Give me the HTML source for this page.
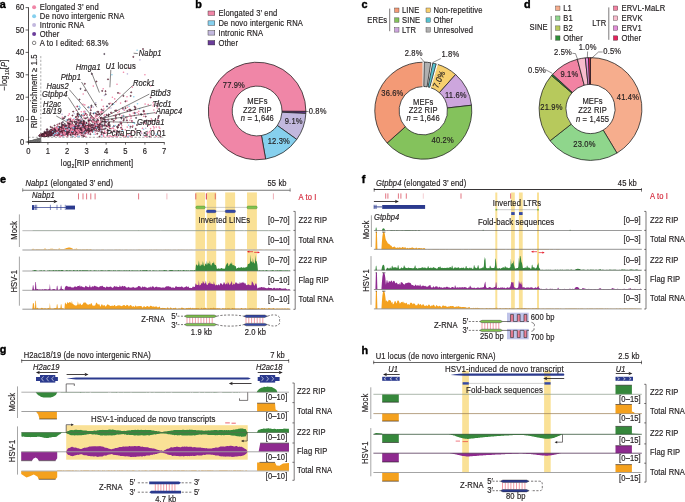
<!DOCTYPE html>
<html><head><meta charset="utf-8"><style>
html,body{margin:0;padding:0;background:#fff;width:685px;height:502px;overflow:hidden}
svg{display:block;will-change:transform;font-family:"Liberation Sans",sans-serif}
</style></head><body>
<svg width="685" height="502" viewBox="0 0 685 502">
<rect width="685" height="502" fill="#fff"/>
<text x="-0.30" y="7.90" font-size="10.8" font-weight="bold" fill="#000" stroke="#000" stroke-width="0.4">a</text>
<text x="195.20" y="7.70" font-size="10.8" font-weight="bold" fill="#000" stroke="#000" stroke-width="0.4">b</text>
<text x="361.60" y="7.70" font-size="10.8" font-weight="bold" fill="#000" stroke="#000" stroke-width="0.4">c</text>
<text x="524.00" y="7.70" font-size="10.8" font-weight="bold" fill="#000" stroke="#000" stroke-width="0.4">d</text>
<text x="-0.10" y="182.80" font-size="10.8" font-weight="bold" fill="#000" stroke="#000" stroke-width="0.4">e</text>
<text x="361.80" y="182.50" font-size="10.8" font-weight="bold" fill="#000" stroke="#000" stroke-width="0.4">f</text>
<text x="-0.20" y="353.40" font-size="10.8" font-weight="bold" fill="#000" stroke="#000" stroke-width="0.4">g</text>
<text x="361.60" y="354.20" font-size="10.8" font-weight="bold" fill="#000" stroke="#000" stroke-width="0.4">h</text>
<circle cx="34.10" cy="7.30" r="2.00" fill="#f086a7" stroke="none" stroke-width="0"/>
<text x="39.80" y="10.30" font-size="7.6" text-anchor="start" fill="#231f20" stroke="#231f20" stroke-width="0.16" letter-spacing="0.15" transform="matrix(1 0 0 1.12 0 -1.236)">Elongated 3’ end</text>
<circle cx="34.10" cy="16.20" r="2.00" fill="#86d0ee" stroke="none" stroke-width="0"/>
<text x="39.80" y="19.20" font-size="7.6" text-anchor="start" fill="#231f20" stroke="#231f20" stroke-width="0.16" letter-spacing="0.15" transform="matrix(1 0 0 1.12 0 -2.304)">De novo intergenic RNA</text>
<circle cx="34.10" cy="25.10" r="2.00" fill="#c2b8de" stroke="none" stroke-width="0"/>
<text x="39.80" y="28.10" font-size="7.6" text-anchor="start" fill="#231f20" stroke="#231f20" stroke-width="0.16" letter-spacing="0.15" transform="matrix(1 0 0 1.12 0 -3.372)">Intronic RNA</text>
<circle cx="34.10" cy="34.00" r="2.00" fill="#6b3d9b" stroke="none" stroke-width="0"/>
<text x="39.80" y="37.00" font-size="7.6" text-anchor="start" fill="#231f20" stroke="#231f20" stroke-width="0.16" letter-spacing="0.15" transform="matrix(1 0 0 1.12 0 -4.440)">Other</text>
<circle cx="34.10" cy="42.90" r="1.75" fill="none" stroke="#231f20" stroke-width="0.55"/>
<text x="39.80" y="45.90" font-size="7.6" text-anchor="start" fill="#231f20" stroke="#231f20" stroke-width="0.16" letter-spacing="0.15" transform="matrix(1 0 0 1.12 0 -5.508)">A to I edited: 68.3%</text>
<style>.g{r:0.65px;fill:#8a8a8a;stroke:#555;stroke-width:0.25px}.ep,.eb,.el,.eu{r:0.58px;stroke:#3a1624;stroke-width:0.6px}.ep{fill:#c86a88}.eb{fill:#6aa8c4}.el{fill:#a89ac0}.eu{fill:#6b3d9b}.np,.nb,.nl,.nu{r:0.8px}.np{fill:#f086a7}.nb{fill:#86d0ee}.nl{fill:#c2b8de}.nu{fill:#6b3d9b}</style>
<g><circle class="g" cx="38.2" cy="139.6"/><circle class="g" cx="34.7" cy="141.4"/><circle class="g" cx="29.1" cy="141.9"/><circle class="g" cx="33.4" cy="141.9"/><circle class="g" cx="29.1" cy="141.8"/><circle class="g" cx="36.3" cy="141.4"/><circle class="g" cx="33.7" cy="140.5"/><circle class="g" cx="39.3" cy="139.2"/><circle class="g" cx="33.2" cy="141.3"/><circle class="g" cx="36.6" cy="141.8"/><circle class="g" cx="35.2" cy="141.4"/><circle class="g" cx="39.1" cy="141.7"/><circle class="g" cx="36.7" cy="139.9"/><circle class="g" cx="31.2" cy="141.3"/><circle class="g" cx="39.0" cy="141.8"/><circle class="g" cx="37.0" cy="141.9"/><circle class="g" cx="34.6" cy="141.2"/><circle class="g" cx="30.9" cy="141.7"/><circle class="g" cx="38.2" cy="141.0"/><circle class="g" cx="30.3" cy="141.6"/><circle class="g" cx="33.9" cy="140.7"/><circle class="g" cx="31.3" cy="141.7"/><circle class="g" cx="38.1" cy="140.5"/><circle class="g" cx="34.6" cy="141.5"/><circle class="g" cx="28.7" cy="142.0"/><circle class="g" cx="29.5" cy="141.7"/><circle class="g" cx="32.9" cy="140.7"/><circle class="g" cx="33.3" cy="140.6"/><circle class="g" cx="35.2" cy="141.5"/><circle class="g" cx="37.4" cy="140.2"/><circle class="g" cx="36.7" cy="140.8"/><circle class="g" cx="31.2" cy="141.5"/><circle class="g" cx="29.8" cy="141.7"/><circle class="g" cx="36.1" cy="141.1"/><circle class="g" cx="38.1" cy="141.4"/><circle class="g" cx="33.2" cy="140.9"/><circle class="g" cx="33.1" cy="141.0"/><circle class="g" cx="35.9" cy="139.9"/><circle class="g" cx="40.4" cy="139.4"/><circle class="g" cx="38.2" cy="141.5"/><circle class="g" cx="37.1" cy="139.8"/><circle class="g" cx="33.3" cy="141.2"/><circle class="g" cx="34.3" cy="140.3"/><circle class="g" cx="32.3" cy="141.5"/><circle class="g" cx="28.5" cy="142.0"/><circle class="g" cx="36.1" cy="139.9"/><circle class="g" cx="39.6" cy="140.8"/><circle class="g" cx="40.4" cy="141.2"/><circle class="g" cx="38.4" cy="141.4"/><circle class="g" cx="33.4" cy="141.8"/><circle class="g" cx="38.8" cy="139.4"/><circle class="g" cx="30.2" cy="141.7"/><circle class="g" cx="31.6" cy="141.5"/><circle class="g" cx="35.2" cy="141.7"/><circle class="g" cx="38.9" cy="141.0"/><circle class="g" cx="33.9" cy="141.8"/><circle class="g" cx="28.5" cy="142.0"/><circle class="g" cx="32.6" cy="140.9"/><circle class="g" cx="39.2" cy="140.4"/><circle class="g" cx="34.0" cy="140.9"/><circle class="g" cx="38.8" cy="140.9"/><circle class="g" cx="38.0" cy="140.8"/><circle class="g" cx="35.6" cy="140.4"/><circle class="g" cx="34.5" cy="140.7"/><circle class="g" cx="36.9" cy="141.9"/><circle class="g" cx="29.0" cy="142.0"/><circle class="g" cx="31.1" cy="141.8"/><circle class="g" cx="29.1" cy="142.0"/><circle class="g" cx="35.7" cy="140.1"/><circle class="g" cx="32.7" cy="141.5"/><circle class="g" cx="33.5" cy="141.0"/><circle class="g" cx="37.9" cy="139.3"/><circle class="g" cx="33.0" cy="141.0"/><circle class="g" cx="32.6" cy="141.0"/><circle class="g" cx="31.3" cy="141.3"/><circle class="g" cx="34.6" cy="140.7"/><circle class="g" cx="34.9" cy="141.3"/><circle class="g" cx="34.4" cy="141.8"/><circle class="g" cx="29.0" cy="141.9"/><circle class="g" cx="34.2" cy="140.6"/><circle class="g" cx="28.7" cy="142.0"/><circle class="g" cx="34.4" cy="140.9"/><circle class="g" cx="37.3" cy="140.6"/><circle class="g" cx="35.3" cy="141.0"/><circle class="g" cx="35.9" cy="141.4"/><circle class="g" cx="35.1" cy="140.6"/><circle class="g" cx="30.8" cy="141.3"/><circle class="g" cx="37.5" cy="139.4"/><circle class="g" cx="32.0" cy="141.5"/><circle class="g" cx="31.6" cy="141.9"/><circle class="g" cx="28.7" cy="142.0"/><circle class="g" cx="38.9" cy="141.4"/><circle class="g" cx="36.8" cy="141.3"/><circle class="g" cx="29.3" cy="141.9"/><circle class="g" cx="36.7" cy="140.7"/><circle class="g" cx="35.1" cy="141.1"/><circle class="g" cx="31.8" cy="141.5"/><circle class="g" cx="39.6" cy="141.2"/><circle class="g" cx="37.3" cy="141.3"/><circle class="g" cx="30.8" cy="141.8"/><circle class="g" cx="29.6" cy="141.7"/><circle class="g" cx="32.9" cy="141.7"/><circle class="g" cx="28.5" cy="142.0"/><circle class="g" cx="31.1" cy="141.7"/><circle class="g" cx="35.7" cy="139.9"/><circle class="g" cx="39.2" cy="141.1"/><circle class="g" cx="35.9" cy="140.0"/><circle class="g" cx="29.7" cy="141.7"/><circle class="g" cx="33.3" cy="140.9"/><circle class="g" cx="32.4" cy="141.3"/><circle class="g" cx="34.6" cy="141.7"/><circle class="g" cx="37.6" cy="139.7"/><circle class="g" cx="34.3" cy="141.3"/><circle class="g" cx="39.9" cy="140.6"/><circle class="g" cx="39.1" cy="140.6"/><circle class="g" cx="33.0" cy="141.5"/><circle class="g" cx="29.2" cy="141.9"/><circle class="g" cx="31.3" cy="141.9"/><circle class="g" cx="35.0" cy="141.1"/><circle class="g" cx="28.8" cy="142.0"/><circle class="g" cx="39.6" cy="141.4"/><circle class="g" cx="33.0" cy="140.7"/><circle class="g" cx="29.9" cy="141.8"/><circle class="g" cx="38.1" cy="141.8"/><circle class="g" cx="29.3" cy="141.8"/><circle class="g" cx="36.7" cy="141.3"/><circle class="g" cx="34.3" cy="141.5"/><circle class="g" cx="39.2" cy="138.9"/><circle class="g" cx="29.4" cy="141.9"/><circle class="g" cx="30.7" cy="141.7"/><circle class="g" cx="37.4" cy="140.1"/><circle class="g" cx="30.8" cy="141.8"/><circle class="g" cx="33.6" cy="141.4"/><circle class="g" cx="36.7" cy="140.0"/><circle class="g" cx="32.5" cy="141.4"/><circle class="g" cx="29.3" cy="141.9"/><circle class="g" cx="39.9" cy="140.2"/><circle class="g" cx="35.2" cy="140.8"/><circle class="g" cx="35.3" cy="140.3"/><circle class="g" cx="31.6" cy="141.7"/><circle class="g" cx="39.2" cy="140.3"/><circle class="g" cx="40.0" cy="141.4"/><circle class="g" cx="37.9" cy="140.6"/><circle class="g" cx="34.2" cy="140.5"/><circle class="g" cx="30.1" cy="141.7"/><circle class="g" cx="31.5" cy="141.7"/><circle class="g" cx="38.3" cy="140.8"/><circle class="g" cx="37.9" cy="141.9"/><circle class="g" cx="40.5" cy="138.5"/><circle class="g" cx="36.7" cy="141.4"/><circle class="g" cx="36.4" cy="141.5"/><circle class="g" cx="33.0" cy="141.9"/><circle class="g" cx="29.3" cy="142.0"/><circle class="g" cx="30.7" cy="141.4"/><circle class="g" cx="31.4" cy="141.3"/><circle class="g" cx="28.6" cy="142.0"/><circle class="g" cx="29.2" cy="141.8"/><circle class="g" cx="38.3" cy="141.8"/><circle class="g" cx="39.7" cy="141.1"/><circle class="g" cx="31.7" cy="141.4"/><circle class="g" cx="31.0" cy="141.3"/><circle class="g" cx="32.9" cy="141.2"/><circle class="g" cx="35.4" cy="141.4"/><circle class="g" cx="37.3" cy="139.4"/><circle class="g" cx="35.7" cy="141.7"/><circle class="g" cx="38.2" cy="140.0"/><circle class="g" cx="34.4" cy="140.8"/><circle class="g" cx="31.6" cy="141.7"/><circle class="g" cx="34.7" cy="141.8"/><circle class="g" cx="35.6" cy="141.5"/><circle class="g" cx="31.6" cy="141.2"/><circle class="g" cx="35.6" cy="141.4"/><circle class="g" cx="36.9" cy="139.5"/><circle class="g" cx="39.3" cy="139.4"/><circle class="g" cx="32.5" cy="141.3"/><circle class="g" cx="35.5" cy="141.7"/><circle class="g" cx="36.8" cy="140.7"/><circle class="g" cx="34.8" cy="140.6"/><circle class="g" cx="29.4" cy="141.9"/><circle class="g" cx="40.4" cy="140.8"/><circle class="g" cx="31.6" cy="141.9"/><circle class="g" cx="32.3" cy="141.3"/><circle class="g" cx="29.0" cy="142.0"/><circle class="g" cx="31.6" cy="141.8"/><circle class="g" cx="38.0" cy="139.2"/><circle class="g" cx="39.5" cy="140.5"/><circle class="g" cx="29.3" cy="141.9"/><circle class="g" cx="34.8" cy="141.2"/><circle class="g" cx="37.3" cy="140.0"/><circle class="g" cx="39.3" cy="140.4"/><circle class="g" cx="31.4" cy="141.2"/><circle class="g" cx="39.1" cy="141.5"/><circle class="g" cx="31.0" cy="141.5"/><circle class="g" cx="38.4" cy="139.1"/><circle class="g" cx="28.8" cy="142.0"/><circle class="g" cx="33.6" cy="141.1"/><circle class="g" cx="37.9" cy="140.4"/><circle class="g" cx="34.7" cy="141.5"/><circle class="g" cx="36.3" cy="140.6"/><circle class="g" cx="39.9" cy="141.2"/><circle class="g" cx="30.0" cy="141.8"/><circle class="g" cx="32.4" cy="141.4"/><circle class="g" cx="30.6" cy="141.6"/><circle class="g" cx="38.4" cy="141.9"/><circle class="g" cx="39.4" cy="141.6"/><circle class="g" cx="32.2" cy="141.4"/><circle class="g" cx="33.6" cy="141.6"/><circle class="g" cx="37.3" cy="139.8"/><circle class="g" cx="31.2" cy="141.8"/><circle class="g" cx="34.7" cy="141.7"/><circle class="g" cx="39.8" cy="139.1"/><circle class="g" cx="38.5" cy="140.7"/><circle class="g" cx="38.0" cy="140.8"/><circle class="g" cx="34.0" cy="141.8"/><circle class="g" cx="29.0" cy="141.9"/><circle class="g" cx="30.8" cy="141.3"/><circle class="g" cx="35.3" cy="140.8"/><circle class="g" cx="39.3" cy="141.0"/><circle class="g" cx="28.6" cy="142.0"/><circle class="g" cx="34.0" cy="141.7"/><circle class="g" cx="31.9" cy="141.2"/><circle class="g" cx="33.0" cy="141.5"/><circle class="g" cx="31.3" cy="141.5"/><circle class="g" cx="40.5" cy="141.3"/><circle class="g" cx="38.6" cy="139.6"/><circle class="g" cx="35.7" cy="140.8"/><circle class="g" cx="34.8" cy="141.7"/><circle class="g" cx="35.3" cy="140.0"/><circle class="g" cx="37.3" cy="140.7"/><circle class="g" cx="33.8" cy="140.6"/><circle class="g" cx="28.6" cy="142.0"/><circle class="g" cx="40.0" cy="139.7"/><circle class="g" cx="38.5" cy="140.4"/><circle class="g" cx="29.0" cy="141.9"/><circle class="g" cx="36.1" cy="141.7"/><circle class="g" cx="34.3" cy="140.4"/><circle class="g" cx="29.2" cy="142.0"/><circle class="g" cx="29.7" cy="141.7"/><circle class="g" cx="39.2" cy="141.4"/><circle class="g" cx="38.7" cy="141.2"/><circle class="g" cx="35.0" cy="140.5"/><circle class="g" cx="29.9" cy="141.8"/><circle class="g" cx="38.9" cy="140.8"/><circle class="g" cx="38.1" cy="140.6"/><circle class="g" cx="39.8" cy="140.6"/><circle class="g" cx="38.4" cy="141.7"/><circle class="g" cx="32.6" cy="141.8"/><circle class="g" cx="33.4" cy="141.4"/><circle class="g" cx="31.4" cy="141.6"/><circle class="g" cx="36.7" cy="140.5"/><circle class="g" cx="31.4" cy="141.4"/><circle class="g" cx="37.0" cy="140.9"/><circle class="g" cx="34.0" cy="141.7"/><circle class="g" cx="38.5" cy="140.9"/><circle class="g" cx="32.0" cy="141.0"/><circle class="g" cx="32.2" cy="141.7"/><circle class="g" cx="33.1" cy="141.3"/><circle class="g" cx="35.9" cy="141.1"/><circle class="g" cx="36.7" cy="141.9"/><circle class="g" cx="39.6" cy="140.4"/><circle class="eb" cx="45.8" cy="135.0"/><circle class="ep" cx="88.6" cy="131.9"/><circle class="ep" cx="53.4" cy="134.3"/><circle class="ep" cx="59.4" cy="134.6"/><circle class="ep" cx="56.4" cy="130.8"/><circle class="eb" cx="84.5" cy="129.7"/><circle class="eb" cx="57.1" cy="134.7"/><circle class="el" cx="52.8" cy="135.0"/><circle class="eu" cx="93.2" cy="127.2"/><circle class="ep" cx="95.2" cy="124.6"/><circle class="eb" cx="39.7" cy="135.8"/><circle class="eb" cx="65.1" cy="131.9"/><circle class="ep" cx="52.7" cy="133.6"/><circle class="ep" cx="43.0" cy="135.5"/><circle class="ep" cx="67.2" cy="132.5"/><circle class="ep" cx="57.0" cy="131.4"/><circle class="ep" cx="73.6" cy="129.5"/><circle class="ep" cx="44.3" cy="134.3"/><circle class="ep" cx="48.0" cy="134.8"/><circle class="np" cx="50.0" cy="134.7"/><circle class="eb" cx="42.5" cy="135.3"/><circle class="ep" cx="80.6" cy="128.0"/><circle class="ep" cx="48.0" cy="134.3"/><circle class="eb" cx="75.4" cy="130.2"/><circle class="ep" cx="43.1" cy="135.5"/><circle class="ep" cx="109.2" cy="126.5"/><circle class="eb" cx="40.8" cy="135.0"/><circle class="ep" cx="81.3" cy="129.5"/><circle class="ep" cx="45.0" cy="133.5"/><circle class="np" cx="57.8" cy="130.9"/><circle class="ep" cx="95.5" cy="128.9"/><circle class="ep" cx="47.6" cy="134.5"/><circle class="eb" cx="55.2" cy="133.6"/><circle class="ep" cx="90.1" cy="128.9"/><circle class="ep" cx="49.5" cy="134.0"/><circle class="np" cx="61.7" cy="134.3"/><circle class="ep" cx="41.7" cy="135.3"/><circle class="ep" cx="50.0" cy="134.6"/><circle class="el" cx="46.7" cy="134.3"/><circle class="ep" cx="81.5" cy="131.1"/><circle class="ep" cx="63.4" cy="132.9"/><circle class="ep" cx="78.6" cy="132.2"/><circle class="ep" cx="60.8" cy="130.3"/><circle class="el" cx="85.5" cy="123.6"/><circle class="ep" cx="46.3" cy="133.2"/><circle class="ep" cx="53.5" cy="133.1"/><circle class="ep" cx="61.8" cy="131.6"/><circle class="el" cx="58.6" cy="133.9"/><circle class="el" cx="46.8" cy="134.9"/><circle class="ep" cx="59.4" cy="132.9"/><circle class="ep" cx="72.2" cy="129.3"/><circle class="ep" cx="57.9" cy="133.7"/><circle class="eb" cx="82.7" cy="128.6"/><circle class="np" cx="44.7" cy="135.4"/><circle class="ep" cx="45.0" cy="134.7"/><circle class="el" cx="96.2" cy="127.1"/><circle class="nb" cx="42.5" cy="135.2"/><circle class="np" cx="100.6" cy="126.7"/><circle class="ep" cx="60.6" cy="132.7"/><circle class="np" cx="45.6" cy="134.0"/><circle class="ep" cx="83.9" cy="128.0"/><circle class="ep" cx="77.5" cy="115.2"/><circle class="ep" cx="53.1" cy="133.1"/><circle class="nb" cx="49.3" cy="132.0"/><circle class="ep" cx="52.4" cy="133.6"/><circle class="ep" cx="61.8" cy="134.3"/><circle class="eb" cx="55.3" cy="134.5"/><circle class="ep" cx="101.7" cy="131.3"/><circle class="el" cx="53.6" cy="132.6"/><circle class="np" cx="45.5" cy="135.5"/><circle class="ep" cx="44.9" cy="132.6"/><circle class="ep" cx="80.7" cy="131.2"/><circle class="ep" cx="67.2" cy="130.2"/><circle class="ep" cx="56.7" cy="133.4"/><circle class="ep" cx="76.2" cy="132.7"/><circle class="el" cx="55.3" cy="132.6"/><circle class="ep" cx="69.9" cy="128.7"/><circle class="ep" cx="42.2" cy="135.2"/><circle class="ep" cx="58.7" cy="132.3"/><circle class="ep" cx="92.2" cy="128.2"/><circle class="np" cx="47.4" cy="133.8"/><circle class="ep" cx="53.1" cy="131.7"/><circle class="ep" cx="44.9" cy="133.6"/><circle class="ep" cx="68.8" cy="123.6"/><circle class="nb" cx="39.5" cy="136.0"/><circle class="ep" cx="82.2" cy="124.8"/><circle class="el" cx="51.3" cy="135.0"/><circle class="np" cx="60.9" cy="130.1"/><circle class="ep" cx="52.2" cy="133.5"/><circle class="el" cx="47.6" cy="133.6"/><circle class="eb" cx="87.0" cy="132.1"/><circle class="ep" cx="53.2" cy="133.4"/><circle class="ep" cx="86.1" cy="129.5"/><circle class="ep" cx="48.8" cy="133.8"/><circle class="ep" cx="88.4" cy="123.8"/><circle class="ep" cx="59.3" cy="135.0"/><circle class="ep" cx="59.6" cy="132.8"/><circle class="np" cx="80.7" cy="130.8"/><circle class="eb" cx="60.8" cy="132.7"/><circle class="np" cx="56.9" cy="132.7"/><circle class="ep" cx="54.7" cy="134.9"/><circle class="ep" cx="52.8" cy="133.6"/><circle class="ep" cx="61.6" cy="133.5"/><circle class="np" cx="66.8" cy="127.9"/><circle class="ep" cx="76.2" cy="125.5"/><circle class="ep" cx="47.2" cy="133.8"/><circle class="ep" cx="58.6" cy="133.3"/><circle class="eb" cx="53.4" cy="134.2"/><circle class="ep" cx="49.7" cy="132.1"/><circle class="ep" cx="41.0" cy="135.6"/><circle class="ep" cx="51.1" cy="133.4"/><circle class="ep" cx="70.3" cy="131.2"/><circle class="ep" cx="51.2" cy="133.7"/><circle class="eb" cx="57.7" cy="132.4"/><circle class="ep" cx="47.4" cy="133.9"/><circle class="ep" cx="71.5" cy="130.7"/><circle class="ep" cx="47.9" cy="132.5"/><circle class="ep" cx="41.2" cy="135.5"/><circle class="ep" cx="73.0" cy="130.9"/><circle class="eb" cx="45.0" cy="135.3"/><circle class="eb" cx="48.6" cy="133.7"/><circle class="ep" cx="46.5" cy="134.9"/><circle class="el" cx="78.1" cy="124.3"/><circle class="eb" cx="70.5" cy="128.6"/><circle class="np" cx="59.5" cy="132.8"/><circle class="ep" cx="49.0" cy="131.8"/><circle class="el" cx="50.3" cy="133.5"/><circle class="ep" cx="45.9" cy="134.7"/><circle class="ep" cx="70.5" cy="130.7"/><circle class="ep" cx="51.0" cy="130.9"/><circle class="ep" cx="43.6" cy="134.2"/><circle class="np" cx="50.5" cy="134.3"/><circle class="nb" cx="42.3" cy="135.0"/><circle class="np" cx="57.8" cy="132.3"/><circle class="ep" cx="43.8" cy="135.4"/><circle class="ep" cx="101.0" cy="126.5"/><circle class="ep" cx="99.3" cy="127.7"/><circle class="el" cx="61.0" cy="132.2"/><circle class="eb" cx="78.8" cy="132.6"/><circle class="ep" cx="68.4" cy="131.7"/><circle class="ep" cx="50.9" cy="133.8"/><circle class="ep" cx="79.2" cy="131.3"/><circle class="ep" cx="84.3" cy="127.0"/><circle class="ep" cx="56.4" cy="132.4"/><circle class="ep" cx="43.4" cy="135.4"/><circle class="ep" cx="54.4" cy="132.5"/><circle class="el" cx="53.6" cy="133.6"/><circle class="ep" cx="61.7" cy="128.9"/><circle class="el" cx="52.7" cy="134.1"/><circle class="ep" cx="56.9" cy="134.5"/><circle class="ep" cx="54.5" cy="134.2"/><circle class="ep" cx="74.7" cy="128.6"/><circle class="nb" cx="67.1" cy="132.2"/><circle class="ep" cx="60.8" cy="130.7"/><circle class="np" cx="51.0" cy="134.2"/><circle class="ep" cx="62.9" cy="133.9"/><circle class="ep" cx="40.9" cy="135.8"/><circle class="ep" cx="75.8" cy="117.1"/><circle class="ep" cx="77.1" cy="132.4"/><circle class="ep" cx="81.8" cy="131.5"/><circle class="ep" cx="62.2" cy="126.8"/><circle class="ep" cx="58.3" cy="133.9"/><circle class="ep" cx="43.6" cy="134.9"/><circle class="ep" cx="68.4" cy="129.1"/><circle class="ep" cx="47.4" cy="134.6"/><circle class="ep" cx="64.8" cy="131.0"/><circle class="ep" cx="68.8" cy="127.6"/><circle class="el" cx="78.6" cy="129.3"/><circle class="ep" cx="52.1" cy="132.9"/><circle class="ep" cx="58.5" cy="131.4"/><circle class="el" cx="43.6" cy="135.3"/><circle class="ep" cx="58.1" cy="131.3"/><circle class="np" cx="76.9" cy="128.7"/><circle class="el" cx="62.2" cy="131.0"/><circle class="ep" cx="50.5" cy="132.1"/><circle class="np" cx="74.4" cy="121.5"/><circle class="ep" cx="48.0" cy="135.2"/><circle class="ep" cx="53.4" cy="132.9"/><circle class="ep" cx="60.2" cy="134.3"/><circle class="el" cx="43.1" cy="135.2"/><circle class="ep" cx="50.4" cy="133.8"/><circle class="nl" cx="46.8" cy="134.6"/><circle class="ep" cx="44.0" cy="135.3"/><circle class="ep" cx="63.8" cy="131.1"/><circle class="ep" cx="42.6" cy="135.0"/><circle class="ep" cx="101.2" cy="122.5"/><circle class="el" cx="63.1" cy="131.6"/><circle class="np" cx="40.9" cy="135.6"/><circle class="ep" cx="57.7" cy="131.6"/><circle class="ep" cx="42.9" cy="134.4"/><circle class="ep" cx="70.0" cy="129.3"/><circle class="ep" cx="65.0" cy="130.7"/><circle class="ep" cx="44.5" cy="135.5"/><circle class="ep" cx="57.5" cy="130.6"/><circle class="el" cx="42.2" cy="135.7"/><circle class="ep" cx="64.9" cy="132.4"/><circle class="ep" cx="47.2" cy="133.8"/><circle class="ep" cx="50.5" cy="134.2"/><circle class="ep" cx="49.0" cy="132.5"/><circle class="np" cx="61.9" cy="131.5"/><circle class="ep" cx="53.7" cy="134.2"/><circle class="ep" cx="59.4" cy="131.8"/><circle class="ep" cx="84.0" cy="129.9"/><circle class="ep" cx="47.3" cy="134.6"/><circle class="np" cx="56.1" cy="134.0"/><circle class="ep" cx="55.3" cy="135.0"/><circle class="nb" cx="49.0" cy="132.5"/><circle class="ep" cx="75.4" cy="132.2"/><circle class="ep" cx="45.0" cy="135.5"/><circle class="el" cx="59.4" cy="135.2"/><circle class="ep" cx="66.0" cy="133.9"/><circle class="ep" cx="59.4" cy="133.3"/><circle class="ep" cx="41.7" cy="135.7"/><circle class="eb" cx="69.6" cy="131.9"/><circle class="ep" cx="49.9" cy="133.2"/><circle class="ep" cx="52.8" cy="133.8"/><circle class="ep" cx="66.2" cy="128.1"/><circle class="ep" cx="43.2" cy="135.1"/><circle class="el" cx="47.1" cy="135.1"/><circle class="eb" cx="70.4" cy="129.0"/><circle class="ep" cx="64.4" cy="132.9"/><circle class="ep" cx="58.7" cy="132.8"/><circle class="eb" cx="74.5" cy="133.3"/><circle class="ep" cx="48.2" cy="133.7"/><circle class="ep" cx="95.9" cy="129.2"/><circle class="eb" cx="90.7" cy="129.3"/><circle class="ep" cx="51.9" cy="133.7"/><circle class="el" cx="61.2" cy="131.2"/><circle class="eb" cx="62.6" cy="134.7"/><circle class="ep" cx="83.0" cy="125.2"/><circle class="ep" cx="70.7" cy="129.9"/><circle class="np" cx="68.9" cy="123.4"/><circle class="ep" cx="40.7" cy="135.6"/><circle class="ep" cx="62.2" cy="133.8"/><circle class="ep" cx="69.6" cy="130.3"/><circle class="ep" cx="69.0" cy="128.6"/><circle class="np" cx="58.8" cy="131.2"/><circle class="ep" cx="44.2" cy="134.3"/><circle class="ep" cx="58.7" cy="130.7"/><circle class="ep" cx="54.4" cy="133.7"/><circle class="np" cx="60.2" cy="133.3"/><circle class="el" cx="65.3" cy="128.2"/><circle class="ep" cx="44.0" cy="135.0"/><circle class="eb" cx="69.6" cy="131.9"/><circle class="el" cx="47.8" cy="134.2"/><circle class="ep" cx="77.7" cy="127.3"/><circle class="ep" cx="45.9" cy="135.2"/><circle class="ep" cx="45.2" cy="133.0"/><circle class="ep" cx="45.6" cy="135.0"/><circle class="ep" cx="111.1" cy="112.5"/><circle class="ep" cx="51.0" cy="134.1"/><circle class="el" cx="45.6" cy="134.7"/><circle class="ep" cx="65.7" cy="129.7"/><circle class="eb" cx="47.3" cy="134.6"/><circle class="np" cx="63.4" cy="130.5"/><circle class="ep" cx="55.0" cy="133.3"/><circle class="eb" cx="74.5" cy="130.3"/><circle class="ep" cx="71.2" cy="133.1"/><circle class="eb" cx="67.6" cy="125.1"/><circle class="ep" cx="66.5" cy="131.2"/><circle class="ep" cx="58.9" cy="133.8"/><circle class="ep" cx="58.7" cy="133.1"/><circle class="np" cx="42.5" cy="134.8"/><circle class="ep" cx="52.7" cy="133.8"/><circle class="ep" cx="61.2" cy="132.2"/><circle class="ep" cx="45.2" cy="134.4"/><circle class="el" cx="62.2" cy="129.9"/><circle class="ep" cx="56.7" cy="130.5"/><circle class="ep" cx="70.4" cy="132.8"/><circle class="ep" cx="43.1" cy="134.8"/><circle class="ep" cx="59.0" cy="133.7"/><circle class="ep" cx="79.0" cy="128.8"/><circle class="eb" cx="55.4" cy="130.3"/><circle class="eb" cx="60.7" cy="131.6"/><circle class="ep" cx="67.7" cy="120.1"/><circle class="ep" cx="50.1" cy="133.8"/><circle class="ep" cx="55.3" cy="130.3"/><circle class="ep" cx="45.3" cy="134.8"/><circle class="ep" cx="45.5" cy="135.6"/><circle class="ep" cx="67.9" cy="132.6"/><circle class="ep" cx="74.8" cy="128.9"/><circle class="ep" cx="48.3" cy="133.4"/><circle class="ep" cx="67.7" cy="134.7"/><circle class="ep" cx="41.8" cy="135.6"/><circle class="ep" cx="56.2" cy="132.3"/><circle class="ep" cx="48.7" cy="134.0"/><circle class="ep" cx="41.9" cy="135.5"/><circle class="nb" cx="41.9" cy="135.7"/><circle class="ep" cx="47.9" cy="134.5"/><circle class="ep" cx="63.7" cy="125.8"/><circle class="ep" cx="83.6" cy="125.8"/><circle class="ep" cx="66.1" cy="131.5"/><circle class="ep" cx="42.0" cy="135.8"/><circle class="ep" cx="66.6" cy="133.2"/><circle class="ep" cx="46.4" cy="134.8"/><circle class="ep" cx="61.6" cy="123.0"/><circle class="ep" cx="58.8" cy="131.9"/><circle class="nl" cx="56.3" cy="132.7"/><circle class="ep" cx="51.0" cy="131.3"/><circle class="eb" cx="94.1" cy="120.8"/><circle class="ep" cx="59.9" cy="133.0"/><circle class="ep" cx="61.4" cy="130.2"/><circle class="nb" cx="78.0" cy="127.6"/><circle class="ep" cx="61.7" cy="134.4"/><circle class="ep" cx="51.6" cy="133.4"/><circle class="ep" cx="52.1" cy="132.8"/><circle class="eb" cx="49.5" cy="134.6"/><circle class="ep" cx="67.9" cy="129.1"/><circle class="eb" cx="44.7" cy="135.3"/><circle class="ep" cx="72.6" cy="127.2"/><circle class="ep" cx="55.8" cy="133.9"/><circle class="el" cx="69.8" cy="122.1"/><circle class="ep" cx="48.7" cy="135.3"/><circle class="ep" cx="108.7" cy="114.4"/><circle class="ep" cx="74.1" cy="128.7"/><circle class="ep" cx="73.0" cy="129.1"/><circle class="el" cx="46.9" cy="135.2"/><circle class="ep" cx="40.3" cy="135.7"/><circle class="eb" cx="62.8" cy="132.2"/><circle class="ep" cx="48.7" cy="135.3"/><circle class="ep" cx="60.9" cy="133.4"/><circle class="el" cx="42.8" cy="135.9"/><circle class="ep" cx="57.7" cy="131.0"/><circle class="np" cx="56.2" cy="133.3"/><circle class="np" cx="83.3" cy="132.9"/><circle class="el" cx="46.6" cy="135.7"/><circle class="ep" cx="59.4" cy="131.6"/><circle class="ep" cx="55.8" cy="134.9"/><circle class="ep" cx="82.1" cy="128.4"/><circle class="el" cx="56.7" cy="134.2"/><circle class="ep" cx="89.6" cy="123.7"/><circle class="ep" cx="59.2" cy="133.0"/><circle class="el" cx="51.8" cy="133.9"/><circle class="ep" cx="70.4" cy="132.4"/><circle class="ep" cx="94.8" cy="129.6"/><circle class="el" cx="49.6" cy="134.7"/><circle class="ep" cx="60.1" cy="134.3"/><circle class="eb" cx="59.2" cy="131.8"/><circle class="ep" cx="48.3" cy="135.2"/><circle class="ep" cx="59.6" cy="127.4"/><circle class="eb" cx="58.4" cy="133.3"/><circle class="ep" cx="98.5" cy="111.9"/><circle class="el" cx="44.1" cy="134.7"/><circle class="el" cx="47.5" cy="134.5"/><circle class="ep" cx="55.1" cy="131.9"/><circle class="ep" cx="61.3" cy="134.1"/><circle class="ep" cx="65.4" cy="131.5"/><circle class="eb" cx="71.3" cy="132.0"/><circle class="ep" cx="44.0" cy="134.6"/><circle class="ep" cx="44.0" cy="133.7"/><circle class="ep" cx="75.1" cy="134.0"/><circle class="ep" cx="80.4" cy="127.4"/><circle class="ep" cx="68.1" cy="129.7"/><circle class="el" cx="58.4" cy="129.9"/><circle class="np" cx="82.4" cy="124.0"/><circle class="eb" cx="75.7" cy="127.7"/><circle class="np" cx="40.6" cy="135.9"/><circle class="eb" cx="58.4" cy="131.4"/><circle class="ep" cx="92.6" cy="128.5"/><circle class="ep" cx="53.8" cy="134.9"/><circle class="el" cx="56.5" cy="133.5"/><circle class="el" cx="45.5" cy="134.6"/><circle class="ep" cx="49.9" cy="134.4"/><circle class="ep" cx="79.8" cy="122.7"/><circle class="ep" cx="62.1" cy="130.3"/><circle class="ep" cx="44.8" cy="134.9"/><circle class="el" cx="53.2" cy="129.4"/><circle class="ep" cx="97.1" cy="126.3"/><circle class="el" cx="76.1" cy="131.9"/><circle class="np" cx="69.8" cy="133.5"/><circle class="ep" cx="41.5" cy="135.6"/><circle class="ep" cx="50.0" cy="135.4"/><circle class="ep" cx="47.1" cy="134.7"/><circle class="ep" cx="55.9" cy="132.5"/><circle class="np" cx="43.9" cy="135.1"/><circle class="ep" cx="49.3" cy="132.4"/><circle class="ep" cx="46.7" cy="135.4"/><circle class="ep" cx="52.2" cy="133.6"/><circle class="ep" cx="83.2" cy="121.3"/><circle class="np" cx="57.8" cy="132.8"/><circle class="ep" cx="45.7" cy="132.4"/><circle class="ep" cx="73.9" cy="127.0"/><circle class="ep" cx="45.6" cy="134.9"/><circle class="ep" cx="99.3" cy="125.3"/><circle class="el" cx="65.4" cy="133.4"/><circle class="ep" cx="68.6" cy="131.0"/><circle class="ep" cx="90.0" cy="115.0"/><circle class="ep" cx="60.5" cy="128.9"/><circle class="ep" cx="61.0" cy="132.3"/><circle class="ep" cx="55.1" cy="133.3"/><circle class="el" cx="75.6" cy="129.5"/><circle class="ep" cx="72.4" cy="130.9"/><circle class="ep" cx="72.5" cy="127.1"/><circle class="ep" cx="56.1" cy="134.6"/><circle class="el" cx="61.8" cy="130.4"/><circle class="eu" cx="43.2" cy="135.6"/><circle class="ep" cx="45.7" cy="134.9"/><circle class="np" cx="45.3" cy="134.7"/><circle class="ep" cx="51.5" cy="133.8"/><circle class="ep" cx="47.0" cy="134.3"/><circle class="ep" cx="46.9" cy="134.8"/><circle class="ep" cx="80.8" cy="130.4"/><circle class="ep" cx="47.8" cy="134.2"/><circle class="eb" cx="83.0" cy="127.7"/><circle class="el" cx="46.8" cy="129.4"/><circle class="ep" cx="68.4" cy="132.6"/><circle class="ep" cx="48.6" cy="133.6"/><circle class="ep" cx="60.7" cy="128.1"/><circle class="np" cx="70.0" cy="130.9"/><circle class="ep" cx="43.7" cy="135.6"/><circle class="nu" cx="50.1" cy="135.0"/><circle class="ep" cx="44.2" cy="135.6"/><circle class="ep" cx="40.0" cy="135.7"/><circle class="ep" cx="49.6" cy="134.0"/><circle class="ep" cx="83.6" cy="121.2"/><circle class="eb" cx="52.2" cy="133.7"/><circle class="ep" cx="61.2" cy="133.1"/><circle class="ep" cx="44.0" cy="134.3"/><circle class="nl" cx="55.4" cy="133.4"/><circle class="ep" cx="66.4" cy="129.2"/><circle class="ep" cx="50.3" cy="134.8"/><circle class="eb" cx="49.1" cy="134.4"/><circle class="ep" cx="45.6" cy="134.6"/><circle class="np" cx="80.1" cy="129.2"/><circle class="ep" cx="53.3" cy="132.9"/><circle class="el" cx="104.2" cy="121.9"/><circle class="np" cx="74.7" cy="129.0"/><circle class="np" cx="93.3" cy="128.9"/><circle class="el" cx="68.0" cy="125.9"/><circle class="ep" cx="86.6" cy="127.9"/><circle class="ep" cx="55.9" cy="133.6"/><circle class="eb" cx="71.4" cy="131.0"/><circle class="eb" cx="60.1" cy="128.5"/><circle class="ep" cx="53.4" cy="134.4"/><circle class="ep" cx="71.6" cy="127.4"/><circle class="eb" cx="71.7" cy="128.3"/><circle class="ep" cx="46.5" cy="134.4"/><circle class="el" cx="48.7" cy="134.7"/><circle class="ep" cx="52.2" cy="134.4"/><circle class="ep" cx="48.5" cy="134.7"/><circle class="nl" cx="46.4" cy="134.9"/><circle class="ep" cx="41.1" cy="135.7"/><circle class="el" cx="65.4" cy="130.4"/><circle class="ep" cx="66.4" cy="131.3"/><circle class="ep" cx="42.9" cy="135.4"/><circle class="eu" cx="93.5" cy="113.5"/><circle class="ep" cx="66.7" cy="132.3"/><circle class="el" cx="63.6" cy="130.6"/><circle class="eb" cx="86.1" cy="123.0"/><circle class="eb" cx="108.5" cy="125.2"/><circle class="ep" cx="50.5" cy="135.0"/><circle class="el" cx="69.9" cy="129.9"/><circle class="ep" cx="45.3" cy="133.8"/><circle class="np" cx="54.0" cy="134.5"/><circle class="ep" cx="44.3" cy="133.8"/><circle class="np" cx="51.3" cy="131.9"/><circle class="ep" cx="39.4" cy="136.0"/><circle class="eb" cx="47.9" cy="133.9"/><circle class="ep" cx="78.3" cy="129.7"/><circle class="el" cx="46.2" cy="134.8"/><circle class="ep" cx="47.5" cy="133.5"/><circle class="eb" cx="50.6" cy="135.3"/><circle class="ep" cx="56.6" cy="131.2"/><circle class="ep" cx="80.4" cy="129.2"/><circle class="ep" cx="62.3" cy="127.8"/><circle class="ep" cx="49.5" cy="134.5"/><circle class="ep" cx="62.5" cy="125.1"/><circle class="el" cx="47.5" cy="133.8"/><circle class="ep" cx="108.9" cy="125.2"/><circle class="ep" cx="52.1" cy="133.9"/><circle class="np" cx="63.8" cy="130.4"/><circle class="ep" cx="62.9" cy="130.4"/><circle class="ep" cx="53.6" cy="130.1"/><circle class="np" cx="44.1" cy="134.9"/><circle class="ep" cx="41.2" cy="135.9"/><circle class="ep" cx="65.7" cy="130.9"/><circle class="el" cx="76.0" cy="124.0"/><circle class="ep" cx="53.7" cy="133.4"/><circle class="eb" cx="62.8" cy="133.1"/><circle class="ep" cx="45.9" cy="134.9"/><circle class="ep" cx="66.5" cy="133.5"/><circle class="ep" cx="60.4" cy="133.6"/><circle class="nl" cx="64.8" cy="130.2"/><circle class="el" cx="59.2" cy="133.5"/><circle class="ep" cx="57.8" cy="131.1"/><circle class="el" cx="48.1" cy="134.8"/><circle class="ep" cx="71.4" cy="130.6"/><circle class="eb" cx="59.7" cy="131.5"/><circle class="ep" cx="55.0" cy="133.3"/><circle class="ep" cx="78.5" cy="130.1"/><circle class="eb" cx="42.6" cy="135.7"/><circle class="ep" cx="48.8" cy="134.3"/><circle class="np" cx="90.8" cy="130.7"/><circle class="ep" cx="48.0" cy="134.6"/><circle class="ep" cx="68.7" cy="124.0"/><circle class="ep" cx="83.5" cy="126.6"/><circle class="ep" cx="60.4" cy="128.4"/><circle class="eb" cx="51.9" cy="132.2"/><circle class="ep" cx="51.3" cy="133.0"/><circle class="ep" cx="77.0" cy="125.1"/><circle class="el" cx="51.9" cy="132.9"/><circle class="ep" cx="59.3" cy="133.5"/><circle class="ep" cx="41.4" cy="135.6"/><circle class="ep" cx="64.1" cy="133.3"/><circle class="ep" cx="48.4" cy="133.3"/><circle class="nl" cx="48.0" cy="132.2"/><circle class="ep" cx="45.5" cy="135.2"/><circle class="ep" cx="78.1" cy="130.0"/><circle class="ep" cx="51.8" cy="130.6"/><circle class="ep" cx="61.0" cy="132.4"/><circle class="ep" cx="50.7" cy="132.3"/><circle class="ep" cx="42.3" cy="134.7"/><circle class="ep" cx="53.7" cy="131.7"/><circle class="ep" cx="56.6" cy="130.7"/><circle class="ep" cx="67.0" cy="130.4"/><circle class="ep" cx="51.2" cy="134.1"/><circle class="ep" cx="74.9" cy="128.2"/><circle class="ep" cx="73.1" cy="131.4"/><circle class="eu" cx="48.5" cy="135.5"/><circle class="ep" cx="71.1" cy="125.9"/><circle class="ep" cx="51.9" cy="134.5"/><circle class="eb" cx="47.0" cy="134.4"/><circle class="ep" cx="57.1" cy="132.5"/><circle class="eb" cx="60.2" cy="135.2"/><circle class="ep" cx="48.5" cy="132.9"/><circle class="ep" cx="90.3" cy="126.7"/><circle class="ep" cx="55.0" cy="133.1"/><circle class="ep" cx="49.1" cy="134.3"/><circle class="ep" cx="61.7" cy="132.5"/><circle class="ep" cx="75.0" cy="132.5"/><circle class="ep" cx="64.3" cy="131.0"/><circle class="ep" cx="97.2" cy="127.3"/><circle class="ep" cx="74.8" cy="131.2"/><circle class="ep" cx="43.0" cy="135.1"/><circle class="el" cx="62.6" cy="133.7"/><circle class="eb" cx="67.0" cy="132.8"/><circle class="el" cx="45.4" cy="135.3"/><circle class="ep" cx="70.9" cy="133.1"/><circle class="ep" cx="46.5" cy="133.6"/><circle class="el" cx="73.3" cy="128.4"/><circle class="ep" cx="44.8" cy="135.4"/><circle class="ep" cx="61.2" cy="130.2"/><circle class="ep" cx="56.4" cy="130.1"/><circle class="ep" cx="47.1" cy="133.6"/><circle class="ep" cx="56.7" cy="133.6"/><circle class="ep" cx="46.1" cy="134.9"/><circle class="eb" cx="50.7" cy="129.9"/><circle class="eb" cx="52.6" cy="133.9"/><circle class="ep" cx="42.5" cy="135.6"/><circle class="ep" cx="49.9" cy="134.7"/><circle class="ep" cx="41.2" cy="136.0"/><circle class="ep" cx="93.0" cy="119.8"/><circle class="ep" cx="49.0" cy="134.5"/><circle class="ep" cx="55.4" cy="130.0"/><circle class="ep" cx="58.6" cy="133.8"/><circle class="eb" cx="54.0" cy="132.7"/><circle class="ep" cx="76.0" cy="125.0"/><circle class="eb" cx="42.5" cy="135.6"/><circle class="ep" cx="66.3" cy="131.0"/><circle class="ep" cx="48.3" cy="133.5"/><circle class="ep" cx="56.3" cy="132.9"/><circle class="ep" cx="66.7" cy="130.2"/><circle class="el" cx="62.0" cy="130.6"/><circle class="ep" cx="55.9" cy="132.7"/><circle class="ep" cx="55.1" cy="133.6"/><circle class="ep" cx="58.3" cy="132.3"/><circle class="ep" cx="59.5" cy="129.6"/><circle class="ep" cx="56.3" cy="134.5"/><circle class="ep" cx="72.0" cy="124.2"/><circle class="ep" cx="83.7" cy="124.5"/><circle class="ep" cx="78.1" cy="120.6"/><circle class="ep" cx="51.1" cy="133.6"/><circle class="el" cx="72.9" cy="133.1"/><circle class="ep" cx="58.3" cy="132.0"/><circle class="ep" cx="57.6" cy="132.8"/><circle class="el" cx="41.2" cy="134.9"/><circle class="ep" cx="44.8" cy="135.3"/><circle class="np" cx="77.4" cy="133.8"/><circle class="ep" cx="59.0" cy="129.2"/><circle class="ep" cx="50.1" cy="134.5"/><circle class="ep" cx="44.3" cy="135.5"/><circle class="ep" cx="50.1" cy="132.8"/><circle class="eb" cx="52.3" cy="134.1"/><circle class="ep" cx="46.6" cy="134.8"/><circle class="el" cx="75.3" cy="130.7"/><circle class="ep" cx="93.0" cy="125.7"/><circle class="ep" cx="50.3" cy="132.5"/><circle class="np" cx="78.5" cy="121.0"/><circle class="ep" cx="43.8" cy="135.0"/><circle class="ep" cx="59.9" cy="130.7"/><circle class="el" cx="99.0" cy="129.4"/><circle class="eb" cx="58.1" cy="132.8"/><circle class="ep" cx="42.3" cy="135.1"/><circle class="ep" cx="106.3" cy="125.8"/><circle class="ep" cx="74.9" cy="131.2"/><circle class="eb" cx="54.2" cy="132.8"/><circle class="ep" cx="76.7" cy="131.8"/><circle class="ep" cx="42.8" cy="135.4"/><circle class="ep" cx="44.9" cy="134.8"/><circle class="ep" cx="99.6" cy="130.1"/><circle class="ep" cx="69.1" cy="128.8"/><circle class="ep" cx="108.5" cy="115.9"/><circle class="ep" cx="46.9" cy="132.9"/><circle class="ep" cx="49.2" cy="135.0"/><circle class="ep" cx="90.7" cy="118.2"/><circle class="eb" cx="58.9" cy="131.4"/><circle class="ep" cx="76.9" cy="131.1"/><circle class="ep" cx="48.0" cy="134.5"/><circle class="ep" cx="56.1" cy="134.5"/><circle class="ep" cx="74.1" cy="129.0"/><circle class="ep" cx="46.9" cy="135.0"/><circle class="np" cx="78.6" cy="124.0"/><circle class="ep" cx="71.5" cy="132.7"/><circle class="np" cx="58.5" cy="131.3"/><circle class="ep" cx="81.1" cy="126.1"/><circle class="np" cx="68.7" cy="131.3"/><circle class="ep" cx="47.4" cy="134.5"/><circle class="nl" cx="45.2" cy="135.3"/><circle class="el" cx="68.1" cy="131.1"/><circle class="eb" cx="88.5" cy="120.5"/><circle class="ep" cx="46.7" cy="135.1"/><circle class="np" cx="46.4" cy="134.7"/><circle class="ep" cx="46.6" cy="134.6"/><circle class="eb" cx="63.5" cy="133.6"/><circle class="ep" cx="59.8" cy="132.7"/><circle class="eb" cx="104.6" cy="119.4"/><circle class="ep" cx="57.7" cy="133.2"/><circle class="el" cx="59.2" cy="133.4"/><circle class="ep" cx="61.2" cy="130.7"/><circle class="ep" cx="61.3" cy="134.5"/><circle class="ep" cx="49.4" cy="130.8"/><circle class="eb" cx="81.5" cy="130.1"/><circle class="ep" cx="59.4" cy="123.7"/><circle class="ep" cx="48.0" cy="134.0"/><circle class="el" cx="58.4" cy="131.5"/><circle class="np" cx="68.2" cy="127.6"/><circle class="ep" cx="57.0" cy="132.9"/><circle class="ep" cx="56.2" cy="129.7"/><circle class="ep" cx="51.5" cy="130.0"/><circle class="ep" cx="74.1" cy="126.5"/><circle class="ep" cx="44.8" cy="135.5"/><circle class="ep" cx="44.7" cy="135.2"/><circle class="ep" cx="80.2" cy="131.0"/><circle class="eb" cx="86.5" cy="122.9"/><circle class="ep" cx="46.4" cy="135.0"/><circle class="ep" cx="67.6" cy="134.3"/><circle class="ep" cx="65.0" cy="131.1"/><circle class="ep" cx="63.8" cy="130.4"/><circle class="ep" cx="60.4" cy="131.9"/><circle class="np" cx="53.5" cy="134.7"/><circle class="el" cx="57.4" cy="134.4"/><circle class="np" cx="40.8" cy="135.8"/><circle class="el" cx="56.7" cy="128.5"/><circle class="ep" cx="57.9" cy="132.4"/><circle class="ep" cx="51.1" cy="134.1"/><circle class="eb" cx="69.3" cy="130.3"/><circle class="ep" cx="50.4" cy="134.8"/><circle class="el" cx="103.1" cy="118.9"/><circle class="ep" cx="51.5" cy="133.5"/><circle class="el" cx="67.3" cy="133.0"/><circle class="ep" cx="44.0" cy="135.1"/><circle class="ep" cx="55.7" cy="132.1"/><circle class="ep" cx="70.8" cy="132.4"/><circle class="ep" cx="56.9" cy="133.9"/><circle class="el" cx="44.9" cy="133.6"/><circle class="ep" cx="91.4" cy="116.9"/><circle class="np" cx="54.5" cy="130.9"/><circle class="el" cx="40.3" cy="135.0"/><circle class="ep" cx="61.0" cy="131.7"/><circle class="ep" cx="53.5" cy="134.5"/><circle class="ep" cx="75.9" cy="132.0"/><circle class="ep" cx="48.3" cy="135.0"/><circle class="ep" cx="48.9" cy="134.2"/><circle class="ep" cx="62.2" cy="129.4"/><circle class="ep" cx="56.6" cy="134.8"/><circle class="ep" cx="52.6" cy="132.5"/><circle class="ep" cx="42.5" cy="135.0"/><circle class="ep" cx="57.8" cy="133.9"/><circle class="ep" cx="67.8" cy="128.6"/><circle class="ep" cx="76.4" cy="124.4"/><circle class="ep" cx="62.6" cy="132.7"/><circle class="nl" cx="104.4" cy="95.5"/><circle class="ep" cx="42.6" cy="135.3"/><circle class="ep" cx="59.7" cy="132.6"/><circle class="eb" cx="42.8" cy="135.0"/><circle class="eb" cx="49.0" cy="133.6"/><circle class="ep" cx="41.9" cy="135.8"/><circle class="ep" cx="57.0" cy="131.6"/><circle class="ep" cx="61.1" cy="133.7"/><circle class="el" cx="71.6" cy="130.5"/><circle class="ep" cx="63.7" cy="129.0"/><circle class="ep" cx="43.8" cy="135.0"/><circle class="eb" cx="48.2" cy="135.5"/><circle class="ep" cx="65.4" cy="131.2"/><circle class="ep" cx="72.4" cy="130.8"/><circle class="ep" cx="45.6" cy="135.5"/><circle class="el" cx="64.6" cy="130.1"/><circle class="eb" cx="85.4" cy="130.2"/><circle class="el" cx="84.9" cy="118.3"/><circle class="ep" cx="71.4" cy="129.2"/><circle class="ep" cx="47.5" cy="129.4"/><circle class="ep" cx="60.2" cy="129.5"/><circle class="ep" cx="60.7" cy="132.2"/><circle class="np" cx="46.0" cy="134.6"/><circle class="np" cx="49.5" cy="132.3"/><circle class="ep" cx="52.1" cy="133.7"/><circle class="np" cx="70.9" cy="131.1"/><circle class="ep" cx="58.1" cy="132.4"/><circle class="np" cx="54.5" cy="133.2"/><circle class="ep" cx="80.2" cy="130.8"/><circle class="np" cx="42.3" cy="135.3"/><circle class="ep" cx="60.3" cy="133.1"/><circle class="ep" cx="92.5" cy="131.8"/><circle class="ep" cx="65.7" cy="133.5"/><circle class="ep" cx="89.0" cy="126.2"/><circle class="ep" cx="75.1" cy="133.3"/><circle class="np" cx="58.0" cy="133.5"/><circle class="ep" cx="76.2" cy="130.1"/><circle class="ep" cx="45.0" cy="134.6"/><circle class="ep" cx="47.1" cy="133.2"/><circle class="ep" cx="40.7" cy="135.3"/><circle class="ep" cx="71.0" cy="130.7"/><circle class="ep" cx="68.3" cy="131.0"/><circle class="ep" cx="49.7" cy="134.9"/><circle class="ep" cx="63.2" cy="131.4"/><circle class="ep" cx="61.4" cy="132.1"/><circle class="eb" cx="78.2" cy="131.9"/><circle class="eb" cx="68.7" cy="130.2"/><circle class="np" cx="58.0" cy="132.6"/><circle class="ep" cx="55.7" cy="132.0"/><circle class="np" cx="52.1" cy="134.5"/><circle class="ep" cx="41.1" cy="135.7"/><circle class="ep" cx="54.3" cy="131.7"/><circle class="eb" cx="47.7" cy="135.1"/><circle class="np" cx="48.9" cy="133.9"/><circle class="ep" cx="45.6" cy="134.6"/><circle class="np" cx="74.1" cy="132.6"/><circle class="ep" cx="41.2" cy="135.6"/><circle class="ep" cx="79.1" cy="123.0"/><circle class="ep" cx="48.0" cy="133.7"/><circle class="ep" cx="82.8" cy="132.0"/><circle class="ep" cx="77.9" cy="130.9"/><circle class="eb" cx="64.7" cy="123.9"/><circle class="eb" cx="45.4" cy="134.4"/><circle class="ep" cx="45.6" cy="135.4"/><circle class="ep" cx="60.5" cy="133.0"/><circle class="ep" cx="68.7" cy="130.3"/><circle class="ep" cx="58.0" cy="132.1"/><circle class="ep" cx="46.9" cy="134.7"/><circle class="eb" cx="59.9" cy="131.6"/><circle class="ep" cx="46.9" cy="132.6"/><circle class="eb" cx="121.5" cy="118.5"/><circle class="ep" cx="41.7" cy="135.7"/><circle class="ep" cx="59.5" cy="131.6"/><circle class="el" cx="59.8" cy="129.9"/><circle class="ep" cx="66.7" cy="131.6"/><circle class="ep" cx="47.0" cy="135.3"/><circle class="ep" cx="79.1" cy="130.6"/><circle class="ep" cx="102.5" cy="121.6"/><circle class="ep" cx="87.7" cy="127.9"/><circle class="ep" cx="84.0" cy="126.6"/><circle class="el" cx="46.6" cy="135.0"/><circle class="np" cx="66.3" cy="132.4"/><circle class="ep" cx="67.6" cy="131.1"/><circle class="ep" cx="48.8" cy="134.1"/><circle class="ep" cx="64.7" cy="129.0"/><circle class="ep" cx="43.8" cy="134.5"/><circle class="ep" cx="69.8" cy="133.3"/><circle class="np" cx="60.3" cy="132.9"/><circle class="el" cx="70.2" cy="130.4"/><circle class="ep" cx="53.4" cy="134.0"/><circle class="ep" cx="63.6" cy="130.4"/><circle class="ep" cx="88.8" cy="129.9"/><circle class="ep" cx="91.5" cy="130.4"/><circle class="ep" cx="53.5" cy="133.5"/><circle class="ep" cx="56.7" cy="134.0"/><circle class="ep" cx="44.0" cy="135.5"/><circle class="ep" cx="89.3" cy="119.6"/><circle class="ep" cx="46.6" cy="135.2"/><circle class="ep" cx="46.9" cy="132.2"/><circle class="np" cx="53.4" cy="132.7"/><circle class="ep" cx="49.1" cy="134.0"/><circle class="ep" cx="53.9" cy="134.4"/><circle class="ep" cx="77.6" cy="125.6"/><circle class="nb" cx="60.5" cy="133.0"/><circle class="eb" cx="42.3" cy="135.3"/><circle class="ep" cx="42.1" cy="135.4"/><circle class="ep" cx="41.1" cy="133.9"/><circle class="el" cx="70.0" cy="131.7"/><circle class="np" cx="48.9" cy="134.3"/><circle class="ep" cx="56.9" cy="133.5"/><circle class="ep" cx="50.5" cy="131.9"/><circle class="ep" cx="61.1" cy="131.6"/><circle class="el" cx="68.3" cy="131.3"/><circle class="ep" cx="68.3" cy="132.1"/><circle class="ep" cx="64.0" cy="132.8"/><circle class="ep" cx="47.8" cy="132.7"/><circle class="ep" cx="71.5" cy="127.7"/><circle class="ep" cx="63.7" cy="127.4"/><circle class="ep" cx="88.0" cy="126.0"/><circle class="eb" cx="43.4" cy="134.4"/><circle class="ep" cx="51.2" cy="132.8"/><circle class="ep" cx="83.4" cy="130.1"/><circle class="ep" cx="65.4" cy="130.5"/><circle class="ep" cx="96.1" cy="116.1"/><circle class="ep" cx="61.4" cy="132.6"/><circle class="ep" cx="75.7" cy="123.7"/><circle class="ep" cx="58.4" cy="131.1"/><circle class="ep" cx="68.5" cy="126.7"/><circle class="ep" cx="53.4" cy="133.7"/><circle class="ep" cx="40.4" cy="135.6"/><circle class="el" cx="43.7" cy="135.4"/><circle class="ep" cx="44.9" cy="135.6"/><circle class="ep" cx="87.2" cy="128.6"/><circle class="np" cx="85.8" cy="129.0"/><circle class="np" cx="45.4" cy="135.6"/><circle class="ep" cx="53.4" cy="133.9"/><circle class="np" cx="60.0" cy="133.7"/><circle class="ep" cx="48.3" cy="133.7"/><circle class="ep" cx="43.2" cy="135.2"/><circle class="ep" cx="80.3" cy="129.4"/><circle class="ep" cx="53.2" cy="134.7"/><circle class="ep" cx="54.9" cy="133.0"/><circle class="ep" cx="42.3" cy="135.4"/><circle class="ep" cx="60.4" cy="133.0"/><circle class="np" cx="63.4" cy="131.9"/><circle class="eb" cx="63.1" cy="132.9"/><circle class="ep" cx="73.3" cy="132.6"/><circle class="el" cx="96.5" cy="122.6"/><circle class="np" cx="65.8" cy="132.7"/><circle class="ep" cx="81.5" cy="120.8"/><circle class="nb" cx="84.4" cy="130.0"/><circle class="eb" cx="40.2" cy="135.7"/><circle class="ep" cx="41.3" cy="135.7"/><circle class="ep" cx="43.6" cy="133.7"/><circle class="ep" cx="63.1" cy="128.7"/><circle class="ep" cx="64.3" cy="130.5"/><circle class="ep" cx="63.4" cy="131.6"/><circle class="ep" cx="66.3" cy="132.4"/><circle class="eb" cx="65.9" cy="134.2"/><circle class="eb" cx="58.1" cy="134.5"/><circle class="el" cx="41.6" cy="135.7"/><circle class="ep" cx="50.1" cy="134.3"/><circle class="eb" cx="46.9" cy="134.5"/><circle class="ep" cx="66.6" cy="126.2"/><circle class="np" cx="100.8" cy="125.7"/><circle class="ep" cx="48.8" cy="134.3"/><circle class="ep" cx="88.7" cy="126.3"/><circle class="ep" cx="43.4" cy="135.5"/><circle class="np" cx="47.9" cy="134.2"/><circle class="eb" cx="57.8" cy="133.0"/><circle class="ep" cx="47.4" cy="134.7"/><circle class="el" cx="47.1" cy="130.2"/><circle class="ep" cx="84.4" cy="129.6"/><circle class="ep" cx="100.0" cy="129.3"/><circle class="nl" cx="47.8" cy="134.7"/><circle class="ep" cx="90.1" cy="130.9"/><circle class="ep" cx="55.4" cy="133.9"/><circle class="ep" cx="44.0" cy="135.4"/><circle class="ep" cx="80.2" cy="126.7"/><circle class="ep" cx="59.2" cy="128.0"/><circle class="np" cx="46.6" cy="132.9"/><circle class="ep" cx="46.8" cy="135.0"/><circle class="ep" cx="52.7" cy="131.0"/><circle class="ep" cx="71.0" cy="121.3"/><circle class="ep" cx="61.5" cy="132.7"/><circle class="el" cx="46.0" cy="133.7"/><circle class="ep" cx="101.9" cy="132.4"/><circle class="ep" cx="54.1" cy="135.1"/><circle class="ep" cx="61.7" cy="131.4"/><circle class="ep" cx="59.5" cy="128.3"/><circle class="ep" cx="52.9" cy="133.7"/><circle class="np" cx="41.3" cy="135.4"/><circle class="ep" cx="41.6" cy="135.8"/><circle class="ep" cx="44.1" cy="135.2"/><circle class="ep" cx="56.0" cy="129.5"/><circle class="np" cx="62.0" cy="133.8"/><circle class="ep" cx="74.4" cy="130.8"/><circle class="ep" cx="88.2" cy="126.0"/><circle class="ep" cx="79.1" cy="132.1"/><circle class="ep" cx="85.6" cy="123.6"/><circle class="ep" cx="40.1" cy="135.8"/><circle class="eb" cx="51.0" cy="134.5"/><circle class="ep" cx="80.1" cy="132.0"/><circle class="ep" cx="61.1" cy="132.9"/><circle class="ep" cx="88.8" cy="125.0"/><circle class="ep" cx="49.5" cy="134.4"/><circle class="ep" cx="49.6" cy="134.3"/><circle class="ep" cx="71.7" cy="129.7"/><circle class="eb" cx="63.5" cy="134.6"/><circle class="np" cx="45.6" cy="133.6"/><circle class="ep" cx="63.2" cy="125.8"/><circle class="eb" cx="87.6" cy="127.1"/><circle class="nb" cx="94.5" cy="112.9"/><circle class="ep" cx="62.9" cy="132.0"/><circle class="el" cx="67.0" cy="131.9"/><circle class="ep" cx="91.6" cy="125.0"/><circle class="ep" cx="71.9" cy="132.9"/><circle class="ep" cx="77.8" cy="133.3"/><circle class="nu" cx="49.1" cy="135.4"/><circle class="ep" cx="83.8" cy="122.9"/><circle class="np" cx="43.1" cy="135.4"/><circle class="ep" cx="53.3" cy="133.9"/><circle class="ep" cx="53.0" cy="133.6"/><circle class="ep" cx="59.7" cy="131.5"/><circle class="ep" cx="52.7" cy="133.8"/><circle class="ep" cx="49.2" cy="135.1"/><circle class="ep" cx="43.1" cy="134.7"/><circle class="eb" cx="63.5" cy="130.3"/><circle class="ep" cx="78.0" cy="130.0"/><circle class="ep" cx="95.5" cy="128.5"/><circle class="ep" cx="58.4" cy="128.4"/><circle class="ep" cx="68.1" cy="131.8"/><circle class="eb" cx="57.0" cy="129.8"/><circle class="ep" cx="104.4" cy="128.9"/><circle class="ep" cx="45.0" cy="134.9"/><circle class="eb" cx="46.2" cy="133.9"/><circle class="ep" cx="42.1" cy="135.6"/><circle class="ep" cx="52.0" cy="132.1"/><circle class="ep" cx="62.7" cy="133.2"/><circle class="ep" cx="98.4" cy="126.0"/><circle class="ep" cx="83.5" cy="122.9"/><circle class="ep" cx="43.6" cy="133.9"/><circle class="ep" cx="62.6" cy="132.9"/><circle class="ep" cx="51.3" cy="133.9"/><circle class="ep" cx="77.2" cy="128.9"/><circle class="ep" cx="70.9" cy="129.7"/><circle class="np" cx="57.9" cy="133.6"/><circle class="eb" cx="86.3" cy="131.9"/><circle class="np" cx="72.1" cy="131.7"/><circle class="eb" cx="67.8" cy="127.9"/><circle class="ep" cx="74.5" cy="133.1"/><circle class="ep" cx="70.0" cy="127.2"/><circle class="ep" cx="48.8" cy="134.2"/><circle class="ep" cx="56.2" cy="133.2"/><circle class="el" cx="72.3" cy="128.4"/><circle class="ep" cx="49.1" cy="135.3"/><circle class="ep" cx="48.1" cy="134.3"/><circle class="ep" cx="66.3" cy="129.2"/><circle class="ep" cx="69.6" cy="131.8"/><circle class="el" cx="56.0" cy="132.9"/><circle class="ep" cx="53.1" cy="134.1"/><circle class="ep" cx="56.3" cy="134.6"/><circle class="ep" cx="42.4" cy="135.6"/><circle class="ep" cx="70.8" cy="133.0"/><circle class="ep" cx="43.8" cy="135.0"/><circle class="eb" cx="45.7" cy="133.2"/><circle class="ep" cx="58.5" cy="132.2"/><circle class="ep" cx="90.4" cy="120.0"/><circle class="eb" cx="42.6" cy="135.4"/><circle class="ep" cx="51.4" cy="134.3"/><circle class="nb" cx="76.1" cy="125.8"/><circle class="ep" cx="48.4" cy="135.2"/><circle class="ep" cx="41.4" cy="135.9"/><circle class="ep" cx="59.8" cy="130.6"/><circle class="np" cx="108.3" cy="126.9"/><circle class="np" cx="52.3" cy="132.4"/><circle class="ep" cx="67.0" cy="132.9"/><circle class="ep" cx="58.5" cy="134.5"/><circle class="ep" cx="49.1" cy="132.6"/><circle class="ep" cx="48.9" cy="133.2"/><circle class="ep" cx="62.6" cy="131.3"/><circle class="ep" cx="51.2" cy="132.2"/><circle class="eb" cx="57.5" cy="131.5"/><circle class="eb" cx="63.4" cy="128.5"/><circle class="ep" cx="71.3" cy="127.0"/><circle class="ep" cx="51.4" cy="132.7"/><circle class="ep" cx="83.8" cy="130.0"/><circle class="ep" cx="43.7" cy="135.3"/><circle class="ep" cx="63.2" cy="128.8"/><circle class="ep" cx="48.2" cy="135.1"/><circle class="ep" cx="46.8" cy="134.8"/><circle class="el" cx="63.7" cy="133.6"/><circle class="ep" cx="80.1" cy="130.2"/><circle class="el" cx="45.4" cy="134.8"/><circle class="eb" cx="50.0" cy="133.7"/><circle class="ep" cx="73.5" cy="126.8"/><circle class="ep" cx="42.0" cy="135.7"/><circle class="eb" cx="73.9" cy="132.4"/><circle class="el" cx="50.7" cy="133.7"/><circle class="ep" cx="50.3" cy="133.2"/><circle class="ep" cx="56.7" cy="133.5"/><circle class="ep" cx="85.0" cy="125.3"/><circle class="ep" cx="44.1" cy="135.4"/><circle class="ep" cx="54.4" cy="134.8"/><circle class="ep" cx="48.0" cy="134.5"/><circle class="ep" cx="68.0" cy="132.5"/><circle class="ep" cx="65.7" cy="131.7"/><circle class="ep" cx="44.5" cy="135.2"/><circle class="eb" cx="49.6" cy="133.0"/><circle class="ep" cx="45.2" cy="135.3"/><circle class="ep" cx="40.7" cy="135.6"/><circle class="ep" cx="52.3" cy="134.3"/><circle class="ep" cx="54.9" cy="133.1"/><circle class="nb" cx="47.5" cy="134.6"/><circle class="el" cx="60.2" cy="130.9"/><circle class="ep" cx="72.3" cy="124.2"/><circle class="ep" cx="61.6" cy="127.7"/><circle class="ep" cx="79.3" cy="126.4"/><circle class="ep" cx="55.6" cy="133.7"/><circle class="ep" cx="52.2" cy="132.0"/><circle class="ep" cx="44.2" cy="134.4"/><circle class="el" cx="51.1" cy="133.7"/><circle class="el" cx="44.6" cy="131.7"/><circle class="nb" cx="85.7" cy="124.5"/><circle class="np" cx="77.2" cy="122.3"/><circle class="ep" cx="77.4" cy="131.9"/><circle class="np" cx="49.3" cy="134.6"/><circle class="ep" cx="45.3" cy="134.8"/><circle class="ep" cx="86.7" cy="126.2"/><circle class="ep" cx="61.8" cy="129.8"/><circle class="ep" cx="42.8" cy="135.5"/><circle class="nl" cx="58.1" cy="131.7"/><circle class="eb" cx="56.8" cy="134.0"/><circle class="ep" cx="48.3" cy="135.1"/><circle class="ep" cx="55.3" cy="133.6"/><circle class="ep" cx="70.9" cy="132.7"/><circle class="eb" cx="48.7" cy="134.9"/><circle class="ep" cx="54.0" cy="131.3"/><circle class="eb" cx="82.3" cy="130.3"/><circle class="np" cx="54.4" cy="132.9"/><circle class="el" cx="58.2" cy="130.8"/><circle class="el" cx="42.0" cy="135.9"/><circle class="ep" cx="62.6" cy="124.7"/><circle class="ep" cx="40.4" cy="135.8"/><circle class="np" cx="53.6" cy="134.4"/><circle class="ep" cx="45.1" cy="135.3"/><circle class="ep" cx="44.7" cy="135.4"/><circle class="ep" cx="58.1" cy="127.2"/><circle class="ep" cx="48.2" cy="133.2"/><circle class="ep" cx="42.1" cy="135.3"/><circle class="ep" cx="47.9" cy="134.9"/><circle class="el" cx="97.6" cy="127.0"/><circle class="ep" cx="50.7" cy="135.0"/><circle class="nl" cx="59.0" cy="133.4"/><circle class="eb" cx="68.7" cy="128.7"/><circle class="ep" cx="46.2" cy="134.3"/><circle class="ep" cx="42.8" cy="135.1"/><circle class="ep" cx="76.4" cy="122.0"/><circle class="nb" cx="67.6" cy="130.6"/><circle class="ep" cx="70.9" cy="126.6"/><circle class="ep" cx="118.0" cy="92.9"/><circle class="ep" cx="61.9" cy="130.6"/><circle class="eb" cx="39.9" cy="135.9"/><circle class="ep" cx="54.2" cy="133.5"/><circle class="ep" cx="48.8" cy="134.6"/><circle class="ep" cx="83.7" cy="129.2"/><circle class="ep" cx="59.4" cy="133.8"/><circle class="ep" cx="40.4" cy="135.8"/><circle class="ep" cx="48.3" cy="134.3"/><circle class="ep" cx="57.9" cy="133.0"/><circle class="np" cx="60.8" cy="130.6"/><circle class="ep" cx="66.9" cy="130.9"/><circle class="ep" cx="59.8" cy="135.1"/><circle class="ep" cx="91.3" cy="128.1"/><circle class="eb" cx="69.8" cy="132.7"/><circle class="el" cx="49.2" cy="134.5"/><circle class="ep" cx="74.3" cy="126.1"/><circle class="ep" cx="44.3" cy="133.6"/><circle class="eb" cx="73.4" cy="132.0"/><circle class="eb" cx="59.2" cy="132.3"/><circle class="ep" cx="50.6" cy="126.9"/><circle class="ep" cx="77.4" cy="131.8"/><circle class="ep" cx="45.6" cy="135.5"/><circle class="nl" cx="74.9" cy="132.3"/><circle class="ep" cx="71.5" cy="130.7"/><circle class="ep" cx="48.1" cy="134.5"/><circle class="ep" cx="43.4" cy="135.3"/><circle class="ep" cx="55.2" cy="133.4"/><circle class="ep" cx="47.4" cy="135.0"/><circle class="ep" cx="109.0" cy="123.0"/><circle class="np" cx="50.8" cy="133.5"/><circle class="ep" cx="46.3" cy="133.9"/><circle class="ep" cx="95.9" cy="127.6"/><circle class="ep" cx="50.3" cy="134.2"/><circle class="np" cx="59.5" cy="128.6"/><circle class="ep" cx="82.7" cy="130.4"/><circle class="ep" cx="40.4" cy="135.7"/><circle class="eb" cx="40.5" cy="135.7"/><circle class="ep" cx="40.6" cy="135.4"/><circle class="eb" cx="54.8" cy="135.0"/><circle class="ep" cx="48.9" cy="134.3"/><circle class="ep" cx="44.7" cy="134.2"/><circle class="np" cx="64.1" cy="132.8"/><circle class="ep" cx="53.2" cy="134.5"/><circle class="ep" cx="51.1" cy="133.1"/><circle class="ep" cx="57.6" cy="133.2"/><circle class="ep" cx="45.7" cy="135.3"/><circle class="ep" cx="67.2" cy="131.9"/><circle class="ep" cx="59.4" cy="133.4"/><circle class="np" cx="68.0" cy="132.3"/><circle class="ep" cx="51.0" cy="134.8"/><circle class="ep" cx="77.1" cy="128.3"/><circle class="eb" cx="55.2" cy="131.3"/><circle class="ep" cx="53.5" cy="133.7"/><circle class="ep" cx="46.4" cy="134.1"/><circle class="eb" cx="59.1" cy="133.2"/><circle class="nb" cx="49.7" cy="133.3"/><circle class="ep" cx="47.0" cy="133.5"/><circle class="eb" cx="93.6" cy="129.2"/><circle class="eb" cx="48.9" cy="133.6"/><circle class="ep" cx="73.0" cy="134.4"/><circle class="ep" cx="85.2" cy="130.8"/><circle class="ep" cx="54.5" cy="132.9"/><circle class="ep" cx="52.0" cy="133.0"/><circle class="el" cx="85.7" cy="131.0"/><circle class="ep" cx="50.5" cy="133.4"/><circle class="ep" cx="40.7" cy="135.6"/><circle class="ep" cx="64.8" cy="130.7"/><circle class="np" cx="77.4" cy="120.5"/><circle class="ep" cx="49.5" cy="133.9"/><circle class="ep" cx="54.3" cy="133.9"/><circle class="ep" cx="52.0" cy="133.7"/><circle class="ep" cx="44.1" cy="135.4"/><circle class="eb" cx="86.8" cy="128.6"/><circle class="np" cx="64.8" cy="129.1"/><circle class="nb" cx="53.2" cy="131.7"/><circle class="ep" cx="106.6" cy="114.9"/><circle class="ep" cx="41.4" cy="135.7"/><circle class="ep" cx="45.3" cy="134.8"/><circle class="eb" cx="50.4" cy="131.4"/><circle class="ep" cx="59.3" cy="127.1"/><circle class="ep" cx="42.7" cy="135.7"/><circle class="ep" cx="54.0" cy="133.1"/><circle class="ep" cx="62.9" cy="131.2"/><circle class="el" cx="60.9" cy="131.4"/><circle class="ep" cx="115.5" cy="116.0"/><circle class="ep" cx="48.3" cy="134.5"/><circle class="ep" cx="47.5" cy="134.9"/><circle class="eb" cx="45.0" cy="134.3"/><circle class="ep" cx="39.7" cy="135.5"/><circle class="ep" cx="49.9" cy="133.5"/><circle class="ep" cx="54.1" cy="132.0"/><circle class="eb" cx="55.6" cy="134.0"/><circle class="eb" cx="51.0" cy="133.7"/><circle class="ep" cx="51.6" cy="134.4"/><circle class="el" cx="77.3" cy="130.2"/><circle class="np" cx="58.7" cy="134.1"/><circle class="ep" cx="68.7" cy="132.2"/><circle class="ep" cx="55.3" cy="132.5"/><circle class="el" cx="70.1" cy="133.6"/><circle class="ep" cx="51.3" cy="135.0"/><circle class="ep" cx="49.8" cy="134.8"/><circle class="ep" cx="52.5" cy="134.1"/><circle class="ep" cx="48.2" cy="133.8"/><circle class="ep" cx="47.3" cy="134.0"/><circle class="np" cx="44.0" cy="134.9"/><circle class="ep" cx="44.2" cy="135.6"/><circle class="ep" cx="53.0" cy="133.6"/><circle class="ep" cx="61.9" cy="130.3"/><circle class="ep" cx="46.9" cy="133.6"/><circle class="el" cx="41.5" cy="135.2"/><circle class="eb" cx="53.7" cy="129.1"/><circle class="ep" cx="88.2" cy="129.2"/><circle class="nl" cx="65.1" cy="131.6"/><circle class="ep" cx="61.2" cy="133.9"/><circle class="el" cx="49.7" cy="134.6"/><circle class="ep" cx="53.8" cy="134.3"/><circle class="el" cx="62.8" cy="132.9"/><circle class="ep" cx="57.1" cy="130.3"/><circle class="ep" cx="70.4" cy="132.8"/><circle class="ep" cx="61.1" cy="133.3"/><circle class="ep" cx="73.8" cy="128.7"/><circle class="ep" cx="56.4" cy="131.9"/><circle class="ep" cx="64.5" cy="130.9"/><circle class="ep" cx="51.3" cy="132.9"/><circle class="ep" cx="46.5" cy="134.6"/><circle class="ep" cx="49.5" cy="134.5"/><circle class="ep" cx="97.2" cy="124.6"/><circle class="np" cx="69.0" cy="132.4"/><circle class="ep" cx="64.4" cy="133.5"/><circle class="ep" cx="75.7" cy="129.0"/><circle class="ep" cx="45.9" cy="135.2"/><circle class="ep" cx="84.6" cy="131.6"/><circle class="ep" cx="73.2" cy="130.1"/><circle class="ep" cx="41.0" cy="135.8"/><circle class="ep" cx="75.1" cy="127.3"/><circle class="ep" cx="39.7" cy="135.6"/><circle class="ep" cx="67.2" cy="128.7"/><circle class="np" cx="54.0" cy="135.3"/><circle class="el" cx="73.1" cy="127.7"/><circle class="ep" cx="53.2" cy="134.6"/><circle class="eb" cx="51.7" cy="132.9"/><circle class="np" cx="50.4" cy="133.3"/><circle class="eb" cx="63.8" cy="131.0"/><circle class="np" cx="65.9" cy="130.7"/><circle class="np" cx="98.6" cy="131.1"/><circle class="eb" cx="79.2" cy="129.9"/><circle class="np" cx="57.2" cy="134.4"/><circle class="ep" cx="49.2" cy="134.2"/><circle class="np" cx="52.3" cy="131.8"/><circle class="ep" cx="47.1" cy="134.9"/><circle class="ep" cx="45.5" cy="134.6"/><circle class="el" cx="43.2" cy="135.6"/><circle class="ep" cx="103.9" cy="125.5"/><circle class="ep" cx="80.6" cy="129.4"/><circle class="eb" cx="51.0" cy="133.3"/><circle class="ep" cx="74.9" cy="121.9"/><circle class="ep" cx="49.5" cy="134.0"/><circle class="ep" cx="55.3" cy="131.5"/><circle class="ep" cx="72.2" cy="131.1"/><circle class="eb" cx="57.1" cy="133.4"/><circle class="eb" cx="46.3" cy="134.0"/><circle class="eb" cx="61.6" cy="132.1"/><circle class="ep" cx="63.5" cy="133.8"/><circle class="nl" cx="66.5" cy="125.3"/><circle class="ep" cx="47.7" cy="132.7"/><circle class="ep" cx="53.7" cy="129.5"/><circle class="ep" cx="48.1" cy="134.4"/><circle class="ep" cx="85.6" cy="130.9"/><circle class="eb" cx="56.1" cy="135.1"/><circle class="eb" cx="49.3" cy="135.0"/><circle class="np" cx="65.8" cy="132.0"/><circle class="eb" cx="41.8" cy="135.5"/><circle class="nl" cx="41.3" cy="135.8"/><circle class="eb" cx="75.6" cy="127.0"/><circle class="ep" cx="64.6" cy="132.4"/><circle class="ep" cx="62.5" cy="131.9"/><circle class="ep" cx="48.6" cy="133.2"/><circle class="ep" cx="52.6" cy="134.2"/><circle class="ep" cx="58.2" cy="133.7"/><circle class="ep" cx="74.2" cy="129.1"/><circle class="ep" cx="47.5" cy="134.2"/><circle class="ep" cx="42.9" cy="133.9"/><circle class="ep" cx="80.3" cy="129.1"/><circle class="np" cx="44.9" cy="135.6"/><circle class="ep" cx="73.7" cy="130.6"/><circle class="ep" cx="77.2" cy="122.5"/><circle class="ep" cx="48.3" cy="132.6"/><circle class="ep" cx="56.0" cy="133.0"/><circle class="eb" cx="45.5" cy="133.5"/><circle class="ep" cx="46.0" cy="134.8"/><circle class="el" cx="50.9" cy="135.4"/><circle class="ep" cx="55.5" cy="134.2"/><circle class="ep" cx="49.7" cy="133.0"/><circle class="ep" cx="58.9" cy="132.5"/><circle class="eb" cx="62.8" cy="132.8"/><circle class="ep" cx="49.7" cy="134.7"/><circle class="ep" cx="49.9" cy="133.1"/><circle class="ep" cx="52.8" cy="134.7"/><circle class="eb" cx="57.6" cy="130.1"/><circle class="ep" cx="57.7" cy="132.0"/><circle class="ep" cx="50.4" cy="134.3"/><circle class="eb" cx="49.0" cy="133.7"/><circle class="el" cx="65.3" cy="132.8"/><circle class="np" cx="54.8" cy="132.7"/><circle class="el" cx="60.4" cy="133.8"/><circle class="eb" cx="44.9" cy="134.5"/><circle class="ep" cx="67.2" cy="131.0"/><circle class="np" cx="46.3" cy="134.5"/><circle class="ep" cx="63.7" cy="130.5"/><circle class="ep" cx="44.5" cy="133.9"/><circle class="el" cx="82.8" cy="126.0"/><circle class="ep" cx="60.0" cy="132.7"/><circle class="el" cx="65.4" cy="131.5"/><circle class="eb" cx="74.5" cy="130.4"/><circle class="ep" cx="56.5" cy="127.6"/><circle class="ep" cx="48.1" cy="132.6"/><circle class="ep" cx="64.0" cy="130.9"/><circle class="ep" cx="55.3" cy="132.9"/><circle class="nb" cx="51.9" cy="134.9"/><circle class="eb" cx="65.2" cy="134.0"/><circle class="ep" cx="67.9" cy="123.0"/><circle class="eb" cx="60.7" cy="132.4"/><circle class="ep" cx="58.4" cy="130.5"/><circle class="ep" cx="52.0" cy="133.9"/><circle class="eb" cx="44.1" cy="134.2"/><circle class="ep" cx="80.8" cy="127.7"/><circle class="nl" cx="61.9" cy="131.7"/><circle class="ep" cx="63.2" cy="129.9"/><circle class="eb" cx="72.2" cy="128.1"/><circle class="ep" cx="45.3" cy="135.2"/><circle class="np" cx="53.4" cy="132.3"/><circle class="ep" cx="113.9" cy="126.1"/><circle class="ep" cx="98.8" cy="129.5"/><circle class="ep" cx="66.8" cy="131.1"/><circle class="ep" cx="66.4" cy="128.3"/><circle class="ep" cx="40.1" cy="135.9"/><circle class="ep" cx="59.1" cy="132.3"/><circle class="ep" cx="84.5" cy="124.9"/><circle class="ep" cx="55.3" cy="132.6"/><circle class="ep" cx="60.3" cy="132.2"/><circle class="ep" cx="52.1" cy="134.5"/><circle class="ep" cx="94.5" cy="122.3"/><circle class="ep" cx="49.6" cy="134.5"/><circle class="ep" cx="49.5" cy="134.8"/><circle class="ep" cx="56.6" cy="133.9"/><circle class="ep" cx="62.2" cy="127.5"/><circle class="ep" cx="51.4" cy="134.7"/><circle class="ep" cx="40.5" cy="135.7"/><circle class="ep" cx="43.5" cy="134.6"/><circle class="ep" cx="57.6" cy="132.3"/><circle class="ep" cx="44.8" cy="134.6"/><circle class="np" cx="42.4" cy="135.6"/><circle class="eu" cx="66.0" cy="131.7"/><circle class="ep" cx="67.6" cy="130.7"/><circle class="ep" cx="56.0" cy="133.2"/><circle class="ep" cx="46.6" cy="135.2"/><circle class="ep" cx="65.1" cy="134.3"/><circle class="ep" cx="50.3" cy="134.2"/><circle class="ep" cx="58.0" cy="132.6"/><circle class="np" cx="44.8" cy="133.9"/><circle class="eb" cx="43.5" cy="135.5"/><circle class="ep" cx="50.7" cy="134.3"/><circle class="eb" cx="66.3" cy="133.1"/><circle class="ep" cx="45.8" cy="134.8"/><circle class="np" cx="71.5" cy="127.7"/><circle class="ep" cx="51.3" cy="135.1"/><circle class="ep" cx="61.0" cy="132.9"/><circle class="ep" cx="43.3" cy="135.3"/><circle class="ep" cx="60.9" cy="130.7"/><circle class="np" cx="51.2" cy="133.9"/><circle class="ep" cx="54.8" cy="128.8"/><circle class="ep" cx="47.3" cy="135.3"/><circle class="ep" cx="53.4" cy="133.0"/><circle class="el" cx="49.8" cy="133.9"/><circle class="ep" cx="45.4" cy="133.5"/><circle class="ep" cx="56.1" cy="129.7"/><circle class="ep" cx="49.1" cy="134.7"/><circle class="np" cx="50.0" cy="135.1"/><circle class="ep" cx="52.3" cy="134.2"/><circle class="eb" cx="76.5" cy="130.4"/><circle class="ep" cx="84.2" cy="123.3"/><circle class="ep" cx="66.6" cy="128.3"/><circle class="el" cx="89.2" cy="130.6"/><circle class="ep" cx="71.0" cy="131.5"/><circle class="ep" cx="49.2" cy="135.0"/><circle class="np" cx="51.9" cy="133.6"/><circle class="ep" cx="66.7" cy="130.6"/><circle class="ep" cx="48.8" cy="134.4"/><circle class="ep" cx="40.9" cy="135.7"/><circle class="ep" cx="52.4" cy="131.6"/><circle class="ep" cx="75.4" cy="132.6"/><circle class="ep" cx="49.6" cy="134.4"/><circle class="ep" cx="53.9" cy="132.0"/><circle class="el" cx="49.4" cy="133.9"/><circle class="el" cx="48.1" cy="132.4"/><circle class="eb" cx="61.4" cy="128.8"/><circle class="el" cx="44.5" cy="134.4"/><circle class="np" cx="45.8" cy="134.9"/><circle class="ep" cx="69.0" cy="129.8"/><circle class="ep" cx="43.0" cy="135.6"/><circle class="ep" cx="69.2" cy="127.4"/><circle class="ep" cx="84.2" cy="128.5"/><circle class="ep" cx="49.2" cy="133.4"/><circle class="ep" cx="73.2" cy="131.1"/><circle class="ep" cx="65.6" cy="130.7"/><circle class="eb" cx="48.1" cy="135.5"/><circle class="ep" cx="48.6" cy="134.9"/><circle class="ep" cx="72.8" cy="132.9"/><circle class="ep" cx="52.6" cy="134.6"/><circle class="ep" cx="59.2" cy="132.5"/><circle class="ep" cx="66.1" cy="130.0"/><circle class="eb" cx="56.5" cy="133.6"/><circle class="ep" cx="47.3" cy="134.5"/><circle class="ep" cx="57.0" cy="131.6"/><circle class="ep" cx="54.1" cy="132.8"/><circle class="ep" cx="77.6" cy="127.2"/><circle class="eb" cx="42.0" cy="135.3"/><circle class="ep" cx="61.4" cy="128.3"/><circle class="eb" cx="74.6" cy="133.0"/><circle class="ep" cx="63.7" cy="133.3"/><circle class="eb" cx="69.6" cy="128.4"/><circle class="ep" cx="75.4" cy="131.1"/><circle class="ep" cx="49.6" cy="134.3"/><circle class="ep" cx="51.6" cy="133.1"/><circle class="eb" cx="43.3" cy="135.6"/><circle class="np" cx="87.4" cy="126.9"/><circle class="ep" cx="62.6" cy="127.1"/><circle class="ep" cx="56.1" cy="134.0"/><circle class="ep" cx="62.0" cy="131.0"/><circle class="el" cx="40.6" cy="135.9"/><circle class="eb" cx="58.6" cy="131.9"/><circle class="ep" cx="62.0" cy="131.9"/><circle class="ep" cx="56.1" cy="134.8"/><circle class="ep" cx="47.8" cy="135.2"/><circle class="ep" cx="51.1" cy="134.1"/><circle class="eb" cx="63.0" cy="133.7"/><circle class="ep" cx="64.1" cy="133.3"/><circle class="np" cx="55.3" cy="131.7"/><circle class="eb" cx="45.2" cy="135.3"/><circle class="ep" cx="51.0" cy="133.9"/><circle class="ep" cx="94.0" cy="127.2"/><circle class="ep" cx="54.6" cy="125.5"/><circle class="ep" cx="62.1" cy="133.1"/><circle class="ep" cx="55.5" cy="134.3"/><circle class="eb" cx="72.8" cy="132.7"/><circle class="ep" cx="65.8" cy="133.8"/><circle class="ep" cx="47.2" cy="135.5"/><circle class="eb" cx="44.0" cy="135.6"/><circle class="np" cx="70.1" cy="126.2"/><circle class="np" cx="69.5" cy="129.5"/><circle class="ep" cx="49.1" cy="134.6"/><circle class="ep" cx="74.6" cy="129.9"/><circle class="ep" cx="87.9" cy="127.6"/><circle class="ep" cx="51.4" cy="131.2"/><circle class="ep" cx="46.3" cy="135.0"/><circle class="ep" cx="47.4" cy="133.3"/><circle class="ep" cx="58.2" cy="134.4"/><circle class="ep" cx="57.9" cy="127.5"/><circle class="ep" cx="78.8" cy="126.8"/><circle class="np" cx="75.9" cy="134.2"/><circle class="ep" cx="71.1" cy="127.1"/><circle class="eb" cx="97.6" cy="119.3"/><circle class="nb" cx="45.6" cy="134.6"/><circle class="ep" cx="59.4" cy="131.6"/><circle class="np" cx="57.6" cy="130.2"/><circle class="ep" cx="83.0" cy="127.5"/><circle class="ep" cx="56.6" cy="130.4"/><circle class="np" cx="45.5" cy="135.0"/><circle class="ep" cx="53.7" cy="131.6"/><circle class="ep" cx="70.4" cy="124.4"/><circle class="ep" cx="76.1" cy="132.5"/><circle class="ep" cx="40.0" cy="136.0"/><circle class="ep" cx="47.0" cy="135.3"/><circle class="ep" cx="40.1" cy="135.4"/><circle class="ep" cx="57.1" cy="127.6"/><circle class="ep" cx="73.0" cy="125.3"/><circle class="eb" cx="75.9" cy="131.7"/><circle class="ep" cx="44.2" cy="135.6"/><circle class="ep" cx="61.2" cy="133.7"/><circle class="eu" cx="50.3" cy="134.7"/><circle class="ep" cx="44.8" cy="135.2"/><circle class="eb" cx="84.7" cy="131.9"/><circle class="ep" cx="45.8" cy="134.7"/><circle class="ep" cx="92.0" cy="125.1"/><circle class="np" cx="104.8" cy="114.7"/><circle class="eb" cx="62.6" cy="132.2"/><circle class="ep" cx="58.9" cy="128.8"/><circle class="ep" cx="60.3" cy="134.1"/><circle class="eb" cx="85.8" cy="130.5"/><circle class="el" cx="45.5" cy="133.8"/><circle class="el" cx="67.4" cy="128.7"/><circle class="ep" cx="50.2" cy="134.3"/><circle class="ep" cx="108.1" cy="124.0"/><circle class="np" cx="57.8" cy="133.3"/><circle class="ep" cx="76.4" cy="129.3"/><circle class="el" cx="50.9" cy="133.7"/><circle class="np" cx="48.6" cy="135.1"/><circle class="ep" cx="40.1" cy="135.2"/><circle class="ep" cx="75.3" cy="129.3"/><circle class="ep" cx="66.3" cy="129.1"/><circle class="eb" cx="43.4" cy="134.9"/><circle class="ep" cx="53.7" cy="135.2"/><circle class="np" cx="78.5" cy="125.9"/><circle class="ep" cx="54.3" cy="133.3"/><circle class="ep" cx="51.5" cy="134.2"/><circle class="el" cx="55.3" cy="133.4"/><circle class="ep" cx="76.6" cy="128.1"/><circle class="eb" cx="80.6" cy="129.3"/><circle class="ep" cx="47.8" cy="133.9"/><circle class="ep" cx="62.6" cy="129.0"/><circle class="np" cx="71.7" cy="133.6"/><circle class="eb" cx="95.0" cy="128.1"/><circle class="ep" cx="74.2" cy="132.5"/><circle class="el" cx="67.2" cy="132.0"/><circle class="eb" cx="69.5" cy="130.5"/><circle class="eb" cx="56.5" cy="134.2"/><circle class="ep" cx="51.7" cy="131.0"/><circle class="np" cx="66.7" cy="130.7"/><circle class="ep" cx="44.7" cy="135.3"/><circle class="ep" cx="45.5" cy="134.4"/><circle class="np" cx="63.3" cy="131.9"/><circle class="nb" cx="44.1" cy="135.0"/><circle class="ep" cx="64.7" cy="132.4"/><circle class="eb" cx="65.1" cy="116.7"/><circle class="ep" cx="71.3" cy="132.0"/><circle class="ep" cx="48.0" cy="134.6"/><circle class="ep" cx="55.9" cy="133.8"/><circle class="ep" cx="53.9" cy="133.3"/><circle class="np" cx="47.4" cy="135.2"/><circle class="eb" cx="59.7" cy="129.0"/><circle class="np" cx="50.7" cy="132.3"/><circle class="el" cx="47.2" cy="134.6"/><circle class="np" cx="54.5" cy="132.5"/><circle class="el" cx="46.6" cy="134.0"/><circle class="ep" cx="57.6" cy="133.6"/><circle class="ep" cx="54.8" cy="133.7"/><circle class="ep" cx="54.9" cy="133.5"/><circle class="ep" cx="77.3" cy="132.0"/><circle class="ep" cx="97.5" cy="127.7"/><circle class="np" cx="52.3" cy="133.5"/><circle class="np" cx="65.5" cy="132.2"/><circle class="ep" cx="45.2" cy="135.0"/><circle class="ep" cx="47.3" cy="134.4"/><circle class="ep" cx="46.5" cy="133.8"/><circle class="ep" cx="74.8" cy="127.1"/><circle class="ep" cx="43.0" cy="135.2"/><circle class="eb" cx="61.4" cy="132.2"/><circle class="np" cx="58.0" cy="132.1"/><circle class="ep" cx="63.1" cy="129.0"/><circle class="ep" cx="56.6" cy="133.3"/><circle class="ep" cx="64.2" cy="132.7"/><circle class="ep" cx="47.3" cy="132.3"/><circle class="el" cx="92.3" cy="124.7"/><circle class="ep" cx="45.9" cy="134.4"/><circle class="np" cx="58.9" cy="133.5"/><circle class="ep" cx="49.0" cy="135.1"/><circle class="ep" cx="70.0" cy="126.6"/><circle class="ep" cx="50.5" cy="134.6"/><circle class="ep" cx="69.1" cy="123.1"/><circle class="eb" cx="70.4" cy="130.6"/><circle class="ep" cx="45.9" cy="134.6"/><circle class="ep" cx="44.0" cy="134.1"/><circle class="ep" cx="55.7" cy="133.7"/><circle class="ep" cx="59.0" cy="132.7"/><circle class="np" cx="41.2" cy="135.6"/><circle class="el" cx="99.4" cy="125.9"/><circle class="ep" cx="49.5" cy="132.4"/><circle class="ep" cx="71.7" cy="130.8"/><circle class="el" cx="52.5" cy="132.5"/><circle class="ep" cx="49.5" cy="133.5"/><circle class="ep" cx="53.8" cy="131.5"/><circle class="eb" cx="109.8" cy="125.1"/><circle class="np" cx="50.3" cy="133.1"/><circle class="el" cx="46.5" cy="134.9"/><circle class="ep" cx="64.7" cy="126.3"/><circle class="ep" cx="63.7" cy="131.2"/><circle class="np" cx="51.7" cy="134.6"/><circle class="np" cx="47.5" cy="134.2"/><circle class="eb" cx="51.1" cy="134.2"/><circle class="ep" cx="44.0" cy="135.1"/><circle class="ep" cx="51.9" cy="133.5"/><circle class="nb" cx="53.0" cy="134.5"/><circle class="ep" cx="62.5" cy="130.0"/><circle class="ep" cx="85.3" cy="126.3"/><circle class="ep" cx="48.1" cy="133.3"/><circle class="ep" cx="57.8" cy="133.4"/><circle class="ep" cx="57.6" cy="134.0"/><circle class="ep" cx="55.1" cy="133.3"/><circle class="el" cx="61.6" cy="131.7"/><circle class="ep" cx="48.9" cy="135.0"/><circle class="ep" cx="51.6" cy="134.2"/><circle class="ep" cx="59.7" cy="132.0"/><circle class="ep" cx="85.8" cy="118.5"/><circle class="ep" cx="49.9" cy="135.1"/><circle class="ep" cx="43.6" cy="135.4"/><circle class="ep" cx="53.9" cy="134.6"/><circle class="ep" cx="42.2" cy="135.6"/><circle class="el" cx="46.7" cy="134.9"/><circle class="nb" cx="57.0" cy="134.1"/><circle class="ep" cx="84.7" cy="127.3"/><circle class="ep" cx="61.1" cy="132.8"/><circle class="ep" cx="57.4" cy="131.1"/><circle class="eb" cx="53.9" cy="133.4"/><circle class="ep" cx="70.1" cy="124.0"/><circle class="ep" cx="44.5" cy="135.4"/><circle class="ep" cx="49.6" cy="133.4"/><circle class="ep" cx="53.6" cy="131.6"/><circle class="ep" cx="58.7" cy="126.9"/><circle class="np" cx="53.1" cy="132.8"/><circle class="np" cx="60.0" cy="132.3"/><circle class="ep" cx="45.0" cy="135.7"/><circle class="ep" cx="57.9" cy="132.1"/><circle class="ep" cx="57.4" cy="134.1"/><circle class="ep" cx="84.2" cy="132.6"/><circle class="np" cx="55.1" cy="134.1"/><circle class="el" cx="42.4" cy="135.6"/><circle class="ep" cx="84.5" cy="124.7"/><circle class="ep" cx="52.0" cy="133.4"/><circle class="ep" cx="42.8" cy="134.9"/><circle class="ep" cx="47.0" cy="133.5"/><circle class="eb" cx="60.0" cy="127.6"/><circle class="el" cx="46.7" cy="134.7"/><circle class="ep" cx="74.2" cy="128.9"/><circle class="nb" cx="45.6" cy="135.0"/><circle class="ep" cx="52.1" cy="133.9"/><circle class="eb" cx="56.2" cy="133.7"/><circle class="el" cx="50.6" cy="133.0"/><circle class="ep" cx="47.8" cy="135.1"/><circle class="ep" cx="48.3" cy="134.3"/><circle class="el" cx="74.6" cy="121.9"/><circle class="ep" cx="43.7" cy="135.6"/><circle class="ep" cx="50.8" cy="134.6"/><circle class="ep" cx="85.3" cy="128.1"/><circle class="ep" cx="45.2" cy="134.8"/><circle class="ep" cx="54.4" cy="134.2"/><circle class="el" cx="53.4" cy="131.1"/><circle class="ep" cx="46.1" cy="135.0"/><circle class="eb" cx="54.9" cy="129.9"/><circle class="ep" cx="50.8" cy="135.1"/><circle class="ep" cx="71.3" cy="132.8"/><circle class="ep" cx="59.5" cy="133.0"/><circle class="ep" cx="50.6" cy="134.0"/><circle class="el" cx="64.2" cy="131.3"/><circle class="np" cx="62.5" cy="133.8"/><circle class="eb" cx="63.6" cy="130.8"/><circle class="ep" cx="57.9" cy="128.2"/><circle class="ep" cx="73.9" cy="129.1"/><circle class="ep" cx="108.2" cy="119.8"/><circle class="ep" cx="44.7" cy="135.0"/><circle class="ep" cx="87.6" cy="128.3"/><circle class="ep" cx="54.1" cy="133.5"/><circle class="el" cx="54.2" cy="132.8"/><circle class="ep" cx="44.3" cy="133.7"/><circle class="ep" cx="62.5" cy="131.1"/><circle class="ep" cx="51.6" cy="130.0"/><circle class="ep" cx="86.9" cy="130.1"/><circle class="eb" cx="61.9" cy="124.6"/><circle class="ep" cx="70.7" cy="131.1"/><circle class="ep" cx="46.2" cy="134.7"/><circle class="ep" cx="63.0" cy="132.3"/><circle class="np" cx="54.7" cy="134.0"/><circle class="ep" cx="50.7" cy="132.6"/><circle class="ep" cx="57.2" cy="131.8"/><circle class="ep" cx="48.5" cy="134.9"/><circle class="ep" cx="70.0" cy="134.1"/><circle class="eb" cx="59.1" cy="134.1"/><circle class="ep" cx="56.1" cy="132.9"/><circle class="ep" cx="80.7" cy="132.1"/><circle class="np" cx="70.8" cy="132.3"/><circle class="ep" cx="76.8" cy="129.7"/><circle class="ep" cx="48.4" cy="135.0"/><circle class="el" cx="56.4" cy="134.1"/><circle class="ep" cx="55.1" cy="132.8"/><circle class="ep" cx="72.6" cy="127.3"/><circle class="ep" cx="79.7" cy="123.4"/><circle class="ep" cx="80.2" cy="130.3"/><circle class="np" cx="42.2" cy="135.4"/><circle class="np" cx="53.4" cy="133.2"/><circle class="ep" cx="64.7" cy="133.1"/><circle class="ep" cx="84.0" cy="124.4"/><circle class="ep" cx="59.4" cy="133.6"/><circle class="eb" cx="47.1" cy="135.2"/><circle class="ep" cx="65.3" cy="131.1"/><circle class="el" cx="46.6" cy="134.8"/><circle class="ep" cx="51.0" cy="132.2"/><circle class="ep" cx="75.2" cy="133.1"/><circle class="ep" cx="69.1" cy="124.0"/><circle class="ep" cx="45.2" cy="134.4"/><circle class="ep" cx="45.6" cy="135.1"/><circle class="ep" cx="80.4" cy="130.4"/><circle class="ep" cx="65.9" cy="132.6"/><circle class="eb" cx="55.6" cy="130.1"/><circle class="ep" cx="65.7" cy="125.3"/><circle class="ep" cx="66.7" cy="129.4"/><circle class="el" cx="48.7" cy="134.5"/><circle class="ep" cx="51.3" cy="133.3"/><circle class="ep" cx="98.6" cy="127.3"/><circle class="ep" cx="41.8" cy="135.8"/><circle class="ep" cx="53.8" cy="134.8"/><circle class="ep" cx="48.5" cy="133.9"/><circle class="ep" cx="55.6" cy="134.5"/><circle class="ep" cx="70.9" cy="121.9"/><circle class="ep" cx="44.3" cy="135.5"/><circle class="eb" cx="48.6" cy="133.3"/><circle class="eb" cx="85.0" cy="125.9"/><circle class="np" cx="73.0" cy="132.2"/><circle class="eb" cx="53.7" cy="134.9"/><circle class="ep" cx="55.9" cy="133.5"/><circle class="ep" cx="67.1" cy="130.4"/><circle class="ep" cx="49.6" cy="134.6"/><circle class="ep" cx="62.8" cy="131.8"/><circle class="np" cx="42.1" cy="135.7"/><circle class="nb" cx="52.1" cy="134.5"/><circle class="ep" cx="44.7" cy="135.2"/><circle class="ep" cx="50.3" cy="133.5"/><circle class="ep" cx="63.7" cy="131.4"/><circle class="ep" cx="60.1" cy="131.3"/><circle class="nb" cx="39.9" cy="135.9"/><circle class="ep" cx="40.4" cy="135.9"/><circle class="ep" cx="69.3" cy="126.6"/><circle class="np" cx="61.7" cy="132.4"/><circle class="eb" cx="66.1" cy="129.8"/><circle class="el" cx="47.4" cy="133.7"/><circle class="ep" cx="92.7" cy="122.2"/><circle class="np" cx="53.2" cy="131.7"/><circle class="ep" cx="53.4" cy="133.6"/><circle class="ep" cx="76.9" cy="122.6"/><circle class="ep" cx="42.4" cy="135.7"/><circle class="ep" cx="56.9" cy="127.6"/><circle class="ep" cx="52.6" cy="133.1"/><circle class="ep" cx="47.3" cy="132.7"/><circle class="ep" cx="44.4" cy="133.9"/><circle class="ep" cx="76.1" cy="127.5"/><circle class="ep" cx="99.8" cy="124.6"/><circle class="ep" cx="70.7" cy="128.2"/><circle class="ep" cx="53.2" cy="135.4"/><circle class="ep" cx="64.3" cy="131.0"/><circle class="ep" cx="42.0" cy="135.3"/><circle class="ep" cx="71.3" cy="129.6"/><circle class="el" cx="67.2" cy="133.9"/><circle class="ep" cx="47.2" cy="134.1"/><circle class="np" cx="98.2" cy="124.6"/><circle class="np" cx="45.9" cy="134.9"/><circle class="el" cx="44.4" cy="134.8"/><circle class="ep" cx="52.1" cy="127.5"/><circle class="el" cx="41.6" cy="135.7"/><circle class="ep" cx="69.2" cy="133.5"/><circle class="ep" cx="48.3" cy="134.1"/><circle class="ep" cx="47.8" cy="134.5"/><circle class="eb" cx="45.2" cy="135.5"/><circle class="ep" cx="43.3" cy="135.1"/><circle class="el" cx="53.8" cy="134.7"/><circle class="el" cx="62.1" cy="132.1"/><circle class="ep" cx="46.0" cy="134.6"/><circle class="eb" cx="86.9" cy="127.6"/><circle class="ep" cx="48.9" cy="135.5"/><circle class="eb" cx="54.0" cy="132.4"/><circle class="ep" cx="80.3" cy="120.9"/><circle class="ep" cx="65.8" cy="130.1"/><circle class="ep" cx="73.8" cy="132.4"/><circle class="ep" cx="69.1" cy="131.4"/><circle class="eb" cx="42.5" cy="135.2"/><circle class="ep" cx="64.8" cy="132.2"/><circle class="ep" cx="41.1" cy="135.8"/><circle class="eb" cx="47.0" cy="135.0"/><circle class="nb" cx="81.5" cy="120.0"/><circle class="ep" cx="40.0" cy="135.7"/><circle class="ep" cx="51.1" cy="134.4"/><circle class="el" cx="50.3" cy="134.1"/><circle class="ep" cx="39.9" cy="135.9"/><circle class="ep" cx="47.4" cy="135.1"/><circle class="el" cx="60.3" cy="130.9"/><circle class="ep" cx="41.2" cy="135.5"/><circle class="ep" cx="83.1" cy="125.3"/><circle class="ep" cx="54.2" cy="133.1"/><circle class="el" cx="45.4" cy="135.2"/><circle class="ep" cx="104.9" cy="117.3"/><circle class="ep" cx="83.2" cy="127.9"/><circle class="np" cx="44.7" cy="134.7"/><circle class="np" cx="68.1" cy="126.2"/><circle class="ep" cx="40.1" cy="135.9"/><circle class="ep" cx="46.3" cy="135.1"/><circle class="ep" cx="65.0" cy="132.3"/><circle class="ep" cx="78.3" cy="116.7"/><circle class="el" cx="79.6" cy="124.8"/><circle class="eb" cx="58.4" cy="132.0"/><circle class="np" cx="51.2" cy="130.7"/><circle class="ep" cx="55.2" cy="132.3"/><circle class="ep" cx="64.5" cy="131.5"/><circle class="ep" cx="55.1" cy="134.6"/><circle class="el" cx="102.4" cy="126.6"/><circle class="np" cx="60.5" cy="134.4"/><circle class="ep" cx="44.1" cy="135.5"/><circle class="eb" cx="79.1" cy="129.3"/><circle class="ep" cx="58.2" cy="133.0"/><circle class="np" cx="86.5" cy="126.5"/><circle class="ep" cx="52.1" cy="132.3"/><circle class="ep" cx="79.6" cy="128.2"/><circle class="ep" cx="73.9" cy="125.3"/><circle class="ep" cx="53.4" cy="133.3"/><circle class="el" cx="63.7" cy="133.4"/><circle class="ep" cx="82.0" cy="130.7"/><circle class="eb" cx="70.2" cy="126.4"/><circle class="ep" cx="54.0" cy="133.0"/><circle class="np" cx="50.1" cy="133.6"/><circle class="nb" cx="57.4" cy="133.4"/><circle class="ep" cx="43.2" cy="134.8"/><circle class="ep" cx="81.5" cy="131.5"/><circle class="eb" cx="54.3" cy="132.8"/><circle class="ep" cx="56.4" cy="131.9"/><circle class="ep" cx="88.8" cy="121.4"/><circle class="eu" cx="66.2" cy="131.6"/><circle class="ep" cx="41.1" cy="135.2"/><circle class="ep" cx="52.1" cy="134.3"/><circle class="eb" cx="48.5" cy="135.1"/><circle class="ep" cx="51.1" cy="134.3"/><circle class="el" cx="57.2" cy="132.4"/><circle class="ep" cx="91.7" cy="121.1"/><circle class="ep" cx="80.7" cy="130.0"/><circle class="ep" cx="41.3" cy="135.5"/><circle class="ep" cx="58.6" cy="130.5"/><circle class="eb" cx="65.4" cy="132.4"/><circle class="ep" cx="57.3" cy="134.3"/><circle class="ep" cx="43.3" cy="135.5"/><circle class="eb" cx="67.2" cy="130.7"/><circle class="ep" cx="58.6" cy="133.5"/><circle class="ep" cx="50.1" cy="134.6"/><circle class="eb" cx="48.2" cy="133.1"/><circle class="ep" cx="93.6" cy="118.6"/><circle class="ep" cx="68.2" cy="132.8"/><circle class="ep" cx="52.0" cy="134.7"/><circle class="ep" cx="86.0" cy="123.1"/><circle class="ep" cx="59.4" cy="134.7"/><circle class="eb" cx="68.1" cy="133.4"/><circle class="ep" cx="58.5" cy="133.5"/><circle class="ep" cx="41.3" cy="135.8"/><circle class="eb" cx="66.1" cy="129.3"/><circle class="ep" cx="61.9" cy="131.1"/><circle class="ep" cx="80.5" cy="127.4"/><circle class="ep" cx="53.7" cy="132.5"/><circle class="np" cx="68.2" cy="130.9"/><circle class="ep" cx="43.8" cy="134.4"/><circle class="eb" cx="68.8" cy="131.6"/><circle class="np" cx="55.3" cy="134.5"/><circle class="ep" cx="53.7" cy="132.9"/><circle class="ep" cx="45.5" cy="134.5"/><circle class="ep" cx="53.3" cy="132.8"/><circle class="ep" cx="74.0" cy="128.9"/><circle class="el" cx="61.2" cy="132.0"/><circle class="ep" cx="91.8" cy="127.5"/><circle class="ep" cx="46.9" cy="132.2"/><circle class="ep" cx="72.3" cy="132.0"/><circle class="eb" cx="59.4" cy="130.5"/><circle class="ep" cx="41.8" cy="135.7"/><circle class="el" cx="70.0" cy="131.9"/><circle class="nb" cx="107.1" cy="106.5"/><circle class="ep" cx="70.4" cy="131.0"/><circle class="ep" cx="109.6" cy="126.5"/><circle class="ep" cx="45.5" cy="134.6"/><circle class="ep" cx="57.1" cy="132.6"/><circle class="ep" cx="48.8" cy="134.6"/><circle class="nl" cx="85.2" cy="131.7"/><circle class="ep" cx="63.1" cy="134.1"/><circle class="ep" cx="47.7" cy="135.3"/><circle class="ep" cx="50.1" cy="132.4"/><circle class="eb" cx="55.5" cy="134.0"/><circle class="ep" cx="56.4" cy="129.2"/><circle class="eb" cx="78.7" cy="125.8"/><circle class="ep" cx="51.7" cy="134.5"/><circle class="ep" cx="72.0" cy="130.6"/><circle class="el" cx="102.0" cy="124.4"/><circle class="ep" cx="46.5" cy="135.3"/><circle class="ep" cx="52.1" cy="134.0"/><circle class="ep" cx="82.2" cy="130.6"/><circle class="eb" cx="58.5" cy="134.5"/><circle class="ep" cx="85.4" cy="129.1"/><circle class="ep" cx="46.7" cy="135.5"/><circle class="ep" cx="46.6" cy="135.3"/><circle class="el" cx="69.2" cy="132.4"/><circle class="ep" cx="55.2" cy="134.0"/><circle class="ep" cx="52.3" cy="134.9"/><circle class="eb" cx="89.0" cy="120.4"/><circle class="np" cx="70.7" cy="128.4"/><circle class="eb" cx="81.2" cy="129.6"/><circle class="eb" cx="63.2" cy="133.0"/><circle class="eu" cx="67.0" cy="130.0"/><circle class="ep" cx="42.4" cy="135.3"/><circle class="el" cx="49.0" cy="133.9"/><circle class="ep" cx="70.7" cy="133.9"/><circle class="ep" cx="73.4" cy="129.2"/><circle class="el" cx="87.3" cy="130.2"/><circle class="ep" cx="95.0" cy="128.2"/><circle class="el" cx="62.7" cy="130.3"/><circle class="ep" cx="51.8" cy="132.8"/><circle class="ep" cx="65.6" cy="132.4"/><circle class="ep" cx="45.4" cy="134.1"/><circle class="el" cx="43.2" cy="134.0"/><circle class="ep" cx="48.2" cy="135.1"/><circle class="ep" cx="46.8" cy="134.2"/><circle class="ep" cx="46.5" cy="135.1"/><circle class="ep" cx="45.0" cy="135.3"/><circle class="ep" cx="51.1" cy="131.9"/><circle class="ep" cx="63.5" cy="131.5"/><circle class="ep" cx="46.0" cy="134.3"/><circle class="ep" cx="48.7" cy="134.9"/><circle class="ep" cx="62.1" cy="131.3"/><circle class="ep" cx="88.5" cy="119.9"/><circle class="ep" cx="62.2" cy="133.8"/><circle class="eb" cx="53.7" cy="131.8"/><circle class="ep" cx="46.7" cy="135.2"/><circle class="ep" cx="100.0" cy="124.2"/><circle class="ep" cx="48.4" cy="135.3"/><circle class="ep" cx="70.5" cy="128.1"/><circle class="ep" cx="86.9" cy="129.2"/><circle class="ep" cx="48.8" cy="134.9"/><circle class="ep" cx="49.1" cy="134.3"/><circle class="ep" cx="70.7" cy="132.6"/><circle class="np" cx="59.9" cy="133.2"/><circle class="ep" cx="54.6" cy="128.3"/><circle class="ep" cx="50.2" cy="135.1"/><circle class="ep" cx="65.1" cy="132.8"/><circle class="ep" cx="72.1" cy="125.8"/><circle class="ep" cx="59.4" cy="133.0"/><circle class="ep" cx="51.3" cy="133.0"/><circle class="ep" cx="52.9" cy="131.7"/><circle class="ep" cx="55.6" cy="134.6"/><circle class="ep" cx="57.4" cy="124.7"/><circle class="ep" cx="77.8" cy="127.8"/><circle class="ep" cx="60.2" cy="134.3"/><circle class="ep" cx="53.1" cy="128.6"/><circle class="np" cx="42.6" cy="135.5"/><circle class="ep" cx="41.0" cy="135.9"/><circle class="ep" cx="58.4" cy="133.7"/><circle class="eb" cx="54.4" cy="134.1"/><circle class="ep" cx="44.9" cy="133.3"/><circle class="ep" cx="41.6" cy="135.5"/><circle class="eb" cx="78.3" cy="130.7"/><circle class="ep" cx="73.9" cy="132.4"/><circle class="ep" cx="68.9" cy="127.2"/><circle class="ep" cx="74.0" cy="127.6"/><circle class="ep" cx="55.1" cy="133.9"/><circle class="ep" cx="68.1" cy="133.7"/><circle class="ep" cx="49.4" cy="132.4"/><circle class="el" cx="80.0" cy="129.8"/><circle class="ep" cx="79.4" cy="122.7"/><circle class="np" cx="53.5" cy="131.8"/><circle class="ep" cx="45.3" cy="134.6"/><circle class="ep" cx="66.2" cy="133.0"/><circle class="el" cx="59.5" cy="132.4"/><circle class="eb" cx="48.0" cy="134.0"/><circle class="np" cx="78.8" cy="132.8"/><circle class="ep" cx="60.3" cy="133.1"/><circle class="ep" cx="81.4" cy="124.2"/><circle class="ep" cx="80.1" cy="124.7"/><circle class="np" cx="40.4" cy="135.7"/><circle class="ep" cx="43.5" cy="134.2"/><circle class="ep" cx="44.6" cy="135.7"/><circle class="ep" cx="69.5" cy="124.5"/><circle class="eb" cx="54.3" cy="131.9"/><circle class="np" cx="69.1" cy="128.6"/><circle class="ep" cx="96.5" cy="123.0"/><circle class="ep" cx="54.9" cy="134.0"/><circle class="ep" cx="87.7" cy="131.2"/><circle class="ep" cx="54.2" cy="131.2"/><circle class="eb" cx="49.7" cy="133.1"/><circle class="ep" cx="40.5" cy="135.9"/><circle class="ep" cx="67.5" cy="131.8"/><circle class="np" cx="87.3" cy="129.1"/><circle class="el" cx="118.7" cy="125.5"/><circle class="ep" cx="50.3" cy="134.1"/><circle class="eb" cx="47.5" cy="134.8"/><circle class="np" cx="48.5" cy="133.6"/><circle class="ep" cx="79.7" cy="124.3"/><circle class="ep" cx="54.0" cy="133.1"/><circle class="el" cx="67.4" cy="129.4"/><circle class="ep" cx="57.3" cy="134.6"/><circle class="eb" cx="50.1" cy="134.3"/><circle class="eb" cx="68.4" cy="130.7"/><circle class="ep" cx="65.8" cy="128.3"/><circle class="ep" cx="40.2" cy="135.7"/><circle class="el" cx="71.1" cy="133.1"/><circle class="ep" cx="52.2" cy="134.2"/><circle class="ep" cx="48.7" cy="134.3"/><circle class="ep" cx="84.2" cy="128.7"/><circle class="ep" cx="41.0" cy="136.0"/><circle class="nb" cx="52.7" cy="131.8"/><circle class="ep" cx="80.6" cy="129.0"/><circle class="ep" cx="90.5" cy="125.7"/><circle class="eb" cx="54.6" cy="130.7"/><circle class="el" cx="69.2" cy="126.2"/><circle class="ep" cx="88.9" cy="131.3"/><circle class="ep" cx="50.5" cy="134.6"/><circle class="ep" cx="80.6" cy="129.9"/><circle class="ep" cx="57.5" cy="133.1"/><circle class="ep" cx="51.5" cy="129.8"/><circle class="ep" cx="47.8" cy="134.9"/><circle class="ep" cx="110.0" cy="128.6"/><circle class="ep" cx="49.0" cy="134.9"/><circle class="eb" cx="49.3" cy="133.2"/><circle class="ep" cx="49.3" cy="134.3"/><circle class="ep" cx="62.0" cy="132.1"/><circle class="ep" cx="62.2" cy="133.8"/><circle class="el" cx="70.8" cy="130.8"/><circle class="el" cx="84.4" cy="121.3"/><circle class="np" cx="45.2" cy="135.1"/><circle class="ep" cx="66.2" cy="130.0"/><circle class="np" cx="59.5" cy="133.4"/><circle class="ep" cx="43.0" cy="135.5"/><circle class="ep" cx="97.1" cy="123.2"/><circle class="np" cx="59.2" cy="133.4"/><circle class="ep" cx="73.1" cy="133.4"/><circle class="ep" cx="46.0" cy="135.6"/><circle class="ep" cx="53.4" cy="135.0"/><circle class="ep" cx="60.6" cy="130.5"/><circle class="el" cx="44.8" cy="134.3"/><circle class="ep" cx="61.0" cy="127.2"/><circle class="ep" cx="76.0" cy="127.0"/><circle class="ep" cx="64.2" cy="132.9"/><circle class="eb" cx="54.0" cy="134.1"/><circle class="ep" cx="77.9" cy="125.6"/><circle class="ep" cx="77.1" cy="131.1"/><circle class="ep" cx="60.6" cy="134.8"/><circle class="ep" cx="88.3" cy="125.6"/><circle class="ep" cx="54.7" cy="133.6"/><circle class="ep" cx="71.7" cy="131.7"/><circle class="ep" cx="72.7" cy="132.1"/><circle class="ep" cx="46.0" cy="134.9"/><circle class="ep" cx="50.8" cy="133.7"/><circle class="eb" cx="61.2" cy="132.6"/><circle class="np" cx="40.3" cy="134.9"/><circle class="ep" cx="58.6" cy="131.4"/><circle class="ep" cx="68.8" cy="127.1"/><circle class="ep" cx="40.3" cy="135.4"/><circle class="ep" cx="49.6" cy="132.0"/><circle class="np" cx="78.5" cy="131.8"/><circle class="ep" cx="68.0" cy="132.3"/><circle class="ep" cx="68.9" cy="131.9"/><circle class="ep" cx="73.1" cy="129.8"/><circle class="ep" cx="55.0" cy="133.9"/><circle class="ep" cx="47.9" cy="134.8"/><circle class="ep" cx="60.9" cy="133.1"/><circle class="ep" cx="65.6" cy="128.7"/><circle class="eb" cx="80.3" cy="123.5"/><circle class="ep" cx="42.7" cy="134.8"/><circle class="ep" cx="49.0" cy="135.3"/><circle class="ep" cx="42.8" cy="135.7"/><circle class="ep" cx="44.3" cy="134.8"/><circle class="ep" cx="57.7" cy="130.4"/><circle class="ep" cx="43.2" cy="135.8"/><circle class="ep" cx="49.0" cy="134.1"/><circle class="ep" cx="42.6" cy="135.5"/><circle class="ep" cx="43.7" cy="135.7"/><circle class="ep" cx="70.4" cy="133.2"/><circle class="np" cx="45.5" cy="135.1"/><circle class="np" cx="57.0" cy="129.0"/><circle class="ep" cx="74.7" cy="131.9"/><circle class="ep" cx="63.0" cy="132.5"/><circle class="ep" cx="87.7" cy="129.6"/><circle class="ep" cx="63.3" cy="130.6"/><circle class="np" cx="98.8" cy="117.7"/><circle class="ep" cx="141.4" cy="114.6"/><circle class="np" cx="111.7" cy="131.5"/><circle class="ep" cx="87.1" cy="130.0"/><circle class="np" cx="66.8" cy="128.2"/><circle class="ep" cx="80.7" cy="130.7"/><circle class="nl" cx="95.3" cy="124.7"/><circle class="nl" cx="129.8" cy="111.4"/><circle class="nl" cx="65.4" cy="130.1"/><circle class="ep" cx="62.5" cy="129.6"/><circle class="ep" cx="89.8" cy="130.7"/><circle class="ep" cx="123.4" cy="95.9"/><circle class="np" cx="97.0" cy="116.2"/><circle class="ep" cx="57.3" cy="135.1"/><circle class="ep" cx="94.8" cy="125.4"/><circle class="np" cx="151.3" cy="118.7"/><circle class="np" cx="71.2" cy="124.5"/><circle class="np" cx="67.9" cy="134.0"/><circle class="ep" cx="83.7" cy="134.0"/><circle class="np" cx="65.5" cy="132.8"/><circle class="np" cx="76.7" cy="129.6"/><circle class="nb" cx="72.2" cy="126.9"/><circle class="ep" cx="158.4" cy="116.8"/><circle class="ep" cx="75.0" cy="128.1"/><circle class="np" cx="81.1" cy="125.0"/><circle class="ep" cx="84.3" cy="128.7"/><circle class="np" cx="85.4" cy="123.5"/><circle class="ep" cx="60.3" cy="134.8"/><circle class="np" cx="84.1" cy="129.7"/><circle class="ep" cx="99.1" cy="113.9"/><circle class="ep" cx="90.6" cy="113.1"/><circle class="np" cx="69.9" cy="128.3"/><circle class="nl" cx="60.2" cy="130.3"/><circle class="np" cx="85.7" cy="133.4"/><circle class="eb" cx="145.1" cy="121.6"/><circle class="np" cx="70.7" cy="118.4"/><circle class="np" cx="132.3" cy="87.1"/><circle class="np" cx="138.6" cy="113.9"/><circle class="nb" cx="143.6" cy="129.2"/><circle class="np" cx="80.2" cy="130.8"/><circle class="np" cx="117.8" cy="112.8"/><circle class="ep" cx="55.0" cy="133.6"/><circle class="el" cx="117.1" cy="130.7"/><circle class="el" cx="78.4" cy="128.1"/><circle class="np" cx="77.9" cy="132.0"/><circle class="np" cx="129.6" cy="114.5"/><circle class="np" cx="70.0" cy="131.3"/><circle class="ep" cx="115.9" cy="118.0"/><circle class="eb" cx="79.4" cy="125.7"/><circle class="eb" cx="104.3" cy="54.0"/><circle class="ep" cx="79.0" cy="130.9"/><circle class="nb" cx="82.9" cy="127.0"/><circle class="np" cx="70.1" cy="119.0"/><circle class="ep" cx="95.0" cy="127.0"/><circle class="nb" cx="102.5" cy="125.4"/><circle class="nl" cx="158.0" cy="95.0"/><circle class="ep" cx="96.3" cy="121.6"/><circle class="ep" cx="81.7" cy="115.1"/><circle class="ep" cx="98.0" cy="114.8"/><circle class="nl" cx="100.7" cy="128.9"/><circle class="np" cx="149.9" cy="121.0"/><circle class="nl" cx="66.0" cy="133.0"/><circle class="np" cx="125.3" cy="129.9"/><circle class="np" cx="76.9" cy="133.9"/><circle class="ep" cx="105.5" cy="91.2"/><circle class="nb" cx="66.3" cy="128.1"/><circle class="eb" cx="85.5" cy="126.7"/><circle class="np" cx="65.3" cy="127.9"/><circle class="np" cx="68.9" cy="132.2"/><circle class="np" cx="67.2" cy="134.0"/><circle class="nb" cx="95.9" cy="127.2"/><circle class="ep" cx="77.3" cy="106.5"/><circle class="ep" cx="73.2" cy="111.6"/><circle class="eb" cx="81.6" cy="131.8"/><circle class="np" cx="83.8" cy="131.8"/><circle class="eb" cx="136.1" cy="117.9"/><circle class="ep" cx="145.7" cy="116.6"/><circle class="nb" cx="112.7" cy="127.0"/><circle class="np" cx="84.4" cy="111.3"/><circle class="np" cx="64.0" cy="133.2"/><circle class="np" cx="66.5" cy="132.0"/><circle class="ep" cx="76.4" cy="117.0"/><circle class="ep" cx="70.5" cy="120.2"/><circle class="np" cx="64.7" cy="134.2"/><circle class="np" cx="97.3" cy="124.9"/><circle class="ep" cx="75.2" cy="131.0"/><circle class="np" cx="97.7" cy="121.6"/><circle class="nb" cx="64.8" cy="131.0"/><circle class="ep" cx="54.9" cy="131.8"/><circle class="np" cx="98.5" cy="120.9"/><circle class="eb" cx="81.0" cy="121.4"/><circle class="np" cx="72.8" cy="133.3"/><circle class="np" cx="105.4" cy="124.5"/><circle class="np" cx="67.7" cy="133.1"/><circle class="np" cx="76.9" cy="131.1"/><circle class="ep" cx="57.9" cy="135.6"/><circle class="ep" cx="130.7" cy="95.9"/><circle class="eb" cx="62.7" cy="128.8"/><circle class="ep" cx="86.8" cy="114.9"/><circle class="np" cx="75.2" cy="135.3"/><circle class="np" cx="91.4" cy="115.8"/><circle class="ep" cx="72.5" cy="115.5"/><circle class="nb" cx="93.5" cy="125.6"/><circle class="ep" cx="87.8" cy="129.9"/><circle class="ep" cx="78.5" cy="125.9"/><circle class="np" cx="84.4" cy="114.6"/><circle class="np" cx="70.5" cy="132.3"/><circle class="ep" cx="63.3" cy="131.9"/><circle class="np" cx="153.1" cy="106.0"/><circle class="ep" cx="61.6" cy="129.6"/><circle class="ep" cx="129.3" cy="109.7"/><circle class="eb" cx="96.6" cy="130.5"/><circle class="ep" cx="90.3" cy="134.2"/><circle class="np" cx="99.6" cy="114.3"/><circle class="ep" cx="74.5" cy="121.6"/><circle class="np" cx="101.9" cy="120.0"/><circle class="np" cx="95.3" cy="124.9"/><circle class="np" cx="58.9" cy="133.2"/><circle class="np" cx="66.6" cy="130.8"/><circle class="ep" cx="59.8" cy="133.3"/><circle class="np" cx="66.5" cy="132.9"/><circle class="np" cx="58.2" cy="131.8"/><circle class="nl" cx="93.3" cy="107.1"/><circle class="ep" cx="93.9" cy="129.0"/><circle class="ep" cx="83.6" cy="128.4"/><circle class="el" cx="105.7" cy="94.3"/><circle class="nl" cx="86.8" cy="128.7"/><circle class="el" cx="104.6" cy="123.9"/><circle class="ep" cx="72.5" cy="122.1"/><circle class="ep" cx="57.7" cy="133.7"/><circle class="np" cx="103.2" cy="88.7"/><circle class="np" cx="58.7" cy="134.9"/><circle class="nb" cx="128.6" cy="125.2"/><circle class="np" cx="84.2" cy="112.2"/><circle class="np" cx="83.9" cy="129.2"/><circle class="el" cx="119.8" cy="131.3"/><circle class="ep" cx="72.9" cy="132.8"/><circle class="ep" cx="123.9" cy="119.0"/><circle class="nl" cx="120.2" cy="121.5"/><circle class="np" cx="82.5" cy="122.3"/><circle class="np" cx="57.8" cy="125.1"/><circle class="nl" cx="80.0" cy="124.4"/><circle class="np" cx="85.9" cy="127.6"/><circle class="nb" cx="93.6" cy="131.6"/><circle class="np" cx="84.8" cy="104.9"/><circle class="nl" cx="100.5" cy="130.9"/><circle class="np" cx="62.4" cy="128.9"/><circle class="ep" cx="75.5" cy="131.6"/><circle class="np" cx="70.5" cy="126.9"/><circle class="nl" cx="74.2" cy="113.8"/><circle class="nb" cx="84.5" cy="132.3"/><circle class="ep" cx="97.0" cy="114.4"/><circle class="np" cx="82.8" cy="133.8"/><circle class="ep" cx="62.9" cy="133.1"/><circle class="ep" cx="101.3" cy="129.0"/><circle class="eb" cx="121.2" cy="117.6"/><circle class="nl" cx="90.0" cy="118.9"/><circle class="ep" cx="137.0" cy="125.0"/><circle class="eb" cx="80.5" cy="88.8"/><circle class="ep" cx="68.6" cy="124.0"/><circle class="nl" cx="80.4" cy="126.5"/><circle class="ep" cx="62.4" cy="130.5"/><circle class="np" cx="113.5" cy="122.0"/><circle class="np" cx="59.9" cy="136.3"/><circle class="np" cx="63.2" cy="127.2"/><circle class="ep" cx="112.4" cy="104.2"/><circle class="np" cx="90.5" cy="108.3"/><circle class="ep" cx="105.9" cy="122.3"/><circle class="el" cx="77.5" cy="113.6"/><circle class="np" cx="103.9" cy="109.1"/><circle class="eb" cx="81.4" cy="132.9"/><circle class="ep" cx="152.0" cy="120.4"/><circle class="nb" cx="100.7" cy="128.6"/><circle class="eb" cx="123.4" cy="115.9"/><circle class="np" cx="67.8" cy="131.8"/><circle class="ep" cx="77.5" cy="126.6"/><circle class="ep" cx="106.9" cy="126.4"/><circle class="np" cx="58.7" cy="132.5"/><circle class="np" cx="67.0" cy="133.0"/><circle class="ep" cx="121.2" cy="123.8"/><circle class="ep" cx="94.6" cy="123.4"/><circle class="np" cx="63.5" cy="129.8"/><circle class="ep" cx="88.9" cy="121.6"/><circle class="ep" cx="99.6" cy="129.7"/><circle class="eb" cx="107.0" cy="106.3"/><circle class="eb" cx="62.9" cy="122.1"/><circle class="nb" cx="65.9" cy="130.1"/><circle class="np" cx="63.2" cy="126.3"/><circle class="ep" cx="58.0" cy="133.2"/><circle class="np" cx="133.3" cy="113.1"/><circle class="ep" cx="88.3" cy="107.3"/><circle class="ep" cx="56.7" cy="130.9"/><circle class="ep" cx="80.5" cy="131.0"/><circle class="ep" cx="119.2" cy="124.5"/><circle class="np" cx="120.6" cy="103.1"/><circle class="np" cx="66.6" cy="130.0"/><circle class="ep" cx="80.0" cy="132.9"/><circle class="np" cx="86.1" cy="114.2"/><circle class="np" cx="72.6" cy="125.0"/><circle class="np" cx="117.0" cy="84.2"/><circle class="np" cx="63.0" cy="130.5"/><circle class="el" cx="116.0" cy="115.5"/><circle class="np" cx="138.8" cy="111.4"/><circle class="ep" cx="122.2" cy="129.4"/><circle class="ep" cx="67.4" cy="131.3"/><circle class="ep" cx="53.9" cy="132.0"/><circle class="ep" cx="97.3" cy="111.8"/><circle class="np" cx="145.0" cy="123.4"/><circle class="np" cx="87.5" cy="131.9"/><circle class="np" cx="119.3" cy="111.4"/><circle class="np" cx="61.1" cy="133.9"/><circle class="ep" cx="70.1" cy="127.8"/><circle class="el" cx="63.7" cy="129.5"/><circle class="ep" cx="61.1" cy="131.7"/><circle class="ep" cx="125.4" cy="101.3"/><circle class="nb" cx="83.9" cy="133.5"/><circle class="nl" cx="66.8" cy="128.8"/><circle class="np" cx="120.2" cy="122.8"/><circle class="nb" cx="71.4" cy="131.9"/><circle class="nb" cx="96.7" cy="124.3"/><circle class="el" cx="95.6" cy="104.5"/><circle class="ep" cx="104.9" cy="125.7"/><circle class="ep" cx="54.3" cy="135.2"/><circle class="nl" cx="127.4" cy="73.9"/><circle class="np" cx="78.1" cy="121.8"/><circle class="ep" cx="104.7" cy="119.7"/><circle class="eb" cx="101.4" cy="127.9"/><circle class="el" cx="67.2" cy="132.1"/><circle class="nl" cx="68.5" cy="132.0"/><circle class="eb" cx="86.0" cy="122.6"/><circle class="np" cx="72.0" cy="126.0"/><circle class="ep" cx="146.8" cy="120.4"/><circle class="np" cx="88.1" cy="128.7"/><circle class="np" cx="105.6" cy="120.1"/><circle class="np" cx="84.2" cy="134.3"/><circle class="np" cx="93.3" cy="86.1"/><circle class="np" cx="95.2" cy="128.5"/><circle class="ep" cx="99.7" cy="128.3"/><circle class="nl" cx="91.9" cy="128.9"/><circle class="np" cx="56.0" cy="127.5"/><circle class="el" cx="67.5" cy="131.4"/><circle class="ep" cx="79.3" cy="131.6"/><circle class="nb" cx="137.5" cy="103.7"/><circle class="nb" cx="135.4" cy="113.4"/><circle class="np" cx="148.7" cy="125.2"/><circle class="nl" cx="53.2" cy="135.1"/><circle class="np" cx="101.5" cy="127.2"/><circle class="ep" cx="87.6" cy="130.0"/><circle class="ep" cx="85.3" cy="132.9"/><circle class="np" cx="53.0" cy="129.1"/><circle class="np" cx="127.6" cy="122.6"/><circle class="ep" cx="154.7" cy="120.7"/><circle class="np" cx="74.2" cy="132.1"/><circle class="np" cx="68.5" cy="122.1"/><circle class="nb" cx="74.1" cy="118.8"/><circle class="np" cx="78.0" cy="131.5"/><circle class="np" cx="123.5" cy="72.2"/><circle class="ep" cx="61.9" cy="132.0"/><circle class="ep" cx="60.9" cy="134.2"/><circle class="ep" cx="64.1" cy="118.1"/><circle class="np" cx="83.1" cy="104.3"/><circle class="np" cx="77.5" cy="131.1"/><circle class="ep" cx="83.9" cy="115.4"/><circle class="ep" cx="97.3" cy="133.7"/><circle class="np" cx="101.3" cy="128.2"/><circle class="np" cx="82.3" cy="127.9"/><circle class="ep" cx="77.5" cy="129.3"/><circle class="ep" cx="102.2" cy="90.9"/><circle class="ep" cx="85.5" cy="133.5"/><circle class="np" cx="119.2" cy="124.9"/><circle class="np" cx="83.1" cy="115.7"/><circle class="eb" cx="91.4" cy="105.5"/><circle class="eb" cx="73.5" cy="129.5"/><circle class="ep" cx="80.1" cy="130.4"/><circle class="nb" cx="65.9" cy="128.3"/><circle class="ep" cx="95.9" cy="128.7"/><circle class="eb" cx="65.5" cy="130.7"/><circle class="np" cx="83.9" cy="117.9"/><circle class="ep" cx="70.0" cy="129.0"/><circle class="ep" cx="69.2" cy="132.1"/><circle class="np" cx="79.4" cy="119.9"/><circle class="el" cx="130.3" cy="133.5"/><circle class="np" cx="67.6" cy="124.7"/><circle class="ep" cx="88.1" cy="125.4"/><circle class="nb" cx="105.1" cy="128.5"/><circle class="np" cx="93.6" cy="118.3"/><circle class="ep" cx="62.5" cy="129.6"/><circle class="el" cx="71.6" cy="130.4"/><circle class="ep" cx="89.8" cy="124.2"/><circle class="el" cx="91.8" cy="73.9"/><circle class="np" cx="65.7" cy="132.7"/><circle class="np" cx="76.5" cy="106.5"/><circle class="np" cx="88.6" cy="119.0"/><circle class="ep" cx="68.4" cy="133.1"/><circle class="np" cx="83.0" cy="129.9"/><circle class="ep" cx="105.6" cy="128.5"/><circle class="np" cx="80.7" cy="124.9"/><circle class="ep" cx="54.3" cy="135.8"/><circle class="np" cx="67.2" cy="129.0"/><circle class="np" cx="81.3" cy="133.9"/><circle class="np" cx="71.3" cy="129.9"/><circle class="np" cx="68.3" cy="115.5"/><circle class="np" cx="107.9" cy="119.6"/><circle class="ep" cx="132.4" cy="126.8"/><circle class="ep" cx="150.7" cy="97.4"/><circle class="np" cx="64.6" cy="134.8"/><circle class="np" cx="67.0" cy="133.4"/><circle class="ep" cx="135.0" cy="109.4"/><circle class="ep" cx="72.0" cy="133.5"/><circle class="ep" cx="107.7" cy="129.9"/><circle class="np" cx="129.9" cy="120.3"/><circle class="np" cx="62.3" cy="117.2"/><circle class="nl" cx="80.7" cy="118.7"/><circle class="el" cx="69.0" cy="119.2"/><circle class="np" cx="90.5" cy="129.3"/><circle class="ep" cx="116.5" cy="110.6"/><circle class="np" cx="62.6" cy="128.8"/><circle class="np" cx="55.4" cy="127.5"/><circle class="nl" cx="139.9" cy="59.9"/><circle class="np" cx="70.3" cy="126.6"/><circle class="np" cx="87.7" cy="132.8"/><circle class="np" cx="77.8" cy="133.6"/><circle class="np" cx="96.7" cy="130.8"/><circle class="ep" cx="121.1" cy="127.7"/><circle class="nb" cx="139.7" cy="108.7"/><circle class="np" cx="92.5" cy="121.3"/><circle class="np" cx="89.6" cy="127.4"/><circle class="np" cx="96.4" cy="118.5"/><circle class="np" cx="97.0" cy="123.1"/><circle class="ep" cx="101.6" cy="109.6"/><circle class="nb" cx="67.2" cy="134.2"/><circle class="ep" cx="112.0" cy="119.4"/><circle class="np" cx="73.6" cy="119.5"/><circle class="np" cx="69.3" cy="113.9"/><circle class="nb" cx="134.5" cy="123.5"/><circle class="ep" cx="62.0" cy="128.7"/><circle class="ep" cx="98.0" cy="124.6"/><circle class="np" cx="84.7" cy="125.2"/><circle class="np" cx="95.0" cy="125.4"/><circle class="eb" cx="74.7" cy="128.9"/><circle class="nl" cx="62.1" cy="114.3"/><circle class="el" cx="87.3" cy="117.4"/><circle class="np" cx="130.1" cy="115.3"/><circle class="ep" cx="131.2" cy="92.3"/><circle class="ep" cx="63.1" cy="118.6"/><circle class="np" cx="69.7" cy="133.6"/><circle class="nb" cx="129.1" cy="106.2"/><circle class="ep" cx="85.2" cy="90.3"/><circle class="ep" cx="68.2" cy="131.9"/><circle class="el" cx="83.9" cy="126.8"/><circle class="np" cx="94.3" cy="129.4"/><circle class="ep" cx="101.8" cy="113.6"/><circle class="ep" cx="81.9" cy="124.2"/><circle class="ep" cx="100.7" cy="118.1"/><circle class="ep" cx="53.8" cy="134.4"/><circle class="el" cx="79.5" cy="115.1"/><circle class="el" cx="114.0" cy="130.6"/><circle class="nl" cx="57.8" cy="133.5"/><circle class="np" cx="91.8" cy="118.0"/><circle class="np" cx="72.1" cy="129.1"/><circle class="nb" cx="66.5" cy="120.1"/><circle class="np" cx="58.3" cy="133.6"/><circle class="np" cx="101.8" cy="100.0"/><circle class="ep" cx="76.0" cy="126.8"/><circle class="np" cx="111.8" cy="113.2"/><circle class="np" cx="62.3" cy="134.3"/><circle class="ep" cx="135.5" cy="107.8"/><circle class="ep" cx="82.4" cy="123.8"/><circle class="el" cx="85.8" cy="127.7"/><circle class="ep" cx="72.9" cy="130.2"/><circle class="np" cx="58.5" cy="131.3"/><circle class="ep" cx="81.6" cy="123.0"/><circle class="nl" cx="92.5" cy="125.9"/><circle class="eb" cx="150.3" cy="121.6"/><circle class="ep" cx="86.1" cy="126.6"/><circle class="np" cx="72.8" cy="120.2"/><circle class="nb" cx="76.6" cy="122.2"/><circle class="np" cx="111.6" cy="128.6"/><circle class="np" cx="77.6" cy="124.6"/><circle class="np" cx="115.2" cy="130.0"/><circle class="nb" cx="123.2" cy="116.1"/><circle class="np" cx="76.2" cy="130.7"/><circle class="np" cx="104.0" cy="115.8"/><circle class="np" cx="88.8" cy="134.1"/><circle class="np" cx="137.1" cy="112.5"/><circle class="ep" cx="126.9" cy="120.3"/><circle class="el" cx="79.4" cy="128.8"/><circle class="el" cx="66.8" cy="133.2"/><circle class="np" cx="116.7" cy="133.1"/><circle class="np" cx="56.7" cy="134.7"/><circle class="nb" cx="68.1" cy="127.2"/><circle class="np" cx="121.5" cy="128.5"/><circle class="ep" cx="64.4" cy="128.4"/><circle class="nl" cx="110.9" cy="108.0"/><circle class="el" cx="84.2" cy="131.2"/><circle class="np" cx="92.2" cy="131.1"/><circle class="ep" cx="121.1" cy="123.2"/><circle class="np" cx="57.0" cy="128.8"/><circle class="np" cx="70.4" cy="122.9"/><circle class="ep" cx="67.8" cy="133.0"/><circle class="np" cx="71.2" cy="130.5"/><circle class="ep" cx="61.4" cy="135.0"/><circle class="np" cx="63.4" cy="131.5"/><circle class="ep" cx="95.6" cy="126.5"/><circle class="ep" cx="98.0" cy="120.4"/><circle class="ep" cx="63.0" cy="130.7"/><circle class="np" cx="53.6" cy="130.9"/><circle class="ep" cx="88.5" cy="131.2"/><circle class="np" cx="70.8" cy="132.8"/><circle class="eb" cx="126.1" cy="117.6"/><circle class="el" cx="79.8" cy="122.6"/><circle class="ep" cx="65.9" cy="125.7"/><circle class="np" cx="101.3" cy="111.6"/><circle class="np" cx="85.2" cy="122.5"/><circle class="nb" cx="73.4" cy="127.9"/><circle class="ep" cx="93.4" cy="125.3"/><circle class="np" cx="61.3" cy="130.1"/><circle class="np" cx="67.3" cy="126.8"/><circle class="nl" cx="58.5" cy="133.8"/><circle class="np" cx="64.5" cy="133.0"/><circle class="np" cx="71.4" cy="129.8"/><circle class="nb" cx="65.4" cy="130.6"/><circle class="ep" cx="95.2" cy="127.2"/><circle class="ep" cx="109.2" cy="103.8"/><circle class="np" cx="79.1" cy="127.3"/><circle class="np" cx="82.1" cy="131.8"/><circle class="ep" cx="67.8" cy="128.5"/><circle class="ep" cx="74.7" cy="133.7"/><circle class="np" cx="83.9" cy="111.5"/><circle class="ep" cx="117.9" cy="127.4"/><circle class="np" cx="100.6" cy="121.6"/><circle class="np" cx="63.7" cy="132.0"/><circle class="eb" cx="77.6" cy="119.0"/><circle class="np" cx="62.8" cy="129.7"/><circle class="ep" cx="61.7" cy="130.5"/><circle class="np" cx="96.7" cy="125.8"/><circle class="np" cx="56.5" cy="132.4"/><circle class="ep" cx="117.6" cy="127.7"/><circle class="ep" cx="64.2" cy="135.0"/><circle class="ep" cx="64.0" cy="130.7"/><circle class="np" cx="64.5" cy="128.2"/><circle class="nl" cx="85.4" cy="111.5"/><circle class="ep" cx="81.2" cy="116.7"/><circle class="np" cx="83.6" cy="130.4"/><circle class="ep" cx="62.4" cy="134.8"/><circle class="ep" cx="60.4" cy="128.2"/><circle class="eb" cx="66.9" cy="133.0"/><circle class="ep" cx="84.8" cy="127.8"/><circle class="nl" cx="56.1" cy="133.2"/><circle class="el" cx="68.0" cy="134.5"/><circle class="np" cx="101.0" cy="112.4"/><circle class="ep" cx="119.4" cy="114.6"/><circle class="ep" cx="69.7" cy="119.2"/><circle class="np" cx="71.7" cy="133.2"/><circle class="np" cx="88.1" cy="132.6"/><circle class="np" cx="113.5" cy="128.6"/><circle class="np" cx="83.2" cy="94.0"/><circle class="nb" cx="80.4" cy="119.2"/><circle class="ep" cx="68.0" cy="134.7"/><circle class="np" cx="95.4" cy="129.4"/><circle class="nu" cx="74.8" cy="127.2"/><circle class="np" cx="127.5" cy="107.2"/><circle class="np" cx="145.0" cy="114.0"/><circle class="nl" cx="107.6" cy="120.3"/><circle class="np" cx="58.0" cy="128.0"/><circle class="el" cx="78.4" cy="120.4"/><circle class="ep" cx="92.1" cy="125.9"/><circle class="eb" cx="77.7" cy="126.7"/><circle class="nb" cx="109.1" cy="130.8"/><circle class="ep" cx="100.1" cy="123.8"/><circle class="np" cx="153.9" cy="104.7"/><circle class="np" cx="131.6" cy="132.1"/><circle class="np" cx="71.3" cy="126.5"/><circle class="np" cx="112.9" cy="127.9"/><circle class="ep" cx="90.9" cy="130.8"/><circle class="ep" cx="113.8" cy="120.4"/><circle class="nb" cx="65.5" cy="127.2"/><circle class="ep" cx="79.5" cy="99.6"/><circle class="eb" cx="82.7" cy="127.7"/><circle class="np" cx="121.5" cy="122.2"/><circle class="np" cx="78.6" cy="129.6"/><circle class="np" cx="89.2" cy="123.7"/><circle class="ep" cx="71.7" cy="132.3"/><circle class="ep" cx="95.8" cy="113.3"/><circle class="np" cx="64.1" cy="134.5"/><circle class="ep" cx="77.9" cy="114.2"/><circle class="ep" cx="88.5" cy="132.8"/><circle class="eb" cx="94.5" cy="128.7"/><circle class="ep" cx="65.7" cy="126.0"/><circle class="nb" cx="80.1" cy="107.8"/><circle class="nl" cx="95.1" cy="131.0"/><circle class="ep" cx="92.2" cy="130.8"/><circle class="ep" cx="58.8" cy="133.1"/><circle class="ep" cx="100.7" cy="118.1"/><circle class="ep" cx="125.5" cy="108.2"/><circle class="eb" cx="78.9" cy="109.1"/><circle class="ep" cx="91.5" cy="129.6"/><circle class="np" cx="148.2" cy="104.6"/><circle class="nb" cx="79.4" cy="106.4"/><circle class="ep" cx="105.1" cy="121.5"/><circle class="np" cx="76.3" cy="110.2"/><circle class="np" cx="83.0" cy="128.4"/><circle class="ep" cx="65.9" cy="128.7"/><circle class="np" cx="115.9" cy="110.3"/><circle class="np" cx="70.1" cy="122.6"/><circle class="np" cx="68.0" cy="130.3"/><circle class="ep" cx="130.9" cy="110.5"/><circle class="np" cx="80.6" cy="131.4"/><circle class="np" cx="69.1" cy="134.3"/><circle class="np" cx="93.0" cy="121.9"/><circle class="nb" cx="122.5" cy="130.9"/><circle class="ep" cx="72.3" cy="132.4"/><circle class="np" cx="68.9" cy="129.3"/><circle class="ep" cx="58.7" cy="130.1"/><circle class="np" cx="70.8" cy="127.1"/><circle class="np" cx="134.4" cy="115.4"/><circle class="np" cx="57.6" cy="127.3"/><circle class="ep" cx="115.2" cy="110.6"/><circle class="np" cx="158.0" cy="122.0"/><circle class="ep" cx="81.0" cy="132.9"/><circle class="np" cx="128.9" cy="136.0"/><circle class="np" cx="60.0" cy="136.1"/><circle class="ep" cx="84.0" cy="136.1"/><circle class="nb" cx="81.1" cy="116.5"/><circle class="np" cx="56.2" cy="128.6"/><circle class="np" cx="106.0" cy="133.1"/><circle class="eb" cx="122.8" cy="108.3"/><circle class="np" cx="61.1" cy="133.1"/><circle class="np" cx="156.3" cy="136.5"/><circle class="np" cx="95.8" cy="134.3"/><circle class="el" cx="111.4" cy="132.4"/><circle class="np" cx="132.8" cy="125.8"/><circle class="ep" cx="130.4" cy="126.8"/><circle class="np" cx="71.9" cy="124.7"/><circle class="ep" cx="77.6" cy="134.6"/><circle class="np" cx="80.9" cy="119.5"/><circle class="ep" cx="118.3" cy="132.0"/><circle class="np" cx="61.0" cy="134.3"/><circle class="np" cx="76.8" cy="118.1"/><circle class="nb" cx="147.8" cy="113.7"/><circle class="eb" cx="149.4" cy="136.6"/><circle class="np" cx="104.7" cy="131.1"/><circle class="ep" cx="90.8" cy="110.2"/><circle class="np" cx="107.0" cy="132.4"/><circle class="np" cx="75.3" cy="135.5"/><circle class="ep" cx="143.7" cy="110.7"/><circle class="ep" cx="69.0" cy="127.5"/><circle class="np" cx="86.4" cy="114.7"/><circle class="eb" cx="118.5" cy="125.1"/><circle class="np" cx="117.5" cy="136.6"/><circle class="np" cx="90.5" cy="129.1"/><circle class="np" cx="151.0" cy="123.5"/><circle class="ep" cx="75.3" cy="134.1"/><circle class="eb" cx="88.7" cy="129.0"/><circle class="el" cx="75.7" cy="132.7"/><circle class="nb" cx="117.0" cy="135.8"/><circle class="np" cx="72.3" cy="120.1"/><circle class="nb" cx="53.8" cy="134.9"/><circle class="np" cx="149.4" cy="131.9"/><circle class="nb" cx="115.3" cy="125.5"/><circle class="nb" cx="94.1" cy="134.3"/><circle class="nb" cx="89.3" cy="107.4"/><circle class="np" cx="85.5" cy="126.8"/><circle class="np" cx="81.3" cy="111.8"/><circle class="np" cx="103.5" cy="135.4"/><circle class="ep" cx="67.5" cy="136.2"/><circle class="np" cx="98.9" cy="122.3"/><circle class="nb" cx="69.1" cy="128.7"/><circle class="ep" cx="55.5" cy="131.5"/><circle class="nb" cx="58.4" cy="127.2"/><circle class="np" cx="115.9" cy="115.0"/><circle class="ep" cx="135.7" cy="128.9"/><circle class="np" cx="95.2" cy="132.1"/><circle class="ep" cx="67.1" cy="134.3"/><circle class="np" cx="116.8" cy="132.3"/><circle class="nb" cx="133.0" cy="122.4"/><circle class="np" cx="67.3" cy="122.0"/><circle class="ep" cx="160.4" cy="136.6"/><circle class="nl" cx="146.4" cy="133.1"/><circle class="nb" cx="156.6" cy="134.4"/><circle class="np" cx="104.6" cy="131.9"/><circle class="np" cx="69.7" cy="118.7"/><circle class="np" cx="103.7" cy="136.6"/><circle class="np" cx="115.6" cy="119.3"/><circle class="ep" cx="134.7" cy="112.9"/><circle class="np" cx="67.1" cy="136.6"/><circle class="np" cx="131.9" cy="136.4"/><circle class="nb" cx="54.8" cy="133.4"/><circle class="nl" cx="60.8" cy="134.2"/><circle class="nl" cx="130.1" cy="128.3"/><circle class="np" cx="150.8" cy="136.4"/><circle class="np" cx="150.1" cy="134.1"/><circle class="np" cx="141.1" cy="131.7"/><circle class="np" cx="147.4" cy="133.6"/><circle class="np" cx="150.5" cy="130.5"/><circle class="np" cx="103.3" cy="106.4"/><circle class="np" cx="116.0" cy="101.7"/><circle class="np" cx="107.3" cy="136.6"/><circle class="np" cx="110.7" cy="103.2"/><circle class="np" cx="100.9" cy="135.0"/><circle class="np" cx="60.3" cy="135.6"/><circle class="np" cx="129.1" cy="110.0"/><circle class="np" cx="143.7" cy="116.2"/><circle class="ep" cx="131.9" cy="121.0"/><circle class="np" cx="78.9" cy="132.1"/><circle class="np" cx="79.1" cy="135.9"/><circle class="nb" cx="123.7" cy="109.8"/><circle class="np" cx="63.6" cy="133.2"/><circle class="np" cx="73.8" cy="125.4"/><circle class="np" cx="141.6" cy="133.4"/><circle class="np" cx="87.5" cy="127.1"/><circle class="nb" cx="127.9" cy="136.6"/><circle class="np" cx="157.5" cy="119.6"/><circle class="np" cx="76.1" cy="129.7"/><circle class="np" cx="116.9" cy="136.5"/><circle class="np" cx="144.3" cy="113.5"/><circle class="np" cx="128.0" cy="134.8"/><circle class="eb" cx="141.0" cy="114.2"/><circle class="np" cx="157.5" cy="106.2"/><circle class="ep" cx="76.1" cy="119.6"/><circle class="nl" cx="61.6" cy="134.5"/><circle class="np" cx="74.3" cy="133.5"/><circle class="eb" cx="103.1" cy="110.6"/><circle class="ep" cx="125.9" cy="136.6"/><circle class="ep" cx="83.8" cy="123.0"/><circle class="np" cx="73.0" cy="126.5"/><circle class="nl" cx="106.7" cy="121.4"/><circle class="np" cx="110.3" cy="135.9"/><circle class="nb" cx="79.3" cy="136.4"/><circle class="np" cx="71.5" cy="124.9"/><circle class="ep" cx="85.5" cy="125.9"/><circle class="np" cx="89.5" cy="121.8"/><circle class="nl" cx="105.0" cy="117.1"/><circle class="ep" cx="127.3" cy="110.9"/><circle class="np" cx="154.0" cy="127.9"/><circle class="np" cx="123.8" cy="135.4"/><circle class="np" cx="115.0" cy="136.1"/><circle class="nb" cx="77.7" cy="136.6"/><circle class="ep" cx="101.7" cy="117.6"/><circle class="np" cx="122.8" cy="109.3"/><circle class="eb" cx="61.5" cy="126.2"/><circle class="np" cx="103.3" cy="132.9"/><circle class="ep" cx="99.5" cy="136.6"/><circle class="ep" cx="134.6" cy="106.7"/><circle class="ep" cx="96.5" cy="121.3"/><circle class="np" cx="159.8" cy="128.2"/><circle class="np" cx="81.3" cy="125.9"/><circle class="np" cx="59.9" cy="136.2"/><circle class="np" cx="109.1" cy="108.0"/><circle class="np" cx="60.6" cy="128.7"/><circle class="ep" cx="85.6" cy="113.6"/><circle class="ep" cx="72.6" cy="136.6"/><circle class="np" cx="102.9" cy="112.1"/><circle class="nl" cx="143.5" cy="134.9"/><circle class="nb" cx="63.0" cy="136.6"/><circle class="eb" cx="101.6" cy="134.1"/><circle class="np" cx="70.8" cy="125.2"/><circle class="np" cx="145.2" cy="136.5"/><circle class="np" cx="113.9" cy="115.7"/><circle class="nb" cx="72.6" cy="131.2"/><circle class="np" cx="108.6" cy="126.8"/><circle class="np" cx="81.2" cy="135.8"/><circle class="np" cx="160.1" cy="131.4"/><circle class="np" cx="123.2" cy="136.5"/><circle class="np" cx="95.5" cy="122.7"/><circle class="np" cx="92.5" cy="117.4"/><circle class="np" cx="126.9" cy="101.1"/><circle class="nb" cx="81.3" cy="124.6"/><circle class="ep" cx="102.9" cy="129.4"/><circle class="eb" cx="53.7" cy="130.9"/><circle class="nb" cx="83.3" cy="113.9"/><circle class="np" cx="90.7" cy="132.0"/><circle class="np" cx="77.4" cy="130.3"/><circle class="np" cx="57.1" cy="130.0"/><circle class="el" cx="158.2" cy="118.1"/><circle class="ep" cx="123.6" cy="120.5"/><circle class="np" cx="67.2" cy="130.1"/><circle class="np" cx="81.0" cy="125.4"/><circle class="np" cx="102.1" cy="118.9"/><circle class="nl" cx="87.6" cy="134.1"/><circle class="np" cx="86.2" cy="132.7"/><circle class="np" cx="86.7" cy="127.0"/><circle class="np" cx="147.7" cy="132.7"/><circle class="nb" cx="113.7" cy="104.3"/><circle class="nb" cx="73.0" cy="136.2"/><circle class="np" cx="150.6" cy="128.6"/><circle class="np" cx="73.4" cy="130.2"/><circle class="np" cx="119.8" cy="93.4"/><circle class="np" cx="155.0" cy="112.8"/><circle class="np" cx="64.7" cy="129.2"/><circle class="np" cx="131.0" cy="118.3"/><circle class="np" cx="144.0" cy="111.4"/><circle class="np" cx="76.5" cy="136.3"/><circle class="np" cx="72.9" cy="130.2"/><circle class="ep" cx="144.1" cy="122.2"/><circle class="eb" cx="156.7" cy="105.6"/><circle class="ep" cx="58.8" cy="134.5"/><circle class="np" cx="94.1" cy="126.7"/><circle class="np" cx="113.2" cy="136.1"/><circle class="nl" cx="129.2" cy="135.5"/><circle class="el" cx="69.5" cy="131.7"/><circle class="np" cx="94.8" cy="122.1"/><circle class="np" cx="146.8" cy="136.6"/><circle class="np" cx="121.9" cy="115.8"/><circle class="ep" cx="99.7" cy="114.4"/><circle class="np" cx="153.1" cy="102.8"/><circle class="np" cx="56.7" cy="129.1"/><circle class="np" cx="153.8" cy="110.0"/><circle class="np" cx="80.2" cy="133.9"/><circle class="np" cx="65.2" cy="135.6"/><circle class="np" cx="118.3" cy="135.2"/><circle class="nl" cx="95.8" cy="102.7"/><circle class="nb" cx="79.6" cy="115.4"/><circle class="np" cx="115.7" cy="134.7"/><circle class="nb" cx="133.8" cy="96.7"/><circle class="np" cx="111.7" cy="136.6"/><circle class="np" cx="159.1" cy="127.1"/><circle class="np" cx="80.8" cy="133.8"/><circle class="np" cx="131.1" cy="116.4"/><circle class="np" cx="95.4" cy="115.2"/><circle class="np" cx="124.4" cy="110.2"/><circle class="ep" cx="117.2" cy="126.6"/><circle class="nb" cx="96.4" cy="127.8"/><circle class="np" cx="74.7" cy="132.4"/><circle class="el" cx="81.9" cy="133.1"/><circle class="ep" cx="83.5" cy="136.4"/><circle class="ep" cx="157.4" cy="103.7"/><circle class="np" cx="109.1" cy="135.9"/><circle class="np" cx="112.4" cy="97.3"/><circle class="ep" cx="107.6" cy="130.5"/><circle class="ep" cx="158.9" cy="115.8"/><circle class="np" cx="121.8" cy="125.8"/><circle class="np" cx="76.7" cy="127.2"/><circle class="np" cx="103.2" cy="134.5"/><circle class="ep" cx="130.1" cy="109.7"/><circle class="np" cx="114.7" cy="98.9"/><circle class="np" cx="157.2" cy="108.0"/><circle class="np" cx="156.3" cy="127.1"/><circle class="ep" cx="70.8" cy="135.3"/><circle class="ep" cx="63.1" cy="124.9"/><circle class="ep" cx="102.3" cy="125.5"/><circle class="np" cx="79.3" cy="130.2"/><circle class="nb" cx="102.0" cy="135.7"/><circle class="ep" cx="109.1" cy="122.5"/><circle class="ep" cx="91.4" cy="106.9"/><circle class="np" cx="95.1" cy="117.3"/><circle class="eb" cx="104.1" cy="133.1"/><circle class="np" cx="125.9" cy="136.6"/><circle class="nb" cx="57.7" cy="132.8"/><circle class="ep" cx="82.1" cy="135.4"/><circle class="np" cx="127.3" cy="127.1"/><circle class="np" cx="70.4" cy="131.7"/><circle class="np" cx="142.5" cy="128.4"/><circle class="ep" cx="78.9" cy="120.0"/><circle class="ep" cx="143.7" cy="111.5"/><circle class="np" cx="60.6" cy="136.6"/><circle class="nl" cx="145.7" cy="128.2"/><circle class="ep" cx="77.6" cy="114.5"/><circle class="np" cx="55.2" cy="135.1"/><circle class="np" cx="127.0" cy="117.6"/><circle class="nl" cx="154.5" cy="133.6"/><circle class="np" cx="135.0" cy="132.1"/><circle class="np" cx="145.1" cy="104.1"/><circle class="np" cx="62.1" cy="136.5"/><circle class="nl" cx="139.9" cy="123.4"/><circle class="eb" cx="116.9" cy="134.0"/><circle class="np" cx="85.8" cy="136.4"/><circle class="el" cx="76.6" cy="122.1"/><circle class="np" cx="127.0" cy="96.8"/><circle class="np" cx="132.2" cy="121.4"/><circle class="np" cx="153.4" cy="126.5"/><circle class="np" cx="121.4" cy="134.3"/><circle class="np" cx="130.5" cy="136.6"/><circle class="np" cx="153.7" cy="130.3"/><circle class="nl" cx="141.3" cy="133.1"/><circle class="ep" cx="143.0" cy="49.0"/><circle class="nb" cx="137.1" cy="50.2"/><circle class="ep" cx="133.3" cy="56.9"/><circle class="nb" cx="111.9" cy="74.8"/><circle class="ep" cx="108.0" cy="79.3"/><circle class="np" cx="129.4" cy="68.1"/><circle class="ep" cx="96.4" cy="81.5"/><circle class="ep" cx="84.8" cy="83.8"/><circle class="np" cx="144.9" cy="74.8"/><circle class="np" cx="150.7" cy="86.0"/></g>
<line x1="40.80" y1="56.00" x2="40.80" y2="142.00" stroke="#8c8c8c" stroke-width="0.7" stroke-dasharray="2.2,1.6"/>
<line x1="28.20" y1="137.30" x2="165.00" y2="137.30" stroke="#8c8c8c" stroke-width="0.7" stroke-dasharray="2.2,1.6"/>
<line x1="28.50" y1="7.30" x2="28.50" y2="142.90" stroke="#231f20" stroke-width="0.8"/>
<line x1="28.10" y1="142.50" x2="164.60" y2="142.50" stroke="#231f20" stroke-width="0.8"/>
<line x1="25.60" y1="142.00" x2="28.50" y2="142.00" stroke="#231f20" stroke-width="0.7"/>
<text x="24.40" y="144.75" font-size="7.6" text-anchor="end" fill="#231f20" stroke="#231f20" stroke-width="0.16" letter-spacing="0.1" transform="matrix(1 0 0 1.12 0 -17.370)">0</text>
<line x1="25.60" y1="119.60" x2="28.50" y2="119.60" stroke="#231f20" stroke-width="0.7"/>
<text x="24.40" y="122.35" font-size="7.6" text-anchor="end" fill="#231f20" stroke="#231f20" stroke-width="0.16" letter-spacing="0.1" transform="matrix(1 0 0 1.12 0 -14.682)">10</text>
<line x1="25.60" y1="97.20" x2="28.50" y2="97.20" stroke="#231f20" stroke-width="0.7"/>
<text x="24.40" y="99.95" font-size="7.6" text-anchor="end" fill="#231f20" stroke="#231f20" stroke-width="0.16" letter-spacing="0.1" transform="matrix(1 0 0 1.12 0 -11.994)">20</text>
<line x1="25.60" y1="74.80" x2="28.50" y2="74.80" stroke="#231f20" stroke-width="0.7"/>
<text x="24.40" y="77.55" font-size="7.6" text-anchor="end" fill="#231f20" stroke="#231f20" stroke-width="0.16" letter-spacing="0.1" transform="matrix(1 0 0 1.12 0 -9.306)">30</text>
<line x1="25.60" y1="52.40" x2="28.50" y2="52.40" stroke="#231f20" stroke-width="0.7"/>
<text x="24.40" y="55.15" font-size="7.6" text-anchor="end" fill="#231f20" stroke="#231f20" stroke-width="0.16" letter-spacing="0.1" transform="matrix(1 0 0 1.12 0 -6.618)">40</text>
<line x1="25.60" y1="30.00" x2="28.50" y2="30.00" stroke="#231f20" stroke-width="0.7"/>
<text x="24.40" y="32.75" font-size="7.6" text-anchor="end" fill="#231f20" stroke="#231f20" stroke-width="0.16" letter-spacing="0.1" transform="matrix(1 0 0 1.12 0 -3.930)">50</text>
<line x1="25.60" y1="7.60" x2="28.50" y2="7.60" stroke="#231f20" stroke-width="0.7"/>
<text x="24.40" y="10.35" font-size="7.6" text-anchor="end" fill="#231f20" stroke="#231f20" stroke-width="0.16" letter-spacing="0.1" transform="matrix(1 0 0 1.12 0 -1.242)">60</text>
<line x1="28.50" y1="142.50" x2="28.50" y2="144.60" stroke="#231f20" stroke-width="0.7"/>
<text x="28.50" y="154.00" font-size="7.6" text-anchor="middle" fill="#231f20" stroke="#231f20" stroke-width="0.16" letter-spacing="0.1" transform="matrix(1 0 0 1.12 0 -18.480)">0</text>
<line x1="47.90" y1="142.50" x2="47.90" y2="144.60" stroke="#231f20" stroke-width="0.7"/>
<text x="47.90" y="154.00" font-size="7.6" text-anchor="middle" fill="#231f20" stroke="#231f20" stroke-width="0.16" letter-spacing="0.1" transform="matrix(1 0 0 1.12 0 -18.480)">1</text>
<line x1="67.30" y1="142.50" x2="67.30" y2="144.60" stroke="#231f20" stroke-width="0.7"/>
<text x="67.30" y="154.00" font-size="7.6" text-anchor="middle" fill="#231f20" stroke="#231f20" stroke-width="0.16" letter-spacing="0.1" transform="matrix(1 0 0 1.12 0 -18.480)">2</text>
<line x1="86.70" y1="142.50" x2="86.70" y2="144.60" stroke="#231f20" stroke-width="0.7"/>
<text x="86.70" y="154.00" font-size="7.6" text-anchor="middle" fill="#231f20" stroke="#231f20" stroke-width="0.16" letter-spacing="0.1" transform="matrix(1 0 0 1.12 0 -18.480)">3</text>
<line x1="106.10" y1="142.50" x2="106.10" y2="144.60" stroke="#231f20" stroke-width="0.7"/>
<text x="106.10" y="154.00" font-size="7.6" text-anchor="middle" fill="#231f20" stroke="#231f20" stroke-width="0.16" letter-spacing="0.1" transform="matrix(1 0 0 1.12 0 -18.480)">4</text>
<line x1="125.50" y1="142.50" x2="125.50" y2="144.60" stroke="#231f20" stroke-width="0.7"/>
<text x="125.50" y="154.00" font-size="7.6" text-anchor="middle" fill="#231f20" stroke="#231f20" stroke-width="0.16" letter-spacing="0.1" transform="matrix(1 0 0 1.12 0 -18.480)">5</text>
<line x1="144.90" y1="142.50" x2="144.90" y2="144.60" stroke="#231f20" stroke-width="0.7"/>
<text x="144.90" y="154.00" font-size="7.6" text-anchor="middle" fill="#231f20" stroke="#231f20" stroke-width="0.16" letter-spacing="0.1" transform="matrix(1 0 0 1.12 0 -18.480)">6</text>
<line x1="164.30" y1="142.50" x2="164.30" y2="144.60" stroke="#231f20" stroke-width="0.7"/>
<text x="164.30" y="154.00" font-size="7.6" text-anchor="middle" fill="#231f20" stroke="#231f20" stroke-width="0.16" letter-spacing="0.1" transform="matrix(1 0 0 1.12 0 -18.480)">7</text>
<text x="97.00" y="166.00" font-size="7.6" text-anchor="middle" fill="#231f20" stroke="#231f20" stroke-width="0.16" letter-spacing="0.15" transform="matrix(1 0 0 1.12 0 -19.920)">log<tspan font-size="5.2" dy="1.6">2</tspan><tspan dy="-1.6">[RIP enrichment]</tspan></text>
<text x="7.20" y="75.00" font-size="7.6" text-anchor="middle" fill="#231f20" stroke="#231f20" stroke-width="0.16" letter-spacing="0.15" transform="rotate(-90 7.20 75.00) matrix(1 0 0 1.12 0 -9.000)">−log<tspan font-size="5.2" dy="1.6">10</tspan><tspan dy="-1.6">[</tspan><tspan font-style="italic">P</tspan>]</text>
<text x="37.30" y="91.30" font-size="7.6" text-anchor="middle" fill="#231f20" stroke="#231f20" stroke-width="0.16" letter-spacing="0.15" transform="rotate(-90 37.30 91.30) matrix(1 0 0 1.12 0 -10.956)">RIP enrichment ≥ 1.5</text>
<text x="165.80" y="136.20" font-size="7.6" text-anchor="end" fill="#231f20" stroke="#231f20" stroke-width="0.16" letter-spacing="0.15" transform="matrix(1 0 0 1.12 0 -16.344)">FDR ≤ 0.01</text>
<line x1="133.60" y1="53.20" x2="137.80" y2="53.60" stroke="#231f20" stroke-width="0.55"/>
<line x1="91.50" y1="72.40" x2="99.40" y2="92.60" stroke="#231f20" stroke-width="0.55"/>
<line x1="81.50" y1="82.00" x2="96.80" y2="107.20" stroke="#231f20" stroke-width="0.55"/>
<line x1="69.40" y1="89.70" x2="95.70" y2="120.40" stroke="#231f20" stroke-width="0.55"/>
<line x1="68.30" y1="97.40" x2="84.70" y2="122.50" stroke="#231f20" stroke-width="0.55"/>
<line x1="56.30" y1="116.00" x2="71.60" y2="124.70" stroke="#231f20" stroke-width="0.55"/>
<line x1="132.90" y1="85.30" x2="99.00" y2="117.00" stroke="#231f20" stroke-width="0.55"/>
<line x1="149.30" y1="94.10" x2="102.30" y2="118.20" stroke="#231f20" stroke-width="0.55"/>
<line x1="151.50" y1="105.00" x2="100.00" y2="119.30" stroke="#231f20" stroke-width="0.55"/>
<line x1="154.80" y1="112.70" x2="100.00" y2="120.40" stroke="#231f20" stroke-width="0.55"/>
<line x1="135.10" y1="122.60" x2="101.20" y2="121.50" stroke="#231f20" stroke-width="0.55"/>
<line x1="105.50" y1="133.50" x2="86.90" y2="128.00" stroke="#231f20" stroke-width="0.55"/>
<text x="138.80" y="56.00" font-size="7.6" text-anchor="start" fill="#231f20" stroke="#231f20" stroke-width="0.16" letter-spacing="0.1" font-style="italic" transform="matrix(1 0 0 1.12 0 -6.720)">Nabp1</text>
<text x="75.80" y="70.00" font-size="7.6" text-anchor="start" fill="#231f20" stroke="#231f20" stroke-width="0.16" letter-spacing="0.1" font-style="italic" transform="matrix(1 0 0 1.12 0 -8.400)">Hmga1</text>
<text x="60.70" y="79.80" font-size="7.6" text-anchor="start" fill="#231f20" stroke="#231f20" stroke-width="0.16" letter-spacing="0.1" font-style="italic" transform="matrix(1 0 0 1.12 0 -9.576)">Ptbp1</text>
<text x="46.40" y="89.20" font-size="7.6" text-anchor="start" fill="#231f20" stroke="#231f20" stroke-width="0.16" letter-spacing="0.1" font-style="italic" transform="matrix(1 0 0 1.12 0 -10.704)">Haus2</text>
<text x="42.00" y="97.30" font-size="7.6" text-anchor="start" fill="#231f20" stroke="#231f20" stroke-width="0.16" letter-spacing="0.1" font-style="italic" transform="matrix(1 0 0 1.12 0 -11.676)">Gtpbp4</text>
<text x="43.10" y="107.40" font-size="7.6" text-anchor="start" fill="#231f20" stroke="#231f20" stroke-width="0.16" letter-spacing="0.1" font-style="italic" transform="matrix(1 0 0 1.12 0 -12.888)">H2ac</text>
<text x="42.00" y="114.40" font-size="7.6" text-anchor="start" fill="#231f20" stroke="#231f20" stroke-width="0.16" letter-spacing="0.1" font-style="italic" transform="matrix(1 0 0 1.12 0 -13.728)">18/19</text>
<text x="132.90" y="85.90" font-size="7.6" text-anchor="start" fill="#231f20" stroke="#231f20" stroke-width="0.16" letter-spacing="0.1" font-style="italic" transform="matrix(1 0 0 1.12 0 -10.308)">Rock1</text>
<text x="150.40" y="95.80" font-size="7.6" text-anchor="start" fill="#231f20" stroke="#231f20" stroke-width="0.16" letter-spacing="0.1" font-style="italic" transform="matrix(1 0 0 1.12 0 -11.496)">Btbd3</text>
<text x="152.60" y="107.20" font-size="7.6" text-anchor="start" fill="#231f20" stroke="#231f20" stroke-width="0.16" letter-spacing="0.1" font-style="italic" transform="matrix(1 0 0 1.12 0 -12.864)">Tlcd1</text>
<text x="155.90" y="114.40" font-size="7.6" text-anchor="start" fill="#231f20" stroke="#231f20" stroke-width="0.16" letter-spacing="0.1" font-style="italic" transform="matrix(1 0 0 1.12 0 -13.728)">Anapc4</text>
<text x="136.90" y="125.40" font-size="7.6" text-anchor="start" fill="#231f20" stroke="#231f20" stroke-width="0.16" letter-spacing="0.1" font-style="italic" transform="matrix(1 0 0 1.12 0 -15.048)">Gnpda1</text>
<text x="106.60" y="136.30" font-size="7.6" text-anchor="start" fill="#231f20" stroke="#231f20" stroke-width="0.16" letter-spacing="0.1" font-style="italic" transform="matrix(1 0 0 1.12 0 -16.356)">Pcna</text>
<text x="105.50" y="68.70" font-size="7.6" text-anchor="start" fill="#231f20" stroke="#231f20" stroke-width="0.16" letter-spacing="0.1" transform="matrix(1 0 0 1.12 0 -8.244)"><tspan font-style="italic">U1</tspan> locus</text>
<line x1="110.80" y1="69.80" x2="109.90" y2="87.30" stroke="#231f20" stroke-width="0.55"/>
<rect x="208.00" y="11.00" width="6.80" height="4.40" fill="#f086a7" stroke="#231f20" stroke-width="0.4"/>
<text x="218.40" y="16.10" font-size="7.6" text-anchor="start" fill="#231f20" stroke="#231f20" stroke-width="0.16" letter-spacing="0.15" transform="matrix(1 0 0 1.12 0 -1.932)">Elongated 3’ end</text>
<rect x="208.00" y="20.85" width="6.80" height="4.40" fill="#86d0ee" stroke="#231f20" stroke-width="0.4"/>
<text x="218.40" y="25.95" font-size="7.6" text-anchor="start" fill="#231f20" stroke="#231f20" stroke-width="0.16" letter-spacing="0.15" transform="matrix(1 0 0 1.12 0 -3.114)">De novo intergenic RNA</text>
<rect x="208.00" y="30.70" width="6.80" height="4.40" fill="#c2b8de" stroke="#231f20" stroke-width="0.4"/>
<text x="218.40" y="35.80" font-size="7.6" text-anchor="start" fill="#231f20" stroke="#231f20" stroke-width="0.16" letter-spacing="0.15" transform="matrix(1 0 0 1.12 0 -4.296)">Intronic RNA</text>
<rect x="208.00" y="40.55" width="6.80" height="4.40" fill="#6b3d9b" stroke="#231f20" stroke-width="0.4"/>
<text x="218.40" y="45.65" font-size="7.6" text-anchor="start" fill="#231f20" stroke="#231f20" stroke-width="0.16" letter-spacing="0.15" transform="matrix(1 0 0 1.12 0 -5.478)">Other</text>
<path d="M305.90,111.00 A48.8,48.8 0 0 1 305.84,113.45 L281.97,112.25 A24.9,24.9 0 0 0 282.00,111.00 Z" fill="#6b3d9b" stroke="#1e1e1e" stroke-width="0.75" stroke-linejoin="round"/>
<path d="M305.84,113.45 A48.8,48.8 0 0 1 296.76,139.44 L277.34,125.51 A24.9,24.9 0 0 0 281.97,112.25 Z" fill="#c2b8de" stroke="#1e1e1e" stroke-width="0.75" stroke-linejoin="round"/>
<path d="M296.76,139.44 A48.8,48.8 0 0 1 265.64,159.05 L261.46,135.52 A24.9,24.9 0 0 0 277.34,125.51 Z" fill="#86d0ee" stroke="#1e1e1e" stroke-width="0.75" stroke-linejoin="round"/>
<path d="M265.64,159.05 A48.8,48.8 0 1 1 305.90,111.31 L282.00,111.16 A24.9,24.9 0 1 0 261.46,135.52 Z" fill="#f086a7" stroke="#1e1e1e" stroke-width="0.75" stroke-linejoin="round"/>
<text x="233.90" y="88.50" font-size="7.6" text-anchor="middle" fill="#231f20" stroke="#231f20" stroke-width="0.16" letter-spacing="0.15" transform="matrix(1 0 0 1.12 0 -10.620)">77.9%</text>
<text x="293.70" y="124.40" font-size="7.6" text-anchor="middle" fill="#231f20" stroke="#231f20" stroke-width="0.16" letter-spacing="0.15" transform="matrix(1 0 0 1.12 0 -14.928)">9.1%</text>
<text x="278.80" y="144.20" font-size="7.6" text-anchor="middle" fill="#231f20" stroke="#231f20" stroke-width="0.16" letter-spacing="0.15" transform="matrix(1 0 0 1.12 0 -17.304)">12.3%</text>
<line x1="305.70" y1="111.40" x2="308.60" y2="111.60" stroke="#231f20" stroke-width="0.5"/>
<text x="308.80" y="114.50" font-size="7.6" text-anchor="start" fill="#231f20" stroke="#231f20" stroke-width="0.16" letter-spacing="0.1" transform="matrix(1 0 0 1.12 0 -13.740)">0.8%</text>
<text x="257.40" y="104.30" font-size="7.6" text-anchor="middle" fill="#231f20" stroke="#231f20" stroke-width="0.16" letter-spacing="0.15" transform="matrix(1 0 0 1.12 0 -12.516)">MEFs</text>
<text x="257.40" y="112.90" font-size="7.6" text-anchor="middle" fill="#231f20" stroke="#231f20" stroke-width="0.16" letter-spacing="0.15" transform="matrix(1 0 0 1.12 0 -13.548)">Z22 RIP</text>
<text x="257.40" y="121.30" font-size="7.6" text-anchor="middle" fill="#231f20" stroke="#231f20" stroke-width="0.16" letter-spacing="0.15" transform="matrix(1 0 0 1.12 0 -14.556)"><tspan font-style="italic">n</tspan> = 1,646</text>
<text x="377.30" y="22.70" font-size="7.6" text-anchor="middle" fill="#231f20" stroke="#231f20" stroke-width="0.16" letter-spacing="0.15" transform="matrix(1 0 0 1.12 0 -2.724)">EREs</text>
<line x1="389.70" y1="8.60" x2="389.70" y2="31.20" stroke="#231f20" stroke-width="0.6"/>
<rect x="394.60" y="8.00" width="4.40" height="4.40" fill="#f39a76" stroke="#231f20" stroke-width="0.35"/>
<text x="402.00" y="13.10" font-size="7.6" text-anchor="start" fill="#231f20" stroke="#231f20" stroke-width="0.16" letter-spacing="0.15" transform="matrix(1 0 0 1.12 0 -1.572)">LINE</text>
<rect x="394.60" y="17.85" width="4.40" height="4.40" fill="#84c25c" stroke="#231f20" stroke-width="0.35"/>
<text x="402.00" y="22.95" font-size="7.6" text-anchor="start" fill="#231f20" stroke="#231f20" stroke-width="0.16" letter-spacing="0.15" transform="matrix(1 0 0 1.12 0 -2.754)">SINE</text>
<rect x="394.60" y="27.70" width="4.40" height="4.40" fill="#cda6dd" stroke="#231f20" stroke-width="0.35"/>
<text x="402.00" y="32.80" font-size="7.6" text-anchor="start" fill="#231f20" stroke="#231f20" stroke-width="0.16" letter-spacing="0.15" transform="matrix(1 0 0 1.12 0 -3.936)">LTR</text>
<rect x="426.00" y="8.00" width="4.40" height="4.40" fill="#f7cf6e" stroke="#231f20" stroke-width="0.35"/>
<text x="433.40" y="13.10" font-size="7.6" text-anchor="start" fill="#231f20" stroke="#231f20" stroke-width="0.16" letter-spacing="0.15" transform="matrix(1 0 0 1.12 0 -1.572)">Non-repetitive</text>
<rect x="426.00" y="17.85" width="4.40" height="4.40" fill="#58c2cf" stroke="#231f20" stroke-width="0.35"/>
<text x="433.40" y="22.95" font-size="7.6" text-anchor="start" fill="#231f20" stroke="#231f20" stroke-width="0.16" letter-spacing="0.15" transform="matrix(1 0 0 1.12 0 -2.754)">Other</text>
<rect x="426.00" y="27.70" width="4.40" height="4.40" fill="#b0b0b0" stroke="#231f20" stroke-width="0.35"/>
<text x="433.40" y="32.80" font-size="7.6" text-anchor="start" fill="#231f20" stroke="#231f20" stroke-width="0.16" letter-spacing="0.15" transform="matrix(1 0 0 1.12 0 -3.936)">Unresolved</text>
<path d="M423.30,62.20 A48.5,48.5 0 0 1 431.79,62.95 L427.54,86.87 A24.2,24.2 0 0 0 423.30,86.50 Z" fill="#b0b0b0" stroke="#1e1e1e" stroke-width="0.75" stroke-linejoin="round"/>
<path d="M431.79,62.95 A48.5,48.5 0 0 1 437.12,64.21 L430.20,87.50 A24.2,24.2 0 0 0 427.54,86.87 Z" fill="#58c2cf" stroke="#1e1e1e" stroke-width="0.75" stroke-linejoin="round"/>
<path d="M437.12,64.21 A48.5,48.5 0 0 1 455.60,74.52 L439.42,92.65 A24.2,24.2 0 0 0 430.20,87.50 Z" fill="#f7cf6e" stroke="#1e1e1e" stroke-width="0.75" stroke-linejoin="round"/>
<path d="M455.60,74.52 A48.5,48.5 0 0 1 471.49,105.23 L447.35,107.97 A24.2,24.2 0 0 0 439.42,92.65 Z" fill="#cda6dd" stroke="#1e1e1e" stroke-width="0.75" stroke-linejoin="round"/>
<path d="M471.49,105.23 A48.5,48.5 0 0 1 387.12,143.00 L405.25,126.82 A24.2,24.2 0 0 0 447.35,107.97 Z" fill="#84c25c" stroke="#1e1e1e" stroke-width="0.75" stroke-linejoin="round"/>
<path d="M387.12,143.00 A48.5,48.5 0 0 1 423.30,62.20 L423.30,86.50 A24.2,24.2 0 0 0 405.25,126.82 Z" fill="#f39a76" stroke="#1e1e1e" stroke-width="0.75" stroke-linejoin="round"/>
<path d="M423.30,62.20 A48.5,48.5 0 0 1 431.79,62.95 L427.54,86.87 A24.2,24.2 0 0 0 423.30,86.50 Z" fill="#ffffff" stroke="#ffffff" stroke-width="1.6"/>
<path d="M431.79,62.95 A48.5,48.5 0 0 1 437.12,64.21 L430.20,87.50 A24.2,24.2 0 0 0 427.54,86.87 Z" fill="#ffffff" stroke="#ffffff" stroke-width="1.6"/>
<path d="M424.27,62.21 A48.5,48.5 0 0 1 430.83,62.79 L427.06,86.79 A24.2,24.2 0 0 0 423.79,86.50 Z" fill="#b0b0b0" stroke="#1e1e1e" stroke-width="0.75" stroke-linejoin="round"/>
<path d="M432.75,63.13 A48.5,48.5 0 0 1 436.19,63.94 L429.73,87.37 A24.2,24.2 0 0 0 428.01,86.96 Z" fill="#58c2cf" stroke="#1e1e1e" stroke-width="0.75" stroke-linejoin="round"/>
<text x="413.60" y="56.00" font-size="7.6" text-anchor="middle" fill="#231f20" stroke="#231f20" stroke-width="0.16" letter-spacing="0.15" transform="matrix(1 0 0 1.12 0 -6.720)">2.8%</text>
<line x1="420.50" y1="57.60" x2="424.60" y2="62.30" stroke="#231f20" stroke-width="0.5"/>
<text x="450.40" y="57.00" font-size="7.6" text-anchor="middle" fill="#231f20" stroke="#231f20" stroke-width="0.16" letter-spacing="0.15" transform="matrix(1 0 0 1.12 0 -6.840)">1.8%</text>
<line x1="432.60" y1="62.60" x2="440.80" y2="58.60" stroke="#231f20" stroke-width="0.5"/>
<text x="441.60" y="80.60" font-size="7.6" text-anchor="middle" fill="#231f20" stroke="#231f20" stroke-width="0.16" letter-spacing="0.15" transform="rotate(-64 441.60 80.60) matrix(1 0 0 1.12 0 -9.672)">7.0%</text>
<text x="455.90" y="97.80" font-size="7.6" text-anchor="middle" fill="#231f20" stroke="#231f20" stroke-width="0.16" letter-spacing="0.15" transform="matrix(1 0 0 1.12 0 -11.736)">11.6%</text>
<text x="392.40" y="96.00" font-size="7.6" text-anchor="middle" fill="#231f20" stroke="#231f20" stroke-width="0.16" letter-spacing="0.15" transform="matrix(1 0 0 1.12 0 -11.520)">36.6%</text>
<text x="442.70" y="143.00" font-size="7.6" text-anchor="middle" fill="#231f20" stroke="#231f20" stroke-width="0.16" letter-spacing="0.15" transform="matrix(1 0 0 1.12 0 -17.160)">40.2%</text>
<text x="423.20" y="105.00" font-size="7.6" text-anchor="middle" fill="#231f20" stroke="#231f20" stroke-width="0.16" letter-spacing="0.15" transform="matrix(1 0 0 1.12 0 -12.600)">MEFs</text>
<text x="423.20" y="113.40" font-size="7.6" text-anchor="middle" fill="#231f20" stroke="#231f20" stroke-width="0.16" letter-spacing="0.15" transform="matrix(1 0 0 1.12 0 -13.608)">Z22 RIP</text>
<text x="423.20" y="121.40" font-size="7.6" text-anchor="middle" fill="#231f20" stroke="#231f20" stroke-width="0.16" letter-spacing="0.15" transform="matrix(1 0 0 1.12 0 -14.568)"><tspan font-style="italic">n</tspan> = 1,646</text>
<rect x="555.60" y="6.00" width="4.40" height="4.40" fill="#f6ad8d" stroke="#231f20" stroke-width="0.35"/>
<text x="563.20" y="11.10" font-size="7.6" text-anchor="start" fill="#231f20" stroke="#231f20" stroke-width="0.16" letter-spacing="0.15" transform="matrix(1 0 0 1.12 0 -1.332)">L1</text>
<rect x="555.60" y="15.95" width="4.40" height="4.40" fill="#8fd68c" stroke="#231f20" stroke-width="0.35"/>
<text x="563.20" y="21.05" font-size="7.6" text-anchor="start" fill="#231f20" stroke="#231f20" stroke-width="0.16" letter-spacing="0.15" transform="matrix(1 0 0 1.12 0 -2.526)">B1</text>
<rect x="555.60" y="25.90" width="4.40" height="4.40" fill="#b7c95c" stroke="#231f20" stroke-width="0.35"/>
<text x="563.20" y="31.00" font-size="7.6" text-anchor="start" fill="#231f20" stroke="#231f20" stroke-width="0.16" letter-spacing="0.15" transform="matrix(1 0 0 1.12 0 -3.720)">B2</text>
<rect x="555.60" y="35.85" width="4.40" height="4.40" fill="#2f8f3a" stroke="#231f20" stroke-width="0.35"/>
<text x="563.20" y="40.95" font-size="7.6" text-anchor="start" fill="#231f20" stroke="#231f20" stroke-width="0.16" letter-spacing="0.15" transform="matrix(1 0 0 1.12 0 -4.914)">Other</text>
<text x="538.60" y="30.50" font-size="7.6" text-anchor="middle" fill="#231f20" stroke="#231f20" stroke-width="0.16" letter-spacing="0.15" transform="matrix(1 0 0 1.12 0 -3.660)">SINE</text>
<line x1="551.20" y1="16.00" x2="551.20" y2="39.80" stroke="#231f20" stroke-width="0.6"/>
<rect x="613.40" y="6.00" width="4.40" height="4.40" fill="#f283a3" stroke="#231f20" stroke-width="0.35"/>
<text x="621.50" y="11.10" font-size="7.6" text-anchor="start" fill="#231f20" stroke="#231f20" stroke-width="0.16" letter-spacing="0.15" transform="matrix(1 0 0 1.12 0 -1.332)">ERVL-MaLR</text>
<rect x="613.40" y="15.95" width="4.40" height="4.40" fill="#f8bccd" stroke="#231f20" stroke-width="0.35"/>
<text x="621.50" y="21.05" font-size="7.6" text-anchor="start" fill="#231f20" stroke="#231f20" stroke-width="0.16" letter-spacing="0.15" transform="matrix(1 0 0 1.12 0 -2.526)">ERVK</text>
<rect x="613.40" y="25.90" width="4.40" height="4.40" fill="#e28ed8" stroke="#231f20" stroke-width="0.35"/>
<text x="621.50" y="31.00" font-size="7.6" text-anchor="start" fill="#231f20" stroke="#231f20" stroke-width="0.16" letter-spacing="0.15" transform="matrix(1 0 0 1.12 0 -3.720)">ERV1</text>
<rect x="613.40" y="35.85" width="4.40" height="4.40" fill="#e3245c" stroke="#231f20" stroke-width="0.35"/>
<text x="621.50" y="40.95" font-size="7.6" text-anchor="start" fill="#231f20" stroke="#231f20" stroke-width="0.16" letter-spacing="0.15" transform="matrix(1 0 0 1.12 0 -4.914)">Other</text>
<text x="599.40" y="26.30" font-size="7.6" text-anchor="middle" fill="#231f20" stroke="#231f20" stroke-width="0.16" letter-spacing="0.15" transform="matrix(1 0 0 1.12 0 -3.156)">LTR</text>
<line x1="608.80" y1="7.40" x2="608.80" y2="39.80" stroke="#231f20" stroke-width="0.6"/>
<path d="M590.50,57.60 A51.4,51.4 0 0 1 616.94,153.08 L603.16,130.10 A24.6,24.6 0 0 0 590.50,84.40 Z" fill="#f6ad8d" stroke="#1e1e1e" stroke-width="0.75" stroke-linejoin="round"/>
<path d="M616.94,153.08 A51.4,51.4 0 0 1 550.08,140.76 L571.16,124.20 A24.6,24.6 0 0 0 603.16,130.10 Z" fill="#8fd68c" stroke="#1e1e1e" stroke-width="0.75" stroke-linejoin="round"/>
<path d="M550.08,140.76 A51.4,51.4 0 0 1 551.52,75.50 L571.84,92.96 A24.6,24.6 0 0 0 571.16,124.20 Z" fill="#b7c95c" stroke="#1e1e1e" stroke-width="0.75" stroke-linejoin="round"/>
<path d="M551.52,75.50 A51.4,51.4 0 0 1 552.59,74.29 L572.36,92.39 A24.6,24.6 0 0 0 571.84,92.96 Z" fill="#2f8f3a" stroke="#1e1e1e" stroke-width="0.75" stroke-linejoin="round"/>
<path d="M552.59,74.29 A51.4,51.4 0 0 1 577.40,59.30 L584.23,85.21 A24.6,24.6 0 0 0 572.36,92.39 Z" fill="#f283a3" stroke="#1e1e1e" stroke-width="0.75" stroke-linejoin="round"/>
<path d="M577.40,59.30 A51.4,51.4 0 0 1 585.34,57.86 L588.03,84.52 A24.6,24.6 0 0 0 584.23,85.21 Z" fill="#f8bccd" stroke="#1e1e1e" stroke-width="0.75" stroke-linejoin="round"/>
<path d="M585.34,57.86 A51.4,51.4 0 0 1 588.56,57.64 L589.57,84.42 A24.6,24.6 0 0 0 588.03,84.52 Z" fill="#e28ed8" stroke="#1e1e1e" stroke-width="0.75" stroke-linejoin="round"/>
<path d="M588.56,57.64 A51.4,51.4 0 0 1 590.50,57.60 L590.50,84.40 A24.6,24.6 0 0 0 589.57,84.42 Z" fill="#e3245c" stroke="#1e1e1e" stroke-width="0.75" stroke-linejoin="round"/>
<text x="628.00" y="100.00" font-size="7.6" text-anchor="middle" fill="#231f20" stroke="#231f20" stroke-width="0.16" letter-spacing="0.15" transform="matrix(1 0 0 1.12 0 -12.000)">41.4%</text>
<text x="584.50" y="147.10" font-size="7.6" text-anchor="middle" fill="#231f20" stroke="#231f20" stroke-width="0.16" letter-spacing="0.15" transform="matrix(1 0 0 1.12 0 -17.652)">23.0%</text>
<text x="551.50" y="109.60" font-size="7.6" text-anchor="middle" fill="#231f20" stroke="#231f20" stroke-width="0.16" letter-spacing="0.15" transform="matrix(1 0 0 1.12 0 -13.152)">21.9%</text>
<text x="569.40" y="76.60" font-size="7.6" text-anchor="middle" fill="#231f20" stroke="#231f20" stroke-width="0.16" letter-spacing="0.15" transform="matrix(1 0 0 1.12 0 -9.192)">9.1%</text>
<text x="537.00" y="72.60" font-size="7.6" text-anchor="middle" fill="#231f20" stroke="#231f20" stroke-width="0.16" letter-spacing="0.15" transform="matrix(1 0 0 1.12 0 -8.712)">0.5%</text>
<line x1="545.40" y1="69.60" x2="552.00" y2="73.20" stroke="#231f20" stroke-width="0.5"/>
<text x="563.00" y="55.10" font-size="7.6" text-anchor="middle" fill="#231f20" stroke="#231f20" stroke-width="0.16" letter-spacing="0.15" transform="matrix(1 0 0 1.12 0 -6.612)">2.5%</text>
<line x1="572.40" y1="53.30" x2="575.50" y2="53.60" stroke="#231f20" stroke-width="0.5"/>
<line x1="575.50" y1="53.60" x2="577.50" y2="59.20" stroke="#231f20" stroke-width="0.5"/>
<text x="587.60" y="49.90" font-size="7.6" text-anchor="middle" fill="#231f20" stroke="#231f20" stroke-width="0.16" letter-spacing="0.15" transform="matrix(1 0 0 1.12 0 -5.988)">1.0%</text>
<line x1="587.60" y1="51.50" x2="587.30" y2="58.50" stroke="#231f20" stroke-width="0.5"/>
<text x="612.30" y="54.20" font-size="7.6" text-anchor="middle" fill="#231f20" stroke="#231f20" stroke-width="0.16" letter-spacing="0.15" transform="matrix(1 0 0 1.12 0 -6.504)">0.5%</text>
<line x1="602.60" y1="52.00" x2="598.50" y2="52.00" stroke="#231f20" stroke-width="0.5"/>
<line x1="598.50" y1="52.00" x2="591.20" y2="58.60" stroke="#231f20" stroke-width="0.5"/>
<text x="592.60" y="104.10" font-size="7.6" text-anchor="middle" fill="#231f20" stroke="#231f20" stroke-width="0.16" letter-spacing="0.15" transform="matrix(1 0 0 1.12 0 -12.492)">MEFs</text>
<text x="592.60" y="112.90" font-size="7.6" text-anchor="middle" fill="#231f20" stroke="#231f20" stroke-width="0.16" letter-spacing="0.15" transform="matrix(1 0 0 1.12 0 -13.548)">Z22 RIP</text>
<text x="592.60" y="121.60" font-size="7.6" text-anchor="middle" fill="#231f20" stroke="#231f20" stroke-width="0.16" letter-spacing="0.15" transform="matrix(1 0 0 1.12 0 -14.592)"><tspan font-style="italic">n</tspan> = 1,455</text>
<text x="25.40" y="185.60" font-size="7.6" text-anchor="start" fill="#231f20" stroke="#231f20" stroke-width="0.16" letter-spacing="0.1" transform="matrix(1 0 0 1.12 0 -22.272)"><tspan font-style="italic">Nabp1</tspan> (elongated 3’ end)</text>
<text x="286.60" y="186.20" font-size="7.6" text-anchor="end" fill="#231f20" stroke="#231f20" stroke-width="0.16" letter-spacing="0.1" transform="matrix(1 0 0 1.12 0 -22.344)">55 kb</text>
<line x1="22.40" y1="190.20" x2="290.40" y2="190.20" stroke="#777777" stroke-width="1.1"/>
<line x1="22.70" y1="188.20" x2="22.70" y2="191.80" stroke="#555" stroke-width="0.6"/>
<line x1="290.10" y1="188.20" x2="290.10" y2="191.80" stroke="#555" stroke-width="0.6"/>
<text x="298.50" y="199.60" font-size="7.6" text-anchor="start" fill="#d42a3c" stroke="#d42a3c" stroke-width="0.16" letter-spacing="0.1" transform="matrix(1 0 0 1.12 0 -23.952)">A to I</text>
<line x1="78.50" y1="193.40" x2="78.50" y2="199.40" stroke="#d63a4c" stroke-width="0.7" stroke-opacity="1"/>
<line x1="83.00" y1="193.40" x2="83.00" y2="199.40" stroke="#d63a4c" stroke-width="0.7" stroke-opacity="1"/>
<line x1="86.60" y1="193.40" x2="86.60" y2="199.40" stroke="#d63a4c" stroke-width="0.7" stroke-opacity="1"/>
<line x1="90.80" y1="193.40" x2="90.80" y2="199.40" stroke="#d63a4c" stroke-width="0.7" stroke-opacity="1"/>
<line x1="95.10" y1="193.40" x2="95.10" y2="199.40" stroke="#d63a4c" stroke-width="0.7" stroke-opacity="1"/>
<line x1="138.60" y1="193.40" x2="138.60" y2="199.40" stroke="#d63a4c" stroke-width="0.7" stroke-opacity="1"/>
<line x1="166.90" y1="193.40" x2="166.90" y2="199.40" stroke="#d63a4c" stroke-width="0.7" stroke-opacity="0.5"/>
<line x1="195.80" y1="193.40" x2="195.80" y2="199.40" stroke="#d63a4c" stroke-width="0.7" stroke-opacity="0.5"/>
<line x1="206.40" y1="193.40" x2="206.40" y2="199.40" stroke="#d63a4c" stroke-width="0.7" stroke-opacity="1"/>
<line x1="215.30" y1="193.40" x2="215.30" y2="199.40" stroke="#d63a4c" stroke-width="0.7" stroke-opacity="1"/>
<line x1="273.40" y1="193.40" x2="273.40" y2="199.40" stroke="#d63a4c" stroke-width="0.7" stroke-opacity="0.6"/>
<rect x="195.50" y="192.40" width="9.50" height="117.00" fill="#fae196" stroke="none" stroke-width="0"/>
<rect x="206.80" y="192.40" width="9.40" height="117.00" fill="#fae196" stroke="none" stroke-width="0"/>
<rect x="225.20" y="192.40" width="9.90" height="117.00" fill="#fae196" stroke="none" stroke-width="0"/>
<rect x="247.00" y="192.40" width="9.90" height="117.00" fill="#fae196" stroke="none" stroke-width="0"/>
<line x1="195.80" y1="193.40" x2="195.80" y2="199.40" stroke="#d63a4c" stroke-width="0.7"/>
<line x1="206.40" y1="193.40" x2="206.40" y2="199.40" stroke="#d63a4c" stroke-width="0.7"/>
<line x1="215.30" y1="193.40" x2="215.30" y2="199.40" stroke="#d63a4c" stroke-width="0.7"/>
<text x="32.00" y="197.90" font-size="7.6" text-anchor="start" fill="#231f20" stroke="#231f20" stroke-width="0.16" letter-spacing="0.1" font-style="italic" transform="matrix(1 0 0 1.12 0 -23.748)">Nabp1</text>
<line x1="32.00" y1="201.50" x2="54.70" y2="201.50" stroke="#231f20" stroke-width="0.85"/>
<path d="M57.50,201.50 L53.50,199.80 L54.50,201.50 L53.50,203.20 Z" fill="#231f20" stroke="none" stroke-width="0"/>
<line x1="32.00" y1="207.50" x2="75.00" y2="207.50" stroke="#2b3a8e" stroke-width="0.7"/>
<rect x="32.00" y="205.10" width="2.40" height="4.80" fill="#2b3a8e" stroke="none" stroke-width="0"/>
<rect x="66.00" y="205.60" width="9.00" height="3.90" fill="#2b3a8e" stroke="none" stroke-width="0"/>
<line x1="35.50" y1="204.80" x2="35.50" y2="210.00" stroke="#2b3a8e" stroke-width="0.6"/>
<line x1="36.70" y1="204.80" x2="36.70" y2="210.00" stroke="#2b3a8e" stroke-width="0.6"/>
<line x1="50.40" y1="204.80" x2="50.40" y2="210.00" stroke="#2b3a8e" stroke-width="0.6"/>
<line x1="57.00" y1="204.80" x2="57.00" y2="210.00" stroke="#2b3a8e" stroke-width="0.6"/>
<line x1="60.90" y1="204.80" x2="60.90" y2="210.00" stroke="#2b3a8e" stroke-width="0.6"/>
<line x1="65.30" y1="204.80" x2="65.30" y2="210.00" stroke="#2b3a8e" stroke-width="0.6"/>
<line x1="205.00" y1="207.40" x2="247.00" y2="207.40" stroke="#8a8a8a" stroke-width="0.45"/>
<line x1="216.00" y1="211.30" x2="225.20" y2="211.30" stroke="#8a8a8a" stroke-width="0.45"/>
<rect x="195.80" y="206.00" width="9.40" height="2.80" fill="#7fc24e" stroke="#3d7a2a" stroke-width="0.35" rx="1.3"/>
<rect x="247.00" y="206.00" width="10.20" height="2.80" fill="#7fc24e" stroke="#3d7a2a" stroke-width="0.35" rx="1.3"/>
<rect x="206.40" y="209.90" width="9.60" height="2.80" fill="#3549a6" stroke="#23307a" stroke-width="0.35" rx="1.3"/>
<rect x="225.20" y="209.90" width="10.30" height="2.80" fill="#3549a6" stroke="#23307a" stroke-width="0.35" rx="1.3"/>
<text x="198.60" y="222.80" font-size="7.6" text-anchor="start" fill="#231f20" stroke="#231f20" stroke-width="0.16" letter-spacing="0.1" transform="matrix(1 0 0 1.12 0 -26.736)">Inverted LINEs</text>
<path d="M22.40,230.70L22.4 230.7L22.9 230.7L23.4 230.7L23.9 230.7L24.4 230.7L24.9 230.7L25.4 230.7L25.9 230.7L26.4 230.7L26.9 230.7L27.4 230.7L27.9 230.7L28.4 230.7L28.9 230.7L29.4 230.7L29.9 230.7L30.4 230.7L30.9 230.7L31.4 230.7L31.9 230.7L32.4 230.7L32.9 230.6L33.4 230.5L33.9 230.5L34.4 230.6L34.9 230.6L35.4 230.5L35.9 230.5L36.4 230.5L36.9 230.6L37.4 230.6L37.9 230.5L38.4 230.5L38.9 230.5L39.4 230.4L39.9 230.4L40.4 230.5L40.9 230.5L41.4 230.5L41.9 230.6L42.4 230.6L42.9 230.5L43.4 230.5L43.9 230.5L44.4 230.4L44.9 230.4L45.4 230.5L45.9 230.5L46.4 230.5L46.9 230.5L47.4 230.5L47.9 230.6L48.4 230.5L48.9 230.4L49.4 230.5L49.9 230.5L50.4 230.5L50.9 230.4L51.4 230.5L51.9 230.5L52.4 230.4L52.9 230.4L53.4 230.4L53.9 230.4L54.4 230.5L54.9 230.4L55.4 230.4L55.9 230.5L56.4 230.5L56.9 230.5L57.4 230.6L57.9 230.6L58.4 230.5L58.9 230.5L59.4 230.5L59.9 230.5L60.4 230.5L60.9 230.5L61.4 230.5L61.9 230.6L62.4 230.6L62.9 230.5L63.4 230.4L63.9 230.4L64.4 230.4L64.9 230.5L65.4 230.5L65.9 230.5L66.4 230.4L66.9 230.4L67.4 230.4L67.9 230.4L68.4 230.4L68.9 230.5L69.4 230.6L69.9 230.6L70.4 230.6L70.9 230.6L71.4 230.6L71.9 230.5L72.4 230.6L72.9 230.6L73.4 230.5L73.9 230.4L74.4 230.4L74.9 230.4L75.4 230.5L75.9 230.5L76.4 230.5L76.9 230.6L77.4 230.5L77.9 230.5L78.4 230.5L78.9 230.4L79.4 230.4L79.9 230.5L80.4 230.5L80.9 230.6L81.4 230.6L81.9 230.6L82.4 230.5L82.9 230.5L83.4 230.5L83.9 230.5L84.4 230.6L84.9 230.6L85.4 230.5L85.9 230.5L86.4 230.5L86.9 230.5L87.4 230.4L87.9 230.5L88.4 230.6L88.9 230.5L89.4 230.6L89.9 230.6L90.4 230.5L90.9 230.4L91.4 230.4L91.9 230.4L92.4 230.4L92.9 230.4L93.4 230.4L93.9 230.4L94.4 230.4L94.9 230.5L95.4 230.5L95.9 230.6L96.4 230.6L96.9 230.5L97.4 230.5L97.9 230.5L98.4 230.5L98.9 230.6L99.4 230.6L99.9 230.5L100.4 230.5L100.9 230.6L101.4 230.6L101.9 230.5L102.4 230.5L102.9 230.5L103.4 230.5L103.9 230.5L104.4 230.5L104.9 230.5L105.4 230.6L105.9 230.6L106.4 230.6L106.9 230.6L107.4 230.5L107.9 230.4L108.4 230.5L108.9 230.5L109.4 230.4L109.9 230.4L110.4 230.4L110.9 230.5L111.4 230.5L111.9 230.5L112.4 230.5L112.9 230.6L113.4 230.5L113.9 230.4L114.4 230.4L114.9 230.5L115.4 230.6L115.9 230.6L116.4 230.5L116.9 230.5L117.4 230.5L117.9 230.5L118.4 230.5L118.9 230.5L119.4 230.5L119.9 230.5L120.4 230.5L120.9 230.5L121.4 230.4L121.9 230.4L122.4 230.5L122.9 230.6L123.4 230.5L123.9 230.4L124.4 230.4L124.9 230.5L125.4 230.6L125.9 230.6L126.4 230.4L126.9 230.4L127.4 230.5L127.9 230.4L128.4 230.4L128.9 230.4L129.4 230.5L129.9 230.5L130.4 230.5L130.9 230.5L131.4 230.5L131.9 230.4L132.4 230.4L132.9 230.5L133.4 230.6L133.9 230.5L134.4 230.4L134.9 230.4L135.4 230.5L135.9 230.5L136.4 230.5L136.9 230.5L137.4 230.5L137.9 230.4L138.4 230.3L138.9 230.4L139.4 230.6L139.9 230.6L140.4 230.5L140.9 230.5L141.4 230.6L141.9 230.5L142.4 230.5L142.9 230.6L143.4 230.5L143.9 230.4L144.4 230.5L144.9 230.5L145.4 230.5L145.9 230.5L146.4 230.5L146.9 230.5L147.4 230.5L147.9 230.5L148.4 230.5L148.9 230.6L149.4 230.6L149.9 230.5L150.4 230.4L150.9 230.4L151.4 230.5L151.9 230.5L152.4 230.4L152.9 230.5L153.4 230.5L153.9 230.4L154.4 230.4L154.9 230.5L155.4 230.5L155.9 230.5L156.4 230.5L156.9 230.5L157.4 230.4L157.9 230.5L158.4 230.5L158.9 230.5L159.4 230.5L159.9 230.5L160.4 230.6L160.9 230.7L161.4 230.6L161.9 230.4L162.4 230.4L162.9 230.5L163.4 230.6L163.9 230.6L164.4 230.5L164.9 230.5L165.4 230.5L165.9 230.5L166.4 230.5L166.9 230.4L167.4 230.4L167.9 230.4L168.4 230.4L168.9 230.4L169.4 230.5L169.9 230.5L170.4 230.6L170.9 230.5L171.4 230.4L171.9 230.4L172.4 230.5L172.9 230.5L173.4 230.6L173.9 230.6L174.4 230.6L174.9 230.4L175.4 230.4L175.9 230.5L176.4 230.5L176.9 230.5L177.4 230.4L177.9 230.5L178.4 230.6L178.9 230.6L179.4 230.5L179.9 230.4L180.4 230.4L180.9 230.4L181.4 230.4L181.9 230.4L182.4 230.5L182.9 230.6L183.4 230.5L183.9 230.5L184.4 230.5L184.9 230.5L185.4 230.4L185.9 230.6L186.4 230.6L186.9 230.6L187.4 230.5L187.9 230.5L188.4 230.5L188.9 230.5L189.4 230.5L189.9 230.5L190.4 230.5L190.9 230.5L191.4 230.5L191.9 230.5L192.4 230.6L192.9 230.5L193.4 230.5L193.9 230.4L194.4 230.5L194.9 230.5L195.4 230.5L195.9 230.5L196.4 230.5L196.9 230.5L197.4 230.5L197.9 230.6L198.4 230.6L198.9 230.5L199.4 230.6L199.9 230.6L200.4 230.6L200.9 230.5L201.4 230.5L201.9 230.4L202.4 230.4L202.9 230.4L203.4 230.5L203.9 230.6L204.4 230.6L204.9 230.6L205.4 230.5L205.9 230.5L206.4 230.5L206.9 230.5L207.4 230.4L207.9 230.4L208.4 230.6L208.9 230.6L209.4 230.5L209.9 230.5L210.4 230.5L210.9 230.5L211.4 230.5L211.9 230.5L212.4 230.4L212.9 230.4L213.4 230.5L213.9 230.5L214.4 230.5L214.9 230.5L215.4 230.5L215.9 230.5L216.4 230.4L216.9 230.4L217.4 230.5L217.9 230.5L218.4 230.5L218.9 230.6L219.4 230.6L219.9 230.5L220.4 230.6L220.9 230.6L221.4 230.6L221.9 230.5L222.4 230.6L222.9 230.6L223.4 230.4L223.9 230.4L224.4 230.5L224.9 230.5L225.4 230.4L225.9 230.4L226.4 230.4L226.9 230.5L227.4 230.4L227.9 230.4L228.4 230.5L228.9 230.6L229.4 230.6L229.9 230.5L230.4 230.4L230.9 230.4L231.4 230.5L231.9 230.5L232.4 230.6L232.9 230.6L233.4 230.6L233.9 230.5L234.4 230.5L234.9 230.6L235.4 230.6L235.9 230.5L236.4 230.5L236.9 230.5L237.4 230.4L237.9 230.4L238.4 230.6L238.9 230.6L239.4 230.5L239.9 230.5L240.4 230.5L240.9 230.5L241.4 230.4L241.9 230.4L242.4 230.5L242.9 230.5L243.4 230.6L243.9 230.7L244.4 230.7L244.9 230.6L245.4 230.5L245.9 230.5L246.4 230.5L246.9 230.5L247.4 230.6L247.9 230.7L248.4 230.6L248.9 230.5L249.4 230.5L249.9 230.6L250.4 230.5L250.9 230.5L251.4 230.4L251.9 230.5L252.4 230.5L252.9 230.5L253.4 230.5L253.9 230.5L254.4 230.4L254.9 230.4L255.4 230.4L255.9 230.6L256.4 230.6L256.9 230.6L257.4 230.5L257.9 230.4L258.4 230.4L258.9 230.5L259.4 230.5L259.9 230.5L260.4 230.5L260.9 230.5L261.4 230.5L261.9 230.6L262.4 230.6L262.9 230.5L263.4 230.6L263.9 230.6L264.4 230.5L264.9 230.4L265.4 230.5L265.9 230.6L266.4 230.6L266.9 230.5L267.4 230.5L267.9 230.6L268.4 230.7L268.9 230.6L269.4 230.5L269.9 230.5L270.4 230.5L270.9 230.4L271.4 230.4L271.9 230.5L272.4 230.5L272.9 230.6L273.4 230.6L273.9 230.5L274.4 230.4L274.9 230.4L275.4 230.4L275.9 230.5L276.4 230.4L276.9 230.4L277.4 230.5L277.9 230.5L278.4 230.6L278.9 230.6L279.4 230.5L279.9 230.6L280.4 230.6L280.9 230.6L281.4 230.5L281.9 230.4L282.4 230.4L282.9 230.5L283.4 230.5L283.9 230.5L284.4 230.4L284.9 230.5L285.4 230.6L285.9 230.6L286.4 230.6L286.9 230.6L287.4 230.4L287.9 230.3L288.4 230.4L288.9 230.5L289.4 230.5L289.9 230.5L290.4 230.7L290.40,230.70Z" fill="#36883c" stroke="none" stroke-width="0"/>
<path d="M22.40,250.00L22.4 250.0L22.9 250.0L23.4 250.0L23.9 250.0L24.4 250.0L24.9 250.0L25.4 250.0L25.9 250.0L26.4 250.0L26.9 250.0L27.4 250.0L27.9 250.0L28.4 250.0L28.9 250.0L29.4 250.0L29.9 250.0L30.4 250.0L30.9 250.0L31.4 250.0L31.9 249.3L32.4 249.1L32.9 248.8L33.4 248.8L33.9 249.2L34.4 249.3L34.9 249.4L35.4 249.4L35.9 249.2L36.4 249.1L36.9 249.0L37.4 249.1L37.9 249.3L38.4 249.1L38.9 249.3L39.4 249.2L39.9 249.0L40.4 249.2L40.9 249.4L41.4 249.3L41.9 249.3L42.4 249.2L42.9 249.4L43.4 249.3L43.9 248.9L44.4 248.7L44.9 248.6L45.4 248.6L45.9 248.9L46.4 249.2L46.9 249.3L47.4 249.4L47.9 249.4L48.4 249.0L48.9 249.0L49.4 248.9L49.9 248.9L50.4 248.8L50.9 248.7L51.4 248.7L51.9 248.8L52.4 248.7L52.9 248.7L53.4 248.9L53.9 249.0L54.4 249.0L54.9 249.1L55.4 249.2L55.9 249.1L56.4 249.0L56.9 249.2L57.4 249.4L57.9 249.3L58.4 248.9L58.9 248.6L59.4 248.6L59.9 248.8L60.4 249.1L60.9 249.2L61.4 249.0L61.9 248.9L62.4 249.1L62.9 249.2L63.4 249.1L63.9 249.1L64.4 248.8L64.9 248.8L65.4 248.6L65.9 248.3L66.4 248.0L66.9 247.9L67.4 247.8L67.9 247.7L68.4 247.6L68.9 247.6L69.4 247.6L69.9 247.6L70.4 247.7L70.9 247.8L71.4 248.0L71.9 248.2L72.4 248.4L72.9 248.8L73.4 249.4L73.9 249.2L74.4 248.9L74.9 248.8L75.4 248.9L75.9 248.7L76.4 248.6L76.9 248.8L77.4 249.1L77.9 249.2L78.4 249.3L78.9 249.3L79.4 249.3L79.9 249.3L80.4 249.3L80.9 249.3L81.4 249.4L81.9 249.5L82.4 249.3L82.9 249.1L83.4 249.2L83.9 249.3L84.4 249.2L84.9 249.3L85.4 249.4L85.9 249.2L86.4 249.0L86.9 249.1L87.4 248.9L87.9 249.0L88.4 249.4L88.9 249.5L89.4 249.3L89.9 249.1L90.4 249.0L90.9 249.1L91.4 249.4L91.9 249.6L92.4 249.9L92.9 249.7L93.4 249.7L93.9 249.7L94.4 249.7L94.9 249.9L95.4 249.9L95.9 249.8L96.4 249.7L96.9 249.6L97.4 249.7L97.9 249.8L98.4 249.8L98.9 249.8L99.4 249.8L99.9 249.8L100.4 249.9L100.9 249.8L101.4 249.7L101.9 249.6L102.4 249.7L102.9 249.6L103.4 249.6L103.9 249.8L104.4 249.9L104.9 249.9L105.4 249.8L105.9 249.9L106.4 249.9L106.9 249.8L107.4 249.7L107.9 249.8L108.4 249.7L108.9 249.7L109.4 249.7L109.9 249.7L110.4 249.7L110.9 249.8L111.4 249.8L111.9 249.8L112.4 249.8L112.9 249.8L113.4 249.9L113.9 249.9L114.4 249.8L114.9 249.6L115.4 249.6L115.9 249.7L116.4 249.6L116.9 249.6L117.4 249.8L117.9 249.8L118.4 249.7L118.9 249.6L119.4 249.6L119.9 249.6L120.4 249.7L120.9 249.8L121.4 249.9L121.9 249.8L122.4 249.7L122.9 249.8L123.4 249.9L123.9 249.9L124.4 249.8L124.9 249.7L125.4 249.7L125.9 249.6L126.4 249.6L126.9 249.7L127.4 249.7L127.9 249.8L128.4 249.9L128.9 249.9L129.4 249.8L129.9 249.8L130.4 249.8L130.9 249.7L131.4 249.7L131.9 249.8L132.4 249.9L132.9 249.8L133.4 249.7L133.9 249.7L134.4 249.8L134.9 249.9L135.4 249.9L135.9 249.8L136.4 249.7L136.9 249.7L137.4 249.7L137.9 249.7L138.4 249.6L138.9 249.6L139.4 249.6L139.9 249.6L140.4 249.7L140.9 249.9L141.4 249.8L141.9 249.7L142.4 249.7L142.9 249.8L143.4 249.8L143.9 249.8L144.4 249.7L144.9 249.7L145.4 249.8L145.9 249.8L146.4 249.7L146.9 249.7L147.4 249.8L147.9 249.8L148.4 249.9L148.9 249.8L149.4 249.6L149.9 249.7L150.4 249.7L150.9 249.7L151.4 249.6L151.9 249.7L152.4 249.9L152.9 249.8L153.4 249.7L153.9 249.7L154.4 249.7L154.9 249.6L155.4 249.7L155.9 249.8L156.4 249.6L156.9 249.6L157.4 249.7L157.9 249.8L158.4 249.8L158.9 249.7L159.4 249.7L159.9 249.7L160.4 249.7L160.9 249.8L161.4 249.8L161.9 249.8L162.4 249.9L162.9 249.8L163.4 249.8L163.9 249.8L164.4 249.8L164.9 249.7L165.4 249.6L165.9 249.6L166.4 249.7L166.9 249.8L167.4 249.7L167.9 249.6L168.4 249.6L168.9 249.7L169.4 249.8L169.9 249.8L170.4 249.7L170.9 249.7L171.4 249.9L171.9 249.9L172.4 249.9L172.9 249.8L173.4 249.8L173.9 249.8L174.4 249.8L174.9 249.7L175.4 249.7L175.9 249.7L176.4 249.9L176.9 249.9L177.4 249.7L177.9 249.7L178.4 249.6L178.9 249.6L179.4 249.7L179.9 249.7L180.4 249.7L180.9 249.7L181.4 249.7L181.9 249.6L182.4 249.7L182.9 249.8L183.4 249.7L183.9 249.8L184.4 249.8L184.9 249.8L185.4 249.9L185.9 249.8L186.4 249.8L186.9 249.7L187.4 249.7L187.9 249.8L188.4 249.9L188.9 249.8L189.4 249.7L189.9 249.7L190.4 249.7L190.9 249.7L191.4 249.7L191.9 249.6L192.4 249.7L192.9 249.9L193.4 250.0L193.9 249.9L194.4 249.9L194.9 249.8L195.4 249.7L195.9 249.8L196.4 249.8L196.9 249.7L197.4 249.7L197.9 249.8L198.4 249.8L198.9 249.8L199.4 249.8L199.9 249.8L200.4 249.8L200.9 249.8L201.4 249.7L201.9 249.6L202.4 249.7L202.9 249.8L203.4 249.7L203.9 249.7L204.4 249.8L204.9 249.8L205.4 249.6L205.9 249.7L206.4 249.8L206.9 249.8L207.4 249.8L207.9 249.8L208.4 249.7L208.9 249.7L209.4 249.8L209.9 249.7L210.4 249.7L210.9 249.7L211.4 249.6L211.9 249.6L212.4 249.7L212.9 249.8L213.4 249.8L213.9 249.7L214.4 249.8L214.9 249.8L215.4 249.8L215.9 249.8L216.4 249.9L216.9 249.9L217.4 249.9L217.9 249.9L218.4 249.8L218.9 249.7L219.4 249.8L219.9 249.9L220.4 249.8L220.9 249.8L221.4 249.7L221.9 249.7L222.4 249.7L222.9 249.7L223.4 249.7L223.9 249.7L224.4 249.8L224.9 249.8L225.4 249.8L225.9 249.8L226.4 249.7L226.9 249.7L227.4 249.8L227.9 249.8L228.4 249.7L228.9 249.6L229.4 249.6L229.9 249.7L230.4 249.7L230.9 249.7L231.4 249.7L231.9 249.6L232.4 249.6L232.9 249.8L233.4 249.7L233.9 249.7L234.4 249.7L234.9 249.9L235.4 249.9L235.9 249.9L236.4 249.9L236.9 249.8L237.4 249.7L237.9 249.7L238.4 249.6L238.9 249.7L239.4 249.8L239.9 249.8L240.4 249.7L240.9 249.6L241.4 249.6L241.9 249.6L242.4 249.8L242.9 249.8L243.4 249.7L243.9 249.7L244.4 249.8L244.9 249.8L245.4 249.7L245.9 249.8L246.4 249.8L246.9 249.8L247.4 249.9L247.9 249.9L248.4 249.9L248.9 249.9L249.4 249.8L249.9 249.7L250.4 249.7L250.9 249.7L251.4 249.7L251.9 249.7L252.4 249.7L252.9 249.7L253.4 249.6L253.9 249.6L254.4 249.6L254.9 249.6L255.4 249.7L255.9 249.8L256.4 249.8L256.9 249.7L257.4 249.7L257.9 249.7L258.4 249.7L258.9 249.7L259.4 249.6L259.9 249.6L260.4 249.6L260.9 249.6L261.4 249.6L261.9 249.7L262.4 249.7L262.9 249.7L263.4 249.8L263.9 249.9L264.4 249.9L264.9 249.8L265.4 249.7L265.9 249.6L266.4 249.6L266.9 249.7L267.4 249.8L267.9 249.6L268.4 249.7L268.9 249.8L269.4 249.7L269.9 249.7L270.4 249.8L270.9 249.8L271.4 249.8L271.9 249.8L272.4 249.8L272.9 249.7L273.4 249.8L273.9 249.8L274.4 249.7L274.9 249.7L275.4 249.7L275.9 249.7L276.4 249.7L276.9 249.7L277.4 249.7L277.9 249.7L278.4 249.7L278.9 249.8L279.4 249.8L279.9 249.7L280.4 249.7L280.9 249.7L281.4 249.7L281.9 249.9L282.4 249.9L282.9 249.8L283.4 249.7L283.9 249.7L284.4 249.8L284.9 249.7L285.4 249.7L285.9 249.7L286.4 249.7L286.9 249.7L287.4 249.7L287.9 249.7L288.4 249.8L288.9 249.9L289.4 249.9L289.9 249.9L290.4 250.0L290.40,250.00Z" fill="#f4a11e" stroke="none" stroke-width="0"/>
<path d="M22.40,271.00L22.4 271.0L22.9 271.0L23.4 271.0L23.9 271.0L24.4 271.0L24.9 271.0L25.4 271.0L25.9 271.0L26.4 271.0L26.9 271.0L27.4 271.0L27.9 271.0L28.4 271.0L28.9 271.0L29.4 271.0L29.9 271.0L30.4 271.0L30.9 271.0L31.4 271.0L31.9 271.0L32.4 270.8L32.9 270.6L33.4 270.4L33.9 270.3L34.4 270.1L34.9 270.0L35.4 270.1L35.9 270.3L36.4 270.4L36.9 270.5L37.4 270.8L37.9 271.0L38.4 270.9L38.9 270.6L39.4 270.5L39.9 270.7L40.4 270.6L40.9 270.3L41.4 270.2L41.9 270.4L42.4 270.7L42.9 270.7L43.4 270.5L43.9 270.2L44.4 270.2L44.9 270.4L45.4 270.7L45.9 270.9L46.4 270.9L46.9 270.7L47.4 270.6L47.9 270.6L48.4 270.5L48.9 270.4L49.4 270.3L49.9 270.3L50.4 270.4L50.9 270.5L51.4 270.4L51.9 270.4L52.4 270.5L52.9 270.3L53.4 270.1L53.9 270.2L54.4 270.4L54.9 270.5L55.4 270.3L55.9 270.3L56.4 270.3L56.9 270.3L57.4 270.5L57.9 270.4L58.4 270.3L58.9 270.1L59.4 270.1L59.9 270.4L60.4 270.4L60.9 270.1L61.4 270.0L61.9 270.1L62.4 270.0L62.9 270.1L63.4 270.4L63.9 270.7L64.4 270.7L64.9 270.7L65.4 270.6L65.9 270.4L66.4 270.2L66.9 270.1L67.4 270.3L67.9 270.6L68.4 270.6L68.9 270.5L69.4 270.3L69.9 270.2L70.4 270.3L70.9 270.6L71.4 270.6L71.9 270.6L72.4 270.7L72.9 270.5L73.4 270.1L73.9 270.1L74.4 270.3L74.9 270.5L75.4 270.5L75.9 270.5L76.4 270.4L76.9 270.3L77.4 270.1L77.9 270.3L78.4 270.7L78.9 270.7L79.4 270.3L79.9 270.1L80.4 270.2L80.9 270.3L81.4 270.5L81.9 270.5L82.4 270.2L82.9 270.1L83.4 270.3L83.9 270.3L84.4 270.2L84.9 270.2L85.4 270.3L85.9 270.2L86.4 270.2L86.9 270.3L87.4 270.2L87.9 270.3L88.4 270.6L88.9 270.8L89.4 270.6L89.9 270.5L90.4 270.3L90.9 270.3L91.4 270.6L91.9 270.8L92.4 270.8L92.9 270.7L93.4 270.6L93.9 270.5L94.4 270.3L94.9 270.3L95.4 270.5L95.9 270.5L96.4 270.6L96.9 270.6L97.4 270.7L97.9 270.7L98.4 270.4L98.9 270.3L99.4 270.7L99.9 270.7L100.4 270.4L100.9 270.2L101.4 270.3L101.9 270.3L102.4 270.3L102.9 270.4L103.4 270.4L103.9 270.5L104.4 270.6L104.9 270.7L105.4 270.4L105.9 270.3L106.4 270.7L106.9 270.8L107.4 270.4L107.9 270.2L108.4 270.2L108.9 270.2L109.4 270.3L109.9 270.3L110.4 270.4L110.9 270.4L111.4 270.4L111.9 270.4L112.4 270.7L112.9 270.6L113.4 270.2L113.9 270.2L114.4 270.4L114.9 270.4L115.4 270.3L115.9 270.6L116.4 270.8L116.9 270.7L117.4 270.4L117.9 270.3L118.4 270.5L118.9 270.3L119.4 270.3L119.9 270.5L120.4 270.5L120.9 270.5L121.4 270.6L121.9 270.4L122.4 270.6L122.9 270.7L123.4 270.4L123.9 270.3L124.4 270.3L124.9 270.4L125.4 270.6L125.9 270.5L126.4 270.3L126.9 270.5L127.4 270.6L127.9 270.4L128.4 270.6L128.9 270.5L129.4 270.1L129.9 270.2L130.4 270.7L130.9 270.8L131.4 270.5L131.9 270.3L132.4 270.3L132.9 270.6L133.4 270.6L133.9 270.6L134.4 270.5L134.9 270.4L135.4 270.4L135.9 270.4L136.4 270.4L136.9 270.5L137.4 270.4L137.9 270.3L138.4 270.6L138.9 270.9L139.4 270.8L139.9 270.3L140.4 270.1L140.9 270.4L141.4 270.7L141.9 270.6L142.4 270.3L142.9 270.3L143.4 270.3L143.9 270.1L144.4 270.1L144.9 270.4L145.4 270.3L145.9 270.1L146.4 270.1L146.9 270.1L147.4 270.3L147.9 270.7L148.4 270.8L148.9 270.6L149.4 270.4L149.9 270.3L150.4 270.2L150.9 270.6L151.4 270.9L151.9 270.9L152.4 270.6L152.9 270.3L153.4 270.3L153.9 270.5L154.4 270.4L154.9 270.4L155.4 270.6L155.9 270.7L156.4 270.4L156.9 270.5L157.4 270.7L157.9 270.7L158.4 270.7L158.9 270.5L159.4 270.3L159.9 270.4L160.4 270.4L160.9 270.4L161.4 270.5L161.9 270.5L162.4 270.5L162.9 270.4L163.4 270.3L163.9 270.3L164.4 270.1L164.9 270.1L165.4 270.2L165.9 270.3L166.4 270.2L166.9 270.3L167.4 270.7L167.9 270.9L168.4 270.7L168.9 270.5L169.4 270.3L169.9 270.1L170.4 270.0L170.9 270.0L171.4 270.0L171.9 270.0L172.4 270.0L172.9 270.3L173.4 270.6L173.9 270.5L174.4 270.4L174.9 270.4L175.4 270.4L175.9 270.3L176.4 270.5L176.9 270.6L177.4 270.5L177.9 270.2L178.4 270.0L178.9 270.2L179.4 270.5L179.9 270.5L180.4 270.2L180.9 270.2L181.4 270.6L181.9 270.7L182.4 270.6L182.9 270.3L183.4 270.1L183.9 270.0L184.4 270.2L184.9 270.4L185.4 270.5L185.9 270.4L186.4 270.3L186.9 270.2L187.4 270.4L187.9 270.4L188.4 270.3L188.9 270.5L189.4 270.7L189.9 270.6L190.4 270.3L190.9 270.3L191.4 270.4L191.9 270.1L192.4 270.2L192.9 270.6L193.4 270.6L193.9 270.2L194.4 270.1L194.9 270.2L195.4 270.4L195.9 265.5L196.4 264.3L196.9 264.8L197.4 265.6L197.9 265.7L198.4 264.1L198.9 260.5L199.4 264.3L199.9 266.2L200.4 265.9L200.9 264.3L201.4 264.6L201.9 265.6L202.4 264.7L202.9 261.0L203.4 264.1L203.9 265.7L204.4 266.2L204.9 265.2L205.4 263.5L205.9 263.7L206.4 265.0L206.9 260.8L207.4 264.9L207.9 263.0L208.4 262.7L208.9 264.1L209.4 264.1L209.9 260.5L210.4 264.3L210.9 265.5L211.4 265.5L211.9 264.1L212.4 263.0L212.9 263.0L213.4 263.3L213.9 261.2L214.4 264.2L214.9 264.8L215.4 264.9L215.9 264.9L216.4 266.6L216.9 269.0L217.4 268.7L217.9 268.7L218.4 268.4L218.9 268.3L219.4 268.7L219.9 268.7L220.4 268.5L220.9 268.5L221.4 268.1L221.9 268.0L222.4 268.4L222.9 268.8L223.4 268.8L223.9 268.5L224.4 268.4L224.9 269.1L225.4 267.1L225.9 265.2L226.4 264.4L226.9 263.6L227.4 263.5L227.9 262.5L228.4 266.0L228.9 265.9L229.4 264.9L229.9 263.9L230.4 263.4L230.9 263.4L231.4 264.0L231.9 262.0L232.4 265.1L232.9 265.3L233.4 265.2L233.9 265.0L234.4 265.4L234.9 266.2L235.4 266.0L235.9 266.4L236.4 269.0L236.9 268.2L237.4 268.0L237.9 268.0L238.4 267.6L238.9 267.6L239.4 267.9L239.9 267.5L240.4 267.4L240.9 267.7L241.4 267.2L241.9 267.1L242.4 267.7L242.9 268.0L243.4 267.5L243.9 267.2L244.4 267.6L244.9 267.9L245.4 267.5L245.9 266.9L246.4 266.7L246.9 267.4L247.4 265.9L247.9 263.8L248.4 263.9L248.9 264.0L249.4 263.5L249.9 262.9L250.4 254.5L250.9 262.4L251.4 261.1L251.9 261.8L252.4 263.3L252.9 258.0L253.4 261.8L253.9 262.4L254.4 263.4L254.9 263.2L255.4 255.0L255.9 260.8L256.4 261.1L256.9 262.2L257.4 264.8L257.9 270.5L258.4 270.5L258.9 270.4L259.4 270.3L259.9 270.3L260.4 270.6L260.9 270.4L261.4 270.4L261.9 270.6L262.4 270.5L262.9 270.2L263.4 270.3L263.9 270.5L264.4 270.7L264.9 270.6L265.4 270.5L265.9 270.2L266.4 270.1L266.9 270.2L267.4 270.4L267.9 270.6L268.4 270.7L268.9 270.6L269.4 270.7L269.9 270.5L270.4 270.4L270.9 270.4L271.4 270.4L271.9 270.3L272.4 270.2L272.9 270.1L273.4 270.2L273.9 270.6L274.4 270.7L274.9 270.8L275.4 270.6L275.9 270.3L276.4 270.4L276.9 270.4L277.4 270.2L277.9 270.3L278.4 270.5L278.9 270.5L279.4 270.3L279.9 270.2L280.4 270.2L280.9 270.2L281.4 270.3L281.9 270.5L282.4 270.4L282.9 270.4L283.4 270.4L283.9 270.4L284.4 270.5L284.9 270.5L285.4 270.4L285.9 270.2L286.4 270.4L286.9 270.6L287.4 270.4L287.9 270.3L288.4 270.7L288.9 270.5L289.4 270.4L289.9 270.4L290.4 271.0L290.40,271.00Z" fill="#36883c" stroke="none" stroke-width="0"/>
<path d="M22.40,290.30L22.4 290.3L22.9 290.3L23.4 290.3L23.9 290.3L24.4 290.3L24.9 290.3L25.4 290.3L25.9 290.3L26.4 290.3L26.9 290.3L27.4 290.3L27.9 290.3L28.4 290.3L28.9 290.3L29.4 290.3L29.9 290.3L30.4 290.3L30.9 290.3L31.4 290.3L31.9 290.3L32.4 289.3L32.9 285.3L33.4 285.3L33.9 289.3L34.4 289.6L34.9 289.8L35.4 282.0L35.9 282.0L36.4 289.1L36.9 289.2L37.4 289.1L37.9 289.1L38.4 289.4L38.9 289.5L39.4 289.4L39.9 289.3L40.4 289.4L40.9 289.4L41.4 289.4L41.9 289.4L42.4 289.2L42.9 289.3L43.4 289.5L43.9 289.5L44.4 289.2L44.9 289.0L45.4 289.1L45.9 289.4L46.4 289.3L46.9 289.2L47.4 289.4L47.9 289.5L48.4 289.2L48.9 289.1L49.4 289.1L49.9 283.8L50.4 289.5L50.9 289.6L51.4 289.7L51.9 289.5L52.4 289.2L52.9 289.2L53.4 289.1L53.9 289.1L54.4 289.1L54.9 289.2L55.4 289.5L55.9 289.7L56.4 289.7L56.9 285.8L57.4 285.8L57.9 289.8L58.4 289.8L58.9 289.7L59.4 289.5L59.9 289.3L60.4 289.1L60.9 285.8L61.4 285.8L61.9 289.0L62.4 288.9L62.9 289.0L63.4 289.4L63.9 289.8L64.4 290.3L64.9 287.8L65.4 286.4L65.9 286.3L66.4 285.9L66.9 285.7L67.4 286.3L67.9 286.8L68.4 286.7L68.9 286.7L69.4 286.8L69.9 286.8L70.4 286.6L70.9 287.2L71.4 287.5L71.9 287.2L72.4 287.4L72.9 287.6L73.4 287.5L73.9 287.3L74.4 286.7L74.9 286.2L75.4 286.4L75.9 286.7L76.4 287.0L76.9 286.8L77.4 286.2L77.9 285.9L78.4 285.9L78.9 286.0L79.4 286.4L79.9 284.8L80.4 286.5L80.9 286.8L81.4 286.2L81.9 286.2L82.4 286.9L82.9 286.8L83.4 286.9L83.9 287.4L84.4 287.6L84.9 287.1L85.4 286.1L85.9 285.7L86.4 286.3L86.9 286.8L87.4 286.8L87.9 286.9L88.4 287.2L88.9 287.1L89.4 286.6L89.9 284.5L90.4 286.8L90.9 287.4L91.4 287.2L91.9 286.4L92.4 286.2L92.9 286.5L93.4 286.7L93.9 286.3L94.4 285.8L94.9 285.7L95.4 286.1L95.9 286.6L96.4 286.6L96.9 286.4L97.4 286.7L97.9 287.1L98.4 287.2L98.9 287.2L99.4 286.9L99.9 286.1L100.4 286.0L100.9 286.4L101.4 286.2L101.9 285.8L102.4 285.8L102.9 286.3L103.4 286.9L103.9 286.9L104.4 287.0L104.9 287.3L105.4 287.8L105.9 287.5L106.4 286.6L106.9 286.5L107.4 286.7L107.9 286.9L108.4 287.3L108.9 286.7L109.4 286.7L109.9 287.0L110.4 286.6L110.9 286.5L111.4 286.9L111.9 287.4L112.4 287.8L112.9 287.8L113.4 287.2L113.9 286.5L114.4 286.1L114.9 286.3L115.4 286.7L115.9 286.5L116.4 286.4L116.9 286.6L117.4 286.8L117.9 287.0L118.4 286.9L118.9 287.0L119.4 286.8L119.9 285.1L120.4 286.8L120.9 286.6L121.4 286.8L121.9 286.2L122.4 285.7L122.9 286.1L123.4 286.5L123.9 286.4L124.4 286.1L124.9 285.9L125.4 286.5L125.9 287.2L126.4 287.4L126.9 287.4L127.4 287.4L127.9 287.4L128.4 287.0L128.9 286.8L129.4 287.4L129.9 287.7L130.4 287.7L130.9 287.5L131.4 287.5L131.9 287.8L132.4 287.4L132.9 286.8L133.4 287.1L133.9 287.5L134.4 287.6L134.9 287.9L135.4 287.8L135.9 287.5L136.4 287.4L136.9 287.3L137.4 287.2L137.9 286.6L138.4 286.0L138.9 286.0L139.4 286.2L139.9 286.3L140.4 286.6L140.9 287.5L141.4 288.0L141.9 287.1L142.4 286.4L142.9 286.6L143.4 287.0L143.9 287.2L144.4 286.8L144.9 286.5L145.4 287.0L145.9 287.6L146.4 287.5L146.9 287.5L147.4 287.9L147.9 287.7L148.4 287.3L148.9 287.6L149.4 287.5L149.9 286.8L150.4 286.6L150.9 287.4L151.4 287.4L151.9 286.6L152.4 286.3L152.9 286.4L153.4 286.4L153.9 286.9L154.4 287.7L154.9 287.5L155.4 286.8L155.9 286.9L156.4 286.8L156.9 286.6L157.4 287.1L157.9 287.5L158.4 287.2L158.9 287.1L159.4 287.3L159.9 287.2L160.4 287.3L160.9 287.7L161.4 287.7L161.9 287.5L162.4 287.4L162.9 287.5L163.4 287.4L163.9 287.4L164.4 287.7L164.9 287.6L165.4 287.0L165.9 286.5L166.4 286.3L166.9 286.5L167.4 286.5L167.9 286.0L168.4 286.0L168.9 286.7L169.4 286.7L169.9 286.5L170.4 286.7L170.9 286.9L171.4 287.5L171.9 287.9L172.4 287.6L172.9 287.3L173.4 287.4L173.9 287.8L174.4 288.1L174.9 287.7L175.4 286.6L175.9 286.2L176.4 286.4L176.9 286.6L177.4 286.9L177.9 287.0L178.4 286.9L178.9 286.8L179.4 286.8L179.9 287.2L180.4 287.1L180.9 286.7L181.4 286.6L181.9 286.5L182.4 286.7L182.9 287.2L183.4 287.6L183.9 287.8L184.4 287.3L184.9 286.9L185.4 287.1L185.9 286.6L186.4 286.1L186.9 286.7L187.4 287.2L187.9 286.6L188.4 286.4L188.9 287.3L189.4 288.0L189.9 288.0L190.4 287.8L190.9 287.9L191.4 288.1L191.9 287.9L192.4 287.3L192.9 286.6L193.4 286.6L193.9 287.2L194.4 286.7L194.9 287.1L195.4 284.2L195.9 283.3L196.4 284.4L196.9 284.9L197.4 285.0L197.9 285.0L198.4 284.8L198.9 280.3L199.4 285.4L199.9 285.3L200.4 285.0L200.9 284.6L201.4 283.3L201.9 283.1L202.4 283.8L202.9 280.8L203.4 281.9L203.9 282.7L204.4 283.8L204.9 283.5L205.4 282.7L205.9 280.5L206.4 283.9L206.9 284.7L207.4 284.9L207.9 284.6L208.4 283.3L208.9 282.9L209.4 283.4L209.9 281.1L210.4 283.2L210.9 283.9L211.4 283.6L211.9 283.8L212.4 284.1L212.9 284.2L213.4 284.5L213.9 281.3L214.4 284.0L214.9 284.5L215.4 285.3L215.9 285.6L216.4 284.8L216.9 284.5L217.4 285.5L217.9 285.0L218.4 284.0L218.9 285.1L219.4 285.6L219.9 284.5L220.4 283.3L220.9 283.1L221.4 283.6L221.9 284.1L222.4 284.7L222.9 284.8L223.4 283.4L223.9 282.0L224.4 282.4L224.9 283.8L225.4 284.5L225.9 284.2L226.4 283.3L226.9 283.4L227.4 284.7L227.9 281.3L228.4 283.0L228.9 283.4L229.4 284.7L229.9 284.7L230.4 283.9L230.9 283.0L231.4 282.3L231.9 280.8L232.4 284.9L232.9 285.1L233.4 283.7L233.9 283.6L234.4 284.6L234.9 283.9L235.4 282.7L235.9 282.3L236.4 282.5L236.9 283.3L237.4 283.7L237.9 283.3L238.4 283.4L238.9 283.9L239.4 283.7L239.9 281.8L240.4 283.0L240.9 283.4L241.4 283.0L241.9 282.2L242.4 282.5L242.9 282.6L243.4 283.2L243.9 281.5L244.4 284.1L244.9 282.8L245.4 283.3L245.9 284.5L246.4 284.9L246.9 285.2L247.4 285.0L247.9 284.5L248.4 284.4L248.9 284.4L249.4 285.1L249.9 285.3L250.4 284.9L250.9 285.5L251.4 284.9L251.9 281.1L252.4 281.9L252.9 282.6L253.4 283.5L253.9 285.0L254.4 285.7L254.9 285.0L255.4 283.8L255.9 283.2L256.4 283.8L256.9 285.8L257.4 288.7L257.9 287.9L258.4 287.7L258.9 287.7L259.4 287.6L259.9 287.5L260.4 287.4L260.9 287.2L261.4 287.1L261.9 287.1L262.4 287.4L262.9 287.3L263.4 287.2L263.9 287.5L264.4 287.4L264.9 287.5L265.4 287.9L265.9 288.1L266.4 288.2L266.9 288.3L267.4 288.3L267.9 288.0L268.4 287.6L268.9 287.6L269.4 288.1L269.9 288.0L270.4 287.9L270.9 288.0L271.4 288.0L271.9 288.2L272.4 288.7L272.9 288.6L273.4 288.0L273.9 287.8L274.4 287.8L274.9 288.0L275.4 288.5L275.9 288.5L276.4 288.3L276.9 288.3L277.4 288.3L277.9 288.3L278.4 288.4L278.9 288.3L279.4 288.1L279.9 288.0L280.4 288.0L280.9 288.4L281.4 288.6L281.9 288.7L282.4 288.7L282.9 288.4L283.4 288.6L283.9 288.8L284.4 288.6L284.9 288.4L285.4 288.3L285.9 288.4L286.4 288.9L286.9 289.3L287.4 289.4L287.9 289.5L288.4 289.3L288.9 289.1L289.4 289.3L289.9 289.6L290.4 290.3L290.40,290.30Z" fill="#8e2a8f" stroke="none" stroke-width="0"/>
<path d="M22.40,309.20L22.4 309.2L22.9 309.2L23.4 309.2L23.9 309.2L24.4 309.2L24.9 309.2L25.4 309.2L25.9 309.2L26.4 309.2L26.9 309.2L27.4 309.2L27.9 309.2L28.4 309.2L28.9 309.2L29.4 309.2L29.9 309.2L30.4 309.2L30.9 309.2L31.4 309.2L31.9 309.2L32.4 308.5L32.9 303.2L33.4 303.2L33.9 303.2L34.4 308.3L34.9 308.5L35.4 300.7L35.9 300.7L36.4 308.5L36.9 308.1L37.4 307.8L37.9 308.0L38.4 308.4L38.9 308.5L39.4 308.5L39.9 308.5L40.4 308.5L40.9 308.2L41.4 307.9L41.9 307.8L42.4 308.0L42.9 308.2L43.4 308.4L43.9 308.3L44.4 308.2L44.9 308.2L45.4 308.2L45.9 308.3L46.4 308.5L46.9 308.5L47.4 308.3L47.9 308.2L48.4 308.0L48.9 308.0L49.4 308.4L49.9 302.7L50.4 308.3L50.9 308.5L51.4 308.5L51.9 308.5L52.4 308.4L52.9 308.4L53.4 308.4L53.9 308.2L54.4 308.1L54.9 308.2L55.4 308.1L55.9 308.0L56.4 308.1L56.9 304.2L57.4 304.2L57.9 308.5L58.4 308.3L58.9 308.2L59.4 308.1L59.9 308.2L60.4 308.1L60.9 304.2L61.4 304.2L61.9 308.2L62.4 308.2L62.9 308.1L63.4 308.3L63.9 308.7L64.4 309.2L64.9 303.6L65.4 302.2L65.9 303.7L66.4 304.5L66.9 303.5L67.4 302.1L67.9 302.4L68.4 303.2L68.9 302.8L69.4 302.2L69.9 302.1L70.4 302.3L70.9 302.9L71.4 303.6L71.9 300.7L72.4 303.6L72.9 303.9L73.4 304.2L73.9 304.7L74.4 305.1L74.9 305.4L75.4 305.6L75.9 305.5L76.4 305.5L76.9 305.3L77.4 304.4L77.9 301.2L78.4 303.8L78.9 305.0L79.4 304.6L79.9 303.3L80.4 303.4L80.9 304.6L81.4 305.2L81.9 304.8L82.4 304.6L82.9 304.0L83.4 302.8L83.9 302.4L84.4 302.9L84.9 301.7L85.4 302.7L85.9 302.7L86.4 303.4L86.9 304.3L87.4 304.5L87.9 304.4L88.4 304.8L88.9 304.6L89.4 304.0L89.9 304.6L90.4 304.4L90.9 303.2L91.4 303.1L91.9 304.1L92.4 305.3L92.9 305.8L93.4 305.7L93.9 305.5L94.4 305.5L94.9 305.7L95.4 304.9L95.9 303.2L96.4 302.6L96.9 303.1L97.4 303.7L97.9 304.4L98.4 304.6L98.9 304.3L99.4 304.2L99.9 305.8L100.4 306.7L100.9 305.7L101.4 304.7L101.9 304.0L102.4 304.7L102.9 305.8L103.4 305.7L103.9 305.1L104.4 305.0L104.9 305.7L105.4 306.4L105.9 306.4L106.4 305.8L106.9 305.0L107.4 304.5L107.9 304.3L108.4 304.7L108.9 305.2L109.4 305.2L109.9 305.7L110.4 306.1L110.9 306.1L111.4 306.0L111.9 305.5L112.4 305.4L112.9 306.0L113.4 306.0L113.9 305.5L114.4 305.0L114.9 305.1L115.4 306.1L115.9 306.5L116.4 306.1L116.9 305.9L117.4 305.5L117.9 305.4L118.4 305.5L118.9 305.2L119.4 305.2L119.9 305.7L120.4 305.8L120.9 305.8L121.4 306.2L121.9 306.1L122.4 305.7L122.9 305.6L123.4 305.3L123.9 305.0L124.4 305.1L124.9 305.5L125.4 306.0L125.9 305.9L126.4 305.3L126.9 304.8L127.4 304.9L127.9 305.2L128.4 305.7L128.9 306.5L129.4 306.0L129.9 305.2L130.4 305.1L130.9 305.2L131.4 305.4L131.9 306.3L132.4 306.7L132.9 306.2L133.4 306.1L133.9 306.5L134.4 306.9L134.9 306.6L135.4 305.6L135.9 305.6L136.4 306.4L136.9 306.5L137.4 306.3L137.9 306.3L138.4 306.2L138.9 305.9L139.4 306.0L139.9 306.2L140.4 306.1L140.9 305.9L141.4 306.0L141.9 306.7L142.4 307.4L142.9 307.4L143.4 306.8L143.9 306.1L144.4 306.2L144.9 306.7L145.4 307.1L145.9 306.9L146.4 306.4L146.9 306.0L147.4 306.1L147.9 306.3L148.4 306.6L148.9 307.0L149.4 306.8L149.9 306.2L150.4 305.7L150.9 305.7L151.4 305.9L151.9 306.2L152.4 306.6L152.9 306.8L153.4 306.6L153.9 306.3L154.4 306.7L154.9 306.9L155.4 306.5L155.9 306.6L156.4 306.6L156.9 306.5L157.4 307.3L157.9 307.5L158.4 307.2L158.9 307.1L159.4 306.4L159.9 306.7L160.4 308.4L160.9 307.9L161.4 307.9L161.9 308.1L162.4 307.9L162.9 307.8L163.4 307.9L163.9 307.9L164.4 308.1L164.9 308.1L165.4 307.9L165.9 308.4L166.4 308.5L166.9 308.0L167.4 307.5L167.9 307.5L168.4 308.0L168.9 308.6L169.4 308.5L169.9 307.9L170.4 307.5L170.9 307.6L171.4 308.0L171.9 308.2L172.4 308.4L172.9 308.4L173.4 308.0L173.9 308.0L174.4 308.3L174.9 308.1L175.4 307.7L175.9 307.8L176.4 308.4L176.9 308.7L177.4 308.7L177.9 308.6L178.4 308.4L178.9 308.2L179.4 308.3L179.9 308.5L180.4 308.5L180.9 308.3L181.4 307.8L181.9 307.6L182.4 307.7L182.9 307.9L183.4 308.1L183.9 308.3L184.4 308.4L184.9 308.4L185.4 308.5L185.9 308.3L186.4 308.0L186.9 307.9L187.4 308.1L187.9 308.2L188.4 308.0L188.9 307.8L189.4 307.9L189.9 308.0L190.4 307.8L190.9 307.8L191.4 308.3L191.9 308.4L192.4 308.1L192.9 307.8L193.4 308.0L193.9 308.4L194.4 308.2L194.9 308.1L195.4 308.3L195.9 308.1L196.4 307.9L196.9 308.1L197.4 308.2L197.9 308.0L198.4 308.0L198.9 308.2L199.4 308.5L199.9 308.8L200.4 308.7L200.9 308.2L201.4 307.8L201.9 308.1L202.4 308.6L202.9 308.5L203.4 308.1L203.9 307.9L204.4 307.9L204.9 307.8L205.4 307.8L205.9 307.9L206.4 308.2L206.9 308.6L207.4 308.4L207.9 308.2L208.4 308.2L208.9 308.3L209.4 308.4L209.9 308.2L210.4 307.9L210.9 308.0L211.4 308.1L211.9 308.3L212.4 308.3L212.9 308.0L213.4 307.8L213.9 307.7L214.4 307.9L214.9 308.2L215.4 308.1L215.9 308.2L216.4 308.4L216.9 308.1L217.4 308.1L217.9 308.4L218.4 308.3L218.9 308.3L219.4 308.2L219.9 308.2L220.4 308.6L220.9 308.8L221.4 308.7L221.9 308.4L222.4 308.2L222.9 308.1L223.4 308.2L223.9 308.5L224.4 308.6L224.9 308.3L225.4 308.1L225.9 308.4L226.4 308.6L226.9 308.4L227.4 308.2L227.9 308.2L228.4 308.2L228.9 308.3L229.4 308.3L229.9 308.4L230.4 308.7L230.9 308.7L231.4 308.6L231.9 308.3L232.4 308.0L232.9 308.0L233.4 308.3L233.9 308.5L234.4 308.3L234.9 308.2L235.4 308.4L235.9 308.4L236.4 308.4L236.9 308.5L237.4 308.6L237.9 308.5L238.4 308.5L238.9 308.5L239.4 308.6L239.9 308.7L240.4 308.6L240.9 308.2L241.4 307.9L241.9 308.1L242.4 308.4L242.9 308.4L243.4 308.4L243.9 308.6L244.4 308.6L244.9 308.3L245.4 308.2L245.9 308.2L246.4 308.4L246.9 308.7L247.4 308.7L247.9 308.4L248.4 308.5L248.9 308.8L249.4 308.6L249.9 308.1L250.4 308.2L250.9 308.5L251.4 308.5L251.9 308.2L252.4 308.2L252.9 308.4L253.4 308.4L253.9 308.2L254.4 308.4L254.9 308.6L255.4 308.5L255.9 308.4L256.4 308.5L256.9 308.4L257.4 308.4L257.9 308.3L258.4 308.1L258.9 308.3L259.4 308.5L259.9 308.5L260.4 308.7L260.9 308.6L261.4 308.2L261.9 308.0L262.4 308.1L262.9 308.4L263.4 308.4L263.9 308.2L264.4 308.1L264.9 308.2L265.4 308.5L265.9 308.7L266.4 308.6L266.9 308.5L267.4 308.7L267.9 308.6L268.4 308.2L268.9 308.1L269.4 308.3L269.9 308.3L270.4 308.5L270.9 308.6L271.4 308.6L271.9 308.6L272.4 308.5L272.9 308.2L273.4 308.0L273.9 308.2L274.4 308.5L274.9 308.7L275.4 308.8L275.9 308.7L276.4 308.4L276.9 308.5L277.4 308.6L277.9 308.5L278.4 308.6L278.9 308.7L279.4 308.6L279.9 308.5L280.4 308.6L280.9 308.7L281.4 308.6L281.9 308.5L282.4 308.5L282.9 308.6L283.4 308.7L283.9 308.6L284.4 308.6L284.9 308.5L285.4 308.5L285.9 308.6L286.4 308.8L286.9 308.8L287.4 308.6L287.9 308.3L288.4 308.4L288.9 308.7L289.4 308.8L289.9 308.8L290.4 309.2L290.40,309.20Z" fill="#f4a11e" stroke="none" stroke-width="0"/>
<line x1="22.40" y1="230.70" x2="290.40" y2="230.70" stroke="#9a9a9a" stroke-width="0.7"/>
<line x1="22.40" y1="250.00" x2="290.40" y2="250.00" stroke="#bdbdbd" stroke-width="1.4"/>
<line x1="22.40" y1="271.00" x2="290.40" y2="271.00" stroke="#6a6a6a" stroke-width="0.6"/>
<line x1="22.40" y1="290.30" x2="290.40" y2="290.30" stroke="#6a6a6a" stroke-width="0.6"/>
<line x1="22.40" y1="309.20" x2="290.40" y2="309.20" stroke="#7a7a7a" stroke-width="0.8"/>
<line x1="247.50" y1="251.70" x2="253.00" y2="251.70" stroke="#e5202e" stroke-width="0.7"/>
<path d="M247.3,251.7 L249.3,250.6 L249.3,252.8Z" fill="#e5202e" stroke="none" stroke-width="0"/>
<line x1="254.20" y1="252.40" x2="259.40" y2="252.40" stroke="#e5202e" stroke-width="0.7"/>
<path d="M259.6,252.4 L257.6,251.3 L257.6,253.5Z" fill="#e5202e" stroke="none" stroke-width="0"/>
<text x="289.80" y="223.30" font-size="7.6" text-anchor="end" fill="#231f20" stroke="#231f20" stroke-width="0.16" letter-spacing="0.1" transform="matrix(1 0 0 1.12 0 -26.796)">[0–70]</text>
<text x="298.60" y="223.30" font-size="7.6" text-anchor="start" fill="#231f20" stroke="#231f20" stroke-width="0.16" letter-spacing="0.1" transform="matrix(1 0 0 1.12 0 -26.796)">Z22 RIP</text>
<text x="289.80" y="242.80" font-size="7.6" text-anchor="end" fill="#231f20" stroke="#231f20" stroke-width="0.16" letter-spacing="0.1" transform="matrix(1 0 0 1.12 0 -29.136)">[0–10]</text>
<text x="298.60" y="242.80" font-size="7.6" text-anchor="start" fill="#231f20" stroke="#231f20" stroke-width="0.16" letter-spacing="0.1" transform="matrix(1 0 0 1.12 0 -29.136)">Total RNA</text>
<text x="289.80" y="263.20" font-size="7.6" text-anchor="end" fill="#231f20" stroke="#231f20" stroke-width="0.16" letter-spacing="0.1" transform="matrix(1 0 0 1.12 0 -31.584)">[0–70]</text>
<text x="298.60" y="263.20" font-size="7.6" text-anchor="start" fill="#231f20" stroke="#231f20" stroke-width="0.16" letter-spacing="0.1" transform="matrix(1 0 0 1.12 0 -31.584)">Z22 RIP</text>
<text x="289.80" y="282.90" font-size="7.6" text-anchor="end" fill="#231f20" stroke="#231f20" stroke-width="0.16" letter-spacing="0.1" transform="matrix(1 0 0 1.12 0 -33.948)">[0–10]</text>
<text x="298.60" y="282.90" font-size="7.6" text-anchor="start" fill="#231f20" stroke="#231f20" stroke-width="0.16" letter-spacing="0.1" transform="matrix(1 0 0 1.12 0 -33.948)">Flag RIP</text>
<text x="289.80" y="301.90" font-size="7.6" text-anchor="end" fill="#231f20" stroke="#231f20" stroke-width="0.16" letter-spacing="0.1" transform="matrix(1 0 0 1.12 0 -36.228)">[0–10]</text>
<text x="298.60" y="301.90" font-size="7.6" text-anchor="start" fill="#231f20" stroke="#231f20" stroke-width="0.16" letter-spacing="0.1" transform="matrix(1 0 0 1.12 0 -36.228)">Total RNA</text>
<line x1="295.20" y1="211.40" x2="295.20" y2="309.30" stroke="#231f20" stroke-width="0.6"/>
<line x1="293.40" y1="211.40" x2="295.20" y2="211.40" stroke="#231f20" stroke-width="0.6"/>
<line x1="293.40" y1="230.40" x2="295.20" y2="230.40" stroke="#231f20" stroke-width="0.6"/>
<line x1="293.40" y1="250.00" x2="295.20" y2="250.00" stroke="#231f20" stroke-width="0.6"/>
<line x1="293.40" y1="270.20" x2="295.20" y2="270.20" stroke="#231f20" stroke-width="0.6"/>
<line x1="293.40" y1="290.20" x2="295.20" y2="290.20" stroke="#231f20" stroke-width="0.6"/>
<line x1="293.40" y1="309.30" x2="295.20" y2="309.30" stroke="#231f20" stroke-width="0.6"/>
<text x="17.00" y="230.40" font-size="7.6" text-anchor="middle" fill="#231f20" stroke="#231f20" stroke-width="0.16" letter-spacing="0.15" transform="rotate(-90 17.00 230.40) matrix(1 0 0 1.12 0 -27.648)">Mock</text>
<line x1="19.40" y1="214.40" x2="19.40" y2="247.00" stroke="#6a6a6a" stroke-width="0.6"/>
<text x="17.00" y="281.20" font-size="7.6" text-anchor="middle" fill="#231f20" stroke="#231f20" stroke-width="0.16" letter-spacing="0.15" transform="rotate(-90 17.00 281.20) matrix(1 0 0 1.12 0 -33.744)">HSV-1</text>
<line x1="19.40" y1="256.60" x2="19.40" y2="305.70" stroke="#6a6a6a" stroke-width="0.6"/>
<text x="141.20" y="322.40" font-size="7.6" text-anchor="start" fill="#231f20" stroke="#231f20" stroke-width="0.16" letter-spacing="0.1" transform="matrix(1 0 0 1.12 0 -38.688)">Z-RNA</text>
<text x="171.20" y="318.60" font-size="8" text-anchor="start" fill="#231f20" stroke="#231f20" stroke-width="0.16" letter-spacing="0" transform="matrix(1 0 0 1.12 0 -38.232)">5′</text>
<text x="171.20" y="327.90" font-size="8" text-anchor="start" fill="#231f20" stroke="#231f20" stroke-width="0.16" letter-spacing="0" transform="matrix(1 0 0 1.12 0 -39.348)">3′</text>
<line x1="177.50" y1="316.20" x2="184.30" y2="316.20" stroke="#231f20" stroke-width="0.6" stroke-dasharray="2,1.5"/>
<line x1="177.50" y1="324.60" x2="184.30" y2="324.60" stroke="#231f20" stroke-width="0.6" stroke-dasharray="2,1.5"/>
<line x1="187.00" y1="317.60" x2="187.00" y2="323.20" stroke="#e4384e" stroke-width="0.5"/>
<line x1="189.80" y1="317.60" x2="189.80" y2="323.20" stroke="#e4384e" stroke-width="0.5"/>
<line x1="192.60" y1="317.60" x2="192.60" y2="323.20" stroke="#e4384e" stroke-width="0.5"/>
<line x1="195.40" y1="317.60" x2="195.40" y2="323.20" stroke="#e4384e" stroke-width="0.5"/>
<line x1="198.20" y1="317.60" x2="198.20" y2="323.20" stroke="#e4384e" stroke-width="0.5"/>
<line x1="201.00" y1="317.60" x2="201.00" y2="323.20" stroke="#e4384e" stroke-width="0.5"/>
<line x1="203.80" y1="317.60" x2="203.80" y2="323.20" stroke="#e4384e" stroke-width="0.5"/>
<line x1="206.60" y1="317.60" x2="206.60" y2="323.20" stroke="#e4384e" stroke-width="0.5"/>
<line x1="209.40" y1="317.60" x2="209.40" y2="323.20" stroke="#e4384e" stroke-width="0.5"/>
<line x1="212.20" y1="317.60" x2="212.20" y2="323.20" stroke="#e4384e" stroke-width="0.5"/>
<line x1="246.00" y1="317.60" x2="246.00" y2="323.20" stroke="#e4384e" stroke-width="0.5"/>
<line x1="248.80" y1="317.60" x2="248.80" y2="323.20" stroke="#e4384e" stroke-width="0.5"/>
<line x1="251.60" y1="317.60" x2="251.60" y2="323.20" stroke="#e4384e" stroke-width="0.5"/>
<line x1="254.40" y1="317.60" x2="254.40" y2="323.20" stroke="#e4384e" stroke-width="0.5"/>
<line x1="257.20" y1="317.60" x2="257.20" y2="323.20" stroke="#e4384e" stroke-width="0.5"/>
<line x1="260.00" y1="317.60" x2="260.00" y2="323.20" stroke="#e4384e" stroke-width="0.5"/>
<line x1="262.80" y1="317.60" x2="262.80" y2="323.20" stroke="#e4384e" stroke-width="0.5"/>
<path d="M184.30,316.20 L186.90,315.00 L214.20,315.00 L216.80,316.20 L214.20,317.40 L186.90,317.40 Z" fill="#7fc24e" stroke="#231f20" stroke-width="0.4"/>
<path d="M184.30,324.60 L186.90,323.40 L214.20,323.40 L216.80,324.60 L214.20,325.80 L186.90,325.80 Z" fill="#7fc24e" stroke="#231f20" stroke-width="0.4"/>
<path d="M243.60,316.20 L246.20,315.00 L264.80,315.00 L267.40,316.20 L264.80,317.40 L246.20,317.40 Z" fill="#3549a6" stroke="#231f20" stroke-width="0.4"/>
<path d="M243.60,324.60 L246.20,323.40 L264.80,323.40 L267.40,324.60 L264.80,325.80 L246.20,325.80 Z" fill="#3549a6" stroke="#231f20" stroke-width="0.4"/>
<path d="M216.8,316.2 C222,314.6 238,314.6 243.6,316.2" fill="none" stroke="#231f20" stroke-width="0.6" stroke-dasharray="2.2,1.5"/>
<path d="M216.8,324.6 C222,326.6 238,326.6 243.6,324.6" fill="none" stroke="#231f20" stroke-width="0.6" stroke-dasharray="2.2,1.5"/>
<path d="M267.4,316.2 C276,313 281,316 279.5,320.4 C281,325 276,328 267.4,324.6" fill="none" stroke="#231f20" stroke-width="0.6" stroke-dasharray="2.2,1.5"/>
<text x="201.50" y="334.60" font-size="7.6" text-anchor="middle" fill="#231f20" stroke="#231f20" stroke-width="0.16" letter-spacing="0.1" transform="matrix(1 0 0 1.12 0 -40.152)">1.9 kb</text>
<text x="255.40" y="334.60" font-size="7.6" text-anchor="middle" fill="#231f20" stroke="#231f20" stroke-width="0.16" letter-spacing="0.1" transform="matrix(1 0 0 1.12 0 -40.152)">2.0 kb</text>
<text x="376.00" y="186.40" font-size="7.6" text-anchor="start" fill="#231f20" stroke="#231f20" stroke-width="0.16" letter-spacing="0.1" transform="matrix(1 0 0 1.12 0 -22.368)"><tspan font-style="italic">Gtpbp4</tspan> (elongated 3’ end)</text>
<text x="636.90" y="186.20" font-size="7.6" text-anchor="end" fill="#231f20" stroke="#231f20" stroke-width="0.16" letter-spacing="0.1" transform="matrix(1 0 0 1.12 0 -22.344)">45 kb</text>
<line x1="373.90" y1="189.50" x2="641.80" y2="189.50" stroke="#231f20" stroke-width="0.9"/>
<line x1="374.20" y1="188.10" x2="374.20" y2="191.70" stroke="#231f20" stroke-width="0.6"/>
<line x1="641.50" y1="188.10" x2="641.50" y2="191.70" stroke="#231f20" stroke-width="0.6"/>
<text x="650.00" y="198.80" font-size="7.6" text-anchor="start" fill="#d42a3c" stroke="#d42a3c" stroke-width="0.16" letter-spacing="0.1" transform="matrix(1 0 0 1.12 0 -23.856)">A to I</text>
<rect x="495.30" y="192.50" width="2.00" height="116.70" fill="#fae196" stroke="none" stroke-width="0"/>
<rect x="511.10" y="192.50" width="3.70" height="116.70" fill="#fae196" stroke="none" stroke-width="0"/>
<rect x="518.90" y="192.50" width="3.80" height="116.70" fill="#fae196" stroke="none" stroke-width="0"/>
<rect x="537.00" y="192.50" width="2.00" height="116.70" fill="#fae196" stroke="none" stroke-width="0"/>
<line x1="385.70" y1="193.40" x2="385.70" y2="198.70" stroke="#d63a4c" stroke-width="0.7" stroke-opacity="1"/>
<line x1="387.90" y1="193.40" x2="387.90" y2="198.70" stroke="#d63a4c" stroke-width="0.7" stroke-opacity="1"/>
<line x1="398.40" y1="193.40" x2="398.40" y2="198.70" stroke="#d63a4c" stroke-width="0.7" stroke-opacity="1"/>
<line x1="400.90" y1="193.40" x2="400.90" y2="198.70" stroke="#d63a4c" stroke-width="0.7" stroke-opacity="1"/>
<line x1="406.30" y1="193.40" x2="406.30" y2="198.70" stroke="#d63a4c" stroke-width="0.7" stroke-opacity="1"/>
<line x1="423.30" y1="193.40" x2="423.30" y2="198.70" stroke="#d63a4c" stroke-width="0.7" stroke-opacity="0.35"/>
<line x1="461.00" y1="193.40" x2="461.00" y2="198.70" stroke="#d63a4c" stroke-width="0.7" stroke-opacity="1"/>
<line x1="510.60" y1="193.40" x2="510.60" y2="198.70" stroke="#d63a4c" stroke-width="0.7" stroke-opacity="1"/>
<line x1="373.90" y1="201.50" x2="396.10" y2="201.50" stroke="#231f20" stroke-width="0.85"/>
<path d="M398.90,201.50 L394.90,199.80 L395.90,201.50 L394.90,203.20 Z" fill="#231f20" stroke="none" stroke-width="0"/>
<line x1="373.90" y1="206.90" x2="382.20" y2="206.90" stroke="#2b3a8e" stroke-width="0.9"/>
<line x1="376.00" y1="204.80" x2="376.00" y2="209.00" stroke="#2b3a8e" stroke-width="0.9"/>
<line x1="374.20" y1="204.80" x2="374.20" y2="209.00" stroke="#2b3a8e" stroke-width="0.8"/>
<rect x="382.20" y="205.00" width="42.90" height="3.90" fill="#2b3a8e" stroke="none" stroke-width="0"/>
<text x="373.90" y="219.70" font-size="7.6" text-anchor="start" fill="#231f20" stroke="#231f20" stroke-width="0.16" letter-spacing="0.1" font-style="italic" transform="matrix(1 0 0 1.12 0 -26.364)">Gtpbp4</text>
<text x="492.80" y="206.40" font-size="7.6" text-anchor="start" fill="#231f20" stroke="#231f20" stroke-width="0.16" letter-spacing="0.1" transform="matrix(1 0 0 1.12 0 -24.768)">Inverted LTRs</text>
<line x1="496.30" y1="209.70" x2="538.00" y2="209.70" stroke="#8a8a8a" stroke-width="0.45"/>
<circle cx="496.30" cy="209.70" r="0.90" fill="#6fb84a" stroke="none" stroke-width="0"/>
<circle cx="538.00" cy="209.70" r="0.90" fill="#6fb84a" stroke="none" stroke-width="0"/>
<rect x="511.20" y="212.10" width="3.50" height="2.90" fill="#3549a6" stroke="none" stroke-width="0"/>
<rect x="519.00" y="212.10" width="3.60" height="2.90" fill="#3549a6" stroke="none" stroke-width="0"/>
<text x="477.90" y="224.80" font-size="7.85" text-anchor="start" fill="#231f20" stroke="#231f20" stroke-width="0.16" letter-spacing="0.1" transform="matrix(1 0 0 1.12 0 -26.976)">Fold-back sequences</text>
<path d="M373.90,230.50L373.9 230.5L374.4 230.5L374.9 230.5L375.4 230.5L375.9 227.5L376.4 227.5L376.9 230.5L377.4 230.5L377.9 230.5L378.4 230.5L378.9 230.5L379.4 230.5L379.9 230.5L380.4 230.5L380.9 230.5L381.4 230.5L381.9 230.5L382.4 229.0L382.9 228.5L383.4 228.3L383.9 228.4L384.4 228.7L384.9 229.7L385.4 230.5L385.9 230.5L386.4 230.5L386.9 230.4L387.4 230.3L387.9 230.3L388.4 230.4L388.9 230.4L389.4 230.4L389.9 230.3L390.4 230.2L390.9 230.0L391.4 230.0L391.9 230.0L392.4 230.0L392.9 230.2L393.4 230.3L393.9 230.0L394.4 230.0L394.9 230.3L395.4 230.4L395.9 230.3L396.4 230.1L396.9 230.1L397.4 230.2L397.9 230.1L398.4 230.2L398.9 230.3L399.4 230.3L399.9 230.3L400.4 230.3L400.9 230.3L401.4 230.2L401.9 230.1L402.4 230.1L402.9 230.2L403.4 230.2L403.9 230.3L404.4 230.3L404.9 230.1L405.4 230.1L405.9 230.1L406.4 230.1L406.9 230.0L407.4 230.0L407.9 230.0L408.4 230.0L408.9 230.0L409.4 230.1L409.9 230.0L410.4 230.1L410.9 230.3L411.4 230.2L411.9 230.0L412.4 230.1L412.9 230.2L413.4 230.2L413.9 230.1L414.4 230.2L414.9 230.2L415.4 230.1L415.9 229.9L416.4 230.1L416.9 230.4L417.4 230.4L417.9 230.2L418.4 230.0L418.9 229.9L419.4 230.1L419.9 230.3L420.4 230.5L420.9 230.5L421.4 230.5L421.9 230.5L422.4 230.5L422.9 230.5L423.4 230.5L423.9 230.5L424.4 230.5L424.9 230.5L425.4 230.5L425.9 230.5L426.4 230.5L426.9 230.5L427.4 230.5L427.9 230.5L428.4 230.5L428.9 230.5L429.4 230.5L429.9 230.5L430.4 230.5L430.9 230.5L431.4 230.5L431.9 230.5L432.4 230.5L432.9 230.5L433.4 230.5L433.9 230.5L434.4 230.5L434.9 230.5L435.4 230.5L435.9 230.5L436.4 230.5L436.9 230.5L437.4 230.5L437.9 230.5L438.4 230.5L438.9 230.5L439.4 230.5L439.9 230.5L440.4 230.5L440.9 230.5L441.4 230.5L441.9 230.5L442.4 230.5L442.9 230.5L443.4 230.5L443.9 230.5L444.4 230.5L444.9 230.5L445.4 230.5L445.9 230.5L446.4 230.5L446.9 230.5L447.4 230.5L447.9 230.5L448.4 230.5L448.9 230.5L449.4 230.5L449.9 230.5L450.4 230.5L450.9 230.5L451.4 230.5L451.9 230.5L452.4 230.5L452.9 230.5L453.4 230.5L453.9 230.5L454.4 230.5L454.9 230.5L455.4 230.5L455.9 230.5L456.4 230.5L456.9 230.5L457.4 230.5L457.9 230.5L458.4 230.5L458.9 230.5L459.4 230.5L459.9 230.5L460.4 230.5L460.9 230.5L461.4 230.5L461.9 230.5L462.4 230.5L462.9 230.5L463.4 230.5L463.9 230.5L464.4 230.5L464.9 230.5L465.4 230.5L465.9 230.5L466.4 230.5L466.9 230.5L467.4 230.5L467.9 230.5L468.4 230.5L468.9 230.5L469.4 230.5L469.9 230.5L470.4 230.5L470.9 230.5L471.4 230.5L471.9 230.5L472.4 230.5L472.9 230.5L473.4 230.5L473.9 230.5L474.4 230.5L474.9 230.5L475.4 230.5L475.9 230.5L476.4 230.5L476.9 230.5L477.4 230.5L477.9 230.5L478.4 230.5L478.9 230.5L479.4 230.5L479.9 230.5L480.4 230.5L480.9 230.5L481.4 230.5L481.9 230.5L482.4 230.5L482.9 229.7L483.4 229.7L483.9 230.5L484.4 230.5L484.9 230.5L485.4 230.5L485.9 230.5L486.4 230.5L486.9 230.5L487.4 230.5L487.9 230.5L488.4 230.5L488.9 230.5L489.4 230.5L489.9 230.5L490.4 230.5L490.9 230.5L491.4 230.5L491.9 230.5L492.4 230.5L492.9 230.5L493.4 230.5L493.9 230.5L494.4 230.5L494.9 230.5L495.4 230.5L495.9 230.5L496.4 230.5L496.9 230.5L497.4 230.5L497.9 230.5L498.4 230.5L498.9 230.5L499.4 230.5L499.9 230.5L500.4 230.5L500.9 230.5L501.4 230.5L501.9 230.5L502.4 230.5L502.9 230.5L503.4 230.5L503.9 230.5L504.4 230.5L504.9 230.5L505.4 230.5L505.9 230.5L506.4 230.5L506.9 230.5L507.4 230.5L507.9 230.5L508.4 230.5L508.9 230.5L509.4 230.5L509.9 230.5L510.4 230.5L510.9 230.5L511.4 230.5L511.9 230.5L512.4 230.5L512.9 230.5L513.4 230.5L513.9 230.5L514.4 230.5L514.9 230.5L515.4 230.5L515.9 230.5L516.4 230.5L516.9 230.5L517.4 230.5L517.9 230.5L518.4 230.5L518.9 230.5L519.4 230.5L519.9 230.5L520.4 230.5L520.9 230.5L521.4 230.5L521.9 230.5L522.4 230.5L522.9 230.5L523.4 230.5L523.9 230.5L524.4 230.5L524.9 230.5L525.4 230.5L525.9 230.5L526.4 230.5L526.9 230.5L527.4 230.5L527.9 230.5L528.4 230.5L528.9 230.5L529.4 230.5L529.9 230.5L530.4 230.5L530.9 230.5L531.4 230.5L531.9 230.5L532.4 230.5L532.9 230.5L533.4 230.5L533.9 230.5L534.4 230.5L534.9 230.5L535.4 230.5L535.9 230.5L536.4 230.5L536.9 230.5L537.4 230.5L537.9 230.5L538.4 230.5L538.9 230.5L539.4 230.5L539.9 230.5L540.4 230.5L540.9 230.5L541.4 230.5L541.9 230.5L542.4 230.5L542.9 230.5L543.4 230.5L543.9 230.5L544.4 230.5L544.9 230.5L545.4 230.5L545.9 230.5L546.4 230.5L546.9 230.5L547.4 230.5L547.9 230.5L548.4 230.5L548.9 230.5L549.4 230.5L549.9 230.5L550.4 230.5L550.9 230.5L551.4 230.5L551.9 230.5L552.4 230.5L552.9 230.5L553.4 230.5L553.9 230.5L554.4 230.5L554.9 230.5L555.4 230.5L555.9 230.5L556.4 230.5L556.9 230.5L557.4 230.5L557.9 230.5L558.4 230.5L558.9 230.5L559.4 230.5L559.9 230.5L560.4 230.5L560.9 230.5L561.4 230.5L561.9 230.5L562.4 230.5L562.9 230.5L563.4 230.5L563.9 230.5L564.4 230.5L564.9 230.5L565.4 230.5L565.9 230.5L566.4 230.5L566.9 230.5L567.4 230.5L567.9 230.5L568.4 230.5L568.9 230.5L569.4 230.5L569.9 229.8L570.4 229.8L570.9 230.5L571.4 230.5L571.9 230.5L572.4 230.5L572.9 230.5L573.4 230.5L573.9 230.5L574.4 230.5L574.9 230.5L575.4 230.5L575.9 230.5L576.4 230.5L576.9 230.5L577.4 230.5L577.9 230.5L578.4 230.5L578.9 230.5L579.4 230.5L579.9 230.5L580.4 230.5L580.9 230.5L581.4 230.5L581.9 230.5L582.4 230.5L582.9 230.5L583.4 230.5L583.9 230.5L584.4 230.5L584.9 230.5L585.4 230.5L585.9 230.5L586.4 230.5L586.9 230.5L587.4 230.5L587.9 230.5L588.4 230.5L588.9 230.5L589.4 230.5L589.9 230.5L590.4 230.5L590.9 230.5L591.4 230.5L591.9 230.5L592.4 230.5L592.9 230.5L593.4 230.5L593.9 230.5L594.4 230.5L594.9 230.5L595.4 230.5L595.9 230.5L596.4 230.5L596.9 230.5L597.4 230.5L597.9 230.5L598.4 230.5L598.9 230.5L599.4 230.5L599.9 230.5L600.4 230.5L600.9 230.5L601.4 230.5L601.9 230.5L602.4 230.5L602.9 230.5L603.4 230.5L603.9 230.5L604.4 230.5L604.9 230.5L605.4 230.5L605.9 230.5L606.4 230.5L606.9 230.5L607.4 230.5L607.9 230.5L608.4 230.5L608.9 230.5L609.4 230.5L609.9 230.5L610.4 230.5L610.9 230.5L611.4 230.5L611.9 230.5L612.4 230.5L612.9 230.5L613.4 230.5L613.9 230.5L614.4 230.5L614.9 230.5L615.4 230.5L615.9 230.5L616.4 230.5L616.9 230.5L617.4 230.5L617.9 230.5L618.4 230.5L618.9 230.5L619.4 230.5L619.9 230.5L620.4 230.5L620.9 230.5L621.4 230.5L621.9 230.5L622.4 230.5L622.9 230.5L623.4 230.5L623.9 230.5L624.4 230.5L624.9 230.5L625.4 230.5L625.9 230.5L626.4 230.5L626.9 230.5L627.4 230.5L627.9 230.5L628.4 230.5L628.9 230.5L629.4 230.5L629.9 230.5L630.4 230.5L630.9 230.5L631.4 230.5L631.9 230.5L632.4 230.5L632.9 230.5L633.4 230.5L633.9 230.5L634.4 230.5L634.9 230.5L635.4 230.5L635.9 230.5L636.4 230.5L636.9 230.5L637.4 230.5L637.9 230.5L638.4 230.5L638.9 230.5L639.4 230.5L639.9 230.5L640.4 230.5L640.9 230.5L641.4 230.5L641.80,230.50Z" fill="#36883c" stroke="none" stroke-width="0"/>
<path d="M373.90,249.30L373.9 249.3L374.4 249.3L374.9 249.3L375.4 249.3L375.9 231.8L376.4 231.8L376.9 231.8L377.4 249.3L377.9 249.3L378.4 249.3L378.9 249.3L379.4 249.3L379.9 249.3L380.4 249.3L380.9 249.3L381.4 249.3L381.9 241.8L382.4 236.3L382.9 233.5L383.4 232.1L383.9 231.8L384.4 232.5L384.9 234.4L385.4 238.0L385.9 240.1L386.4 240.7L386.9 241.4L387.4 242.6L387.9 243.6L388.4 243.8L388.9 243.8L389.4 244.3L389.9 244.8L390.4 245.3L390.9 245.7L391.4 245.7L391.9 246.6L392.4 247.4L392.9 246.9L393.4 247.0L393.9 246.7L394.4 246.5L394.9 246.8L395.4 247.2L395.9 247.9L396.4 247.9L396.9 247.5L397.4 247.6L397.9 247.6L398.4 247.7L398.9 247.8L399.4 247.5L399.9 247.1L400.4 247.4L400.9 248.1L401.4 248.0L401.9 247.3L402.4 246.9L402.9 247.0L403.4 247.5L403.9 247.6L404.4 247.5L404.9 247.4L405.4 247.3L405.9 247.7L406.4 248.4L406.9 248.2L407.4 247.7L407.9 247.9L408.4 248.3L408.9 248.4L409.4 248.0L409.9 247.8L410.4 248.0L410.9 247.9L411.4 247.8L411.9 247.6L412.4 247.4L412.9 247.6L413.4 248.0L413.9 248.1L414.4 248.3L414.9 248.5L415.4 248.2L415.9 247.7L416.4 247.5L416.9 247.9L417.4 248.4L417.9 248.4L418.4 248.1L418.9 247.9L419.4 247.9L419.9 248.0L420.4 248.3L420.9 248.2L421.4 248.1L421.9 248.4L422.4 248.6L422.9 248.4L423.4 248.2L423.9 248.1L424.4 248.1L424.9 248.4L425.4 249.1L425.9 249.0L426.4 249.1L426.9 249.2L427.4 249.2L427.9 249.1L428.4 249.1L428.9 249.1L429.4 249.0L429.9 249.1L430.4 249.2L430.9 249.1L431.4 249.1L431.9 249.2L432.4 249.1L432.9 249.0L433.4 248.9L433.9 249.0L434.4 249.0L434.9 248.9L435.4 248.9L435.9 248.9L436.4 249.1L436.9 249.1L437.4 249.0L437.9 248.9L438.4 249.0L438.9 249.1L439.4 249.2L439.9 249.1L440.4 249.0L440.9 249.0L441.4 249.0L441.9 248.9L442.4 249.0L442.9 249.0L443.4 249.1L443.9 249.1L444.4 249.0L444.9 249.1L445.4 249.2L445.9 249.1L446.4 249.0L446.9 248.9L447.4 249.0L447.9 249.1L448.4 249.2L448.9 249.0L449.4 249.0L449.9 249.2L450.4 249.1L450.9 249.1L451.4 249.1L451.9 249.0L452.4 249.0L452.9 249.1L453.4 248.9L453.9 248.9L454.4 249.1L454.9 249.1L455.4 249.1L455.9 249.0L456.4 249.0L456.9 249.0L457.4 249.0L457.9 248.9L458.4 248.9L458.9 248.9L459.4 248.9L459.9 249.0L460.4 249.0L460.9 249.1L461.4 249.2L461.9 249.1L462.4 249.1L462.9 249.2L463.4 249.2L463.9 249.0L464.4 248.9L464.9 248.9L465.4 249.0L465.9 249.1L466.4 249.1L466.9 249.1L467.4 249.1L467.9 249.1L468.4 249.2L468.9 249.2L469.4 249.1L469.9 249.1L470.4 249.2L470.9 249.1L471.4 249.1L471.9 249.0L472.4 249.0L472.9 249.0L473.4 248.9L473.9 249.0L474.4 249.0L474.9 249.0L475.4 249.0L475.9 249.0L476.4 249.0L476.9 249.0L477.4 249.0L477.9 249.1L478.4 249.0L478.9 249.0L479.4 249.0L479.9 249.0L480.4 249.0L480.9 249.0L481.4 249.1L481.9 249.0L482.4 248.9L482.9 248.9L483.4 248.9L483.9 249.0L484.4 249.1L484.9 249.0L485.4 248.9L485.9 248.9L486.4 249.0L486.9 249.0L487.4 248.9L487.9 249.0L488.4 249.0L488.9 249.1L489.4 249.1L489.9 249.0L490.4 248.9L490.9 249.0L491.4 249.1L491.9 249.0L492.4 248.9L492.9 248.9L493.4 248.9L493.9 249.0L494.4 249.1L494.9 249.1L495.4 249.0L495.9 248.9L496.4 248.9L496.9 249.0L497.4 249.1L497.9 249.1L498.4 249.1L498.9 249.1L499.4 249.1L499.9 249.1L500.4 249.1L500.9 249.0L501.4 248.9L501.9 249.0L502.4 249.1L502.9 249.1L503.4 249.1L503.9 249.1L504.4 249.0L504.9 249.0L505.4 249.2L505.9 249.3L506.4 249.2L506.9 249.1L507.4 249.1L507.9 249.1L508.4 249.0L508.9 249.0L509.4 249.1L509.9 249.2L510.4 249.1L510.9 249.0L511.4 248.9L511.9 248.9L512.4 249.0L512.9 249.1L513.4 249.2L513.9 249.2L514.4 249.1L514.9 249.1L515.4 249.1L515.9 249.1L516.4 249.1L516.9 249.1L517.4 249.1L517.9 249.0L518.4 248.9L518.9 249.0L519.4 249.2L519.9 249.2L520.4 249.1L520.9 249.1L521.4 249.0L521.9 248.9L522.4 248.9L522.9 248.9L523.4 249.0L523.9 249.1L524.4 249.1L524.9 249.1L525.4 249.0L525.9 248.9L526.4 248.9L526.9 249.0L527.4 248.9L527.9 248.9L528.4 249.0L528.9 249.0L529.4 249.0L529.9 249.0L530.4 248.9L530.9 249.0L531.4 249.2L531.9 249.2L532.4 249.1L532.9 249.1L533.4 249.1L533.9 249.2L534.4 249.2L534.9 249.0L535.4 249.0L535.9 249.0L536.4 249.1L536.9 249.1L537.4 249.1L537.9 249.1L538.4 249.0L538.9 249.0L539.4 249.1L539.9 249.0L540.4 249.0L540.9 249.0L541.4 249.0L541.9 249.0L542.4 249.1L542.9 249.1L543.4 249.1L543.9 249.0L544.4 248.9L544.9 248.9L545.4 249.0L545.9 249.0L546.4 248.9L546.9 248.9L547.4 249.0L547.9 249.1L548.4 249.1L548.9 249.1L549.4 249.2L549.9 249.2L550.4 249.0L550.9 249.0L551.4 249.0L551.9 248.9L552.4 248.9L552.9 249.1L553.4 249.2L553.9 249.2L554.4 249.1L554.9 249.2L555.4 249.2L555.9 249.1L556.4 249.1L556.9 249.0L557.4 248.9L557.9 248.9L558.4 249.0L558.9 249.1L559.4 249.1L559.9 249.2L560.4 249.3L560.9 249.3L561.4 249.3L561.9 249.3L562.4 249.3L562.9 249.3L563.4 249.3L563.9 249.3L564.4 249.3L564.9 249.3L565.4 249.3L565.9 249.3L566.4 249.3L566.9 249.3L567.4 249.3L567.9 249.3L568.4 249.3L568.9 249.3L569.4 249.3L569.9 249.3L570.4 249.3L570.9 249.3L571.4 249.3L571.9 249.3L572.4 249.3L572.9 249.3L573.4 249.3L573.9 249.3L574.4 249.3L574.9 249.3L575.4 249.3L575.9 249.3L576.4 249.3L576.9 249.3L577.4 249.3L577.9 249.3L578.4 249.3L578.9 249.3L579.4 249.3L579.9 249.3L580.4 249.3L580.9 249.3L581.4 249.3L581.9 249.3L582.4 249.3L582.9 249.3L583.4 249.3L583.9 249.3L584.4 249.3L584.9 249.3L585.4 249.3L585.9 249.3L586.4 249.3L586.9 249.3L587.4 249.3L587.9 249.3L588.4 249.3L588.9 249.3L589.4 249.3L589.9 249.3L590.4 249.3L590.9 249.3L591.4 249.3L591.9 249.3L592.4 249.3L592.9 249.3L593.4 249.3L593.9 249.3L594.4 249.3L594.9 249.3L595.4 249.3L595.9 249.3L596.4 249.3L596.9 249.3L597.4 249.3L597.9 249.3L598.4 249.3L598.9 249.3L599.4 249.3L599.9 249.3L600.4 249.3L600.9 249.3L601.4 249.3L601.9 249.3L602.4 249.3L602.9 249.3L603.4 249.3L603.9 249.3L604.4 249.3L604.9 249.3L605.4 249.3L605.9 249.3L606.4 249.3L606.9 249.3L607.4 249.3L607.9 249.3L608.4 249.3L608.9 249.3L609.4 249.3L609.9 249.3L610.4 249.3L610.9 249.3L611.4 249.3L611.9 249.3L612.4 249.3L612.9 249.3L613.4 249.3L613.9 249.3L614.4 249.3L614.9 249.3L615.4 249.3L615.9 249.3L616.4 249.3L616.9 249.3L617.4 249.3L617.9 249.3L618.4 249.3L618.9 249.3L619.4 249.3L619.9 249.3L620.4 249.3L620.9 249.3L621.4 249.3L621.9 249.3L622.4 249.3L622.9 249.3L623.4 249.3L623.9 249.3L624.4 249.3L624.9 249.3L625.4 249.3L625.9 249.3L626.4 249.3L626.9 249.3L627.4 249.3L627.9 249.3L628.4 249.3L628.9 249.3L629.4 249.3L629.9 249.3L630.4 249.3L630.9 249.3L631.4 249.3L631.9 249.3L632.4 249.3L632.9 249.3L633.4 249.3L633.9 249.3L634.4 249.3L634.9 249.3L635.4 249.3L635.9 249.3L636.4 249.3L636.9 249.3L637.4 249.3L637.9 249.3L638.4 249.3L638.9 249.3L639.4 249.3L639.9 249.3L640.4 249.3L640.9 249.3L641.4 249.3L641.80,249.30Z" fill="#f4a11e" stroke="none" stroke-width="0"/>
<path d="M373.90,270.20L373.9 270.2L374.4 270.2L374.9 270.2L375.4 270.2L375.9 265.7L376.4 265.7L376.9 270.2L377.4 270.2L377.9 270.2L378.4 270.2L378.9 270.2L379.4 270.2L379.9 270.2L380.4 270.2L380.9 270.2L381.4 270.2L381.9 267.5L382.4 265.7L382.9 264.9L383.4 264.7L383.9 265.1L384.4 266.2L384.9 270.2L385.4 270.2L385.9 270.2L386.4 268.7L386.9 268.3L387.4 267.8L387.9 267.7L388.4 268.3L388.9 268.7L389.4 268.5L389.9 267.8L390.4 267.5L390.9 268.4L391.4 268.4L391.9 265.7L392.4 265.7L392.9 267.6L393.4 267.5L393.9 267.6L394.4 267.3L394.9 267.6L395.4 267.5L395.9 267.1L396.4 267.6L396.9 268.2L397.4 268.0L397.9 265.3L398.4 265.3L398.9 268.3L399.4 268.8L399.9 268.9L400.4 268.6L400.9 267.9L401.4 267.3L401.9 267.7L402.4 268.3L402.9 268.1L403.4 267.8L403.9 265.4L404.4 265.4L404.9 267.3L405.4 267.5L405.9 268.0L406.4 268.1L406.9 268.0L407.4 268.2L407.9 267.8L408.4 267.6L408.9 267.8L409.4 267.9L409.9 267.9L410.4 267.9L410.9 268.0L411.4 268.1L411.9 268.2L412.4 268.3L412.9 268.2L413.4 268.2L413.9 267.9L414.4 267.5L414.9 265.4L415.4 265.4L415.9 268.5L416.4 268.1L416.9 267.9L417.4 268.4L417.9 268.7L418.4 268.3L418.9 267.8L419.4 268.1L419.9 268.3L420.4 268.0L420.9 268.0L421.4 267.7L421.9 267.4L422.4 267.3L422.9 267.5L423.4 267.8L423.9 267.7L424.4 267.6L424.9 267.8L425.4 267.7L425.9 267.8L426.4 268.3L426.9 268.3L427.4 268.1L427.9 266.3L428.4 266.3L428.9 268.0L429.4 268.1L429.9 268.1L430.4 267.8L430.9 267.5L431.4 267.8L431.9 268.2L432.4 268.1L432.9 267.4L433.4 267.0L433.9 267.4L434.4 267.7L434.9 267.7L435.4 268.0L435.9 268.3L436.4 268.4L436.9 268.7L437.4 268.6L437.9 267.8L438.4 267.1L438.9 267.0L439.4 267.6L439.9 266.4L440.4 266.4L440.9 268.1L441.4 268.1L441.9 267.7L442.4 267.7L442.9 268.1L443.4 267.9L443.9 267.9L444.4 268.0L444.9 267.8L445.4 267.9L445.9 268.1L446.4 268.0L446.9 267.5L447.4 267.5L447.9 268.1L448.4 268.1L448.9 267.6L449.4 267.5L449.9 267.2L450.4 267.1L450.9 267.6L451.4 268.1L451.9 265.7L452.4 265.7L452.9 268.2L453.4 268.5L453.9 268.3L454.4 267.6L454.9 267.4L455.4 267.5L455.9 267.4L456.4 267.7L456.9 268.0L457.4 267.7L457.9 267.5L458.4 267.3L458.9 267.4L459.4 268.1L459.9 268.4L460.4 268.1L460.9 268.1L461.4 267.8L461.9 267.7L462.4 268.0L462.9 267.8L463.4 267.4L463.9 267.7L464.4 268.3L464.9 268.4L465.4 268.1L465.9 266.0L466.4 266.0L466.9 268.2L467.4 268.1L467.9 268.1L468.4 268.4L468.9 268.1L469.4 267.6L469.9 268.2L470.4 268.2L470.9 267.4L471.4 267.7L471.9 268.4L472.4 268.8L472.9 268.7L473.4 268.6L473.9 265.2L474.4 265.2L474.9 267.5L475.4 267.6L475.9 267.9L476.4 268.2L476.9 268.0L477.4 267.5L477.9 265.2L478.4 265.2L478.9 268.0L479.4 268.6L479.9 268.8L480.4 268.4L480.9 268.0L481.4 268.2L481.9 268.1L482.4 267.6L482.9 267.6L483.4 267.7L483.9 265.5L484.4 256.6L484.9 260.3L485.4 257.4L485.9 266.7L486.4 268.3L486.9 268.1L487.4 268.3L487.9 268.3L488.4 268.0L488.9 268.3L489.4 268.2L489.9 265.7L490.4 265.7L490.9 267.7L491.4 267.8L491.9 268.0L492.4 268.0L492.9 268.1L493.4 268.1L493.9 267.9L494.4 267.8L494.9 265.7L495.4 258.2L495.9 259.4L496.4 264.4L496.9 268.5L497.4 268.4L497.9 268.1L498.4 268.5L498.9 268.5L499.4 268.0L499.9 268.2L500.4 268.7L500.9 268.5L501.4 268.0L501.9 268.0L502.4 267.7L502.9 267.3L503.4 267.2L503.9 267.6L504.4 268.0L504.9 266.2L505.4 266.2L505.9 267.5L506.4 267.6L506.9 267.4L507.4 267.4L507.9 267.9L508.4 268.1L508.9 268.2L509.4 268.1L509.9 267.5L510.4 266.9L510.9 258.4L511.4 264.7L511.9 264.0L512.4 263.0L512.9 263.2L513.4 259.9L513.9 264.8L514.4 266.3L514.9 268.2L515.4 268.5L515.9 268.6L516.4 268.3L516.9 268.0L517.4 268.0L517.9 267.9L518.4 266.4L518.9 257.5L519.4 263.9L519.9 256.0L520.4 256.0L520.9 258.2L521.4 261.9L521.9 262.8L522.4 265.3L522.9 268.2L523.4 267.9L523.9 268.0L524.4 267.9L524.9 267.5L525.4 267.6L525.9 267.8L526.4 267.9L526.9 265.7L527.4 265.7L527.9 268.0L528.4 267.6L528.9 267.6L529.4 267.7L529.9 268.1L530.4 268.6L530.9 268.7L531.4 268.6L531.9 264.7L532.4 264.7L532.9 267.6L533.4 267.4L533.9 267.1L534.4 267.5L534.9 268.4L535.4 268.6L535.9 268.1L536.4 268.1L536.9 266.7L537.4 264.7L537.9 264.5L538.4 262.3L538.9 267.6L539.4 268.0L539.9 268.7L540.4 270.0L540.9 270.0L541.4 270.0L541.9 269.8L542.4 269.8L542.9 269.9L543.4 269.9L543.9 269.9L544.4 270.1L544.9 270.1L545.4 269.9L545.9 269.8L546.4 269.8L546.9 269.9L547.4 269.9L547.9 269.8L548.4 269.8L548.9 270.0L549.4 270.0L549.9 269.8L550.4 269.7L550.9 269.9L551.4 270.0L551.9 270.0L552.4 270.0L552.9 270.1L553.4 270.1L553.9 270.0L554.4 269.9L554.9 269.8L555.4 269.8L555.9 269.8L556.4 269.9L556.9 269.9L557.4 269.8L557.9 269.8L558.4 269.9L558.9 270.0L559.4 270.0L559.9 269.8L560.4 269.7L560.9 269.8L561.4 269.9L561.9 269.8L562.4 269.7L562.9 269.8L563.4 269.9L563.9 269.9L564.4 269.9L564.9 269.8L565.4 269.9L565.9 269.8L566.4 269.7L566.9 269.8L567.4 269.8L567.9 269.8L568.4 269.8L568.9 269.8L569.4 270.0L569.9 270.0L570.4 269.8L570.9 269.7L571.4 269.6L571.9 269.7L572.4 269.9L572.9 269.9L573.4 269.9L573.9 270.0L574.4 270.1L574.9 270.1L575.4 269.5L575.9 269.2L576.4 269.0L576.9 268.9L577.4 268.8L577.9 268.8L578.4 268.8L578.9 268.9L579.4 269.0L579.9 269.1L580.4 269.4L580.9 269.8L581.4 269.9L581.9 269.8L582.4 269.7L582.9 269.7L583.4 269.7L583.9 269.6L584.4 269.7L584.9 269.9L585.4 270.0L585.9 269.9L586.4 270.0L586.9 269.9L587.4 269.7L587.9 269.6L588.4 269.8L588.9 270.0L589.4 270.0L589.9 269.8L590.4 269.7L590.9 269.6L591.4 269.7L591.9 269.7L592.4 269.8L592.9 269.8L593.4 269.7L593.9 269.7L594.4 269.9L594.9 269.9L595.4 269.7L595.9 269.7L596.4 269.8L596.9 269.8L597.4 269.9L597.9 269.9L598.4 269.7L598.9 269.7L599.4 269.8L599.9 269.0L600.4 269.0L600.9 269.9L601.4 269.9L601.9 269.8L602.4 269.8L602.9 269.8L603.4 269.8L603.9 270.0L604.4 270.1L604.9 270.1L605.4 270.0L605.9 269.9L606.4 269.8L606.9 269.9L607.4 269.9L607.9 269.8L608.4 269.9L608.9 270.0L609.4 269.8L609.9 269.6L610.4 269.7L610.9 269.7L611.4 269.8L611.9 269.9L612.4 269.8L612.9 269.9L613.4 269.8L613.9 269.8L614.4 269.8L614.9 269.8L615.4 269.7L615.9 269.8L616.4 270.0L616.9 270.1L617.4 270.1L617.9 270.1L618.4 270.0L618.9 269.9L619.4 269.8L619.9 269.9L620.4 269.9L620.9 269.9L621.4 269.8L621.9 269.2L622.4 269.2L622.9 270.0L623.4 269.7L623.9 269.6L624.4 269.6L624.9 269.7L625.4 269.8L625.9 270.0L626.4 270.0L626.9 269.8L627.4 269.8L627.9 270.0L628.4 270.0L628.9 269.9L629.4 269.7L629.9 269.7L630.4 269.6L630.9 269.5L631.4 269.5L631.9 269.6L632.4 269.7L632.9 269.8L633.4 269.8L633.9 269.9L634.4 270.0L634.9 270.0L635.4 269.7L635.9 269.6L636.4 269.6L636.9 269.6L637.4 269.6L637.9 269.9L638.4 270.1L638.9 270.1L639.4 269.9L639.9 269.9L640.4 270.0L640.9 270.1L641.4 270.2L641.80,270.20Z" fill="#36883c" stroke="none" stroke-width="0"/>
<path d="M373.90,289.50L373.9 289.5L374.4 289.5L374.9 289.5L375.4 289.5L375.9 272.5L376.4 272.5L376.9 272.5L377.4 289.5L377.9 289.5L378.4 289.5L378.9 289.5L379.4 289.5L379.9 289.5L380.4 289.5L380.9 289.5L381.4 289.5L381.9 282.3L382.4 276.8L382.9 274.1L383.4 272.8L383.9 272.5L384.4 273.2L384.9 275.0L385.4 278.5L385.9 284.8L386.4 281.7L386.9 279.7L387.4 280.7L387.9 283.0L388.4 282.8L388.9 281.1L389.4 281.1L389.9 282.1L390.4 281.8L390.9 281.0L391.4 280.7L391.9 280.6L392.4 282.8L392.9 281.6L393.4 281.0L393.9 280.8L394.4 280.9L394.9 282.2L395.4 283.3L395.9 283.3L396.4 282.8L396.9 282.4L397.4 283.8L397.9 284.6L398.4 284.0L398.9 284.3L399.4 282.8L399.9 284.9L400.4 284.2L400.9 281.9L401.4 281.9L401.9 282.7L402.4 282.4L402.9 283.3L403.4 284.2L403.9 284.0L404.4 284.4L404.9 284.4L405.4 283.3L405.9 283.1L406.4 283.2L406.9 283.1L407.4 283.0L407.9 282.6L408.4 282.6L408.9 282.8L409.4 282.8L409.9 282.8L410.4 283.0L410.9 283.5L411.4 284.6L411.9 285.3L412.4 285.0L412.9 285.1L413.4 285.5L413.9 285.8L414.4 286.0L414.9 285.5L415.4 284.7L415.9 284.4L416.4 285.4L416.9 286.0L417.4 285.4L417.9 285.1L418.4 285.4L418.9 285.8L419.4 285.9L419.9 284.5L420.4 284.5L420.9 286.6L421.4 286.5L421.9 285.8L422.4 285.6L422.9 286.1L423.4 285.8L423.9 285.5L424.4 286.2L424.9 286.1L425.4 285.7L425.9 286.6L426.4 286.8L426.9 286.6L427.4 286.7L427.9 286.5L428.4 286.3L428.9 285.6L429.4 285.6L429.9 285.0L430.4 285.0L430.9 286.9L431.4 287.3L431.9 287.7L432.4 287.6L432.9 287.1L433.4 286.2L433.9 286.5L434.4 287.4L434.9 287.3L435.4 286.4L435.9 286.3L436.4 286.4L436.9 286.3L437.4 286.6L437.9 287.4L438.4 287.6L438.9 287.2L439.4 286.6L439.9 287.2L440.4 287.7L440.9 287.0L441.4 287.2L441.9 287.7L442.4 288.0L442.9 287.5L443.4 287.4L443.9 287.6L444.4 287.3L444.9 287.3L445.4 287.5L445.9 287.2L446.4 286.8L446.9 286.7L447.4 286.8L447.9 287.3L448.4 287.6L448.9 287.2L449.4 287.2L449.9 287.9L450.4 288.0L450.9 287.7L451.4 287.5L451.9 287.1L452.4 286.9L452.9 287.0L453.4 287.3L453.9 287.8L454.4 287.9L454.9 285.5L455.4 285.5L455.9 287.4L456.4 287.7L456.9 287.5L457.4 287.2L457.9 287.5L458.4 287.7L458.9 287.3L459.4 287.2L459.9 287.5L460.4 287.5L460.9 287.3L461.4 287.4L461.9 287.3L462.4 287.1L462.9 287.5L463.4 287.6L463.9 287.3L464.4 287.1L464.9 287.2L465.4 287.2L465.9 287.2L466.4 287.4L466.9 288.0L467.4 288.2L467.9 288.0L468.4 287.6L468.9 287.6L469.4 287.5L469.9 285.7L470.4 285.7L470.9 287.3L471.4 287.6L471.9 287.7L472.4 287.7L472.9 288.0L473.4 288.0L473.9 287.6L474.4 287.5L474.9 288.0L475.4 288.2L475.9 288.1L476.4 288.1L476.9 287.8L477.4 287.4L477.9 287.4L478.4 287.4L478.9 287.8L479.4 288.0L479.9 287.8L480.4 287.7L480.9 287.5L481.4 287.6L481.9 287.7L482.4 287.5L482.9 287.3L483.4 287.2L483.9 286.9L484.4 284.3L484.9 282.6L485.4 281.5L485.9 286.4L486.4 287.6L486.9 288.0L487.4 288.1L487.9 288.1L488.4 287.7L488.9 287.2L489.4 287.0L489.9 287.2L490.4 287.3L490.9 287.5L491.4 287.9L491.9 287.8L492.4 287.7L492.9 288.0L493.4 287.8L493.9 287.2L494.4 286.9L494.9 287.3L495.4 286.5L495.9 282.3L496.4 282.6L496.9 288.1L497.4 288.0L497.9 287.9L498.4 287.6L498.9 287.7L499.4 288.1L499.9 288.0L500.4 287.5L500.9 287.4L501.4 287.6L501.9 287.8L502.4 287.4L502.9 287.2L503.4 287.7L503.9 287.9L504.4 287.5L504.9 287.7L505.4 288.2L505.9 288.3L506.4 288.0L506.9 287.5L507.4 287.2L507.9 287.4L508.4 287.8L508.9 287.8L509.4 287.5L509.9 287.3L510.4 286.3L510.9 284.0L511.4 282.1L511.9 282.1L512.4 282.6L512.9 282.6L513.4 281.9L513.9 286.6L514.4 287.5L514.9 287.5L515.4 287.8L515.9 288.2L516.4 288.2L516.9 287.9L517.4 287.7L517.9 287.9L518.4 286.5L518.9 280.3L519.4 284.2L519.9 281.2L520.4 283.6L520.9 283.9L521.4 285.1L521.9 280.9L522.4 287.3L522.9 287.4L523.4 287.3L523.9 287.3L524.4 287.5L524.9 287.6L525.4 287.9L525.9 287.9L526.4 287.4L526.9 287.4L527.4 287.5L527.9 287.4L528.4 287.4L528.9 287.4L529.4 287.7L529.9 287.8L530.4 287.4L530.9 287.2L531.4 287.3L531.9 287.4L532.4 287.6L532.9 287.9L533.4 288.3L533.9 288.3L534.4 288.1L534.9 287.7L535.4 287.3L535.9 287.4L536.4 287.8L536.9 287.9L537.4 287.3L537.9 286.8L538.4 285.8L538.9 288.1L539.4 288.2L539.9 288.5L540.4 289.1L540.9 288.8L541.4 288.8L541.9 288.9L542.4 289.2L542.9 289.1L543.4 289.0L543.9 289.0L544.4 289.0L544.9 288.9L545.4 288.9L545.9 288.8L546.4 288.7L546.9 288.6L547.4 288.9L547.9 289.1L548.4 289.2L548.9 289.2L549.4 289.1L549.9 288.8L550.4 288.7L550.9 288.8L551.4 288.9L551.9 288.8L552.4 288.8L552.9 288.9L553.4 289.3L553.9 289.3L554.4 289.0L554.9 288.9L555.4 288.9L555.9 289.0L556.4 289.2L556.9 289.1L557.4 289.0L557.9 287.7L558.4 287.7L558.9 289.2L559.4 288.9L559.9 288.9L560.4 289.1L560.9 289.1L561.4 289.2L561.9 289.2L562.4 289.0L562.9 288.9L563.4 288.9L563.9 288.9L564.4 288.8L564.9 289.1L565.4 289.1L565.9 288.9L566.4 289.0L566.9 289.1L567.4 289.1L567.9 288.9L568.4 289.1L568.9 289.1L569.4 288.8L569.9 288.7L570.4 288.7L570.9 288.9L571.4 289.1L571.9 289.0L572.4 288.8L572.9 288.8L573.4 289.0L573.9 288.9L574.4 288.9L574.9 288.1L575.4 287.6L575.9 287.3L576.4 287.1L576.9 287.0L577.4 287.0L577.9 287.2L578.4 287.4L578.9 287.9L579.4 288.8L579.9 289.2L580.4 289.1L580.9 289.0L581.4 288.9L581.9 289.0L582.4 288.2L582.9 287.9L583.4 288.0L583.9 288.7L584.4 288.6L584.9 288.6L585.4 288.7L585.9 288.9L586.4 289.0L586.9 289.1L587.4 289.1L587.9 289.1L588.4 288.9L588.9 288.7L589.4 288.9L589.9 289.2L590.4 289.1L590.9 288.9L591.4 289.0L591.9 289.0L592.4 289.2L592.9 289.3L593.4 289.2L593.9 289.1L594.4 289.0L594.9 289.0L595.4 288.9L595.9 289.0L596.4 289.2L596.9 289.2L597.4 289.1L597.9 289.1L598.4 289.0L598.9 288.7L599.4 288.4L599.9 288.3L600.4 288.3L600.9 288.5L601.4 289.1L601.9 289.2L602.4 289.2L602.9 289.0L603.4 289.1L603.9 289.1L604.4 289.1L604.9 289.2L605.4 289.2L605.9 289.0L606.4 289.0L606.9 289.2L607.4 289.1L607.9 289.1L608.4 289.1L608.9 289.0L609.4 289.0L609.9 289.2L610.4 289.2L610.9 289.1L611.4 289.2L611.9 287.9L612.4 287.9L612.9 288.6L613.4 288.6L613.9 288.6L614.4 288.7L614.9 288.9L615.4 289.1L615.9 289.1L616.4 289.0L616.9 288.9L617.4 288.7L617.9 288.8L618.4 289.0L618.9 289.1L619.4 289.1L619.9 289.1L620.4 289.1L620.9 289.2L621.4 289.4L621.9 289.3L622.4 289.1L622.9 289.0L623.4 288.9L623.9 288.7L624.4 288.8L624.9 288.9L625.4 288.9L625.9 288.9L626.4 289.1L626.9 289.1L627.4 288.9L627.9 288.9L628.4 288.8L628.9 288.8L629.4 289.1L629.9 288.1L630.4 288.1L630.9 289.1L631.4 289.2L631.9 289.3L632.4 289.2L632.9 289.1L633.4 289.2L633.9 289.2L634.4 288.9L634.9 288.7L635.4 289.0L635.9 289.2L636.4 289.2L636.9 289.2L637.4 289.0L637.9 288.9L638.4 289.2L638.9 289.4L639.4 289.2L639.9 288.9L640.4 288.7L640.9 288.8L641.4 289.5L641.80,289.50Z" fill="#8e2a8f" stroke="none" stroke-width="0"/>
<path d="M373.90,308.90L373.9 308.9L374.4 308.9L374.9 308.9L375.4 308.9L375.9 290.9L376.4 290.9L376.9 290.9L377.4 308.9L377.9 308.9L378.4 308.9L378.9 308.9L379.4 308.9L379.9 308.9L380.4 308.9L380.9 308.9L381.4 308.9L381.9 301.2L382.4 295.5L382.9 292.6L383.4 291.2L383.9 290.9L384.4 291.7L384.9 293.6L385.4 297.2L385.9 301.6L386.4 300.6L386.9 300.4L387.4 301.4L387.9 302.1L388.4 300.5L388.9 299.7L389.4 300.2L389.9 300.0L390.4 300.4L390.9 301.0L391.4 303.2L391.9 301.8L392.4 301.9L392.9 304.5L393.4 303.9L393.9 303.4L394.4 302.1L394.9 301.1L395.4 300.9L395.9 302.2L396.4 303.6L396.9 302.5L397.4 300.7L397.9 300.6L398.4 300.5L398.9 301.3L399.4 302.4L399.9 303.8L400.4 302.9L400.9 302.6L401.4 302.0L401.9 302.0L402.4 302.5L402.9 301.5L403.4 301.8L403.9 303.5L404.4 302.9L404.9 302.5L405.4 303.6L405.9 303.3L406.4 302.5L406.9 303.3L407.4 305.1L407.9 304.0L408.4 303.9L408.9 304.8L409.4 305.1L409.9 303.7L410.4 302.7L410.9 302.7L411.4 302.8L411.9 303.0L412.4 303.8L412.9 304.5L413.4 303.6L413.9 303.2L414.4 303.7L414.9 303.8L415.4 305.0L415.9 305.4L416.4 305.0L416.9 305.6L417.4 305.0L417.9 303.6L418.4 303.4L418.9 304.0L419.4 304.9L419.9 304.4L420.4 303.9L420.9 304.3L421.4 305.3L421.9 305.5L422.4 304.9L422.9 304.1L423.4 304.3L423.9 305.1L424.4 305.8L424.9 306.0L425.4 305.8L425.9 305.7L426.4 305.3L426.9 305.4L427.4 305.9L427.9 305.8L428.4 304.8L428.9 304.4L429.4 304.8L429.9 305.4L430.4 306.3L430.9 306.3L431.4 305.5L431.9 305.4L432.4 305.4L432.9 305.6L433.4 304.7L433.9 304.7L434.4 305.5L434.9 306.5L435.4 306.8L435.9 306.0L436.4 305.1L436.9 305.3L437.4 306.1L437.9 306.3L438.4 306.4L438.9 306.0L439.4 305.7L439.9 306.0L440.4 306.1L440.9 306.9L441.4 307.4L441.9 306.6L442.4 305.8L442.9 305.5L443.4 305.5L443.9 305.8L444.4 306.3L444.9 305.7L445.4 305.7L445.9 306.3L446.4 306.3L446.9 306.9L447.4 307.0L447.9 306.6L448.4 306.6L448.9 306.6L449.4 306.6L449.9 306.3L450.4 306.0L450.9 306.1L451.4 306.2L451.9 306.1L452.4 306.0L452.9 306.1L453.4 306.2L453.9 306.5L454.4 307.1L454.9 307.2L455.4 306.8L455.9 306.7L456.4 306.6L456.9 306.6L457.4 306.9L457.9 306.1L458.4 306.1L458.9 306.7L459.4 306.5L459.9 306.9L460.4 306.8L460.9 306.9L461.4 307.3L461.9 307.1L462.4 306.9L462.9 307.0L463.4 307.0L463.9 306.9L464.4 307.0L464.9 307.2L465.4 307.1L465.9 307.4L466.4 307.8L466.9 307.6L467.4 307.7L467.9 307.8L468.4 307.6L468.9 307.1L469.4 307.1L469.9 307.7L470.4 308.5L470.9 308.1L471.4 308.0L471.9 308.3L472.4 308.3L472.9 307.9L473.4 307.8L473.9 308.3L474.4 308.3L474.9 308.0L475.4 307.9L475.9 307.8L476.4 307.9L476.9 307.9L477.4 307.8L477.9 307.9L478.4 308.0L478.9 308.1L479.4 308.2L479.9 308.1L480.4 308.2L480.9 308.4L481.4 308.2L481.9 308.2L482.4 308.3L482.9 308.3L483.4 308.4L483.9 308.3L484.4 308.4L484.9 308.5L485.4 308.4L485.9 308.1L486.4 307.9L486.9 307.9L487.4 308.2L487.9 308.3L488.4 308.4L488.9 308.3L489.4 308.1L489.9 308.2L490.4 308.2L490.9 308.1L491.4 308.2L491.9 308.3L492.4 308.3L492.9 308.3L493.4 308.3L493.9 308.1L494.4 308.1L494.9 308.2L495.4 308.0L495.9 307.8L496.4 307.7L496.9 307.8L497.4 308.1L497.9 308.4L498.4 308.4L498.9 308.4L499.4 308.3L499.9 308.1L500.4 308.1L500.9 308.3L501.4 308.4L501.9 308.5L502.4 308.4L502.9 308.1L503.4 308.2L503.9 308.5L504.4 308.4L504.9 308.1L505.4 308.1L505.9 308.3L506.4 308.3L506.9 308.1L507.4 308.2L507.9 308.4L508.4 308.5L508.9 308.3L509.4 307.9L509.9 307.9L510.4 308.2L510.9 308.4L511.4 308.5L511.9 308.4L512.4 308.4L512.9 308.2L513.4 308.3L513.9 308.4L514.4 308.4L514.9 308.4L515.4 308.4L515.9 308.5L516.4 308.6L516.9 308.4L517.4 308.0L517.9 307.9L518.4 308.1L518.9 308.3L519.4 308.3L519.9 308.3L520.4 308.4L520.9 308.2L521.4 308.1L521.9 308.0L522.4 308.0L522.9 308.2L523.4 308.3L523.9 308.1L524.4 308.0L524.9 308.0L525.4 308.0L525.9 308.2L526.4 308.2L526.9 308.3L527.4 308.4L527.9 308.2L528.4 308.2L528.9 308.3L529.4 308.3L529.9 308.4L530.4 308.4L530.9 308.3L531.4 308.4L531.9 308.4L532.4 308.2L532.9 308.1L533.4 308.2L533.9 308.3L534.4 308.3L534.9 308.4L535.4 308.3L535.9 308.1L536.4 308.0L536.9 308.2L537.4 308.5L537.9 308.5L538.4 308.3L538.9 308.4L539.4 308.5L539.9 308.4L540.4 308.8L540.9 308.7L541.4 308.7L541.9 308.6L542.4 308.5L542.9 308.7L543.4 308.6L543.9 308.6L544.4 308.7L544.9 308.8L545.4 308.7L545.9 308.5L546.4 308.5L546.9 308.4L547.4 308.4L547.9 308.5L548.4 308.6L548.9 308.6L549.4 308.6L549.9 308.6L550.4 308.4L550.9 308.4L551.4 308.5L551.9 308.7L552.4 308.6L552.9 308.4L553.4 308.5L553.9 308.7L554.4 308.8L554.9 308.7L555.4 308.6L555.9 308.5L556.4 308.4L556.9 308.5L557.4 308.5L557.9 308.5L558.4 308.6L558.9 308.6L559.4 308.7L559.9 308.7L560.4 308.6L560.9 308.5L561.4 308.7L561.9 308.8L562.4 308.7L562.9 308.7L563.4 308.8L563.9 308.8L564.4 308.8L564.9 308.7L565.4 308.6L565.9 308.5L566.4 308.4L566.9 308.5L567.4 308.6L567.9 308.7L568.4 308.6L568.9 308.5L569.4 308.5L569.9 308.5L570.4 308.6L570.9 308.6L571.4 308.5L571.9 308.5L572.4 308.5L572.9 308.4L573.4 308.4L573.9 308.4L574.4 308.4L574.9 308.5L575.4 308.6L575.9 308.6L576.4 308.5L576.9 308.5L577.4 308.7L577.9 308.7L578.4 308.6L578.9 308.6L579.4 308.7L579.9 308.7L580.4 308.5L580.9 308.5L581.4 308.6L581.9 308.6L582.4 308.6L582.9 308.6L583.4 308.7L583.9 308.8L584.4 308.8L584.9 308.8L585.4 308.8L585.9 308.7L586.4 308.7L586.9 308.6L587.4 308.4L587.9 308.5L588.4 308.7L588.9 308.7L589.4 308.6L589.9 308.6L590.4 308.5L590.9 308.4L591.4 308.6L591.9 308.6L592.4 308.6L592.9 308.6L593.4 308.7L593.9 308.8L594.4 308.7L594.9 308.6L595.4 308.7L595.9 308.6L596.4 308.5L596.9 308.6L597.4 308.6L597.9 308.6L598.4 308.7L598.9 308.6L599.4 308.5L599.9 308.5L600.4 308.5L600.9 308.5L601.4 308.5L601.9 308.5L602.4 308.6L602.9 308.6L603.4 308.7L603.9 308.7L604.4 308.8L604.9 308.7L605.4 308.6L605.9 308.6L606.4 308.7L606.9 308.7L607.4 308.6L607.9 308.6L608.4 308.7L608.9 308.8L609.4 308.8L609.9 308.8L610.4 308.7L610.9 308.6L611.4 308.7L611.9 308.8L612.4 308.7L612.9 308.7L613.4 308.8L613.9 308.8L614.4 308.7L614.9 308.7L615.4 308.8L615.9 308.7L616.4 308.6L616.9 308.6L617.4 308.7L617.9 308.8L618.4 308.8L618.9 308.7L619.4 308.5L619.9 308.5L620.4 308.4L620.9 308.5L621.4 308.7L621.9 308.8L622.4 308.7L622.9 308.7L623.4 308.7L623.9 308.5L624.4 308.5L624.9 308.5L625.4 308.5L625.9 308.6L626.4 308.7L626.9 308.6L627.4 308.6L627.9 308.7L628.4 308.7L628.9 308.5L629.4 308.4L629.9 308.5L630.4 308.5L630.9 308.5L631.4 308.5L631.9 308.4L632.4 308.5L632.9 308.6L633.4 308.7L633.9 308.6L634.4 308.6L634.9 308.7L635.4 308.6L635.9 308.5L636.4 308.7L636.9 308.8L637.4 308.7L637.9 308.7L638.4 308.7L638.9 308.7L639.4 308.7L639.9 308.7L640.4 308.7L640.9 308.8L641.4 308.9L641.80,308.90Z" fill="#f4a11e" stroke="none" stroke-width="0"/>
<line x1="373.90" y1="230.50" x2="641.80" y2="230.50" stroke="#555" stroke-width="0.6"/>
<line x1="373.90" y1="249.30" x2="641.80" y2="249.30" stroke="#777" stroke-width="0.8"/>
<line x1="373.90" y1="270.20" x2="641.80" y2="270.20" stroke="#444" stroke-width="0.6"/>
<line x1="373.90" y1="289.50" x2="641.80" y2="289.50" stroke="#777" stroke-width="0.8"/>
<line x1="373.90" y1="308.90" x2="641.80" y2="308.90" stroke="#999" stroke-width="1.0"/>
<line x1="375.60" y1="232.10" x2="376.80" y2="232.10" stroke="#231f20" stroke-width="0.6"/>
<line x1="382.10" y1="232.10" x2="385.40" y2="232.10" stroke="#231f20" stroke-width="0.6"/>
<line x1="375.60" y1="272.80" x2="376.80" y2="272.80" stroke="#231f20" stroke-width="0.6"/>
<line x1="382.10" y1="272.80" x2="385.40" y2="272.80" stroke="#231f20" stroke-width="0.6"/>
<line x1="375.60" y1="291.20" x2="376.80" y2="291.20" stroke="#231f20" stroke-width="0.6"/>
<line x1="382.10" y1="291.20" x2="385.40" y2="291.20" stroke="#231f20" stroke-width="0.6"/>
<line x1="531.60" y1="251.70" x2="537.00" y2="251.70" stroke="#e5202e" stroke-width="0.7"/>
<path d="M531.4,251.7 L533.4,250.6 L533.4,252.8Z" fill="#e5202e" stroke="none" stroke-width="0"/>
<line x1="538.60" y1="252.60" x2="544.20" y2="252.60" stroke="#e5202e" stroke-width="0.7"/>
<path d="M544.4,252.6 L542.4,251.5 L542.4,253.7Z" fill="#e5202e" stroke="none" stroke-width="0"/>
<text x="640.80" y="223.10" font-size="7.6" text-anchor="end" fill="#231f20" stroke="#231f20" stroke-width="0.16" letter-spacing="0.1" transform="matrix(1 0 0 1.12 0 -26.772)">[0–9]</text>
<text x="650.00" y="223.10" font-size="7.6" text-anchor="start" fill="#231f20" stroke="#231f20" stroke-width="0.16" letter-spacing="0.1" transform="matrix(1 0 0 1.12 0 -26.772)">Z22 RIP</text>
<text x="640.80" y="242.10" font-size="7.6" text-anchor="end" fill="#231f20" stroke="#231f20" stroke-width="0.16" letter-spacing="0.1" transform="matrix(1 0 0 1.12 0 -29.052)">[0–3]</text>
<text x="650.00" y="242.10" font-size="7.6" text-anchor="start" fill="#231f20" stroke="#231f20" stroke-width="0.16" letter-spacing="0.1" transform="matrix(1 0 0 1.12 0 -29.052)">Total RNA</text>
<text x="640.80" y="262.60" font-size="7.6" text-anchor="end" fill="#231f20" stroke="#231f20" stroke-width="0.16" letter-spacing="0.1" transform="matrix(1 0 0 1.12 0 -31.512)">[0–9]</text>
<text x="650.00" y="262.60" font-size="7.6" text-anchor="start" fill="#231f20" stroke="#231f20" stroke-width="0.16" letter-spacing="0.1" transform="matrix(1 0 0 1.12 0 -31.512)">Z22 RIP</text>
<text x="640.80" y="282.00" font-size="7.6" text-anchor="end" fill="#231f20" stroke="#231f20" stroke-width="0.16" letter-spacing="0.1" transform="matrix(1 0 0 1.12 0 -33.840)">[0–3]</text>
<text x="650.00" y="282.00" font-size="7.6" text-anchor="start" fill="#231f20" stroke="#231f20" stroke-width="0.16" letter-spacing="0.1" transform="matrix(1 0 0 1.12 0 -33.840)">Flag RIP</text>
<text x="640.80" y="301.50" font-size="7.6" text-anchor="end" fill="#231f20" stroke="#231f20" stroke-width="0.16" letter-spacing="0.1" transform="matrix(1 0 0 1.12 0 -36.180)">[0–3]</text>
<text x="650.00" y="301.50" font-size="7.6" text-anchor="start" fill="#231f20" stroke="#231f20" stroke-width="0.16" letter-spacing="0.1" transform="matrix(1 0 0 1.12 0 -36.180)">Total RNA</text>
<line x1="646.00" y1="211.40" x2="646.00" y2="309.00" stroke="#231f20" stroke-width="0.6"/>
<line x1="644.20" y1="211.40" x2="646.00" y2="211.40" stroke="#231f20" stroke-width="0.6"/>
<line x1="644.20" y1="230.40" x2="646.00" y2="230.40" stroke="#231f20" stroke-width="0.6"/>
<line x1="644.20" y1="249.40" x2="646.00" y2="249.40" stroke="#231f20" stroke-width="0.6"/>
<line x1="644.20" y1="270.20" x2="646.00" y2="270.20" stroke="#231f20" stroke-width="0.6"/>
<line x1="644.20" y1="289.50" x2="646.00" y2="289.50" stroke="#231f20" stroke-width="0.6"/>
<line x1="644.20" y1="309.00" x2="646.00" y2="309.00" stroke="#231f20" stroke-width="0.6"/>
<text x="368.60" y="230.00" font-size="7.6" text-anchor="middle" fill="#231f20" stroke="#231f20" stroke-width="0.16" letter-spacing="0.15" transform="rotate(-90 368.60 230.00) matrix(1 0 0 1.12 0 -27.600)">Mock</text>
<line x1="371.40" y1="215.30" x2="371.40" y2="247.00" stroke="#6a6a6a" stroke-width="0.6"/>
<text x="368.60" y="280.50" font-size="7.6" text-anchor="middle" fill="#231f20" stroke="#231f20" stroke-width="0.16" letter-spacing="0.15" transform="rotate(-90 368.60 280.50) matrix(1 0 0 1.12 0 -33.660)">HSV-1</text>
<line x1="371.00" y1="256.10" x2="371.00" y2="304.80" stroke="#6a6a6a" stroke-width="0.6"/>
<text x="433.90" y="328.00" font-size="7.6" text-anchor="start" fill="#231f20" stroke="#231f20" stroke-width="0.16" letter-spacing="0.1" transform="matrix(1 0 0 1.12 0 -39.360)">Z-RNA</text>
<text x="462.60" y="324.20" font-size="7.6" text-anchor="start" fill="#231f20" stroke="#231f20" stroke-width="0.16" letter-spacing="0" transform="matrix(1 0 0 1.12 0 -38.904)">5′</text>
<text x="462.60" y="332.60" font-size="7.6" text-anchor="start" fill="#231f20" stroke="#231f20" stroke-width="0.16" letter-spacing="0" transform="matrix(1 0 0 1.12 0 -39.912)">3′</text>
<line x1="468.80" y1="321.50" x2="479.40" y2="321.50" stroke="#231f20" stroke-width="0.6" stroke-dasharray="2,1.5"/>
<line x1="468.80" y1="330.40" x2="479.40" y2="330.40" stroke="#231f20" stroke-width="0.6" stroke-dasharray="2,1.5"/>
<line x1="482.00" y1="322.90" x2="482.00" y2="329.00" stroke="#e4384e" stroke-width="0.5"/>
<line x1="484.80" y1="322.90" x2="484.80" y2="329.00" stroke="#e4384e" stroke-width="0.5"/>
<line x1="487.60" y1="322.90" x2="487.60" y2="329.00" stroke="#e4384e" stroke-width="0.5"/>
<line x1="490.40" y1="322.90" x2="490.40" y2="329.00" stroke="#e4384e" stroke-width="0.5"/>
<line x1="493.20" y1="322.90" x2="493.20" y2="329.00" stroke="#e4384e" stroke-width="0.5"/>
<line x1="496.00" y1="322.90" x2="496.00" y2="329.00" stroke="#e4384e" stroke-width="0.5"/>
<line x1="498.80" y1="322.90" x2="498.80" y2="329.00" stroke="#e4384e" stroke-width="0.5"/>
<path d="M479.40,321.50 L482.00,320.30 L500.20,320.30 L502.80,321.50 L500.20,322.70 L482.00,322.70 Z" fill="#7fc24e" stroke="#231f20" stroke-width="0.4"/>
<path d="M479.40,330.40 L482.00,329.20 L500.20,329.20 L502.80,330.40 L500.20,331.60 L482.00,331.60 Z" fill="#7fc24e" stroke="#231f20" stroke-width="0.4"/>
<rect x="507.00" y="312.70" width="21.70" height="9.60" fill="#bfc3e8" stroke="none" stroke-width="0"/>
<rect x="507.00" y="328.90" width="21.70" height="10.40" fill="#bfc3e8" stroke="none" stroke-width="0"/>
<path d="M510.60,314.6 L513.40,314.6 L513.40,321.5 L510.60,321.5 Z" fill="#ec8197" stroke="none" stroke-width="0"/>
<path d="M510.60,330.4 L513.40,330.4 L513.40,337.4 L510.60,337.4 Z" fill="#ec8197" stroke="none" stroke-width="0"/>
<path d="M517.30,314.6 L520.10,314.6 L520.10,321.5 L517.30,321.5 Z" fill="#ec8197" stroke="none" stroke-width="0"/>
<path d="M517.30,330.4 L520.10,330.4 L520.10,337.4 L517.30,337.4 Z" fill="#ec8197" stroke="none" stroke-width="0"/>
<path d="M524.00,314.6 L526.80,314.6 L526.80,321.5 L524.00,321.5 Z" fill="#ec8197" stroke="none" stroke-width="0"/>
<path d="M524.00,330.4 L526.80,330.4 L526.80,337.4 L524.00,337.4 Z" fill="#ec8197" stroke="none" stroke-width="0"/>
<path d="M502.8,321.5 L510.60,321.5 L510.60,314.4 L513.40,314.4 L513.40,321.5 L517.30,321.5 L517.30,314.4 L520.10,314.4 L520.10,321.5 L524.00,321.5 L524.00,314.4 L526.80,314.4 L526.80,321.5 L529.0,321.5" fill="none" stroke="#231f20" stroke-width="0.6"/>
<path d="M502.8,330.4 L510.60,330.4 L510.60,337.6 L513.40,337.6 L513.40,330.4 L517.30,330.4 L517.30,337.6 L520.10,337.6 L520.10,330.4 L524.00,330.4 L524.00,337.6 L526.80,337.6 L526.80,330.4 L529.0,330.4" fill="none" stroke="#231f20" stroke-width="0.6"/>
<path d="M531.5,322.3 C534.5,323.3 535,325 534,326.3" fill="none" stroke="#231f20" stroke-width="0.6"/>
<path d="M534,328.3 C534.5,329.6 533.5,330.8 531.5,331.3" fill="none" stroke="#231f20" stroke-width="0.6"/>
<text x="530.80" y="320.30" font-size="7.6" text-anchor="start" fill="#231f20" stroke="#231f20" stroke-width="0.16" letter-spacing="0.1" transform="matrix(1 0 0 1.12 0 -38.436)">600 bp</text>
<text x="530.80" y="339.70" font-size="7.6" text-anchor="start" fill="#231f20" stroke="#231f20" stroke-width="0.16" letter-spacing="0.1" transform="matrix(1 0 0 1.12 0 -40.764)">700 bp</text>
<text x="480.00" y="339.50" font-size="7.6" text-anchor="start" fill="#231f20" stroke="#231f20" stroke-width="0.16" letter-spacing="0.1" transform="matrix(1 0 0 1.12 0 -40.740)">250 bp</text>
<text x="23.70" y="358.10" font-size="7.6" text-anchor="start" fill="#231f20" stroke="#231f20" stroke-width="0.16" letter-spacing="0.1" transform="matrix(1 0 0 1.12 0 -42.972)">H2ac18/19 (de novo intergenic RNA)</text>
<text x="284.90" y="358.10" font-size="7.6" text-anchor="end" fill="#231f20" stroke="#231f20" stroke-width="0.16" letter-spacing="0.1" transform="matrix(1 0 0 1.12 0 -42.972)">7 kb</text>
<line x1="21.40" y1="360.50" x2="289.00" y2="360.50" stroke="#555555" stroke-width="0.9"/>
<line x1="21.70" y1="359.20" x2="21.70" y2="362.80" stroke="#231f20" stroke-width="0.6"/>
<line x1="288.70" y1="359.20" x2="288.70" y2="362.80" stroke="#231f20" stroke-width="0.6"/>
<rect x="66.20" y="425.20" width="181.50" height="34.50" fill="#fae196" stroke="none" stroke-width="0"/>
<text x="32.90" y="369.90" font-size="7.6" text-anchor="start" fill="#231f20" stroke="#231f20" stroke-width="0.16" letter-spacing="0.1" font-style="italic" transform="matrix(1 0 0 1.12 0 -44.388)">H2ac19</text>
<line x1="57.80" y1="372.50" x2="38.70" y2="372.50" stroke="#231f20" stroke-width="0.85"/>
<path d="M35.90,372.50 L39.90,370.80 L38.90,372.50 L39.90,374.20 Z" fill="#231f20" stroke="none" stroke-width="0"/>
<rect x="36.00" y="377.00" width="21.90" height="4.00" fill="#2b3a8e" stroke="none" stroke-width="0"/>
<rect x="40.00" y="375.00" width="15.30" height="7.60" fill="#2b3a8e" stroke="none" stroke-width="0"/>
<path d="M43.55,376.37 L41.55,378.80 L43.55,381.23" fill="none" stroke="#ffffff" stroke-width="0.6"/>
<path d="M48.65,376.37 L46.65,378.80 L48.65,381.23" fill="none" stroke="#ffffff" stroke-width="0.6"/>
<path d="M53.75,376.37 L51.75,378.80 L53.75,381.23" fill="none" stroke="#ffffff" stroke-width="0.6"/>
<text x="255.90" y="369.90" font-size="7.6" text-anchor="start" fill="#231f20" stroke="#231f20" stroke-width="0.16" letter-spacing="0.1" font-style="italic" transform="matrix(1 0 0 1.12 0 -44.388)">H2ac18</text>
<line x1="257.70" y1="372.50" x2="279.90" y2="372.50" stroke="#231f20" stroke-width="0.85"/>
<path d="M282.70,372.50 L278.70,370.80 L279.70,372.50 L278.70,374.20 Z" fill="#231f20" stroke="none" stroke-width="0"/>
<rect x="257.70" y="377.00" width="21.90" height="4.00" fill="#2b3a8e" stroke="none" stroke-width="0"/>
<rect x="259.80" y="375.00" width="15.40" height="7.60" fill="#2b3a8e" stroke="none" stroke-width="0"/>
<path d="M261.37,376.37 L263.37,378.80 L261.37,381.23" fill="none" stroke="#ffffff" stroke-width="0.6"/>
<path d="M266.50,376.37 L268.50,378.80 L266.50,381.23" fill="none" stroke="#ffffff" stroke-width="0.6"/>
<path d="M271.63,376.37 L273.63,378.80 L271.63,381.23" fill="none" stroke="#ffffff" stroke-width="0.6"/>
<line x1="66.60" y1="374.50" x2="85.70" y2="374.50" stroke="#231f20" stroke-width="0.85"/>
<path d="M88.50,374.50 L84.50,372.80 L85.50,374.50 L84.50,376.20 Z" fill="#231f20" stroke="none" stroke-width="0"/>
<path d="M66.6,378.5 L76,377.6 L248.2,377.6 L250.8,378.5 L248.2,379.4 L76,379.4 Z" fill="#2b3a8e" stroke="none" stroke-width="0"/>
<line x1="251.50" y1="383.50" x2="231.60" y2="383.50" stroke="#231f20" stroke-width="0.85"/>
<path d="M228.80,383.50 L232.80,381.80 L231.80,383.50 L232.80,385.20 Z" fill="#231f20" stroke="none" stroke-width="0"/>
<path d="M66.2,392.2 L66.2,383.9 L74.5,383.9 M74.3,383.9 L74.3,386.0" fill="none" stroke="#231f20" stroke-width="0.6"/>
<path d="M247.7,392.2 L247.7,400.4 L239.3,400.4 M239.5,400.4 L239.5,398.3" fill="none" stroke="#231f20" stroke-width="0.6"/>
<path d="M21.40,392.20L21.4 392.2L21.9 392.2L22.4 392.2L22.9 392.2L23.4 392.2L23.9 392.2L24.4 392.2L24.9 392.2L25.4 392.2L25.9 392.2L26.4 392.2L26.9 392.2L27.4 392.2L27.9 392.2L28.4 392.2L28.9 392.2L29.4 392.2L29.9 392.2L30.4 392.2L30.9 392.2L31.4 392.2L31.9 392.2L32.4 392.2L32.9 392.2L33.4 392.2L33.9 392.2L34.4 392.2L34.9 392.2L35.4 392.2L35.9 392.6L36.4 393.2L36.9 393.8L37.4 394.3L37.9 394.9L38.4 395.2L38.9 395.5L39.4 395.8L39.9 396.1L40.4 396.4L40.9 396.7L41.4 396.9L41.9 397.0L42.4 397.2L42.9 397.3L43.4 397.4L43.9 397.6L44.4 397.6L44.9 397.6L45.4 397.6L45.9 397.6L46.4 397.6L46.9 397.6L47.4 397.6L47.9 397.6L48.4 397.6L48.9 397.6L49.4 397.6L49.9 397.6L50.4 397.5L50.9 397.4L51.4 397.2L51.9 397.1L52.4 397.0L52.9 396.8L53.4 396.5L53.9 396.2L54.4 395.9L54.9 395.5L55.4 395.2L55.9 394.9L56.4 393.9L56.9 392.9L57.4 392.2L57.9 392.2L58.4 392.2L58.9 392.2L59.4 392.2L59.9 392.2L60.4 392.3L60.9 392.5L61.4 392.5L61.9 392.5L62.4 392.4L62.9 392.4L63.4 392.4L63.9 392.6L64.4 392.6L64.9 392.6L65.4 392.5L65.9 392.6L66.4 392.6L66.9 392.5L67.4 392.5L67.9 392.6L68.4 392.6L68.9 392.5L69.4 392.4L69.9 392.5L70.4 392.6L70.9 392.6L71.4 392.5L71.9 392.5L72.4 392.4L72.9 392.4L73.4 392.5L73.9 392.5L74.4 392.5L74.9 392.6L75.4 392.6L75.9 392.5L76.4 392.5L76.9 392.5L77.4 392.5L77.9 392.4L78.4 392.5L78.9 392.5L79.4 392.5L79.9 392.6L80.4 392.7L80.9 392.7L81.4 392.6L81.9 392.6L82.4 392.5L82.9 392.4L83.4 392.4L83.9 392.5L84.4 392.5L84.9 392.4L85.4 392.3L85.9 392.4L86.4 392.4L86.9 392.5L87.4 392.5L87.9 392.5L88.4 392.6L88.9 392.5L89.4 392.4L89.9 392.3L90.4 392.3L90.9 392.3L91.4 392.4L91.9 392.5L92.4 392.5L92.9 392.5L93.4 392.5L93.9 392.6L94.4 392.5L94.9 392.5L95.4 392.6L95.9 392.6L96.4 392.5L96.9 392.4L97.4 392.5L97.9 392.5L98.4 392.4L98.9 392.5L99.4 392.4L99.9 392.4L100.4 392.4L100.9 392.5L101.4 392.6L101.9 392.5L102.4 392.4L102.9 392.5L103.4 392.5L103.9 392.5L104.4 392.6L104.9 392.5L105.4 392.4L105.9 392.5L106.4 392.6L106.9 392.6L107.4 392.6L107.9 392.4L108.4 392.3L108.9 392.2L109.4 392.3L109.9 392.4L110.4 392.3L110.9 392.3L111.4 392.4L111.9 392.4L112.4 392.5L112.9 392.4L113.4 392.4L113.9 392.5L114.4 392.5L114.9 392.6L115.4 392.6L115.9 392.6L116.4 392.7L116.9 392.6L117.4 392.5L117.9 392.3L118.4 392.3L118.9 392.5L119.4 392.6L119.9 392.6L120.4 392.5L120.9 392.4L121.4 392.5L121.9 392.6L122.4 392.6L122.9 392.4L123.4 392.3L123.9 392.4L124.4 392.4L124.9 392.4L125.4 392.4L125.9 392.5L126.4 392.5L126.9 392.4L127.4 392.4L127.9 392.5L128.4 392.4L128.9 392.4L129.4 392.4L129.9 392.4L130.4 392.3L130.9 392.4L131.4 392.3L131.9 392.4L132.4 392.5L132.9 392.4L133.4 392.4L133.9 392.5L134.4 392.5L134.9 392.6L135.4 392.5L135.9 392.5L136.4 392.5L136.9 392.4L137.4 392.5L137.9 392.5L138.4 392.5L138.9 392.6L139.4 392.5L139.9 392.4L140.4 392.4L140.9 392.5L141.4 392.4L141.9 392.4L142.4 392.5L142.9 392.5L143.4 392.5L143.9 392.5L144.4 392.6L144.9 392.6L145.4 392.5L145.9 392.4L146.4 392.3L146.9 392.4L147.4 392.5L147.9 392.5L148.4 392.4L148.9 392.4L149.4 392.3L149.9 392.3L150.4 392.3L150.9 392.5L151.4 392.5L151.9 392.6L152.4 392.6L152.9 392.6L153.4 392.5L153.9 392.3L154.4 392.3L154.9 392.4L155.4 392.5L155.9 392.6L156.4 392.5L156.9 392.4L157.4 392.4L157.9 392.5L158.4 392.4L158.9 392.4L159.4 392.5L159.9 392.4L160.4 392.4L160.9 392.4L161.4 392.4L161.9 392.5L162.4 392.5L162.9 392.5L163.4 392.6L163.9 392.6L164.4 392.5L164.9 392.4L165.4 392.3L165.9 392.4L166.4 392.5L166.9 392.5L167.4 392.4L167.9 392.4L168.4 392.4L168.9 392.5L169.4 392.5L169.9 392.4L170.4 392.4L170.9 392.3L171.4 392.3L171.9 392.3L172.4 392.4L172.9 392.5L173.4 392.6L173.9 392.6L174.4 392.6L174.9 392.6L175.4 392.6L175.9 392.5L176.4 392.4L176.9 392.4L177.4 392.4L177.9 392.4L178.4 392.5L178.9 392.6L179.4 392.5L179.9 392.5L180.4 392.6L180.9 392.5L181.4 392.4L181.9 392.5L182.4 392.6L182.9 392.5L183.4 392.4L183.9 392.4L184.4 392.4L184.9 392.5L185.4 392.6L185.9 392.6L186.4 392.4L186.9 392.4L187.4 392.4L187.9 392.4L188.4 392.5L188.9 392.6L189.4 392.6L189.9 392.4L190.4 392.3L190.9 392.3L191.4 392.4L191.9 392.4L192.4 392.3L192.9 392.3L193.4 392.4L193.9 392.5L194.4 392.5L194.9 392.4L195.4 392.4L195.9 392.4L196.4 392.4L196.9 392.4L197.4 392.4L197.9 392.5L198.4 392.5L198.9 392.3L199.4 392.3L199.9 392.3L200.4 392.4L200.9 392.5L201.4 392.5L201.9 392.5L202.4 392.5L202.9 392.4L203.4 392.5L203.9 392.4L204.4 392.3L204.9 392.3L205.4 392.5L205.9 392.4L206.4 392.4L206.9 392.4L207.4 392.4L207.9 392.4L208.4 392.4L208.9 392.4L209.4 392.5L209.9 392.5L210.4 392.4L210.9 392.3L211.4 392.4L211.9 392.5L212.4 392.3L212.9 392.4L213.4 392.6L213.9 392.6L214.4 392.6L214.9 392.7L215.4 392.6L215.9 392.5L216.4 392.5L216.9 392.5L217.4 392.4L217.9 392.3L218.4 392.3L218.9 392.4L219.4 392.3L219.9 392.3L220.4 392.2L220.9 392.3L221.4 392.3L221.9 392.3L222.4 392.5L222.9 392.5L223.4 392.5L223.9 392.5L224.4 392.4L224.9 392.4L225.4 392.4L225.9 392.4L226.4 392.4L226.9 392.4L227.4 392.5L227.9 392.4L228.4 392.4L228.9 392.5L229.4 392.5L229.9 392.5L230.4 392.5L230.9 392.5L231.4 392.4L231.9 392.3L232.4 392.2L232.9 392.3L233.4 392.4L233.9 392.5L234.4 392.5L234.9 392.4L235.4 392.4L235.9 392.3L236.4 392.4L236.9 392.5L237.4 392.5L237.9 392.4L238.4 392.3L238.9 392.3L239.4 392.4L239.9 392.4L240.4 392.2L240.9 392.2L241.4 392.2L241.9 392.2L242.4 392.2L242.9 392.2L243.4 392.2L243.9 392.2L244.4 392.2L244.9 392.2L245.4 392.2L245.9 392.2L246.4 392.2L246.9 392.2L247.4 392.2L247.9 392.2L248.4 392.2L248.9 392.2L249.4 392.2L249.9 392.2L250.4 392.2L250.9 392.2L251.4 392.2L251.9 392.2L252.4 392.2L252.9 392.2L253.4 392.2L253.9 392.2L254.4 392.2L254.9 392.2L255.4 392.2L255.9 392.2L256.4 392.2L256.9 392.2L257.4 392.2L257.9 392.2L258.4 392.2L258.9 392.2L259.4 392.2L259.9 392.2L260.4 392.2L260.9 392.2L261.4 392.2L261.9 392.2L262.4 392.2L262.9 392.2L263.4 392.2L263.9 392.2L264.4 392.2L264.9 392.2L265.4 392.2L265.9 392.2L266.4 392.2L266.9 392.2L267.4 392.2L267.9 392.2L268.4 392.2L268.9 392.2L269.4 392.2L269.9 392.2L270.4 392.2L270.9 392.2L271.4 392.2L271.9 392.2L272.4 392.2L272.9 392.2L273.4 392.2L273.9 392.2L274.4 392.2L274.9 392.2L275.4 392.2L275.9 392.2L276.4 392.2L276.9 392.2L277.4 392.2L277.9 392.2L278.4 392.2L278.9 392.2L279.4 392.2L279.9 392.2L280.4 392.2L280.9 392.2L281.4 392.2L281.9 392.2L282.4 392.2L282.9 392.2L283.4 392.2L283.9 392.2L284.4 392.2L284.9 392.2L285.4 392.2L285.9 392.2L286.4 392.2L286.9 392.2L287.4 392.2L287.9 392.2L288.4 392.2L288.9 392.2L289.00,392.20Z" fill="#36883c" stroke="none" stroke-width="0"/>
<path d="M21.40,392.20L21.4 392.2L21.9 392.2L22.4 392.2L22.9 392.2L23.4 392.2L23.9 392.2L24.4 392.2L24.9 392.2L25.4 392.2L25.9 392.2L26.4 392.2L26.9 392.2L27.4 392.2L27.9 392.2L28.4 392.2L28.9 392.2L29.4 392.2L29.9 392.2L30.4 392.2L30.9 392.2L31.4 392.2L31.9 392.2L32.4 392.2L32.9 392.2L33.4 392.2L33.9 392.2L34.4 392.2L34.9 392.2L35.4 392.2L35.9 392.2L36.4 392.2L36.9 392.2L37.4 392.2L37.9 392.2L38.4 392.2L38.9 392.2L39.4 392.2L39.9 392.2L40.4 392.2L40.9 392.2L41.4 392.2L41.9 392.2L42.4 392.2L42.9 392.2L43.4 392.2L43.9 392.2L44.4 392.2L44.9 392.2L45.4 392.2L45.9 392.2L46.4 392.2L46.9 392.2L47.4 392.2L47.9 392.2L48.4 392.2L48.9 392.2L49.4 392.2L49.9 392.2L50.4 392.2L50.9 392.2L51.4 392.2L51.9 392.2L52.4 392.2L52.9 392.2L53.4 392.2L53.9 392.2L54.4 392.2L54.9 392.2L55.4 392.2L55.9 392.2L56.4 392.2L56.9 392.2L57.4 392.2L57.9 392.2L58.4 392.2L58.9 392.2L59.4 392.2L59.9 392.2L60.4 392.2L60.9 392.2L61.4 392.2L61.9 392.2L62.4 392.2L62.9 392.2L63.4 392.2L63.9 392.2L64.4 392.2L64.9 392.2L65.4 392.2L65.9 392.2L66.4 392.2L66.9 392.2L67.4 392.2L67.9 392.2L68.4 392.2L68.9 392.2L69.4 392.2L69.9 392.2L70.4 392.2L70.9 392.2L71.4 392.2L71.9 392.2L72.4 392.2L72.9 392.2L73.4 392.2L73.9 392.2L74.4 392.2L74.9 392.2L75.4 392.2L75.9 392.2L76.4 392.2L76.9 392.2L77.4 392.2L77.9 392.2L78.4 392.2L78.9 392.2L79.4 392.2L79.9 392.2L80.4 392.2L80.9 392.2L81.4 392.2L81.9 392.2L82.4 392.2L82.9 392.2L83.4 392.2L83.9 392.2L84.4 392.2L84.9 392.2L85.4 392.2L85.9 392.2L86.4 392.2L86.9 392.2L87.4 392.2L87.9 392.2L88.4 392.2L88.9 392.2L89.4 392.2L89.9 392.2L90.4 392.2L90.9 392.2L91.4 392.2L91.9 392.2L92.4 392.2L92.9 392.2L93.4 392.2L93.9 392.2L94.4 392.2L94.9 392.2L95.4 392.2L95.9 392.2L96.4 392.2L96.9 392.2L97.4 392.2L97.9 392.2L98.4 392.2L98.9 392.2L99.4 392.2L99.9 392.2L100.4 392.2L100.9 392.2L101.4 392.2L101.9 392.2L102.4 392.2L102.9 392.2L103.4 392.2L103.9 392.2L104.4 392.2L104.9 392.2L105.4 392.2L105.9 392.2L106.4 392.2L106.9 392.2L107.4 392.2L107.9 392.2L108.4 392.2L108.9 392.2L109.4 392.2L109.9 392.2L110.4 392.2L110.9 392.2L111.4 392.2L111.9 392.2L112.4 392.2L112.9 392.2L113.4 392.2L113.9 392.2L114.4 392.2L114.9 392.2L115.4 392.2L115.9 392.2L116.4 392.2L116.9 392.2L117.4 392.2L117.9 392.2L118.4 392.2L118.9 392.2L119.4 392.2L119.9 392.2L120.4 392.2L120.9 392.2L121.4 392.2L121.9 392.2L122.4 392.2L122.9 392.2L123.4 392.2L123.9 392.2L124.4 392.2L124.9 392.2L125.4 392.2L125.9 392.2L126.4 392.2L126.9 392.2L127.4 392.2L127.9 392.2L128.4 392.2L128.9 392.2L129.4 392.2L129.9 392.2L130.4 392.2L130.9 392.2L131.4 392.2L131.9 392.2L132.4 392.2L132.9 392.2L133.4 392.2L133.9 392.2L134.4 392.2L134.9 392.2L135.4 392.2L135.9 392.2L136.4 392.2L136.9 392.2L137.4 392.2L137.9 392.2L138.4 392.2L138.9 392.2L139.4 392.2L139.9 392.2L140.4 392.2L140.9 392.2L141.4 392.2L141.9 392.2L142.4 392.2L142.9 392.2L143.4 392.2L143.9 392.2L144.4 392.2L144.9 392.2L145.4 392.2L145.9 392.2L146.4 392.2L146.9 392.2L147.4 392.2L147.9 392.2L148.4 392.2L148.9 392.2L149.4 392.2L149.9 392.2L150.4 392.2L150.9 392.2L151.4 392.2L151.9 392.2L152.4 392.2L152.9 392.2L153.4 392.2L153.9 392.2L154.4 392.2L154.9 392.2L155.4 392.2L155.9 392.2L156.4 392.2L156.9 392.2L157.4 392.2L157.9 392.2L158.4 392.2L158.9 392.2L159.4 392.2L159.9 392.2L160.4 392.2L160.9 392.2L161.4 392.2L161.9 392.2L162.4 392.2L162.9 392.2L163.4 392.2L163.9 392.2L164.4 392.2L164.9 392.2L165.4 392.2L165.9 392.2L166.4 392.2L166.9 392.2L167.4 392.2L167.9 392.2L168.4 392.2L168.9 392.2L169.4 392.2L169.9 392.2L170.4 392.2L170.9 392.2L171.4 392.2L171.9 392.2L172.4 392.2L172.9 392.2L173.4 392.2L173.9 392.2L174.4 392.2L174.9 392.2L175.4 392.2L175.9 392.2L176.4 392.2L176.9 392.2L177.4 392.2L177.9 392.2L178.4 392.2L178.9 392.2L179.4 392.2L179.9 392.2L180.4 392.2L180.9 392.2L181.4 392.2L181.9 392.2L182.4 392.2L182.9 392.2L183.4 392.2L183.9 392.2L184.4 392.2L184.9 392.2L185.4 392.2L185.9 392.2L186.4 392.2L186.9 392.2L187.4 392.2L187.9 392.2L188.4 392.2L188.9 392.2L189.4 392.2L189.9 392.2L190.4 392.2L190.9 392.2L191.4 392.2L191.9 392.2L192.4 392.2L192.9 392.2L193.4 392.2L193.9 392.2L194.4 392.2L194.9 392.2L195.4 392.2L195.9 392.2L196.4 392.2L196.9 392.2L197.4 392.2L197.9 392.2L198.4 392.2L198.9 392.2L199.4 392.2L199.9 392.2L200.4 392.2L200.9 392.2L201.4 392.2L201.9 392.2L202.4 392.2L202.9 392.2L203.4 392.2L203.9 392.2L204.4 392.2L204.9 392.2L205.4 392.2L205.9 392.2L206.4 392.2L206.9 392.2L207.4 392.2L207.9 392.2L208.4 392.2L208.9 392.2L209.4 392.2L209.9 392.2L210.4 392.2L210.9 392.2L211.4 392.2L211.9 392.2L212.4 392.2L212.9 392.2L213.4 392.2L213.9 392.2L214.4 392.2L214.9 392.2L215.4 392.2L215.9 392.2L216.4 392.2L216.9 392.2L217.4 392.2L217.9 392.2L218.4 392.2L218.9 392.2L219.4 392.2L219.9 392.2L220.4 392.2L220.9 392.2L221.4 392.2L221.9 392.2L222.4 392.2L222.9 392.2L223.4 392.2L223.9 392.2L224.4 392.2L224.9 392.2L225.4 392.2L225.9 392.2L226.4 392.2L226.9 392.2L227.4 392.2L227.9 392.2L228.4 392.2L228.9 392.2L229.4 392.2L229.9 392.2L230.4 392.2L230.9 392.2L231.4 392.2L231.9 392.2L232.4 392.2L232.9 392.2L233.4 392.2L233.9 392.2L234.4 392.2L234.9 392.2L235.4 392.2L235.9 392.2L236.4 392.2L236.9 392.2L237.4 392.2L237.9 392.2L238.4 392.2L238.9 392.2L239.4 392.2L239.9 392.2L240.4 392.2L240.9 392.2L241.4 392.2L241.9 392.2L242.4 392.2L242.9 392.2L243.4 392.2L243.9 392.2L244.4 392.2L244.9 392.2L245.4 392.2L245.9 392.2L246.4 392.2L246.9 392.2L247.4 392.2L247.9 392.2L248.4 392.2L248.9 392.2L249.4 392.2L249.9 392.2L250.4 392.2L250.9 392.2L251.4 392.2L251.9 392.2L252.4 392.2L252.9 392.2L253.4 392.2L253.9 392.2L254.4 392.2L254.9 392.2L255.4 392.2L255.9 392.2L256.4 392.2L256.9 391.9L257.4 390.7L257.9 390.5L258.4 390.1L258.9 389.1L259.4 388.9L259.9 388.6L260.4 388.3L260.9 388.1L261.4 387.7L261.9 387.4L262.4 387.6L262.9 387.5L263.4 387.3L263.9 386.8L264.4 386.7L264.9 386.9L265.4 386.9L265.9 386.9L266.4 386.9L266.9 386.5L267.4 386.6L267.9 386.7L268.4 386.7L268.9 386.8L269.4 386.8L269.9 386.9L270.4 386.8L270.9 387.2L271.4 387.0L271.9 387.1L272.4 387.6L272.9 387.4L273.4 388.0L273.9 388.2L274.4 388.3L274.9 389.1L275.4 389.2L275.9 389.3L276.4 389.9L276.9 391.1L277.4 392.2L277.9 392.2L278.4 392.2L278.9 392.2L279.4 392.2L279.9 392.2L280.4 392.2L280.9 392.2L281.4 392.2L281.9 392.2L282.4 392.2L282.9 392.2L283.4 392.2L283.9 392.2L284.4 392.2L284.9 392.2L285.4 392.2L285.9 392.2L286.4 392.2L286.9 392.2L287.4 392.2L287.9 392.2L288.4 392.2L288.9 392.2L289.00,392.20Z" fill="#36883c" stroke="none" stroke-width="0"/>
<path d="M35.9,411.5 L56.9,411.5 L56.9,418.9 L39.5,418.9 L38.2,414.5 Z" fill="#f4a11e" stroke="none" stroke-width="0"/>
<line x1="39.20" y1="419.00" x2="56.90" y2="419.00" stroke="#231f20" stroke-width="0.6"/>
<path d="M257.1,411.5 L257.1,403.3 L275.0,403.3 L275.6,409.5 L279,411.5 Z" fill="#f4a11e" stroke="none" stroke-width="0"/>
<line x1="257.10" y1="403.20" x2="275.00" y2="403.20" stroke="#231f20" stroke-width="0.6"/>
<path d="M21.40,432.50L21.4 436.4L21.9 436.5L22.4 436.7L22.9 436.7L23.4 436.6L23.9 436.6L24.4 436.8L24.9 436.9L25.4 436.9L25.9 436.8L26.4 436.9L26.9 436.9L27.4 436.9L27.9 436.9L28.4 436.9L28.9 436.9L29.4 437.0L29.9 437.1L30.4 437.2L30.9 437.1L31.4 437.1L31.9 437.0L32.4 436.9L32.9 437.0L33.4 437.0L33.9 437.0L34.4 436.9L34.9 437.0L35.4 436.9L35.9 437.0L36.4 436.9L36.9 436.9L37.4 436.7L37.9 436.6L38.4 436.7L38.9 436.7L39.4 436.8L39.9 436.8L40.4 436.9L40.9 436.9L41.4 436.9L41.9 437.2L42.4 437.3L42.9 437.5L43.4 437.6L43.9 437.8L44.4 437.8L44.9 437.9L45.4 437.8L45.9 437.9L46.4 438.0L46.9 438.1L47.4 438.0L47.9 437.9L48.4 437.9L48.9 437.8L49.4 437.5L49.9 437.4L50.4 437.4L50.9 437.4L51.4 437.3L51.9 437.2L52.4 437.0L52.9 437.0L53.4 437.0L53.9 436.9L54.4 436.9L54.9 436.9L55.4 436.9L55.9 436.8L56.4 436.7L56.9 436.5L57.4 436.1L57.9 435.6L58.4 435.2L58.9 434.8L59.4 434.4L59.9 434.2L60.4 433.9L60.9 433.4L61.4 432.9L61.9 432.5L62.4 432.5L62.9 432.5L63.4 432.5L63.9 432.5L64.4 432.5L64.9 432.5L65.4 432.5L65.9 432.5L66.4 433.3L66.9 433.5L67.4 433.8L67.9 434.0L68.4 434.1L68.9 434.2L69.4 434.5L69.9 434.9L70.4 435.0L70.9 435.2L71.4 435.2L71.9 435.3L72.4 435.2L72.9 435.2L73.4 435.2L73.9 435.3L74.4 435.4L74.9 435.4L75.4 435.3L75.9 435.3L76.4 435.2L76.9 435.2L77.4 435.3L77.9 435.4L78.4 435.3L78.9 435.3L79.4 435.2L79.9 435.3L80.4 435.2L80.9 435.3L81.4 435.3L81.9 435.3L82.4 435.0L82.9 435.0L83.4 434.9L83.9 434.9L84.4 434.7L84.9 434.7L85.4 434.7L85.9 434.7L86.4 434.6L86.9 434.4L87.4 434.2L87.9 434.2L88.4 434.2L88.9 434.3L89.4 434.1L89.9 433.9L90.4 433.9L90.9 434.1L91.4 434.2L91.9 434.3L92.4 434.5L92.9 434.5L93.4 434.4L93.9 434.3L94.4 434.3L94.9 434.5L95.4 434.6L95.9 434.7L96.4 434.6L96.9 434.6L97.4 434.7L97.9 434.8L98.4 435.0L98.9 435.0L99.4 435.1L99.9 435.2L100.4 435.4L100.9 435.4L101.4 435.4L101.9 435.4L102.4 435.5L102.9 435.4L103.4 435.3L103.9 435.3L104.4 435.4L104.9 435.4L105.4 435.4L105.9 435.4L106.4 435.5L106.9 435.4L107.4 435.3L107.9 435.4L108.4 435.4L108.9 435.3L109.4 435.3L109.9 435.4L110.4 435.3L110.9 435.4L111.4 435.5L111.9 435.6L112.4 435.5L112.9 435.3L113.4 435.2L113.9 435.3L114.4 435.3L114.9 435.2L115.4 435.0L115.9 434.9L116.4 434.7L116.9 434.6L117.4 434.6L117.9 434.6L118.4 434.7L118.9 434.6L119.4 434.4L119.9 434.4L120.4 434.4L120.9 434.3L121.4 434.3L121.9 434.3L122.4 434.2L122.9 434.1L123.4 434.1L123.9 434.3L124.4 434.4L124.9 434.4L125.4 434.3L125.9 434.4L126.4 434.7L126.9 434.9L127.4 434.9L127.9 434.7L128.4 434.7L128.9 434.8L129.4 434.9L129.9 434.9L130.4 435.0L130.9 435.0L131.4 435.0L131.9 434.9L132.4 435.0L132.9 435.1L133.4 435.2L133.9 435.3L134.4 435.5L134.9 435.6L135.4 435.5L135.9 435.3L136.4 435.2L136.9 435.3L137.4 435.4L137.9 435.6L138.4 435.6L138.9 435.6L139.4 435.4L139.9 435.2L140.4 435.3L140.9 435.4L141.4 435.3L141.9 435.1L142.4 435.2L142.9 435.4L143.4 435.5L143.9 435.5L144.4 435.5L144.9 435.5L145.4 435.4L145.9 435.3L146.4 435.3L146.9 435.3L147.4 435.1L147.9 435.2L148.4 435.3L148.9 435.5L149.4 435.5L149.9 435.3L150.4 435.1L150.9 435.0L151.4 434.9L151.9 434.8L152.4 434.7L152.9 434.7L153.4 434.6L153.9 434.5L154.4 434.3L154.9 434.3L155.4 434.4L155.9 434.4L156.4 434.2L156.9 434.0L157.4 434.0L157.9 434.0L158.4 434.0L158.9 433.8L159.4 433.8L159.9 433.7L160.4 433.6L160.9 433.5L161.4 433.5L161.9 433.4L162.4 433.4L162.9 433.4L163.4 433.4L163.9 433.5L164.4 433.6L164.9 433.7L165.4 433.6L165.9 433.7L166.4 433.7L166.9 433.8L167.4 433.9L167.9 434.2L168.4 434.3L168.9 434.3L169.4 434.3L169.9 434.3L170.4 434.4L170.9 434.5L171.4 434.5L171.9 434.7L172.4 434.8L172.9 434.9L173.4 434.8L173.9 435.0L174.4 435.2L174.9 435.3L175.4 435.1L175.9 435.0L176.4 435.1L176.9 435.3L177.4 435.4L177.9 435.3L178.4 435.3L178.9 435.3L179.4 435.3L179.9 435.3L180.4 435.1L180.9 435.1L181.4 435.2L181.9 435.4L182.4 435.4L182.9 435.4L183.4 435.4L183.9 435.4L184.4 435.4L184.9 435.5L185.4 435.6L185.9 435.6L186.4 435.5L186.9 435.4L187.4 435.4L187.9 435.5L188.4 435.4L188.9 435.3L189.4 435.5L189.9 435.6L190.4 435.6L190.9 435.6L191.4 435.6L191.9 435.5L192.4 435.4L192.9 435.3L193.4 435.3L193.9 435.3L194.4 435.4L194.9 435.4L195.4 435.3L195.9 435.2L196.4 435.1L196.9 435.1L197.4 434.9L197.9 434.8L198.4 434.8L198.9 434.7L199.4 434.6L199.9 434.5L200.4 434.6L200.9 434.8L201.4 434.8L201.9 434.7L202.4 434.6L202.9 434.5L203.4 434.4L203.9 434.4L204.4 434.4L204.9 434.5L205.4 434.5L205.9 434.5L206.4 434.4L206.9 434.5L207.4 434.7L207.9 434.9L208.4 434.9L208.9 434.9L209.4 434.9L209.9 434.9L210.4 434.9L210.9 435.0L211.4 435.1L211.9 435.0L212.4 435.0L212.9 435.1L213.4 435.1L213.9 435.1L214.4 435.1L214.9 435.3L215.4 435.3L215.9 435.3L216.4 435.1L216.9 435.2L217.4 435.2L217.9 435.1L218.4 435.1L218.9 435.1L219.4 435.0L219.9 435.0L220.4 435.1L220.9 435.2L221.4 435.3L221.9 435.2L222.4 435.1L222.9 435.0L223.4 435.2L223.9 435.2L224.4 435.2L224.9 435.1L225.4 435.1L225.9 435.0L226.4 435.0L226.9 435.0L227.4 434.9L227.9 434.9L228.4 434.9L228.9 434.9L229.4 435.1L229.9 435.1L230.4 435.2L230.9 435.3L231.4 435.4L231.9 435.4L232.4 435.5L232.9 435.7L233.4 435.6L233.9 435.7L234.4 435.6L234.9 435.7L235.4 435.8L235.9 435.9L236.4 436.1L236.9 436.2L237.4 436.2L237.9 436.2L238.4 436.2L238.9 436.4L239.4 436.5L239.9 436.5L240.4 436.3L240.9 436.5L241.4 436.8L241.9 437.0L242.4 436.8L242.9 436.6L243.4 436.7L243.9 436.6L244.4 436.5L244.9 436.5L245.4 436.4L245.9 436.1L246.4 435.0L246.9 433.8L247.4 432.5L247.9 432.5L248.4 432.5L248.9 432.5L249.4 432.5L249.9 432.5L250.4 432.5L250.9 432.5L251.4 432.5L251.9 432.5L252.4 432.5L252.9 432.5L253.4 432.5L253.9 432.5L254.4 432.5L254.9 432.5L255.4 432.5L255.9 432.5L256.4 432.5L256.9 432.5L257.4 432.5L257.9 432.5L258.4 432.5L258.9 432.5L259.4 432.5L259.9 432.5L260.4 432.5L260.9 432.5L261.4 432.5L261.9 432.5L262.4 432.5L262.9 432.5L263.4 432.5L263.9 432.5L264.4 432.5L264.9 432.5L265.4 432.5L265.9 432.5L266.4 432.5L266.9 432.5L267.4 432.5L267.9 432.5L268.4 432.5L268.9 432.5L269.4 432.5L269.9 432.5L270.4 432.5L270.9 432.5L271.4 432.5L271.9 432.5L272.4 432.5L272.9 432.5L273.4 432.5L273.9 432.5L274.4 432.5L274.9 432.5L275.4 432.5L275.9 432.5L276.4 432.5L276.9 432.5L277.4 432.5L277.9 432.5L278.4 432.5L278.9 432.5L279.4 432.5L279.9 432.5L280.4 432.5L280.9 432.5L281.4 432.5L281.9 432.5L282.4 432.5L282.9 432.5L283.4 432.5L283.9 432.5L284.4 432.5L284.9 432.5L285.4 432.5L285.9 432.5L286.4 432.5L286.9 432.5L287.4 432.5L287.9 432.5L288.4 432.5L288.9 432.5L289.00,432.50Z" fill="#36883c" stroke="none" stroke-width="0"/>
<path d="M21.40,432.50L21.4 432.5L21.9 432.5L22.4 432.5L22.9 432.5L23.4 432.5L23.9 432.5L24.4 432.5L24.9 432.5L25.4 432.5L25.9 432.5L26.4 432.5L26.9 432.5L27.4 432.5L27.9 432.5L28.4 432.5L28.9 432.5L29.4 432.5L29.9 432.5L30.4 432.5L30.9 432.5L31.4 432.5L31.9 432.5L32.4 432.5L32.9 432.5L33.4 432.5L33.9 432.5L34.4 432.5L34.9 432.5L35.4 432.5L35.9 432.5L36.4 432.5L36.9 432.5L37.4 432.5L37.9 432.5L38.4 432.5L38.9 432.5L39.4 432.5L39.9 432.5L40.4 432.5L40.9 432.5L41.4 432.5L41.9 432.5L42.4 432.5L42.9 432.5L43.4 432.5L43.9 432.5L44.4 432.5L44.9 432.5L45.4 432.5L45.9 432.5L46.4 432.5L46.9 432.5L47.4 432.5L47.9 432.5L48.4 432.5L48.9 432.5L49.4 432.5L49.9 432.5L50.4 432.5L50.9 432.5L51.4 432.5L51.9 432.5L52.4 432.5L52.9 432.5L53.4 432.5L53.9 432.5L54.4 432.5L54.9 432.5L55.4 432.5L55.9 432.5L56.4 432.5L56.9 432.5L57.4 432.5L57.9 432.5L58.4 432.5L58.9 432.5L59.4 432.5L59.9 432.5L60.4 432.5L60.9 432.5L61.4 432.5L61.9 432.5L62.4 432.5L62.9 432.5L63.4 432.5L63.9 432.5L64.4 432.5L64.9 432.5L65.4 432.5L65.9 432.5L66.4 432.1L66.9 431.7L67.4 431.3L67.9 431.0L68.4 431.0L68.9 430.9L69.4 430.5L69.9 430.2L70.4 430.1L70.9 430.2L71.4 430.1L71.9 430.0L72.4 430.1L72.9 430.2L73.4 430.2L73.9 430.1L74.4 430.0L74.9 429.8L75.4 429.8L75.9 429.8L76.4 429.8L76.9 429.8L77.4 430.0L77.9 430.0L78.4 430.0L78.9 429.9L79.4 430.0L79.9 429.9L80.4 429.9L80.9 429.8L81.4 430.0L81.9 430.2L82.4 430.3L82.9 430.5L83.4 430.4L83.9 430.5L84.4 430.4L84.9 430.5L85.4 430.4L85.9 430.5L86.4 430.5L86.9 430.7L87.4 430.9L87.9 431.1L88.4 431.1L88.9 431.1L89.4 431.1L89.9 431.1L90.4 431.1L90.9 431.1L91.4 431.0L91.9 431.0L92.4 431.0L92.9 430.9L93.4 430.8L93.9 430.7L94.4 430.6L94.9 430.6L95.4 430.8L95.9 430.8L96.4 430.7L96.9 430.5L97.4 430.3L97.9 430.2L98.4 430.2L98.9 430.2L99.4 430.1L99.9 429.9L100.4 430.0L100.9 430.0L101.4 430.1L101.9 430.0L102.4 429.9L102.9 429.8L103.4 429.9L103.9 429.9L104.4 429.9L104.9 429.9L105.4 429.9L105.9 429.9L106.4 430.0L106.9 430.0L107.4 429.9L107.9 429.9L108.4 429.8L108.9 429.6L109.4 429.6L109.9 429.6L110.4 429.6L110.9 429.7L111.4 429.8L111.9 429.7L112.4 429.6L112.9 429.6L113.4 429.7L113.9 429.8L114.4 429.9L114.9 430.0L115.4 430.1L115.9 430.2L116.4 430.3L116.9 430.4L117.4 430.3L117.9 430.2L118.4 430.3L118.9 430.4L119.4 430.5L119.9 430.5L120.4 430.6L120.9 430.8L121.4 431.0L121.9 431.0L122.4 431.1L122.9 431.1L123.4 431.0L123.9 430.8L124.4 430.7L124.9 430.9L125.4 431.0L125.9 430.9L126.4 430.8L126.9 430.7L127.4 430.6L127.9 430.5L128.4 430.4L128.9 430.3L129.4 430.3L129.9 430.4L130.4 430.4L130.9 430.2L131.4 430.0L131.9 429.9L132.4 429.9L132.9 430.0L133.4 430.0L133.9 430.0L134.4 429.9L134.9 429.8L135.4 429.8L135.9 429.9L136.4 429.9L136.9 429.9L137.4 429.7L137.9 429.8L138.4 429.8L138.9 429.9L139.4 430.0L139.9 430.0L140.4 429.9L140.9 429.8L141.4 429.8L141.9 429.9L142.4 430.0L142.9 430.0L143.4 429.9L143.9 429.9L144.4 430.0L144.9 430.0L145.4 429.8L145.9 429.9L146.4 430.0L146.9 430.1L147.4 430.0L147.9 429.9L148.4 429.9L148.9 430.0L149.4 430.1L149.9 430.1L150.4 430.0L150.9 430.0L151.4 430.3L151.9 430.6L152.4 430.5L152.9 430.4L153.4 430.4L153.9 430.6L154.4 430.7L154.9 430.9L155.4 431.0L155.9 431.0L156.4 431.0L156.9 431.1L157.4 431.4L157.9 431.3L158.4 431.3L158.9 431.2L159.4 431.4L159.9 431.5L160.4 431.8L160.9 431.9L161.4 432.0L161.9 432.0L162.4 432.1L162.9 432.0L163.4 431.8L163.9 431.6L164.4 431.6L164.9 431.5L165.4 431.4L165.9 431.3L166.4 431.4L166.9 431.3L167.4 431.2L167.9 431.1L168.4 431.1L168.9 431.1L169.4 431.0L169.9 430.8L170.4 430.8L170.9 430.7L171.4 430.5L171.9 430.4L172.4 430.4L172.9 430.4L173.4 430.2L173.9 430.1L174.4 430.1L174.9 430.1L175.4 430.1L175.9 430.0L176.4 430.1L176.9 430.0L177.4 430.0L177.9 429.9L178.4 430.0L178.9 430.0L179.4 429.9L179.9 429.9L180.4 429.9L180.9 429.9L181.4 429.9L181.9 429.9L182.4 429.8L182.9 429.7L183.4 429.8L183.9 429.8L184.4 429.9L184.9 430.0L185.4 430.1L185.9 430.1L186.4 430.0L186.9 429.8L187.4 429.8L187.9 429.9L188.4 430.0L188.9 429.8L189.4 429.6L189.9 429.7L190.4 429.7L190.9 429.8L191.4 429.7L191.9 429.8L192.4 429.8L192.9 429.9L193.4 429.9L193.9 430.0L194.4 429.9L194.9 429.9L195.4 430.0L195.9 430.1L196.4 430.2L196.9 430.4L197.4 430.3L197.9 430.3L198.4 430.2L198.9 430.2L199.4 430.3L199.9 430.4L200.4 430.4L200.9 430.3L201.4 430.3L201.9 430.4L202.4 430.4L202.9 430.6L203.4 430.7L203.9 430.8L204.4 430.7L204.9 430.7L205.4 430.6L205.9 430.5L206.4 430.5L206.9 430.7L207.4 430.6L207.9 430.5L208.4 430.3L208.9 430.5L209.4 430.6L209.9 430.5L210.4 430.4L210.9 430.3L211.4 430.3L211.9 430.2L212.4 430.3L212.9 430.2L213.4 430.3L213.9 430.1L214.4 430.1L214.9 430.0L215.4 430.0L215.9 429.9L216.4 429.9L216.9 430.1L217.4 430.3L217.9 430.3L218.4 430.3L218.9 430.2L219.4 430.1L219.9 430.1L220.4 430.1L220.9 430.0L221.4 429.9L221.9 429.9L222.4 430.1L222.9 430.2L223.4 430.3L223.9 430.2L224.4 430.1L224.9 430.1L225.4 430.2L225.9 430.2L226.4 430.1L226.9 430.1L227.4 430.3L227.9 430.2L228.4 430.1L228.9 430.1L229.4 430.2L229.9 430.3L230.4 430.2L230.9 430.1L231.4 430.0L231.9 430.0L232.4 429.9L232.9 429.7L233.4 429.6L233.9 429.7L234.4 429.7L234.9 429.5L235.4 429.4L235.9 429.3L236.4 429.2L236.9 429.2L237.4 429.3L237.9 429.1L238.4 428.8L238.9 428.7L239.4 428.7L239.9 428.6L240.4 428.6L240.9 428.6L241.4 428.6L241.9 428.5L242.4 428.5L242.9 428.5L243.4 428.8L243.9 429.0L244.4 428.9L244.9 428.9L245.4 429.1L245.9 429.3L246.4 430.4L246.9 431.5L247.4 432.5L247.9 432.5L248.4 432.5L248.9 432.5L249.4 432.5L249.9 432.5L250.4 432.5L250.9 432.5L251.4 432.5L251.9 432.5L252.4 432.5L252.9 432.5L253.4 432.5L253.9 432.5L254.4 432.5L254.9 432.5L255.4 432.5L255.9 432.5L256.4 432.5L256.9 432.4L257.4 431.4L257.9 430.5L258.4 430.1L258.9 429.8L259.4 429.7L259.9 429.6L260.4 429.4L260.9 429.1L261.4 429.0L261.9 429.0L262.4 428.9L262.9 428.8L263.4 428.6L263.9 428.6L264.4 428.6L264.9 428.7L265.4 428.7L265.9 428.6L266.4 428.6L266.9 428.4L267.4 428.4L267.9 428.3L268.4 428.3L268.9 428.3L269.4 428.5L269.9 428.7L270.4 428.6L270.9 428.6L271.4 428.7L271.9 428.9L272.4 428.9L272.9 428.9L273.4 428.9L273.9 428.8L274.4 428.7L274.9 428.7L275.4 428.9L275.9 429.1L276.4 429.2L276.9 429.2L277.4 429.1L277.9 429.1L278.4 429.1L278.9 429.2L279.4 429.1L279.9 429.0L280.4 429.1L280.9 429.1L281.4 429.1L281.9 429.0L282.4 429.1L282.9 429.0L283.4 428.8L283.9 428.5L284.4 428.6L284.9 428.7L285.4 428.8L285.9 428.6L286.4 428.7L286.9 428.7L287.4 428.7L287.9 428.7L288.4 428.7L288.9 428.8L289.00,432.50Z" fill="#36883c" stroke="none" stroke-width="0"/>
<path d="M21.2,451.8 L57.2,451.8 L57.2,458.2 L55.6,460.6 L38.6,460.6 L37.6,458.8 L35.6,457.6 L33.2,458.8 L32.2,460.6 L21.2,460.6 Z" fill="#8e2a8f" stroke="none" stroke-width="0"/>
<line x1="21.20" y1="460.70" x2="32.00" y2="460.70" stroke="#231f20" stroke-width="0.6"/>
<line x1="38.80" y1="460.70" x2="55.60" y2="460.70" stroke="#231f20" stroke-width="0.6"/>
<path d="M21.40,451.80L21.4 451.8L21.9 451.8L22.4 451.8L22.9 451.8L23.4 451.8L23.9 451.8L24.4 451.8L24.9 451.8L25.4 451.8L25.9 451.8L26.4 451.8L26.9 451.8L27.4 451.8L27.9 451.8L28.4 451.8L28.9 451.8L29.4 451.8L29.9 451.8L30.4 451.8L30.9 451.8L31.4 451.8L31.9 451.8L32.4 451.8L32.9 451.8L33.4 451.8L33.9 451.8L34.4 451.8L34.9 451.8L35.4 451.8L35.9 451.8L36.4 451.8L36.9 451.8L37.4 451.8L37.9 451.8L38.4 451.8L38.9 451.8L39.4 451.8L39.9 451.8L40.4 451.8L40.9 451.8L41.4 451.8L41.9 451.8L42.4 451.8L42.9 451.8L43.4 451.8L43.9 451.8L44.4 451.8L44.9 451.8L45.4 451.8L45.9 451.8L46.4 451.8L46.9 451.8L47.4 451.8L47.9 451.8L48.4 451.8L48.9 451.8L49.4 451.8L49.9 451.8L50.4 451.8L50.9 451.8L51.4 451.8L51.9 451.8L52.4 451.8L52.9 451.8L53.4 451.8L53.9 451.8L54.4 451.8L54.9 451.8L55.4 451.8L55.9 451.8L56.4 451.8L56.9 451.8L57.4 451.8L57.9 451.8L58.4 451.8L58.9 451.8L59.4 451.8L59.9 451.8L60.4 451.8L60.9 451.8L61.4 451.8L61.9 451.8L62.4 451.8L62.9 451.8L63.4 451.8L63.9 451.8L64.4 451.8L64.9 451.8L65.4 451.8L65.9 451.8L66.4 452.5L66.9 453.4L67.4 454.0L67.9 454.7L68.4 454.9L68.9 455.0L69.4 455.1L69.9 455.4L70.4 455.7L70.9 455.8L71.4 455.9L71.9 456.1L72.4 456.2L72.9 456.1L73.4 456.0L73.9 455.7L74.4 455.5L74.9 455.4L75.4 455.3L75.9 455.3L76.4 455.1L76.9 454.9L77.4 454.7L77.9 454.8L78.4 454.9L78.9 454.7L79.4 454.5L79.9 454.4L80.4 454.3L80.9 454.2L81.4 454.1L81.9 454.4L82.4 454.5L82.9 454.8L83.4 455.0L83.9 455.3L84.4 455.3L84.9 455.3L85.4 455.3L85.9 455.3L86.4 455.3L86.9 455.5L87.4 455.7L87.9 455.8L88.4 455.9L88.9 456.0L89.4 456.1L89.9 456.0L90.4 456.2L90.9 456.2L91.4 456.3L91.9 456.2L92.4 456.2L92.9 456.3L93.4 456.4L93.9 456.5L94.4 456.4L94.9 456.3L95.4 456.2L95.9 456.2L96.4 456.5L96.9 456.8L97.4 456.9L97.9 456.8L98.4 456.7L98.9 456.7L99.4 456.6L99.9 456.6L100.4 456.6L100.9 456.5L101.4 456.5L101.9 456.5L102.4 456.5L102.9 456.2L103.4 455.9L103.9 455.6L104.4 455.5L104.9 455.5L105.4 455.6L105.9 455.7L106.4 455.5L106.9 455.2L107.4 454.9L107.9 454.7L108.4 454.7L108.9 454.5L109.4 454.5L109.9 454.4L110.4 454.4L110.9 454.1L111.4 454.1L111.9 454.2L112.4 454.3L112.9 454.5L113.4 454.8L113.9 455.0L114.4 454.9L114.9 454.7L115.4 454.9L115.9 455.1L116.4 455.2L116.9 455.1L117.4 455.2L117.9 455.3L118.4 455.6L118.9 455.6L119.4 455.6L119.9 455.7L120.4 456.0L120.9 456.1L121.4 456.0L121.9 456.0L122.4 456.0L122.9 456.0L123.4 456.1L123.9 456.3L124.4 456.3L124.9 456.3L125.4 456.4L125.9 456.3L126.4 456.3L126.9 456.2L127.4 456.3L127.9 456.6L128.4 456.6L128.9 456.5L129.4 456.6L129.9 456.7L130.4 456.9L130.9 457.0L131.4 457.0L131.9 456.9L132.4 456.8L132.9 457.0L133.4 457.0L133.9 456.8L134.4 456.8L134.9 457.0L135.4 456.9L135.9 456.8L136.4 456.7L136.9 456.6L137.4 456.4L137.9 456.5L138.4 456.6L138.9 456.6L139.4 456.5L139.9 456.3L140.4 456.2L140.9 456.3L141.4 456.4L141.9 456.4L142.4 456.4L142.9 456.3L143.4 456.1L143.9 456.1L144.4 456.2L144.9 456.2L145.4 456.0L145.9 455.8L146.4 455.6L146.9 455.4L147.4 455.4L147.9 455.5L148.4 455.6L148.9 455.5L149.4 455.5L149.9 455.4L150.4 455.0L150.9 454.8L151.4 454.8L151.9 455.0L152.4 454.9L152.9 454.6L153.4 454.3L153.9 454.4L154.4 454.4L154.9 454.3L155.4 454.1L155.9 454.1L156.4 453.9L156.9 453.9L157.4 453.6L157.9 453.4L158.4 453.3L158.9 453.2L159.4 453.0L159.9 452.8L160.4 452.7L160.9 452.6L161.4 452.7L161.9 452.7L162.4 452.8L162.9 452.8L163.4 452.9L163.9 453.2L164.4 453.3L164.9 453.3L165.4 453.4L165.9 453.7L166.4 453.8L166.9 454.0L167.4 454.4L167.9 454.6L168.4 454.7L168.9 454.8L169.4 455.0L169.9 455.0L170.4 455.0L170.9 455.1L171.4 455.3L171.9 455.8L172.4 456.0L172.9 455.9L173.4 455.8L173.9 455.8L174.4 455.8L174.9 455.7L175.4 455.8L175.9 456.0L176.4 456.0L176.9 455.9L177.4 456.0L177.9 456.0L178.4 456.1L178.9 456.2L179.4 456.2L179.9 456.2L180.4 456.2L180.9 456.2L181.4 456.2L181.9 456.1L182.4 456.1L182.9 456.2L183.4 456.4L183.9 456.3L184.4 456.2L184.9 456.0L185.4 456.0L185.9 456.0L186.4 456.1L186.9 456.1L187.4 456.2L187.9 456.0L188.4 455.9L188.9 455.9L189.4 456.2L189.9 456.1L190.4 455.9L190.9 455.8L191.4 456.0L191.9 455.9L192.4 455.8L192.9 455.8L193.4 456.0L193.9 456.0L194.4 455.9L194.9 455.9L195.4 455.8L195.9 455.7L196.4 455.5L196.9 455.4L197.4 455.2L197.9 455.3L198.4 455.4L198.9 455.4L199.4 455.4L199.9 455.5L200.4 455.6L200.9 455.5L201.4 455.5L201.9 455.4L202.4 455.2L202.9 455.0L203.4 454.8L203.9 454.8L204.4 455.0L204.9 455.1L205.4 454.9L205.9 454.6L206.4 454.4L206.9 454.5L207.4 454.6L207.9 454.6L208.4 454.4L208.9 454.5L209.4 454.4L209.9 454.4L210.4 454.5L210.9 454.7L211.4 454.8L211.9 454.7L212.4 454.7L212.9 454.7L213.4 455.0L213.9 455.1L214.4 455.1L214.9 455.2L215.4 455.4L215.9 455.4L216.4 455.5L216.9 455.5L217.4 455.6L217.9 455.6L218.4 455.6L218.9 455.7L219.4 455.9L219.9 456.2L220.4 456.3L220.9 456.3L221.4 456.4L221.9 456.3L222.4 456.2L222.9 456.4L223.4 456.6L223.9 456.5L224.4 456.5L224.9 456.6L225.4 456.7L225.9 456.5L226.4 456.4L226.9 456.6L227.4 456.6L227.9 456.6L228.4 456.5L228.9 456.6L229.4 456.6L229.9 456.7L230.4 456.6L230.9 456.6L231.4 456.7L231.9 457.0L232.4 456.9L232.9 456.7L233.4 456.7L233.9 456.9L234.4 456.8L234.9 456.6L235.4 456.5L235.9 456.5L236.4 456.5L236.9 456.4L237.4 456.3L237.9 456.4L238.4 456.3L238.9 456.1L239.4 456.0L239.9 456.2L240.4 456.2L240.9 456.1L241.4 456.0L241.9 455.9L242.4 455.7L242.9 455.6L243.4 455.4L243.9 455.2L244.4 454.9L244.9 454.7L245.4 454.3L245.9 453.9L246.4 453.6L246.9 452.9L247.4 451.8L247.9 451.8L248.4 451.8L248.9 451.8L249.4 451.8L249.9 451.8L250.4 451.8L250.9 451.8L251.4 451.8L251.9 451.8L252.4 451.8L252.9 451.8L253.4 451.8L253.9 451.8L254.4 451.8L254.9 451.8L255.4 451.8L255.9 451.8L256.4 451.8L256.9 451.8L257.4 451.8L257.9 451.8L258.4 451.8L258.9 451.8L259.4 451.8L259.9 451.8L260.4 451.8L260.9 451.8L261.4 451.8L261.9 451.8L262.4 451.8L262.9 451.8L263.4 451.8L263.9 451.8L264.4 451.8L264.9 451.8L265.4 451.8L265.9 451.8L266.4 451.8L266.9 451.8L267.4 451.8L267.9 451.8L268.4 451.8L268.9 451.8L269.4 451.8L269.9 451.8L270.4 451.8L270.9 451.8L271.4 451.8L271.9 451.8L272.4 451.8L272.9 451.8L273.4 451.8L273.9 451.8L274.4 451.8L274.9 451.8L275.4 451.8L275.9 451.8L276.4 451.8L276.9 451.8L277.4 451.8L277.9 451.8L278.4 451.8L278.9 451.8L279.4 451.8L279.9 451.8L280.4 451.8L280.9 451.8L281.4 451.8L281.9 451.8L282.4 451.8L282.9 451.8L283.4 451.8L283.9 451.8L284.4 451.8L284.9 451.8L285.4 451.8L285.9 451.8L286.4 451.8L286.9 451.8L287.4 451.8L287.9 451.8L288.4 451.8L288.9 451.8L289.00,451.80Z" fill="#8e2a8f" stroke="none" stroke-width="0"/>
<path d="M21.40,451.80L21.4 451.8L21.9 451.8L22.4 451.8L22.9 451.8L23.4 451.8L23.9 451.8L24.4 451.8L24.9 451.8L25.4 451.8L25.9 451.8L26.4 451.8L26.9 451.8L27.4 451.8L27.9 451.8L28.4 451.8L28.9 451.8L29.4 451.8L29.9 451.8L30.4 451.8L30.9 451.8L31.4 451.8L31.9 451.8L32.4 451.8L32.9 451.8L33.4 451.8L33.9 451.8L34.4 451.8L34.9 451.8L35.4 451.8L35.9 451.8L36.4 451.8L36.9 451.8L37.4 451.8L37.9 451.8L38.4 451.8L38.9 451.8L39.4 451.8L39.9 451.8L40.4 451.8L40.9 451.8L41.4 451.8L41.9 451.8L42.4 451.8L42.9 451.8L43.4 451.8L43.9 451.8L44.4 451.8L44.9 451.8L45.4 451.8L45.9 451.8L46.4 451.8L46.9 451.8L47.4 451.8L47.9 451.8L48.4 451.8L48.9 451.8L49.4 451.8L49.9 451.8L50.4 451.8L50.9 451.8L51.4 451.8L51.9 451.8L52.4 451.8L52.9 451.8L53.4 451.8L53.9 451.8L54.4 451.8L54.9 451.8L55.4 451.8L55.9 451.8L56.4 451.8L56.9 451.8L57.4 451.8L57.9 451.8L58.4 451.8L58.9 451.8L59.4 451.8L59.9 451.8L60.4 451.8L60.9 451.8L61.4 451.8L61.9 451.8L62.4 451.8L62.9 451.8L63.4 451.8L63.9 451.8L64.4 451.8L64.9 451.8L65.4 451.8L65.9 451.8L66.4 451.0L66.9 450.3L67.4 449.3L67.9 448.4L68.4 448.2L68.9 448.1L69.4 447.9L69.9 447.7L70.4 447.5L70.9 447.2L71.4 446.9L71.9 446.7L72.4 446.8L72.9 447.2L73.4 447.2L73.9 447.4L74.4 447.6L74.9 447.8L75.4 447.6L75.9 447.6L76.4 447.8L76.9 448.1L77.4 448.3L77.9 448.3L78.4 448.3L78.9 448.5L79.4 448.7L79.9 448.8L80.4 449.0L80.9 449.0L81.4 449.0L81.9 448.8L82.4 448.6L82.9 448.3L83.4 448.1L83.9 448.0L84.4 447.8L84.9 447.6L85.4 447.7L85.9 447.7L86.4 447.6L86.9 447.5L87.4 447.4L87.9 447.1L88.4 446.9L88.9 446.8L89.4 446.5L89.9 446.4L90.4 446.5L90.9 446.5L91.4 446.5L91.9 446.3L92.4 446.3L92.9 446.4L93.4 446.3L93.9 446.3L94.4 446.2L94.9 446.3L95.4 446.2L95.9 446.3L96.4 446.2L96.9 446.4L97.4 446.3L97.9 446.3L98.4 446.2L98.9 446.3L99.4 446.2L99.9 446.1L100.4 446.2L100.9 446.3L101.4 446.4L101.9 446.5L102.4 446.6L102.9 446.7L103.4 446.8L103.9 447.1L104.4 447.4L104.9 447.6L105.4 447.8L105.9 447.7L106.4 447.8L106.9 447.9L107.4 448.0L107.9 448.2L108.4 448.5L108.9 448.8L109.4 448.8L109.9 448.9L110.4 448.9L110.9 449.2L111.4 449.2L111.9 449.3L112.4 449.0L112.9 448.8L113.4 448.7L113.9 448.7L114.4 448.5L114.9 448.3L115.4 448.1L115.9 448.0L116.4 448.0L116.9 447.9L117.4 447.7L117.9 447.7L118.4 447.6L118.9 447.3L119.4 447.0L119.9 447.1L120.4 447.0L120.9 447.1L121.4 447.0L121.9 447.0L122.4 446.8L122.9 446.6L123.4 446.6L123.9 446.6L124.4 446.7L124.9 446.6L125.4 446.6L125.9 446.5L126.4 446.4L126.9 446.5L127.4 446.5L127.9 446.5L128.4 446.4L128.9 446.2L129.4 446.0L129.9 446.1L130.4 446.3L130.9 446.4L131.4 446.3L131.9 446.2L132.4 446.2L132.9 446.2L133.4 446.3L133.9 446.3L134.4 446.1L134.9 446.0L135.4 446.1L135.9 446.2L136.4 446.2L136.9 446.2L137.4 446.2L137.9 446.0L138.4 445.9L138.9 446.0L139.4 446.1L139.9 446.3L140.4 446.5L140.9 446.7L141.4 446.8L141.9 446.8L142.4 446.6L142.9 446.7L143.4 446.9L143.9 447.0L144.4 447.0L144.9 447.2L145.4 447.2L145.9 447.1L146.4 447.2L146.9 447.3L147.4 447.2L147.9 447.2L148.4 447.6L148.9 447.8L149.4 448.0L149.9 448.0L150.4 448.2L150.9 448.1L151.4 448.2L151.9 448.2L152.4 448.5L152.9 448.5L153.4 448.6L153.9 448.6L154.4 448.8L154.9 448.8L155.4 449.0L155.9 449.3L156.4 449.5L156.9 449.6L157.4 449.7L157.9 449.9L158.4 450.0L158.9 450.1L159.4 450.3L159.9 450.4L160.4 450.5L160.9 450.4L161.4 450.3L161.9 450.4L162.4 450.8L162.9 450.9L163.4 450.9L163.9 450.5L164.4 450.3L164.9 450.1L165.4 449.9L165.9 449.5L166.4 449.2L166.9 449.0L167.4 448.7L167.9 448.7L168.4 448.7L168.9 448.6L169.4 448.2L169.9 447.9L170.4 447.6L170.9 447.3L171.4 447.3L171.9 447.3L172.4 447.4L172.9 447.4L173.4 447.2L173.9 447.2L174.4 447.0L174.9 447.0L175.4 447.0L175.9 447.0L176.4 446.8L176.9 446.6L177.4 446.7L177.9 446.8L178.4 447.0L178.9 446.9L179.4 447.1L179.9 447.2L180.4 447.2L180.9 447.2L181.4 446.9L181.9 446.8L182.4 446.6L182.9 446.7L183.4 446.8L183.9 446.8L184.4 446.6L184.9 446.5L185.4 446.7L185.9 446.7L186.4 446.6L186.9 446.5L187.4 446.7L187.9 446.8L188.4 446.9L188.9 446.8L189.4 446.8L189.9 446.8L190.4 446.8L190.9 446.8L191.4 446.8L191.9 447.0L192.4 447.2L192.9 447.4L193.4 447.2L193.9 447.1L194.4 447.1L194.9 447.3L195.4 447.3L195.9 447.3L196.4 447.4L196.9 447.4L197.4 447.5L197.9 447.5L198.4 447.5L198.9 447.4L199.4 447.5L199.9 447.6L200.4 447.6L200.9 447.6L201.4 447.8L201.9 447.9L202.4 447.8L202.9 447.9L203.4 448.0L203.9 448.1L204.4 448.1L204.9 448.3L205.4 448.3L205.9 448.2L206.4 448.1L206.9 448.3L207.4 448.4L207.9 448.6L208.4 448.5L208.9 448.5L209.4 448.4L209.9 448.5L210.4 448.6L210.9 448.6L211.4 448.5L211.9 448.5L212.4 448.3L212.9 448.1L213.4 448.1L213.9 448.0L214.4 448.0L214.9 447.8L215.4 447.6L215.9 447.4L216.4 447.5L216.9 447.6L217.4 447.7L217.9 447.6L218.4 447.5L218.9 447.2L219.4 447.0L219.9 446.8L220.4 446.6L220.9 446.5L221.4 446.4L221.9 446.5L222.4 446.6L222.9 446.5L223.4 446.4L223.9 446.5L224.4 446.7L224.9 446.6L225.4 446.4L225.9 446.3L226.4 446.3L226.9 446.1L227.4 446.1L227.9 446.1L228.4 446.2L228.9 446.1L229.4 446.0L229.9 445.8L230.4 445.8L230.9 445.8L231.4 445.8L231.9 445.9L232.4 445.9L232.9 446.1L233.4 446.2L233.9 446.4L234.4 446.5L234.9 446.5L235.4 446.3L235.9 446.1L236.4 446.0L236.9 446.1L237.4 446.5L237.9 446.8L238.4 446.9L238.9 446.7L239.4 446.6L239.9 446.7L240.4 446.8L240.9 446.9L241.4 446.8L241.9 446.8L242.4 447.2L242.9 447.5L243.4 447.8L243.9 448.1L244.4 448.6L244.9 448.8L245.4 449.0L245.9 449.2L246.4 449.5L246.9 450.6L247.4 451.8L247.9 451.8L248.4 451.8L248.9 451.8L249.4 451.8L249.9 451.8L250.4 451.8L250.9 451.8L251.4 451.8L251.9 451.8L252.4 451.8L252.9 451.8L253.4 451.8L253.9 451.8L254.4 451.8L254.9 451.8L255.4 451.8L255.9 451.8L256.4 451.8L256.9 451.8L257.4 451.8L257.9 451.8L258.4 451.8L258.9 451.8L259.4 451.8L259.9 451.8L260.4 451.8L260.9 451.8L261.4 451.8L261.9 451.8L262.4 451.8L262.9 451.8L263.4 451.8L263.9 451.8L264.4 451.8L264.9 451.8L265.4 451.8L265.9 451.8L266.4 451.8L266.9 451.8L267.4 451.8L267.9 451.8L268.4 451.8L268.9 451.8L269.4 451.8L269.9 451.8L270.4 451.8L270.9 451.8L271.4 451.8L271.9 451.8L272.4 451.8L272.9 451.8L273.4 451.8L273.9 451.8L274.4 451.8L274.9 451.8L275.4 451.8L275.9 451.8L276.4 451.8L276.9 451.8L277.4 451.8L277.9 451.8L278.4 451.8L278.9 451.8L279.4 451.8L279.9 451.8L280.4 451.8L280.9 451.8L281.4 451.8L281.9 451.8L282.4 451.8L282.9 451.8L283.4 451.8L283.9 451.8L284.4 451.8L284.9 451.8L285.4 451.8L285.9 451.8L286.4 451.8L286.9 451.8L287.4 451.8L287.9 451.8L288.4 451.8L288.9 451.8L289.00,451.80Z" fill="#8e2a8f" stroke="none" stroke-width="0"/>
<path d="M258.6,451.8 L260.2,443.2 L289.0,443.2 L289.0,451.8 Z" fill="#8e2a8f" stroke="none" stroke-width="0"/>
<line x1="260.20" y1="443.10" x2="289.00" y2="443.10" stroke="#231f20" stroke-width="0.6"/>
<path d="M21.2,471 L57.2,471 L57.2,477.2 L55.6,479.2 L38.6,479.2 L37.6,476.8 L33.8,474.6 L30.0,476.2 L26.5,477.6 L21.2,474.0 Z" fill="#f4a11e" stroke="none" stroke-width="0"/>
<line x1="38.80" y1="479.30" x2="55.60" y2="479.30" stroke="#231f20" stroke-width="0.6"/>
<path d="M21.40,471.00L21.4 471.0L21.9 471.0L22.4 471.0L22.9 471.0L23.4 471.0L23.9 471.0L24.4 471.0L24.9 471.0L25.4 471.0L25.9 471.0L26.4 471.0L26.9 471.0L27.4 471.0L27.9 471.0L28.4 471.0L28.9 471.0L29.4 471.0L29.9 471.0L30.4 471.0L30.9 471.0L31.4 471.0L31.9 471.0L32.4 471.0L32.9 471.0L33.4 471.0L33.9 471.0L34.4 471.0L34.9 471.0L35.4 471.0L35.9 471.0L36.4 471.0L36.9 471.0L37.4 471.0L37.9 471.0L38.4 471.0L38.9 471.0L39.4 471.0L39.9 471.0L40.4 471.0L40.9 471.0L41.4 471.0L41.9 471.0L42.4 471.0L42.9 471.0L43.4 471.0L43.9 471.0L44.4 471.0L44.9 471.0L45.4 471.0L45.9 471.0L46.4 471.0L46.9 471.0L47.4 471.0L47.9 471.0L48.4 471.0L48.9 471.0L49.4 471.0L49.9 471.0L50.4 471.0L50.9 471.0L51.4 471.0L51.9 471.0L52.4 471.0L52.9 471.0L53.4 471.0L53.9 471.0L54.4 471.0L54.9 471.0L55.4 471.0L55.9 471.0L56.4 471.0L56.9 471.0L57.4 470.5L57.9 470.4L58.4 470.6L58.9 470.6L59.4 470.5L59.9 470.6L60.4 470.6L60.9 470.5L61.4 470.4L61.9 470.6L62.4 470.7L62.9 470.7L63.4 470.6L63.9 470.6L64.4 470.7L64.9 470.8L65.4 470.7L65.9 470.5L66.4 470.6L66.9 470.7L67.4 470.6L67.9 470.6L68.4 470.6L68.9 470.6L69.4 470.6L69.9 470.6L70.4 470.6L70.9 470.7L71.4 470.7L71.9 470.6L72.4 470.6L72.9 470.5L73.4 470.5L73.9 470.8L74.4 470.9L74.9 470.8L75.4 470.6L75.9 470.7L76.4 470.7L76.9 470.6L77.4 470.8L77.9 470.9L78.4 470.8L78.9 470.8L79.4 470.9L79.9 470.9L80.4 470.7L80.9 470.4L81.4 470.4L81.9 470.5L82.4 470.7L82.9 470.7L83.4 470.6L83.9 470.6L84.4 470.5L84.9 470.4L85.4 470.5L85.9 470.5L86.4 470.5L86.9 470.4L87.4 470.5L87.9 470.5L88.4 470.5L88.9 470.6L89.4 470.8L89.9 470.8L90.4 470.8L90.9 470.8L91.4 470.8L91.9 470.5L92.4 470.5L92.9 470.6L93.4 470.7L93.9 470.5L94.4 470.5L94.9 470.7L95.4 470.7L95.9 470.8L96.4 470.7L96.9 470.8L97.4 470.8L97.9 470.6L98.4 470.5L98.9 470.6L99.4 470.8L99.9 470.8L100.4 470.8L100.9 470.8L101.4 470.9L101.9 470.8L102.4 470.6L102.9 470.6L103.4 470.7L103.9 470.7L104.4 470.6L104.9 470.7L105.4 470.9L105.9 470.8L106.4 470.7L106.9 470.7L107.4 470.8L107.9 470.6L108.4 470.6L108.9 470.6L109.4 470.6L109.9 470.7L110.4 470.8L110.9 470.7L111.4 470.6L111.9 470.6L112.4 470.7L112.9 470.7L113.4 470.7L113.9 470.6L114.4 470.5L114.9 470.6L115.4 470.7L115.9 470.8L116.4 470.9L116.9 470.8L117.4 470.6L117.9 470.6L118.4 470.7L118.9 470.6L119.4 470.5L119.9 470.5L120.4 470.7L120.9 470.7L121.4 470.6L121.9 470.5L122.4 470.5L122.9 470.6L123.4 470.8L123.9 470.8L124.4 470.8L124.9 470.8L125.4 470.8L125.9 470.7L126.4 470.7L126.9 470.6L127.4 470.6L127.9 470.6L128.4 470.7L128.9 470.7L129.4 470.6L129.9 470.7L130.4 470.7L130.9 470.7L131.4 470.7L131.9 470.7L132.4 470.6L132.9 470.6L133.4 470.5L133.9 470.6L134.4 470.8L134.9 470.8L135.4 470.8L135.9 470.9L136.4 470.9L136.9 470.8L137.4 470.9L137.9 470.9L138.4 470.8L138.9 470.5L139.4 470.5L139.9 470.8L140.4 470.9L140.9 470.8L141.4 470.8L141.9 470.8L142.4 470.7L142.9 470.6L143.4 470.8L143.9 470.8L144.4 470.7L144.9 470.6L145.4 470.5L145.9 470.6L146.4 470.7L146.9 470.6L147.4 470.7L147.9 470.9L148.4 470.9L148.9 470.8L149.4 470.7L149.9 470.6L150.4 470.7L150.9 470.6L151.4 470.6L151.9 470.7L152.4 470.5L152.9 470.4L153.4 470.4L153.9 470.4L154.4 470.4L154.9 470.5L155.4 470.5L155.9 470.6L156.4 470.7L156.9 470.5L157.4 470.4L157.9 470.5L158.4 470.6L158.9 470.6L159.4 470.6L159.9 470.7L160.4 470.7L160.9 470.7L161.4 470.6L161.9 470.5L162.4 470.6L162.9 470.6L163.4 470.7L163.9 470.8L164.4 470.6L164.9 470.5L165.4 470.6L165.9 470.6L166.4 470.4L166.9 470.5L167.4 470.6L167.9 470.7L168.4 470.7L168.9 470.7L169.4 470.7L169.9 470.5L170.4 470.6L170.9 470.8L171.4 470.8L171.9 470.8L172.4 470.9L172.9 470.7L173.4 470.5L173.9 470.5L174.4 470.6L174.9 470.7L175.4 470.6L175.9 470.6L176.4 470.7L176.9 470.7L177.4 470.5L177.9 470.4L178.4 470.4L178.9 470.5L179.4 470.6L179.9 470.7L180.4 470.7L180.9 470.7L181.4 470.6L181.9 470.5L182.4 470.5L182.9 470.5L183.4 470.6L183.9 470.5L184.4 470.6L184.9 470.7L185.4 470.8L185.9 470.8L186.4 470.6L186.9 470.7L187.4 470.7L187.9 470.7L188.4 470.7L188.9 470.7L189.4 470.7L189.9 470.6L190.4 470.7L190.9 470.7L191.4 470.6L191.9 470.4L192.4 470.4L192.9 470.4L193.4 470.5L193.9 470.6L194.4 470.6L194.9 470.6L195.4 470.5L195.9 470.5L196.4 470.6L196.9 470.9L197.4 470.9L197.9 470.9L198.4 470.7L198.9 470.5L199.4 470.5L199.9 470.7L200.4 470.9L200.9 470.7L201.4 470.5L201.9 470.5L202.4 470.6L202.9 470.6L203.4 470.6L203.9 470.7L204.4 470.7L204.9 470.5L205.4 470.6L205.9 470.7L206.4 470.7L206.9 470.6L207.4 470.5L207.9 470.6L208.4 470.6L208.9 470.6L209.4 470.5L209.9 470.6L210.4 470.6L210.9 470.5L211.4 470.6L211.9 470.7L212.4 470.6L212.9 470.6L213.4 470.7L213.9 470.8L214.4 470.8L214.9 470.9L215.4 470.8L215.9 470.7L216.4 470.8L216.9 470.8L217.4 470.8L217.9 470.8L218.4 470.8L218.9 470.7L219.4 470.6L219.9 470.5L220.4 470.6L220.9 470.6L221.4 470.5L221.9 470.5L222.4 470.6L222.9 470.5L223.4 470.5L223.9 470.5L224.4 470.5L224.9 470.6L225.4 470.6L225.9 470.5L226.4 470.5L226.9 470.5L227.4 470.5L227.9 470.7L228.4 470.7L228.9 470.7L229.4 470.6L229.9 470.7L230.4 470.8L230.9 470.8L231.4 470.6L231.9 470.8L232.4 470.9L232.9 470.8L233.4 470.5L233.9 470.5L234.4 470.6L234.9 470.6L235.4 470.6L235.9 470.6L236.4 470.7L236.9 470.7L237.4 470.5L237.9 470.4L238.4 470.6L238.9 470.7L239.4 470.6L239.9 470.5L240.4 470.5L240.9 470.6L241.4 470.7L241.9 470.7L242.4 470.7L242.9 470.6L243.4 470.8L243.9 470.9L244.4 470.9L244.9 470.9L245.4 470.8L245.9 470.6L246.4 470.6L246.9 470.8L247.4 471.0L247.9 471.0L248.4 471.0L248.9 471.0L249.4 471.0L249.9 471.0L250.4 471.0L250.9 471.0L251.4 471.0L251.9 471.0L252.4 471.0L252.9 471.0L253.4 471.0L253.9 471.0L254.4 471.0L254.9 471.0L255.4 471.0L255.9 471.0L256.4 471.0L256.9 471.0L257.4 471.0L257.9 471.0L258.4 471.0L258.9 471.0L259.4 471.0L259.9 471.0L260.4 471.0L260.9 471.0L261.4 471.0L261.9 471.0L262.4 471.0L262.9 471.0L263.4 471.0L263.9 471.0L264.4 471.0L264.9 471.0L265.4 471.0L265.9 471.0L266.4 471.0L266.9 471.0L267.4 471.0L267.9 471.0L268.4 471.0L268.9 471.0L269.4 471.0L269.9 471.0L270.4 471.0L270.9 471.0L271.4 471.0L271.9 471.0L272.4 471.0L272.9 471.0L273.4 471.0L273.9 471.0L274.4 471.0L274.9 471.0L275.4 471.0L275.9 471.0L276.4 471.0L276.9 471.0L277.4 471.0L277.9 471.0L278.4 471.0L278.9 471.0L279.4 471.0L279.9 471.0L280.4 471.0L280.9 471.0L281.4 471.0L281.9 471.0L282.4 471.0L282.9 471.0L283.4 471.0L283.9 471.0L284.4 471.0L284.9 471.0L285.4 471.0L285.9 471.0L286.4 471.0L286.9 471.0L287.4 471.0L287.9 471.0L288.4 471.0L288.9 471.0L289.00,471.00Z" fill="#f4a11e" stroke="none" stroke-width="0"/>
<path d="M257.1,471 L257.1,462.5 L275.0,462.5 L276.5,465.4 L279.5,465.8 L283,463.6 L289,463.0 L289,471 Z" fill="#f4a11e" stroke="none" stroke-width="0"/>
<line x1="259.50" y1="462.40" x2="275.00" y2="462.40" stroke="#231f20" stroke-width="0.6"/>
<line x1="21.40" y1="392.20" x2="289.00" y2="392.20" stroke="#777" stroke-width="0.6"/>
<line x1="21.40" y1="411.50" x2="289.00" y2="411.50" stroke="#777" stroke-width="0.7"/>
<line x1="21.40" y1="432.50" x2="289.00" y2="432.50" stroke="#3a5a3a" stroke-width="0.6"/>
<line x1="21.40" y1="451.80" x2="289.00" y2="451.80" stroke="#9a9a9a" stroke-width="0.9"/>
<line x1="21.40" y1="471.00" x2="289.00" y2="471.00" stroke="#b0b0b0" stroke-width="1.0"/>
<path d="M66.2,432.5 L66.2,424.7 L71.6,424.7" fill="none" stroke="#231f20" stroke-width="0.6"/>
<path d="M73.8,424.7 L71.2,423.5 L71.2,425.9Z" fill="#231f20" stroke="none" stroke-width="0"/>
<path d="M247.2,432.5 L247.2,441.0 L243.2,441.0" fill="none" stroke="#231f20" stroke-width="0.6"/>
<path d="M241.0,441.0 L243.6,439.8 L243.6,442.2Z" fill="#231f20" stroke="none" stroke-width="0"/>
<text x="91.10" y="422.10" font-size="7.85" text-anchor="start" fill="#231f20" stroke="#231f20" stroke-width="0.16" letter-spacing="0.1" transform="matrix(1 0 0 1.12 0 -50.652)">HSV-1-induced de novo transcripts</text>
<line x1="225.20" y1="422.90" x2="229.80" y2="422.90" stroke="#e5202e" stroke-width="0.7"/>
<line x1="231.50" y1="423.20" x2="235.80" y2="423.20" stroke="#e5202e" stroke-width="0.7"/>
<text x="297.10" y="394.40" font-size="7.6" text-anchor="start" fill="#231f20" stroke="#231f20" stroke-width="0.16" letter-spacing="0.1" transform="matrix(1 0 0 1.12 0 -47.328)">Z22 RIP</text>
<text x="297.10" y="413.70" font-size="7.6" text-anchor="start" fill="#231f20" stroke="#231f20" stroke-width="0.16" letter-spacing="0.1" transform="matrix(1 0 0 1.12 0 -49.644)">Total RNA</text>
<text x="297.10" y="434.70" font-size="7.6" text-anchor="start" fill="#231f20" stroke="#231f20" stroke-width="0.16" letter-spacing="0.1" transform="matrix(1 0 0 1.12 0 -52.164)">Z22 RIP</text>
<text x="297.10" y="454.00" font-size="7.6" text-anchor="start" fill="#231f20" stroke="#231f20" stroke-width="0.16" letter-spacing="0.1" transform="matrix(1 0 0 1.12 0 -54.480)">Flag RIP</text>
<text x="297.10" y="472.90" font-size="7.6" text-anchor="start" fill="#231f20" stroke="#231f20" stroke-width="0.16" letter-spacing="0.1" transform="matrix(1 0 0 1.12 0 -56.748)">Total RNA</text>
<text x="287.40" y="400.50" font-size="7.6" text-anchor="end" fill="#231f20" stroke="#231f20" stroke-width="0.16" letter-spacing="0.1" transform="matrix(1 0 0 1.12 0 -48.060)">[0–10]</text>
<text x="287.40" y="419.40" font-size="7.6" text-anchor="end" fill="#231f20" stroke="#231f20" stroke-width="0.16" letter-spacing="0.1" transform="matrix(1 0 0 1.12 0 -50.328)">[0–10]</text>
<text x="287.40" y="440.50" font-size="7.6" text-anchor="end" fill="#231f20" stroke="#231f20" stroke-width="0.16" letter-spacing="0.1" transform="matrix(1 0 0 1.12 0 -52.860)">[0–10]</text>
<text x="287.40" y="459.70" font-size="7.6" text-anchor="end" fill="#231f20" stroke="#231f20" stroke-width="0.16" letter-spacing="0.1" transform="matrix(1 0 0 1.12 0 -55.164)">[0–10]</text>
<text x="287.40" y="479.00" font-size="7.6" text-anchor="end" fill="#231f20" stroke="#231f20" stroke-width="0.16" letter-spacing="0.1" transform="matrix(1 0 0 1.12 0 -57.480)">[0–10]</text>
<line x1="294.20" y1="383.00" x2="294.20" y2="480.30" stroke="#231f20" stroke-width="0.6"/>
<line x1="292.40" y1="383.00" x2="294.20" y2="383.00" stroke="#231f20" stroke-width="0.6"/>
<line x1="292.40" y1="402.60" x2="294.20" y2="402.60" stroke="#231f20" stroke-width="0.6"/>
<line x1="292.40" y1="422.90" x2="294.20" y2="422.90" stroke="#231f20" stroke-width="0.6"/>
<line x1="292.40" y1="443.00" x2="294.20" y2="443.00" stroke="#231f20" stroke-width="0.6"/>
<line x1="292.40" y1="462.30" x2="294.20" y2="462.30" stroke="#231f20" stroke-width="0.6"/>
<line x1="292.40" y1="480.30" x2="294.20" y2="480.30" stroke="#231f20" stroke-width="0.6"/>
<text x="15.30" y="402.20" font-size="7.6" text-anchor="middle" fill="#231f20" stroke="#231f20" stroke-width="0.16" letter-spacing="0.15" transform="rotate(-90 15.30 402.20) matrix(1 0 0 1.12 0 -48.264)">Mock</text>
<line x1="17.50" y1="386.40" x2="17.50" y2="418.00" stroke="#6a6a6a" stroke-width="0.6"/>
<text x="15.30" y="450.90" font-size="7.6" text-anchor="middle" fill="#231f20" stroke="#231f20" stroke-width="0.16" letter-spacing="0.15" transform="rotate(-90 15.30 450.90) matrix(1 0 0 1.12 0 -54.108)">HSV-1</text>
<line x1="17.50" y1="426.40" x2="17.50" y2="474.60" stroke="#6a6a6a" stroke-width="0.6"/>
<text x="98.90" y="489.90" font-size="7.6" text-anchor="start" fill="#231f20" stroke="#231f20" stroke-width="0.16" letter-spacing="0.1" transform="matrix(1 0 0 1.12 0 -58.788)">Z-RNA</text>
<text x="129.60" y="485.50" font-size="7.6" text-anchor="start" fill="#231f20" stroke="#231f20" stroke-width="0.16" letter-spacing="0" transform="matrix(1 0 0 1.12 0 -58.260)">5′</text>
<text x="129.60" y="494.60" font-size="7.6" text-anchor="start" fill="#231f20" stroke="#231f20" stroke-width="0.16" letter-spacing="0" transform="matrix(1 0 0 1.12 0 -59.352)">3′</text>
<text x="193.90" y="485.50" font-size="7.6" text-anchor="start" fill="#231f20" stroke="#231f20" stroke-width="0.16" letter-spacing="0" transform="matrix(1 0 0 1.12 0 -58.260)">3′</text>
<text x="193.90" y="494.60" font-size="7.6" text-anchor="start" fill="#231f20" stroke="#231f20" stroke-width="0.16" letter-spacing="0" transform="matrix(1 0 0 1.12 0 -59.352)">5′</text>
<line x1="137.80" y1="482.80" x2="148.60" y2="482.80" stroke="#231f20" stroke-width="0.6" stroke-dasharray="2.2,1.6"/>
<line x1="181.60" y1="482.80" x2="192.00" y2="482.80" stroke="#231f20" stroke-width="0.6" stroke-dasharray="2.2,1.6"/>
<line x1="137.80" y1="492.20" x2="148.60" y2="492.20" stroke="#231f20" stroke-width="0.6" stroke-dasharray="2.2,1.6"/>
<line x1="181.60" y1="492.20" x2="192.00" y2="492.20" stroke="#231f20" stroke-width="0.6" stroke-dasharray="2.2,1.6"/>
<line x1="155.30" y1="484.00" x2="155.30" y2="491.00" stroke="#e4384e" stroke-width="0.5"/>
<line x1="158.10" y1="484.00" x2="158.10" y2="491.00" stroke="#e4384e" stroke-width="0.5"/>
<line x1="160.90" y1="484.00" x2="160.90" y2="491.00" stroke="#e4384e" stroke-width="0.5"/>
<line x1="163.70" y1="484.00" x2="163.70" y2="491.00" stroke="#e4384e" stroke-width="0.5"/>
<line x1="166.50" y1="484.00" x2="166.50" y2="491.00" stroke="#e4384e" stroke-width="0.5"/>
<line x1="169.30" y1="484.00" x2="169.30" y2="491.00" stroke="#e4384e" stroke-width="0.5"/>
<line x1="172.10" y1="484.00" x2="172.10" y2="491.00" stroke="#e4384e" stroke-width="0.5"/>
<line x1="174.90" y1="484.00" x2="174.90" y2="491.00" stroke="#e4384e" stroke-width="0.5"/>
<path d="M149.2,481.4 L179.0,481.4 L181.0,482.8 L179.0,484.2 L149.2,484.2 Z" fill="#2b3a8e" stroke="none" stroke-width="0"/>
<path d="M149.2,492.2 L151.2,490.8 L181.0,490.8 L181.0,493.6 L151.2,493.6 Z" fill="#2b3a8e" stroke="none" stroke-width="0"/>
<text x="165.80" y="501.60" font-size="7.6" text-anchor="middle" fill="#231f20" stroke="#231f20" stroke-width="0.16" letter-spacing="0.1" transform="matrix(1 0 0 1.12 0 -60.192)">4.7 kb</text>
<text x="375.70" y="359.30" font-size="7.6" text-anchor="start" fill="#231f20" stroke="#231f20" stroke-width="0.16" letter-spacing="0.1" transform="matrix(1 0 0 1.12 0 -43.116)">U1 locus (de novo intergenic RNA)</text>
<text x="639.60" y="359.30" font-size="7.6" text-anchor="end" fill="#231f20" stroke="#231f20" stroke-width="0.16" letter-spacing="0.1" transform="matrix(1 0 0 1.12 0 -43.116)">2.5 kb</text>
<line x1="373.40" y1="362.50" x2="641.80" y2="362.50" stroke="#555555" stroke-width="0.9"/>
<line x1="373.70" y1="360.60" x2="373.70" y2="364.20" stroke="#231f20" stroke-width="0.6"/>
<line x1="641.50" y1="360.60" x2="641.50" y2="364.20" stroke="#231f20" stroke-width="0.6"/>
<rect x="462.20" y="370.70" width="6.70" height="101.80" fill="#fae196" stroke="none" stroke-width="0"/>
<rect x="544.10" y="370.70" width="6.60" height="101.80" fill="#fae196" stroke="none" stroke-width="0"/>
<text x="388.30" y="371.60" font-size="7.6" text-anchor="start" fill="#231f20" stroke="#231f20" stroke-width="0.16" letter-spacing="0.1" font-style="italic" transform="matrix(1 0 0 1.12 0 -44.592)">U1</text>
<line x1="399.70" y1="374.50" x2="385.80" y2="374.50" stroke="#231f20" stroke-width="0.85"/>
<path d="M383.00,374.50 L387.00,372.80 L386.00,374.50 L387.00,376.20 Z" fill="#231f20" stroke="none" stroke-width="0"/>
<rect x="382.20" y="376.80" width="17.50" height="4.00" fill="#2b3a8e" stroke="none" stroke-width="0"/>
<path d="M386.12,377.52 L384.12,378.80 L386.12,380.08" fill="none" stroke="#ffffff" stroke-width="0.6"/>
<path d="M391.95,377.52 L389.95,378.80 L391.95,380.08" fill="none" stroke="#ffffff" stroke-width="0.6"/>
<path d="M397.78,377.52 L395.78,378.80 L397.78,380.08" fill="none" stroke="#ffffff" stroke-width="0.6"/>
<text x="615.80" y="372.30" font-size="7.6" text-anchor="start" fill="#231f20" stroke="#231f20" stroke-width="0.16" letter-spacing="0.1" font-style="italic" transform="matrix(1 0 0 1.12 0 -44.676)">U1</text>
<line x1="615.80" y1="373.50" x2="629.60" y2="373.50" stroke="#231f20" stroke-width="0.85"/>
<path d="M632.40,373.50 L628.40,371.80 L629.40,373.50 L628.40,375.20 Z" fill="#231f20" stroke="none" stroke-width="0"/>
<rect x="615.50" y="376.80" width="17.50" height="4.00" fill="#2b3a8e" stroke="none" stroke-width="0"/>
<path d="M617.42,377.52 L619.42,378.80 L617.42,380.08" fill="none" stroke="#ffffff" stroke-width="0.6"/>
<path d="M623.25,377.52 L625.25,378.80 L623.25,380.08" fill="none" stroke="#ffffff" stroke-width="0.6"/>
<path d="M629.08,377.52 L631.08,378.80 L629.08,380.08" fill="none" stroke="#ffffff" stroke-width="0.6"/>
<text x="445.00" y="371.60" font-size="7.9" text-anchor="start" fill="#231f20" stroke="#231f20" stroke-width="0.16" letter-spacing="0.1" transform="matrix(1 0 0 1.12 0 -44.592)">HSV1-induced de novo transcript</text>
<path d="M450.5,375.0 C456,373.8 462,373.5 470,373.5 L563.2,373.5 A1.15,1.15 0 0 1 563.2,375.8 L470,375.8 C462,375.8 456,375.5 450.5,375.0 Z" fill="#2b3a8e" stroke="none" stroke-width="0"/>
<line x1="564.20" y1="378.50" x2="546.00" y2="378.50" stroke="#231f20" stroke-width="0.85"/>
<path d="M543.20,378.50 L547.20,376.80 L546.20,378.50 L547.20,380.20 Z" fill="#231f20" stroke="none" stroke-width="0"/>
<line x1="468.90" y1="383.40" x2="544.10" y2="383.40" stroke="#9a9a9a" stroke-width="0.45"/>
<rect x="462.60" y="382.20" width="6.20" height="2.40" fill="#3549a6" stroke="none" stroke-width="0"/>
<rect x="544.40" y="382.20" width="6.20" height="2.40" fill="#3549a6" stroke="none" stroke-width="0"/>
<text x="466.10" y="392.80" font-size="7.9" text-anchor="start" fill="#231f20" stroke="#231f20" stroke-width="0.16" letter-spacing="0.1" transform="matrix(1 0 0 1.12 0 -47.136)">Fold-back sequences</text>
<rect x="382.20" y="394.30" width="16.60" height="7.90" fill="#36883c" stroke="none" stroke-width="0"/>
<line x1="382.20" y1="402.20" x2="398.80" y2="402.20" stroke="#231f20" stroke-width="0.6"/>
<rect x="615.50" y="385.20" width="16.40" height="9.10" fill="#36883c" stroke="none" stroke-width="0"/>
<line x1="615.50" y1="385.20" x2="631.90" y2="385.20" stroke="#231f20" stroke-width="0.6"/>
<rect x="382.20" y="413.60" width="16.60" height="7.50" fill="#f4a11e" stroke="none" stroke-width="0"/>
<line x1="382.20" y1="421.10" x2="398.80" y2="421.10" stroke="#231f20" stroke-width="0.6"/>
<rect x="615.50" y="404.50" width="16.40" height="9.10" fill="#f4a11e" stroke="none" stroke-width="0"/>
<line x1="615.50" y1="404.50" x2="631.90" y2="404.50" stroke="#231f20" stroke-width="0.6"/>
<path d="M631.9,413.6 L631.9,411.6 L634.4,412.4 L634.4,413.6Z" fill="#f4a11e" stroke="none" stroke-width="0"/>
<rect x="382.20" y="434.30" width="16.60" height="8.20" fill="#36883c" stroke="none" stroke-width="0"/>
<line x1="382.20" y1="442.50" x2="398.80" y2="442.50" stroke="#231f20" stroke-width="0.6"/>
<rect x="615.50" y="426.40" width="16.40" height="7.90" fill="#36883c" stroke="none" stroke-width="0"/>
<line x1="615.50" y1="426.40" x2="631.90" y2="426.40" stroke="#231f20" stroke-width="0.6"/>
<rect x="382.20" y="453.20" width="16.60" height="8.80" fill="#8e2a8f" stroke="none" stroke-width="0"/>
<line x1="382.20" y1="462.00" x2="398.80" y2="462.00" stroke="#231f20" stroke-width="0.6"/>
<rect x="615.50" y="445.70" width="16.40" height="7.50" fill="#8e2a8f" stroke="none" stroke-width="0"/>
<line x1="615.50" y1="445.70" x2="631.90" y2="445.70" stroke="#231f20" stroke-width="0.6"/>
<rect x="382.20" y="472.50" width="16.60" height="8.70" fill="#f4a11e" stroke="none" stroke-width="0"/>
<line x1="382.20" y1="481.20" x2="398.80" y2="481.20" stroke="#231f20" stroke-width="0.6"/>
<rect x="615.50" y="464.60" width="16.40" height="7.90" fill="#f4a11e" stroke="none" stroke-width="0"/>
<line x1="615.50" y1="464.60" x2="631.90" y2="464.60" stroke="#231f20" stroke-width="0.6"/>
<path d="M373.4,434.3 L376,433.0 L382.2,433.6 L382.2,434.3Z" fill="#36883c" stroke="none" stroke-width="0"/>
<path d="M631.9,434.3 L632,433.5 L640,434.0 L640,434.3Z" fill="#36883c" stroke="none" stroke-width="0"/>
<path d="M373.40,434.30L373.4 434.3L373.9 434.3L374.4 434.3L374.9 434.3L375.4 434.3L375.9 434.3L376.4 434.3L376.9 434.3L377.4 434.3L377.9 434.3L378.4 434.3L378.9 434.3L379.4 434.3L379.9 434.3L380.4 434.3L380.9 434.3L381.4 434.3L381.9 434.3L382.4 434.3L382.9 434.3L383.4 434.3L383.9 434.3L384.4 434.3L384.9 434.3L385.4 434.3L385.9 434.3L386.4 434.3L386.9 434.3L387.4 434.3L387.9 434.3L388.4 434.3L388.9 434.3L389.4 434.3L389.9 434.3L390.4 434.3L390.9 434.3L391.4 434.3L391.9 434.3L392.4 434.3L392.9 434.3L393.4 434.3L393.9 434.3L394.4 434.3L394.9 434.3L395.4 434.3L395.9 434.3L396.4 434.3L396.9 434.3L397.4 434.3L397.9 434.3L398.4 434.3L398.9 434.3L399.4 434.3L399.9 434.3L400.4 434.3L400.9 434.3L401.4 434.3L401.9 434.3L402.4 434.3L402.9 434.3L403.4 434.3L403.9 434.3L404.4 434.3L404.9 434.3L405.4 434.3L405.9 434.3L406.4 434.3L406.9 434.3L407.4 434.3L407.9 434.3L408.4 434.3L408.9 434.3L409.4 434.3L409.9 434.3L410.4 434.3L410.9 434.3L411.4 434.3L411.9 434.3L412.4 434.3L412.9 434.3L413.4 434.3L413.9 434.3L414.4 434.3L414.9 434.3L415.4 434.3L415.9 434.3L416.4 434.3L416.9 434.3L417.4 434.3L417.9 434.3L418.4 434.3L418.9 434.3L419.4 434.3L419.9 434.3L420.4 434.3L420.9 434.3L421.4 434.3L421.9 434.3L422.4 434.3L422.9 434.3L423.4 434.3L423.9 434.3L424.4 434.3L424.9 434.3L425.4 434.3L425.9 434.3L426.4 434.3L426.9 434.3L427.4 434.3L427.9 434.3L428.4 434.3L428.9 434.3L429.4 434.3L429.9 434.3L430.4 434.3L430.9 434.3L431.4 434.3L431.9 434.3L432.4 434.3L432.9 434.3L433.4 434.3L433.9 434.3L434.4 434.3L434.9 434.3L435.4 434.3L435.9 434.3L436.4 434.3L436.9 434.3L437.4 434.3L437.9 434.3L438.4 434.3L438.9 434.3L439.4 434.3L439.9 434.3L440.4 434.3L440.9 434.3L441.4 434.3L441.9 434.3L442.4 434.3L442.9 434.3L443.4 434.3L443.9 434.3L444.4 434.3L444.9 434.3L445.4 434.3L445.9 434.3L446.4 434.3L446.9 434.3L447.4 434.3L447.9 434.3L448.4 434.3L448.9 434.3L449.4 434.4L449.9 434.5L450.4 434.6L450.9 434.8L451.4 434.9L451.9 435.0L452.4 435.1L452.9 435.2L453.4 435.4L453.9 435.5L454.4 435.6L454.9 435.8L455.4 436.0L455.9 436.2L456.4 436.4L456.9 436.5L457.4 436.7L457.9 436.9L458.4 437.1L458.9 437.3L459.4 437.4L459.9 437.5L460.4 437.7L460.9 437.8L461.4 437.9L461.9 438.1L462.4 438.2L462.9 438.3L463.4 438.4L463.9 438.6L464.4 438.6L464.9 438.7L465.4 438.7L465.9 438.7L466.4 438.8L466.9 438.8L467.4 438.9L467.9 438.9L468.4 438.9L468.9 438.8L469.4 438.8L469.9 438.7L470.4 438.7L470.9 438.6L471.4 438.6L471.9 438.5L472.4 438.5L472.9 438.4L473.4 438.4L473.9 438.3L474.4 438.3L474.9 438.2L475.4 438.1L475.9 438.1L476.4 438.0L476.9 438.0L477.4 437.9L477.9 437.9L478.4 437.8L478.9 437.8L479.4 437.7L479.9 437.7L480.4 437.6L480.9 437.5L481.4 437.5L481.9 437.4L482.4 437.4L482.9 437.3L483.4 437.3L483.9 437.2L484.4 437.2L484.9 437.1L485.4 437.1L485.9 437.0L486.4 437.0L486.9 436.9L487.4 436.9L487.9 436.9L488.4 436.8L488.9 436.8L489.4 436.7L489.9 436.7L490.4 436.7L490.9 436.6L491.4 436.6L491.9 436.5L492.4 436.5L492.9 436.5L493.4 436.4L493.9 436.4L494.4 436.3L494.9 436.3L495.4 436.3L495.9 436.2L496.4 436.2L496.9 436.1L497.4 436.1L497.9 436.1L498.4 436.0L498.9 436.0L499.4 435.9L499.9 435.9L500.4 435.9L500.9 435.8L501.4 435.8L501.9 435.8L502.4 435.8L502.9 435.7L503.4 435.7L503.9 435.7L504.4 435.6L504.9 435.6L505.4 435.6L505.9 435.5L506.4 435.5L506.9 435.5L507.4 435.5L507.9 435.4L508.4 435.4L508.9 435.4L509.4 435.3L509.9 435.3L510.4 435.3L510.9 435.2L511.4 435.2L511.9 435.2L512.4 435.2L512.9 435.1L513.4 435.1L513.9 435.1L514.4 435.0L514.9 435.0L515.4 435.0L515.9 435.0L516.4 435.0L516.9 435.0L517.4 435.0L517.9 435.0L518.4 435.0L518.9 434.9L519.4 434.9L519.9 434.9L520.4 434.9L520.9 434.9L521.4 434.9L521.9 434.9L522.4 434.9L522.9 435.0L523.4 435.1L523.9 435.1L524.4 435.2L524.9 435.3L525.4 435.3L525.9 435.4L526.4 435.4L526.9 435.5L527.4 435.6L527.9 435.6L528.4 435.7L528.9 435.8L529.4 435.8L529.9 435.9L530.4 436.0L530.9 436.1L531.4 436.2L531.9 436.3L532.4 436.4L532.9 436.5L533.4 436.6L533.9 436.7L534.4 436.8L534.9 436.9L535.4 437.0L535.9 437.1L536.4 437.2L536.9 437.3L537.4 437.4L537.9 437.5L538.4 437.6L538.9 437.7L539.4 437.7L539.9 437.8L540.4 437.9L540.9 438.0L541.4 438.1L541.9 438.2L542.4 438.3L542.9 438.3L543.4 438.4L543.9 438.5L544.4 438.6L544.9 438.7L545.4 438.7L545.9 438.7L546.4 438.7L546.9 438.7L547.4 438.8L547.9 438.8L548.4 438.8L548.9 438.8L549.4 438.7L549.9 438.6L550.4 438.5L550.9 438.5L551.4 438.4L551.9 438.3L552.4 438.2L552.9 438.1L553.4 438.0L553.9 437.9L554.4 437.7L554.9 437.5L555.4 437.3L555.9 437.1L556.4 436.9L556.9 436.7L557.4 436.5L557.9 436.3L558.4 436.1L558.9 435.9L559.4 435.7L559.9 435.5L560.4 435.3L560.9 435.0L561.4 434.8L561.9 434.6L562.4 434.3L562.9 434.3L563.4 434.3L563.9 434.3L564.4 434.3L564.9 434.3L565.4 434.3L565.9 434.3L566.4 434.3L566.9 434.3L567.4 434.3L567.9 434.3L568.4 434.3L568.9 434.3L569.4 434.3L569.9 434.3L570.4 434.3L570.9 434.3L571.4 434.3L571.9 434.3L572.4 434.3L572.9 434.3L573.4 434.3L573.9 434.3L574.4 434.3L574.9 434.3L575.4 434.3L575.9 434.3L576.4 434.3L576.9 434.3L577.4 434.3L577.9 434.3L578.4 434.3L578.9 434.3L579.4 434.3L579.9 434.3L580.4 434.3L580.9 434.3L581.4 434.3L581.9 434.3L582.4 434.3L582.9 434.3L583.4 434.3L583.9 434.3L584.4 434.3L584.9 434.3L585.4 434.3L585.9 434.3L586.4 434.3L586.9 434.3L587.4 434.3L587.9 434.3L588.4 434.3L588.9 434.3L589.4 434.3L589.9 434.3L590.4 434.3L590.9 434.3L591.4 434.3L591.9 434.3L592.4 434.3L592.9 434.3L593.4 434.3L593.9 434.3L594.4 434.3L594.9 434.3L595.4 434.3L595.9 434.3L596.4 434.3L596.9 434.3L597.4 434.3L597.9 434.3L598.4 434.3L598.9 434.3L599.4 434.3L599.9 434.3L600.4 434.3L600.9 434.3L601.4 434.3L601.9 434.3L602.4 434.3L602.9 434.3L603.4 434.3L603.9 434.3L604.4 434.3L604.9 434.3L605.4 434.3L605.9 434.3L606.4 434.3L606.9 434.3L607.4 434.3L607.9 434.3L608.4 434.3L608.9 434.3L609.4 434.3L609.9 434.3L610.4 434.3L610.9 434.3L611.4 434.3L611.9 434.3L612.4 434.3L612.9 434.3L613.4 434.3L613.9 434.3L614.4 434.3L614.9 434.3L615.4 434.3L615.9 434.3L616.4 434.3L616.9 434.3L617.4 434.3L617.9 434.3L618.4 434.3L618.9 434.3L619.4 434.3L619.9 434.3L620.4 434.3L620.9 434.3L621.4 434.3L621.9 434.3L622.4 434.3L622.9 434.3L623.4 434.3L623.9 434.3L624.4 434.3L624.9 434.3L625.4 434.3L625.9 434.3L626.4 434.3L626.9 434.3L627.4 434.3L627.9 434.3L628.4 434.3L628.9 434.3L629.4 434.3L629.9 434.3L630.4 434.3L630.9 434.3L631.4 434.3L631.9 434.3L632.4 434.3L632.9 434.3L633.4 434.3L633.9 434.3L634.4 434.3L634.9 434.3L635.4 434.3L635.9 434.3L636.4 434.3L636.9 434.3L637.4 434.3L637.9 434.3L638.4 434.3L638.9 434.3L639.4 434.3L639.9 434.3L640.4 434.3L640.9 434.3L641.4 434.3L641.80,434.30Z" fill="#36883c" stroke="none" stroke-width="0"/>
<path d="M373.40,453.20L373.4 453.2L373.9 453.2L374.4 453.2L374.9 453.2L375.4 453.2L375.9 453.2L376.4 453.2L376.9 453.2L377.4 453.2L377.9 453.2L378.4 453.2L378.9 453.2L379.4 453.2L379.9 453.2L380.4 453.2L380.9 453.2L381.4 453.2L381.9 453.2L382.4 453.2L382.9 453.2L383.4 453.2L383.9 453.2L384.4 453.2L384.9 453.2L385.4 453.2L385.9 453.2L386.4 453.2L386.9 453.2L387.4 453.2L387.9 453.2L388.4 453.2L388.9 453.2L389.4 453.2L389.9 453.2L390.4 453.2L390.9 453.2L391.4 453.2L391.9 453.2L392.4 453.2L392.9 453.2L393.4 453.2L393.9 453.2L394.4 453.2L394.9 453.2L395.4 453.2L395.9 453.2L396.4 453.2L396.9 453.2L397.4 453.2L397.9 453.2L398.4 453.2L398.9 453.2L399.4 453.2L399.9 453.2L400.4 453.2L400.9 453.2L401.4 453.2L401.9 453.2L402.4 453.2L402.9 453.2L403.4 453.2L403.9 453.2L404.4 453.2L404.9 453.2L405.4 453.2L405.9 453.2L406.4 453.2L406.9 453.2L407.4 453.2L407.9 453.2L408.4 453.2L408.9 453.2L409.4 453.2L409.9 453.2L410.4 453.2L410.9 453.2L411.4 453.2L411.9 453.2L412.4 453.2L412.9 453.2L413.4 453.2L413.9 453.2L414.4 453.2L414.9 453.2L415.4 453.2L415.9 453.2L416.4 453.2L416.9 453.2L417.4 453.2L417.9 453.2L418.4 453.2L418.9 453.2L419.4 453.2L419.9 453.2L420.4 453.2L420.9 453.2L421.4 453.2L421.9 453.2L422.4 453.2L422.9 453.2L423.4 453.2L423.9 453.2L424.4 453.2L424.9 453.2L425.4 453.2L425.9 453.2L426.4 453.2L426.9 453.2L427.4 453.2L427.9 453.2L428.4 453.2L428.9 453.2L429.4 453.2L429.9 453.2L430.4 453.2L430.9 453.2L431.4 453.2L431.9 453.2L432.4 453.2L432.9 453.2L433.4 453.2L433.9 453.2L434.4 453.2L434.9 453.2L435.4 453.2L435.9 453.2L436.4 453.2L436.9 453.2L437.4 453.2L437.9 453.2L438.4 453.2L438.9 453.2L439.4 453.2L439.9 453.2L440.4 453.2L440.9 453.2L441.4 453.2L441.9 453.2L442.4 453.2L442.9 453.2L443.4 453.2L443.9 453.2L444.4 453.2L444.9 453.2L445.4 453.2L445.9 453.2L446.4 453.2L446.9 453.2L447.4 453.2L447.9 453.2L448.4 453.2L448.9 453.2L449.4 453.3L449.9 453.3L450.4 453.4L450.9 453.5L451.4 453.6L451.9 453.7L452.4 453.8L452.9 453.8L453.4 453.9L453.9 454.0L454.4 454.1L454.9 454.2L455.4 454.3L455.9 454.4L456.4 454.5L456.9 454.6L457.4 454.7L457.9 454.9L458.4 455.0L458.9 455.1L459.4 455.2L459.9 455.3L460.4 455.4L460.9 455.5L461.4 455.7L461.9 455.8L462.4 455.9L462.9 455.9L463.4 456.0L463.9 456.1L464.4 456.1L464.9 456.2L465.4 456.3L465.9 456.3L466.4 456.4L466.9 456.5L467.4 456.5L467.9 456.4L468.4 456.4L468.9 456.4L469.4 456.4L469.9 456.3L470.4 456.3L470.9 456.3L471.4 456.2L471.9 456.2L472.4 456.2L472.9 456.1L473.4 456.1L473.9 456.1L474.4 456.0L474.9 456.0L475.4 455.9L475.9 455.9L476.4 455.9L476.9 455.8L477.4 455.8L477.9 455.7L478.4 455.7L478.9 455.7L479.4 455.6L479.9 455.6L480.4 455.6L480.9 455.5L481.4 455.5L481.9 455.4L482.4 455.4L482.9 455.4L483.4 455.3L483.9 455.3L484.4 455.2L484.9 455.2L485.4 455.2L485.9 455.2L486.4 455.1L486.9 455.1L487.4 455.1L487.9 455.0L488.4 455.0L488.9 455.0L489.4 455.0L489.9 454.9L490.4 454.9L490.9 454.9L491.4 454.9L491.9 454.8L492.4 454.8L492.9 454.8L493.4 454.8L493.9 454.7L494.4 454.7L494.9 454.7L495.4 454.6L495.9 454.6L496.4 454.6L496.9 454.6L497.4 454.5L497.9 454.5L498.4 454.5L498.9 454.5L499.4 454.4L499.9 454.4L500.4 454.4L500.9 454.4L501.4 454.3L501.9 454.3L502.4 454.3L502.9 454.3L503.4 454.2L503.9 454.2L504.4 454.2L504.9 454.2L505.4 454.1L505.9 454.1L506.4 454.1L506.9 454.1L507.4 454.1L507.9 454.0L508.4 454.0L508.9 454.0L509.4 454.0L509.9 453.9L510.4 453.9L510.9 453.9L511.4 453.9L511.9 453.8L512.4 453.8L512.9 453.8L513.4 453.8L513.9 453.8L514.4 453.7L514.9 453.7L515.4 453.7L515.9 453.7L516.4 453.7L516.9 453.7L517.4 453.7L517.9 453.7L518.4 453.7L518.9 453.6L519.4 453.6L519.9 453.6L520.4 453.6L520.9 453.6L521.4 453.6L521.9 453.6L522.4 453.6L522.9 453.7L523.4 453.7L523.9 453.7L524.4 453.7L524.9 453.8L525.4 453.8L525.9 453.8L526.4 453.9L526.9 453.9L527.4 453.9L527.9 454.0L528.4 454.0L528.9 454.0L529.4 454.0L529.9 454.1L530.4 454.1L530.9 454.1L531.4 454.2L531.9 454.2L532.4 454.2L532.9 454.3L533.4 454.4L533.9 454.4L534.4 454.5L534.9 454.6L535.4 454.6L535.9 454.7L536.4 454.8L536.9 454.8L537.4 454.9L537.9 454.9L538.4 455.0L538.9 455.1L539.4 455.1L539.9 455.2L540.4 455.2L540.9 455.3L541.4 455.3L541.9 455.4L542.4 455.4L542.9 455.4L543.4 455.5L543.9 455.5L544.4 455.6L544.9 455.6L545.4 455.7L545.9 455.7L546.4 455.7L546.9 455.8L547.4 455.8L547.9 455.7L548.4 455.6L548.9 455.6L549.4 455.5L549.9 455.5L550.4 455.4L550.9 455.3L551.4 455.3L551.9 455.2L552.4 455.1L552.9 455.0L553.4 454.9L553.9 454.8L554.4 454.7L554.9 454.6L555.4 454.5L555.9 454.4L556.4 454.3L556.9 454.2L557.4 454.1L557.9 454.0L558.4 453.9L558.9 453.8L559.4 453.6L559.9 453.5L560.4 453.4L560.9 453.2L561.4 453.2L561.9 453.2L562.4 453.2L562.9 453.2L563.4 453.2L563.9 453.2L564.4 453.2L564.9 453.2L565.4 453.2L565.9 453.2L566.4 453.2L566.9 453.2L567.4 453.2L567.9 453.2L568.4 453.2L568.9 453.2L569.4 453.2L569.9 453.2L570.4 453.2L570.9 453.2L571.4 453.2L571.9 453.2L572.4 453.2L572.9 453.2L573.4 453.2L573.9 453.2L574.4 453.2L574.9 453.2L575.4 453.2L575.9 453.2L576.4 453.2L576.9 453.2L577.4 453.2L577.9 453.2L578.4 453.2L578.9 453.2L579.4 453.2L579.9 453.2L580.4 453.2L580.9 453.2L581.4 453.2L581.9 453.2L582.4 453.2L582.9 453.2L583.4 453.2L583.9 453.2L584.4 453.2L584.9 453.2L585.4 453.2L585.9 453.2L586.4 453.2L586.9 453.2L587.4 453.2L587.9 453.2L588.4 453.2L588.9 453.2L589.4 453.2L589.9 453.2L590.4 453.2L590.9 453.2L591.4 453.2L591.9 453.2L592.4 453.2L592.9 453.2L593.4 453.2L593.9 453.2L594.4 453.2L594.9 453.2L595.4 453.2L595.9 453.2L596.4 453.2L596.9 453.2L597.4 453.2L597.9 453.2L598.4 453.2L598.9 453.2L599.4 453.2L599.9 453.2L600.4 453.2L600.9 453.2L601.4 453.2L601.9 453.2L602.4 453.2L602.9 453.2L603.4 453.2L603.9 453.2L604.4 453.2L604.9 453.2L605.4 453.2L605.9 453.2L606.4 453.2L606.9 453.2L607.4 453.2L607.9 453.2L608.4 453.2L608.9 453.2L609.4 453.2L609.9 453.2L610.4 453.2L610.9 453.2L611.4 453.2L611.9 453.2L612.4 453.2L612.9 453.2L613.4 453.2L613.9 453.2L614.4 453.2L614.9 453.2L615.4 453.2L615.9 453.2L616.4 453.2L616.9 453.2L617.4 453.2L617.9 453.2L618.4 453.2L618.9 453.2L619.4 453.2L619.9 453.2L620.4 453.2L620.9 453.2L621.4 453.2L621.9 453.2L622.4 453.2L622.9 453.2L623.4 453.2L623.9 453.2L624.4 453.2L624.9 453.2L625.4 453.2L625.9 453.2L626.4 453.2L626.9 453.2L627.4 453.2L627.9 453.2L628.4 453.2L628.9 453.2L629.4 453.2L629.9 453.2L630.4 453.2L630.9 453.2L631.4 453.2L631.9 453.2L632.4 453.2L632.9 453.2L633.4 453.2L633.9 453.2L634.4 453.2L634.9 453.2L635.4 453.2L635.9 453.2L636.4 453.2L636.9 453.2L637.4 453.2L637.9 453.2L638.4 453.2L638.9 453.2L639.4 453.2L639.9 453.2L640.4 453.2L640.9 453.2L641.4 453.2L641.80,453.20Z" fill="#8e2a8f" stroke="none" stroke-width="0"/>
<line x1="373.40" y1="394.30" x2="641.80" y2="394.30" stroke="#8a9a8a" stroke-width="0.7"/>
<line x1="373.40" y1="413.60" x2="641.80" y2="413.60" stroke="#9a7a50" stroke-width="0.7"/>
<line x1="373.40" y1="434.30" x2="641.80" y2="434.30" stroke="#2a4a2e" stroke-width="0.75"/>
<line x1="373.40" y1="453.20" x2="641.80" y2="453.20" stroke="#4a2a4e" stroke-width="0.75"/>
<line x1="373.40" y1="472.50" x2="641.80" y2="472.50" stroke="#9a9a9a" stroke-width="0.9"/>
<path d="M562.5,434.5 L562.5,442.2 L557.0,442.2" fill="none" stroke="#231f20" stroke-width="0.6"/>
<path d="M554.6,442.2 L557.2,441.0 L557.2,443.4Z" fill="#231f20" stroke="none" stroke-width="0"/>
<line x1="455.70" y1="441.10" x2="460.00" y2="441.10" stroke="#e5202e" stroke-width="0.6"/>
<line x1="462.50" y1="441.60" x2="468.00" y2="441.60" stroke="#e5202e" stroke-width="0.6"/>
<text x="650.00" y="395.30" font-size="7.6" text-anchor="start" fill="#231f20" stroke="#231f20" stroke-width="0.16" letter-spacing="0.1" transform="matrix(1 0 0 1.12 0 -47.436)">Z22 RIP</text>
<text x="650.00" y="414.50" font-size="7.6" text-anchor="start" fill="#231f20" stroke="#231f20" stroke-width="0.16" letter-spacing="0.1" transform="matrix(1 0 0 1.12 0 -49.740)">Total RNA</text>
<text x="650.00" y="436.10" font-size="7.6" text-anchor="start" fill="#231f20" stroke="#231f20" stroke-width="0.16" letter-spacing="0.1" transform="matrix(1 0 0 1.12 0 -52.332)">Z22 RIP</text>
<text x="650.00" y="455.40" font-size="7.6" text-anchor="start" fill="#231f20" stroke="#231f20" stroke-width="0.16" letter-spacing="0.1" transform="matrix(1 0 0 1.12 0 -54.648)">Flag RIP</text>
<text x="650.00" y="474.60" font-size="7.6" text-anchor="start" fill="#231f20" stroke="#231f20" stroke-width="0.16" letter-spacing="0.1" transform="matrix(1 0 0 1.12 0 -56.952)">Total RNA</text>
<text x="640.80" y="401.90" font-size="7.6" text-anchor="end" fill="#231f20" stroke="#231f20" stroke-width="0.16" letter-spacing="0.1" transform="matrix(1 0 0 1.12 0 -48.228)">[0–15]</text>
<text x="640.80" y="421.20" font-size="7.6" text-anchor="end" fill="#231f20" stroke="#231f20" stroke-width="0.16" letter-spacing="0.1" transform="matrix(1 0 0 1.12 0 -50.544)">[0–15]</text>
<text x="640.80" y="442.60" font-size="7.6" text-anchor="end" fill="#231f20" stroke="#231f20" stroke-width="0.16" letter-spacing="0.1" transform="matrix(1 0 0 1.12 0 -53.112)">[0–15]</text>
<text x="640.80" y="461.50" font-size="7.6" text-anchor="end" fill="#231f20" stroke="#231f20" stroke-width="0.16" letter-spacing="0.1" transform="matrix(1 0 0 1.12 0 -55.380)">[0–15]</text>
<text x="640.80" y="480.80" font-size="7.6" text-anchor="end" fill="#231f20" stroke="#231f20" stroke-width="0.16" letter-spacing="0.1" transform="matrix(1 0 0 1.12 0 -57.696)">[0–15]</text>
<line x1="646.00" y1="384.30" x2="646.00" y2="482.10" stroke="#231f20" stroke-width="0.6"/>
<line x1="644.20" y1="384.30" x2="646.00" y2="384.30" stroke="#231f20" stroke-width="0.6"/>
<line x1="644.20" y1="403.50" x2="646.00" y2="403.50" stroke="#231f20" stroke-width="0.6"/>
<line x1="644.20" y1="422.90" x2="646.00" y2="422.90" stroke="#231f20" stroke-width="0.6"/>
<line x1="644.20" y1="443.90" x2="646.00" y2="443.90" stroke="#231f20" stroke-width="0.6"/>
<line x1="644.20" y1="463.20" x2="646.00" y2="463.20" stroke="#231f20" stroke-width="0.6"/>
<line x1="644.20" y1="482.10" x2="646.00" y2="482.10" stroke="#231f20" stroke-width="0.6"/>
<text x="368.30" y="403.00" font-size="7.6" text-anchor="middle" fill="#231f20" stroke="#231f20" stroke-width="0.16" letter-spacing="0.15" transform="rotate(-90 368.30 403.00) matrix(1 0 0 1.12 0 -48.360)">Mock</text>
<line x1="370.80" y1="387.30" x2="370.80" y2="419.00" stroke="#6a6a6a" stroke-width="0.6"/>
<text x="368.30" y="452.70" font-size="7.6" text-anchor="middle" fill="#231f20" stroke="#231f20" stroke-width="0.16" letter-spacing="0.15" transform="rotate(-90 368.30 452.70) matrix(1 0 0 1.12 0 -54.324)">HSV-1</text>
<line x1="370.80" y1="428.10" x2="370.80" y2="476.30" stroke="#6a6a6a" stroke-width="0.6"/>
<text x="460.00" y="487.80" font-size="7.6" text-anchor="start" fill="#231f20" stroke="#231f20" stroke-width="0.16" letter-spacing="0.1" transform="matrix(1 0 0 1.12 0 -58.536)">Z-RNA</text>
<text x="487.20" y="484.00" font-size="7.6" text-anchor="start" fill="#231f20" stroke="#231f20" stroke-width="0.16" letter-spacing="0" transform="matrix(1 0 0 1.12 0 -58.080)">5′</text>
<text x="487.20" y="493.10" font-size="7.6" text-anchor="start" fill="#231f20" stroke="#231f20" stroke-width="0.16" letter-spacing="0" transform="matrix(1 0 0 1.12 0 -59.172)">3′</text>
<line x1="492.60" y1="481.20" x2="500.00" y2="481.20" stroke="#231f20" stroke-width="0.6" stroke-dasharray="2,1.4"/>
<line x1="492.60" y1="490.70" x2="500.00" y2="490.70" stroke="#231f20" stroke-width="0.6" stroke-dasharray="2,1.4"/>
<line x1="502.50" y1="482.60" x2="502.50" y2="489.30" stroke="#e4384e" stroke-width="0.5"/>
<line x1="505.30" y1="482.60" x2="505.30" y2="489.30" stroke="#e4384e" stroke-width="0.5"/>
<line x1="508.10" y1="482.60" x2="508.10" y2="489.30" stroke="#e4384e" stroke-width="0.5"/>
<line x1="510.90" y1="482.60" x2="510.90" y2="489.30" stroke="#e4384e" stroke-width="0.5"/>
<line x1="513.70" y1="482.60" x2="513.70" y2="489.30" stroke="#e4384e" stroke-width="0.5"/>
<line x1="516.50" y1="482.60" x2="516.50" y2="489.30" stroke="#e4384e" stroke-width="0.5"/>
<line x1="519.30" y1="482.60" x2="519.30" y2="489.30" stroke="#e4384e" stroke-width="0.5"/>
<line x1="522.10" y1="482.60" x2="522.10" y2="489.30" stroke="#e4384e" stroke-width="0.5"/>
<line x1="524.90" y1="482.60" x2="524.90" y2="489.30" stroke="#e4384e" stroke-width="0.5"/>
<path d="M500.30,481.20 L502.90,480.00 L526.60,480.00 L529.20,481.20 L526.60,482.40 L502.90,482.40 Z" fill="#2b3a8e" stroke="#231f20" stroke-width="0.4"/>
<path d="M500.30,490.70 L502.90,489.50 L526.60,489.50 L529.20,490.70 L526.60,491.90 L502.90,491.90 Z" fill="#2b3a8e" stroke="#231f20" stroke-width="0.4"/>
<path d="M531.0,481.2 L539.5,481.2 C542,481.2 542.3,482.5 542.3,485 L542.3,487 C542.3,489.5 542,490.7 539.5,490.7 L531.0,490.7" fill="none" stroke="#231f20" stroke-width="0.6" stroke-dasharray="2.2,1.5"/>
<text x="515.80" y="498.80" font-size="7.6" text-anchor="middle" fill="#231f20" stroke="#231f20" stroke-width="0.16" letter-spacing="0.1" transform="matrix(1 0 0 1.12 0 -59.856)">80 bp</text>
</svg></body></html>
